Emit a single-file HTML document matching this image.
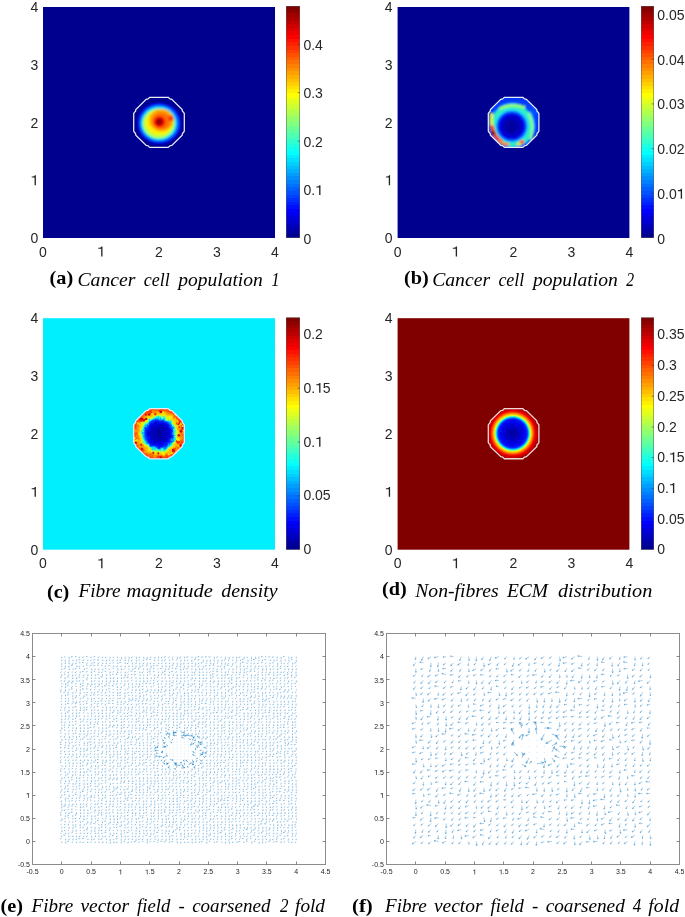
<!DOCTYPE html><html><head><meta charset="utf-8"><style>html,body{margin:0;padding:0;background:#fff;width:685px;height:917px;overflow:hidden}svg{display:block;will-change:transform}</style></head><body>
<svg width="685" height="917" viewBox="0 0 685 917">
<defs><filter id="bl12" x="-50%" y="-50%" width="200%" height="200%"><feGaussianBlur stdDeviation="1.2"/></filter><filter id="bl05" x="-50%" y="-50%" width="200%" height="200%"><feGaussianBlur stdDeviation="0.5"/></filter><filter id="bl08" x="-50%" y="-50%" width="200%" height="200%"><feGaussianBlur stdDeviation="0.8"/></filter><clipPath id="cpb"><polygon points="522.80,97.30 524.60,98.95 526.40,99.30 536.80,109.45 537.00,111.15 538.20,112.45 538.90,113.55 538.90,131.15 538.20,132.25 537.00,133.55 536.80,135.25 526.40,145.40 524.60,145.75 522.80,147.40 504.40,147.40 502.60,145.75 500.80,145.40 490.40,135.25 490.20,133.55 489.00,132.25 488.30,131.15 488.30,113.55 489.00,112.45 490.20,111.15 490.40,109.45 500.80,99.30 502.60,98.95 504.40,97.30"/></clipPath><radialGradient id="gc" gradientUnits="userSpaceOnUse" cx="159.0" cy="433.7" r="26">
<stop offset="0" stop-color="#00009a"/><stop offset="0.3" stop-color="#0000c0"/><stop offset="0.45" stop-color="#0008f0"/><stop offset="0.52" stop-color="#0030ff"/><stop offset="0.575" stop-color="#0090ff"/><stop offset="0.625" stop-color="#10f0f0"/><stop offset="0.67" stop-color="#a0ff60"/><stop offset="0.715" stop-color="#f0f000"/><stop offset="0.78" stop-color="#ffc000"/><stop offset="0.86" stop-color="#ff8800"/><stop offset="0.93" stop-color="#ff5000"/><stop offset="1" stop-color="#ff4000"/></radialGradient>
<filter id="nz" x="-20%" y="-20%" width="140%" height="140%"><feTurbulence type="fractalNoise" baseFrequency="0.22" numOctaves="2" seed="7" result="t"/><feDisplacementMap in="SourceGraphic" in2="t" scale="5" xChannelSelector="R" yChannelSelector="G"/></filter>
<clipPath id="cpc"><polygon points="168.20,408.65 170.00,410.30 171.80,410.65 182.20,420.80 182.40,422.50 183.60,423.80 184.30,424.90 184.30,442.50 183.60,443.60 182.40,444.90 182.20,446.60 171.80,456.75 170.00,457.10 168.20,458.75 149.80,458.75 148.00,457.10 146.20,456.75 135.80,446.60 135.60,444.90 134.40,443.60 133.70,442.50 133.70,424.90 134.40,423.80 135.60,422.50 135.80,420.80 146.20,410.65 148.00,410.30 149.80,408.65"/></clipPath><radialGradient id="gd" gradientUnits="userSpaceOnUse" cx="512.7" cy="433.3" r="26">
<stop offset="0" stop-color="#00009a"/><stop offset="0.15" stop-color="#0000b0"/><stop offset="0.35" stop-color="#0000d8"/><stop offset="0.5" stop-color="#0008f8"/><stop offset="0.565" stop-color="#0030ff"/><stop offset="0.595" stop-color="#0080ff"/><stop offset="0.625" stop-color="#00e0ff"/><stop offset="0.655" stop-color="#60ffa0"/><stop offset="0.685" stop-color="#d0ff30"/><stop offset="0.72" stop-color="#ffd000"/><stop offset="0.76" stop-color="#ff9000"/><stop offset="0.81" stop-color="#ff4000"/><stop offset="0.86" stop-color="#f00000"/><stop offset="0.92" stop-color="#c80000"/><stop offset="1" stop-color="#a00000"/></radialGradient>
<clipPath id="cpd"><polygon points="522.80,408.65 524.60,410.30 526.40,410.65 536.80,420.80 537.00,422.50 538.20,423.80 538.90,424.90 538.90,442.50 538.20,443.60 537.00,444.90 536.80,446.60 526.40,456.75 524.60,457.10 522.80,458.75 504.40,458.75 502.60,457.10 500.80,456.75 490.40,446.60 490.20,444.90 489.00,443.60 488.30,442.50 488.30,424.90 489.00,423.80 490.20,422.50 490.40,420.80 500.80,410.65 502.60,410.30 504.40,408.65"/></clipPath><linearGradient id="cb1" x1="0" y1="1" x2="0" y2="0"><stop offset="0.000%" stop-color="#00008f"/><stop offset="1.562%" stop-color="#00008f"/><stop offset="1.562%" stop-color="#00009f"/><stop offset="3.125%" stop-color="#00009f"/><stop offset="3.125%" stop-color="#0000af"/><stop offset="4.688%" stop-color="#0000af"/><stop offset="4.688%" stop-color="#0000bf"/><stop offset="6.250%" stop-color="#0000bf"/><stop offset="6.250%" stop-color="#0000cf"/><stop offset="7.812%" stop-color="#0000cf"/><stop offset="7.812%" stop-color="#0000df"/><stop offset="9.375%" stop-color="#0000df"/><stop offset="9.375%" stop-color="#0000ef"/><stop offset="10.938%" stop-color="#0000ef"/><stop offset="10.938%" stop-color="#0000ff"/><stop offset="12.500%" stop-color="#0000ff"/><stop offset="12.500%" stop-color="#0010ff"/><stop offset="14.062%" stop-color="#0010ff"/><stop offset="14.062%" stop-color="#0020ff"/><stop offset="15.625%" stop-color="#0020ff"/><stop offset="15.625%" stop-color="#0030ff"/><stop offset="17.188%" stop-color="#0030ff"/><stop offset="17.188%" stop-color="#0040ff"/><stop offset="18.750%" stop-color="#0040ff"/><stop offset="18.750%" stop-color="#0050ff"/><stop offset="20.312%" stop-color="#0050ff"/><stop offset="20.312%" stop-color="#0060ff"/><stop offset="21.875%" stop-color="#0060ff"/><stop offset="21.875%" stop-color="#0070ff"/><stop offset="23.438%" stop-color="#0070ff"/><stop offset="23.438%" stop-color="#0080ff"/><stop offset="25.000%" stop-color="#0080ff"/><stop offset="25.000%" stop-color="#008fff"/><stop offset="26.562%" stop-color="#008fff"/><stop offset="26.562%" stop-color="#009fff"/><stop offset="28.125%" stop-color="#009fff"/><stop offset="28.125%" stop-color="#00afff"/><stop offset="29.688%" stop-color="#00afff"/><stop offset="29.688%" stop-color="#00bfff"/><stop offset="31.250%" stop-color="#00bfff"/><stop offset="31.250%" stop-color="#00cfff"/><stop offset="32.812%" stop-color="#00cfff"/><stop offset="32.812%" stop-color="#00dfff"/><stop offset="34.375%" stop-color="#00dfff"/><stop offset="34.375%" stop-color="#00efff"/><stop offset="35.938%" stop-color="#00efff"/><stop offset="35.938%" stop-color="#00ffff"/><stop offset="37.500%" stop-color="#00ffff"/><stop offset="37.500%" stop-color="#10ffef"/><stop offset="39.062%" stop-color="#10ffef"/><stop offset="39.062%" stop-color="#20ffdf"/><stop offset="40.625%" stop-color="#20ffdf"/><stop offset="40.625%" stop-color="#30ffcf"/><stop offset="42.188%" stop-color="#30ffcf"/><stop offset="42.188%" stop-color="#40ffbf"/><stop offset="43.750%" stop-color="#40ffbf"/><stop offset="43.750%" stop-color="#50ffaf"/><stop offset="45.312%" stop-color="#50ffaf"/><stop offset="45.312%" stop-color="#60ff9f"/><stop offset="46.875%" stop-color="#60ff9f"/><stop offset="46.875%" stop-color="#70ff8f"/><stop offset="48.438%" stop-color="#70ff8f"/><stop offset="48.438%" stop-color="#80ff80"/><stop offset="50.000%" stop-color="#80ff80"/><stop offset="50.000%" stop-color="#8fff70"/><stop offset="51.562%" stop-color="#8fff70"/><stop offset="51.562%" stop-color="#9fff60"/><stop offset="53.125%" stop-color="#9fff60"/><stop offset="53.125%" stop-color="#afff50"/><stop offset="54.688%" stop-color="#afff50"/><stop offset="54.688%" stop-color="#bfff40"/><stop offset="56.250%" stop-color="#bfff40"/><stop offset="56.250%" stop-color="#cfff30"/><stop offset="57.812%" stop-color="#cfff30"/><stop offset="57.812%" stop-color="#dfff20"/><stop offset="59.375%" stop-color="#dfff20"/><stop offset="59.375%" stop-color="#efff10"/><stop offset="60.938%" stop-color="#efff10"/><stop offset="60.938%" stop-color="#ffff00"/><stop offset="62.500%" stop-color="#ffff00"/><stop offset="62.500%" stop-color="#ffef00"/><stop offset="64.062%" stop-color="#ffef00"/><stop offset="64.062%" stop-color="#ffdf00"/><stop offset="65.625%" stop-color="#ffdf00"/><stop offset="65.625%" stop-color="#ffcf00"/><stop offset="67.188%" stop-color="#ffcf00"/><stop offset="67.188%" stop-color="#ffbf00"/><stop offset="68.750%" stop-color="#ffbf00"/><stop offset="68.750%" stop-color="#ffaf00"/><stop offset="70.312%" stop-color="#ffaf00"/><stop offset="70.312%" stop-color="#ff9f00"/><stop offset="71.875%" stop-color="#ff9f00"/><stop offset="71.875%" stop-color="#ff8f00"/><stop offset="73.438%" stop-color="#ff8f00"/><stop offset="73.438%" stop-color="#ff8000"/><stop offset="75.000%" stop-color="#ff8000"/><stop offset="75.000%" stop-color="#ff7000"/><stop offset="76.562%" stop-color="#ff7000"/><stop offset="76.562%" stop-color="#ff6000"/><stop offset="78.125%" stop-color="#ff6000"/><stop offset="78.125%" stop-color="#ff5000"/><stop offset="79.688%" stop-color="#ff5000"/><stop offset="79.688%" stop-color="#ff4000"/><stop offset="81.250%" stop-color="#ff4000"/><stop offset="81.250%" stop-color="#ff3000"/><stop offset="82.812%" stop-color="#ff3000"/><stop offset="82.812%" stop-color="#ff2000"/><stop offset="84.375%" stop-color="#ff2000"/><stop offset="84.375%" stop-color="#ff1000"/><stop offset="85.938%" stop-color="#ff1000"/><stop offset="85.938%" stop-color="#ff0000"/><stop offset="87.500%" stop-color="#ff0000"/><stop offset="87.500%" stop-color="#ef0000"/><stop offset="89.062%" stop-color="#ef0000"/><stop offset="89.062%" stop-color="#df0000"/><stop offset="90.625%" stop-color="#df0000"/><stop offset="90.625%" stop-color="#cf0000"/><stop offset="92.188%" stop-color="#cf0000"/><stop offset="92.188%" stop-color="#bf0000"/><stop offset="93.750%" stop-color="#bf0000"/><stop offset="93.750%" stop-color="#af0000"/><stop offset="95.312%" stop-color="#af0000"/><stop offset="95.312%" stop-color="#9f0000"/><stop offset="96.875%" stop-color="#9f0000"/><stop offset="96.875%" stop-color="#8f0000"/><stop offset="98.438%" stop-color="#8f0000"/><stop offset="98.438%" stop-color="#800000"/><stop offset="100.000%" stop-color="#800000"/></linearGradient><linearGradient id="cb2" x1="0" y1="1" x2="0" y2="0"><stop offset="0.000%" stop-color="#00008f"/><stop offset="1.562%" stop-color="#00008f"/><stop offset="1.562%" stop-color="#00009f"/><stop offset="3.125%" stop-color="#00009f"/><stop offset="3.125%" stop-color="#0000af"/><stop offset="4.688%" stop-color="#0000af"/><stop offset="4.688%" stop-color="#0000bf"/><stop offset="6.250%" stop-color="#0000bf"/><stop offset="6.250%" stop-color="#0000cf"/><stop offset="7.812%" stop-color="#0000cf"/><stop offset="7.812%" stop-color="#0000df"/><stop offset="9.375%" stop-color="#0000df"/><stop offset="9.375%" stop-color="#0000ef"/><stop offset="10.938%" stop-color="#0000ef"/><stop offset="10.938%" stop-color="#0000ff"/><stop offset="12.500%" stop-color="#0000ff"/><stop offset="12.500%" stop-color="#0010ff"/><stop offset="14.062%" stop-color="#0010ff"/><stop offset="14.062%" stop-color="#0020ff"/><stop offset="15.625%" stop-color="#0020ff"/><stop offset="15.625%" stop-color="#0030ff"/><stop offset="17.188%" stop-color="#0030ff"/><stop offset="17.188%" stop-color="#0040ff"/><stop offset="18.750%" stop-color="#0040ff"/><stop offset="18.750%" stop-color="#0050ff"/><stop offset="20.312%" stop-color="#0050ff"/><stop offset="20.312%" stop-color="#0060ff"/><stop offset="21.875%" stop-color="#0060ff"/><stop offset="21.875%" stop-color="#0070ff"/><stop offset="23.438%" stop-color="#0070ff"/><stop offset="23.438%" stop-color="#0080ff"/><stop offset="25.000%" stop-color="#0080ff"/><stop offset="25.000%" stop-color="#008fff"/><stop offset="26.562%" stop-color="#008fff"/><stop offset="26.562%" stop-color="#009fff"/><stop offset="28.125%" stop-color="#009fff"/><stop offset="28.125%" stop-color="#00afff"/><stop offset="29.688%" stop-color="#00afff"/><stop offset="29.688%" stop-color="#00bfff"/><stop offset="31.250%" stop-color="#00bfff"/><stop offset="31.250%" stop-color="#00cfff"/><stop offset="32.812%" stop-color="#00cfff"/><stop offset="32.812%" stop-color="#00dfff"/><stop offset="34.375%" stop-color="#00dfff"/><stop offset="34.375%" stop-color="#00efff"/><stop offset="35.938%" stop-color="#00efff"/><stop offset="35.938%" stop-color="#00ffff"/><stop offset="37.500%" stop-color="#00ffff"/><stop offset="37.500%" stop-color="#10ffef"/><stop offset="39.062%" stop-color="#10ffef"/><stop offset="39.062%" stop-color="#20ffdf"/><stop offset="40.625%" stop-color="#20ffdf"/><stop offset="40.625%" stop-color="#30ffcf"/><stop offset="42.188%" stop-color="#30ffcf"/><stop offset="42.188%" stop-color="#40ffbf"/><stop offset="43.750%" stop-color="#40ffbf"/><stop offset="43.750%" stop-color="#50ffaf"/><stop offset="45.312%" stop-color="#50ffaf"/><stop offset="45.312%" stop-color="#60ff9f"/><stop offset="46.875%" stop-color="#60ff9f"/><stop offset="46.875%" stop-color="#70ff8f"/><stop offset="48.438%" stop-color="#70ff8f"/><stop offset="48.438%" stop-color="#80ff80"/><stop offset="50.000%" stop-color="#80ff80"/><stop offset="50.000%" stop-color="#8fff70"/><stop offset="51.562%" stop-color="#8fff70"/><stop offset="51.562%" stop-color="#9fff60"/><stop offset="53.125%" stop-color="#9fff60"/><stop offset="53.125%" stop-color="#afff50"/><stop offset="54.688%" stop-color="#afff50"/><stop offset="54.688%" stop-color="#bfff40"/><stop offset="56.250%" stop-color="#bfff40"/><stop offset="56.250%" stop-color="#cfff30"/><stop offset="57.812%" stop-color="#cfff30"/><stop offset="57.812%" stop-color="#dfff20"/><stop offset="59.375%" stop-color="#dfff20"/><stop offset="59.375%" stop-color="#efff10"/><stop offset="60.938%" stop-color="#efff10"/><stop offset="60.938%" stop-color="#ffff00"/><stop offset="62.500%" stop-color="#ffff00"/><stop offset="62.500%" stop-color="#ffef00"/><stop offset="64.062%" stop-color="#ffef00"/><stop offset="64.062%" stop-color="#ffdf00"/><stop offset="65.625%" stop-color="#ffdf00"/><stop offset="65.625%" stop-color="#ffcf00"/><stop offset="67.188%" stop-color="#ffcf00"/><stop offset="67.188%" stop-color="#ffbf00"/><stop offset="68.750%" stop-color="#ffbf00"/><stop offset="68.750%" stop-color="#ffaf00"/><stop offset="70.312%" stop-color="#ffaf00"/><stop offset="70.312%" stop-color="#ff9f00"/><stop offset="71.875%" stop-color="#ff9f00"/><stop offset="71.875%" stop-color="#ff8f00"/><stop offset="73.438%" stop-color="#ff8f00"/><stop offset="73.438%" stop-color="#ff8000"/><stop offset="75.000%" stop-color="#ff8000"/><stop offset="75.000%" stop-color="#ff7000"/><stop offset="76.562%" stop-color="#ff7000"/><stop offset="76.562%" stop-color="#ff6000"/><stop offset="78.125%" stop-color="#ff6000"/><stop offset="78.125%" stop-color="#ff5000"/><stop offset="79.688%" stop-color="#ff5000"/><stop offset="79.688%" stop-color="#ff4000"/><stop offset="81.250%" stop-color="#ff4000"/><stop offset="81.250%" stop-color="#ff3000"/><stop offset="82.812%" stop-color="#ff3000"/><stop offset="82.812%" stop-color="#ff2000"/><stop offset="84.375%" stop-color="#ff2000"/><stop offset="84.375%" stop-color="#ff1000"/><stop offset="85.938%" stop-color="#ff1000"/><stop offset="85.938%" stop-color="#ff0000"/><stop offset="87.500%" stop-color="#ff0000"/><stop offset="87.500%" stop-color="#ef0000"/><stop offset="89.062%" stop-color="#ef0000"/><stop offset="89.062%" stop-color="#df0000"/><stop offset="90.625%" stop-color="#df0000"/><stop offset="90.625%" stop-color="#cf0000"/><stop offset="92.188%" stop-color="#cf0000"/><stop offset="92.188%" stop-color="#bf0000"/><stop offset="93.750%" stop-color="#bf0000"/><stop offset="93.750%" stop-color="#af0000"/><stop offset="95.312%" stop-color="#af0000"/><stop offset="95.312%" stop-color="#9f0000"/><stop offset="96.875%" stop-color="#9f0000"/><stop offset="96.875%" stop-color="#8f0000"/><stop offset="98.438%" stop-color="#8f0000"/><stop offset="98.438%" stop-color="#800000"/><stop offset="100.000%" stop-color="#800000"/></linearGradient><linearGradient id="cb3" x1="0" y1="1" x2="0" y2="0"><stop offset="0.000%" stop-color="#00008f"/><stop offset="1.562%" stop-color="#00008f"/><stop offset="1.562%" stop-color="#00009f"/><stop offset="3.125%" stop-color="#00009f"/><stop offset="3.125%" stop-color="#0000af"/><stop offset="4.688%" stop-color="#0000af"/><stop offset="4.688%" stop-color="#0000bf"/><stop offset="6.250%" stop-color="#0000bf"/><stop offset="6.250%" stop-color="#0000cf"/><stop offset="7.812%" stop-color="#0000cf"/><stop offset="7.812%" stop-color="#0000df"/><stop offset="9.375%" stop-color="#0000df"/><stop offset="9.375%" stop-color="#0000ef"/><stop offset="10.938%" stop-color="#0000ef"/><stop offset="10.938%" stop-color="#0000ff"/><stop offset="12.500%" stop-color="#0000ff"/><stop offset="12.500%" stop-color="#0010ff"/><stop offset="14.062%" stop-color="#0010ff"/><stop offset="14.062%" stop-color="#0020ff"/><stop offset="15.625%" stop-color="#0020ff"/><stop offset="15.625%" stop-color="#0030ff"/><stop offset="17.188%" stop-color="#0030ff"/><stop offset="17.188%" stop-color="#0040ff"/><stop offset="18.750%" stop-color="#0040ff"/><stop offset="18.750%" stop-color="#0050ff"/><stop offset="20.312%" stop-color="#0050ff"/><stop offset="20.312%" stop-color="#0060ff"/><stop offset="21.875%" stop-color="#0060ff"/><stop offset="21.875%" stop-color="#0070ff"/><stop offset="23.438%" stop-color="#0070ff"/><stop offset="23.438%" stop-color="#0080ff"/><stop offset="25.000%" stop-color="#0080ff"/><stop offset="25.000%" stop-color="#008fff"/><stop offset="26.562%" stop-color="#008fff"/><stop offset="26.562%" stop-color="#009fff"/><stop offset="28.125%" stop-color="#009fff"/><stop offset="28.125%" stop-color="#00afff"/><stop offset="29.688%" stop-color="#00afff"/><stop offset="29.688%" stop-color="#00bfff"/><stop offset="31.250%" stop-color="#00bfff"/><stop offset="31.250%" stop-color="#00cfff"/><stop offset="32.812%" stop-color="#00cfff"/><stop offset="32.812%" stop-color="#00dfff"/><stop offset="34.375%" stop-color="#00dfff"/><stop offset="34.375%" stop-color="#00efff"/><stop offset="35.938%" stop-color="#00efff"/><stop offset="35.938%" stop-color="#00ffff"/><stop offset="37.500%" stop-color="#00ffff"/><stop offset="37.500%" stop-color="#10ffef"/><stop offset="39.062%" stop-color="#10ffef"/><stop offset="39.062%" stop-color="#20ffdf"/><stop offset="40.625%" stop-color="#20ffdf"/><stop offset="40.625%" stop-color="#30ffcf"/><stop offset="42.188%" stop-color="#30ffcf"/><stop offset="42.188%" stop-color="#40ffbf"/><stop offset="43.750%" stop-color="#40ffbf"/><stop offset="43.750%" stop-color="#50ffaf"/><stop offset="45.312%" stop-color="#50ffaf"/><stop offset="45.312%" stop-color="#60ff9f"/><stop offset="46.875%" stop-color="#60ff9f"/><stop offset="46.875%" stop-color="#70ff8f"/><stop offset="48.438%" stop-color="#70ff8f"/><stop offset="48.438%" stop-color="#80ff80"/><stop offset="50.000%" stop-color="#80ff80"/><stop offset="50.000%" stop-color="#8fff70"/><stop offset="51.562%" stop-color="#8fff70"/><stop offset="51.562%" stop-color="#9fff60"/><stop offset="53.125%" stop-color="#9fff60"/><stop offset="53.125%" stop-color="#afff50"/><stop offset="54.688%" stop-color="#afff50"/><stop offset="54.688%" stop-color="#bfff40"/><stop offset="56.250%" stop-color="#bfff40"/><stop offset="56.250%" stop-color="#cfff30"/><stop offset="57.812%" stop-color="#cfff30"/><stop offset="57.812%" stop-color="#dfff20"/><stop offset="59.375%" stop-color="#dfff20"/><stop offset="59.375%" stop-color="#efff10"/><stop offset="60.938%" stop-color="#efff10"/><stop offset="60.938%" stop-color="#ffff00"/><stop offset="62.500%" stop-color="#ffff00"/><stop offset="62.500%" stop-color="#ffef00"/><stop offset="64.062%" stop-color="#ffef00"/><stop offset="64.062%" stop-color="#ffdf00"/><stop offset="65.625%" stop-color="#ffdf00"/><stop offset="65.625%" stop-color="#ffcf00"/><stop offset="67.188%" stop-color="#ffcf00"/><stop offset="67.188%" stop-color="#ffbf00"/><stop offset="68.750%" stop-color="#ffbf00"/><stop offset="68.750%" stop-color="#ffaf00"/><stop offset="70.312%" stop-color="#ffaf00"/><stop offset="70.312%" stop-color="#ff9f00"/><stop offset="71.875%" stop-color="#ff9f00"/><stop offset="71.875%" stop-color="#ff8f00"/><stop offset="73.438%" stop-color="#ff8f00"/><stop offset="73.438%" stop-color="#ff8000"/><stop offset="75.000%" stop-color="#ff8000"/><stop offset="75.000%" stop-color="#ff7000"/><stop offset="76.562%" stop-color="#ff7000"/><stop offset="76.562%" stop-color="#ff6000"/><stop offset="78.125%" stop-color="#ff6000"/><stop offset="78.125%" stop-color="#ff5000"/><stop offset="79.688%" stop-color="#ff5000"/><stop offset="79.688%" stop-color="#ff4000"/><stop offset="81.250%" stop-color="#ff4000"/><stop offset="81.250%" stop-color="#ff3000"/><stop offset="82.812%" stop-color="#ff3000"/><stop offset="82.812%" stop-color="#ff2000"/><stop offset="84.375%" stop-color="#ff2000"/><stop offset="84.375%" stop-color="#ff1000"/><stop offset="85.938%" stop-color="#ff1000"/><stop offset="85.938%" stop-color="#ff0000"/><stop offset="87.500%" stop-color="#ff0000"/><stop offset="87.500%" stop-color="#ef0000"/><stop offset="89.062%" stop-color="#ef0000"/><stop offset="89.062%" stop-color="#df0000"/><stop offset="90.625%" stop-color="#df0000"/><stop offset="90.625%" stop-color="#cf0000"/><stop offset="92.188%" stop-color="#cf0000"/><stop offset="92.188%" stop-color="#bf0000"/><stop offset="93.750%" stop-color="#bf0000"/><stop offset="93.750%" stop-color="#af0000"/><stop offset="95.312%" stop-color="#af0000"/><stop offset="95.312%" stop-color="#9f0000"/><stop offset="96.875%" stop-color="#9f0000"/><stop offset="96.875%" stop-color="#8f0000"/><stop offset="98.438%" stop-color="#8f0000"/><stop offset="98.438%" stop-color="#800000"/><stop offset="100.000%" stop-color="#800000"/></linearGradient><linearGradient id="cb4" x1="0" y1="1" x2="0" y2="0"><stop offset="0.000%" stop-color="#00008f"/><stop offset="1.562%" stop-color="#00008f"/><stop offset="1.562%" stop-color="#00009f"/><stop offset="3.125%" stop-color="#00009f"/><stop offset="3.125%" stop-color="#0000af"/><stop offset="4.688%" stop-color="#0000af"/><stop offset="4.688%" stop-color="#0000bf"/><stop offset="6.250%" stop-color="#0000bf"/><stop offset="6.250%" stop-color="#0000cf"/><stop offset="7.812%" stop-color="#0000cf"/><stop offset="7.812%" stop-color="#0000df"/><stop offset="9.375%" stop-color="#0000df"/><stop offset="9.375%" stop-color="#0000ef"/><stop offset="10.938%" stop-color="#0000ef"/><stop offset="10.938%" stop-color="#0000ff"/><stop offset="12.500%" stop-color="#0000ff"/><stop offset="12.500%" stop-color="#0010ff"/><stop offset="14.062%" stop-color="#0010ff"/><stop offset="14.062%" stop-color="#0020ff"/><stop offset="15.625%" stop-color="#0020ff"/><stop offset="15.625%" stop-color="#0030ff"/><stop offset="17.188%" stop-color="#0030ff"/><stop offset="17.188%" stop-color="#0040ff"/><stop offset="18.750%" stop-color="#0040ff"/><stop offset="18.750%" stop-color="#0050ff"/><stop offset="20.312%" stop-color="#0050ff"/><stop offset="20.312%" stop-color="#0060ff"/><stop offset="21.875%" stop-color="#0060ff"/><stop offset="21.875%" stop-color="#0070ff"/><stop offset="23.438%" stop-color="#0070ff"/><stop offset="23.438%" stop-color="#0080ff"/><stop offset="25.000%" stop-color="#0080ff"/><stop offset="25.000%" stop-color="#008fff"/><stop offset="26.562%" stop-color="#008fff"/><stop offset="26.562%" stop-color="#009fff"/><stop offset="28.125%" stop-color="#009fff"/><stop offset="28.125%" stop-color="#00afff"/><stop offset="29.688%" stop-color="#00afff"/><stop offset="29.688%" stop-color="#00bfff"/><stop offset="31.250%" stop-color="#00bfff"/><stop offset="31.250%" stop-color="#00cfff"/><stop offset="32.812%" stop-color="#00cfff"/><stop offset="32.812%" stop-color="#00dfff"/><stop offset="34.375%" stop-color="#00dfff"/><stop offset="34.375%" stop-color="#00efff"/><stop offset="35.938%" stop-color="#00efff"/><stop offset="35.938%" stop-color="#00ffff"/><stop offset="37.500%" stop-color="#00ffff"/><stop offset="37.500%" stop-color="#10ffef"/><stop offset="39.062%" stop-color="#10ffef"/><stop offset="39.062%" stop-color="#20ffdf"/><stop offset="40.625%" stop-color="#20ffdf"/><stop offset="40.625%" stop-color="#30ffcf"/><stop offset="42.188%" stop-color="#30ffcf"/><stop offset="42.188%" stop-color="#40ffbf"/><stop offset="43.750%" stop-color="#40ffbf"/><stop offset="43.750%" stop-color="#50ffaf"/><stop offset="45.312%" stop-color="#50ffaf"/><stop offset="45.312%" stop-color="#60ff9f"/><stop offset="46.875%" stop-color="#60ff9f"/><stop offset="46.875%" stop-color="#70ff8f"/><stop offset="48.438%" stop-color="#70ff8f"/><stop offset="48.438%" stop-color="#80ff80"/><stop offset="50.000%" stop-color="#80ff80"/><stop offset="50.000%" stop-color="#8fff70"/><stop offset="51.562%" stop-color="#8fff70"/><stop offset="51.562%" stop-color="#9fff60"/><stop offset="53.125%" stop-color="#9fff60"/><stop offset="53.125%" stop-color="#afff50"/><stop offset="54.688%" stop-color="#afff50"/><stop offset="54.688%" stop-color="#bfff40"/><stop offset="56.250%" stop-color="#bfff40"/><stop offset="56.250%" stop-color="#cfff30"/><stop offset="57.812%" stop-color="#cfff30"/><stop offset="57.812%" stop-color="#dfff20"/><stop offset="59.375%" stop-color="#dfff20"/><stop offset="59.375%" stop-color="#efff10"/><stop offset="60.938%" stop-color="#efff10"/><stop offset="60.938%" stop-color="#ffff00"/><stop offset="62.500%" stop-color="#ffff00"/><stop offset="62.500%" stop-color="#ffef00"/><stop offset="64.062%" stop-color="#ffef00"/><stop offset="64.062%" stop-color="#ffdf00"/><stop offset="65.625%" stop-color="#ffdf00"/><stop offset="65.625%" stop-color="#ffcf00"/><stop offset="67.188%" stop-color="#ffcf00"/><stop offset="67.188%" stop-color="#ffbf00"/><stop offset="68.750%" stop-color="#ffbf00"/><stop offset="68.750%" stop-color="#ffaf00"/><stop offset="70.312%" stop-color="#ffaf00"/><stop offset="70.312%" stop-color="#ff9f00"/><stop offset="71.875%" stop-color="#ff9f00"/><stop offset="71.875%" stop-color="#ff8f00"/><stop offset="73.438%" stop-color="#ff8f00"/><stop offset="73.438%" stop-color="#ff8000"/><stop offset="75.000%" stop-color="#ff8000"/><stop offset="75.000%" stop-color="#ff7000"/><stop offset="76.562%" stop-color="#ff7000"/><stop offset="76.562%" stop-color="#ff6000"/><stop offset="78.125%" stop-color="#ff6000"/><stop offset="78.125%" stop-color="#ff5000"/><stop offset="79.688%" stop-color="#ff5000"/><stop offset="79.688%" stop-color="#ff4000"/><stop offset="81.250%" stop-color="#ff4000"/><stop offset="81.250%" stop-color="#ff3000"/><stop offset="82.812%" stop-color="#ff3000"/><stop offset="82.812%" stop-color="#ff2000"/><stop offset="84.375%" stop-color="#ff2000"/><stop offset="84.375%" stop-color="#ff1000"/><stop offset="85.938%" stop-color="#ff1000"/><stop offset="85.938%" stop-color="#ff0000"/><stop offset="87.500%" stop-color="#ff0000"/><stop offset="87.500%" stop-color="#ef0000"/><stop offset="89.062%" stop-color="#ef0000"/><stop offset="89.062%" stop-color="#df0000"/><stop offset="90.625%" stop-color="#df0000"/><stop offset="90.625%" stop-color="#cf0000"/><stop offset="92.188%" stop-color="#cf0000"/><stop offset="92.188%" stop-color="#bf0000"/><stop offset="93.750%" stop-color="#bf0000"/><stop offset="93.750%" stop-color="#af0000"/><stop offset="95.312%" stop-color="#af0000"/><stop offset="95.312%" stop-color="#9f0000"/><stop offset="96.875%" stop-color="#9f0000"/><stop offset="96.875%" stop-color="#8f0000"/><stop offset="98.438%" stop-color="#8f0000"/><stop offset="98.438%" stop-color="#800000"/><stop offset="100.000%" stop-color="#800000"/></linearGradient></defs>
<style>.lb{font-family:"Liberation Sans",sans-serif;font-size:14px;fill:#262626}.sm{font-family:"Liberation Sans",sans-serif;font-size:7px;fill:#262626}.cl{font-family:"Liberation Serif",serif;font-weight:bold;font-size:19.5px;fill:#000}.ct{font-family:"Liberation Serif",serif;font-style:italic;font-size:18px;fill:#000}</style>
<rect x="43.0" y="7" width="232.0" height="231.0" fill="#00008f"/>
<rect x="397.6" y="7" width="231.79999999999995" height="231.0" fill="#00008f"/>
<rect x="43.0" y="318.2" width="232.0" height="231.50000000000006" fill="#00efff"/>
<rect x="397.6" y="318.2" width="231.79999999999995" height="231.50000000000006" fill="#800000"/>
<g filter="url(#bl12)"><ellipse cx="159.20" cy="123.40" rx="22.0" ry="20.7" fill="#0000e8"/><ellipse cx="159.20" cy="123.40" rx="20.6" ry="19.3" fill="#0030ff"/><ellipse cx="159.10" cy="123.40" rx="19.1" ry="17.9" fill="#0080ff"/><ellipse cx="159.00" cy="123.30" rx="17.7" ry="16.6" fill="#00e0ff"/><ellipse cx="158.80" cy="123.50" rx="16.3" ry="15.3" fill="#80ff80"/><ellipse cx="158.60" cy="123.60" rx="15.0" ry="14.0" fill="#c8ff38"/><ellipse cx="159.60" cy="122.40" rx="13.4" ry="12.2" fill="#fff000"/><ellipse cx="161.40" cy="120.20" rx="12.2" ry="11.2" fill="#ffa800"/><ellipse cx="161.20" cy="120.80" rx="9.4" ry="8.6" fill="#ff7000"/><ellipse cx="159.60" cy="121.80" rx="6.0" ry="5.8" fill="#ff2000"/><ellipse cx="171.00" cy="118.20" rx="2.6" ry="2.8" fill="#ff3000"/><ellipse cx="159.30" cy="121.80" rx="4.3" ry="4.3" fill="#c40000"/><ellipse cx="159.30" cy="121.80" rx="2.0" ry="2.0" fill="#7a0000"/></g>
<polygon points="168.20,97.30 170.00,98.95 171.80,99.30 182.20,109.45 182.40,111.15 183.60,112.45 184.30,113.55 184.30,131.15 183.60,132.25 182.40,133.55 182.20,135.25 171.80,145.40 170.00,145.75 168.20,147.40 149.80,147.40 148.00,145.75 146.20,145.40 135.80,135.25 135.60,133.55 134.40,132.25 133.70,131.15 133.70,113.55 134.40,112.45 135.60,111.15 135.80,109.45 146.20,99.30 148.00,98.95 149.80,97.30" fill="none" stroke="#ececf8" stroke-width="1.25"/>
<g clip-path="url(#cpb)"><rect x="486.6" y="95.35" width="54" height="54" fill="#0038ff"/><g filter="url(#bl12)"><circle cx="512.50" cy="125.30" r="22.8"  fill="#10b0ff"/><circle cx="512.30" cy="125.50" r="21.2"  fill="#30f0c0"/><circle cx="512.00" cy="126.00" r="16.8"  fill="#20d8ff"/><circle cx="511.80" cy="126.20" r="15.3"  fill="#0060ff"/><circle cx="511.70" cy="126.30" r="13.8"  fill="#0010f0"/><circle cx="511.70" cy="126.40" r="11.2"  fill="#0000c8"/><circle cx="511.70" cy="126.60" r="7"  fill="#0000a0"/><circle cx="531.00" cy="105.50" r="6.5"  fill="#0040ff"/><circle cx="535.00" cy="111.00" r="4"  fill="#0050ff"/><path d="M500 108 Q512 103 524 107" transform="translate(0.00 0.00)" fill="none" stroke="#a0ff60" stroke-width="2.6" stroke-linecap="round" /><path d="M529 114 Q535 125 531 139" transform="translate(0.00 0.00)" fill="none" stroke="#90ff90" stroke-width="2.6" stroke-linecap="round" /><path d="M491.5 114 Q490.5 122 492 128" transform="translate(0.00 0.00)" fill="none" stroke="#e8f020" stroke-width="3.2" stroke-linecap="round" /><path d="M492 127 Q494 137 501 141.5" transform="translate(0.00 0.00)" fill="none" stroke="#ff2000" stroke-width="3.8" stroke-linecap="round" /><circle cx="493.20" cy="133.00" r="2.3"  fill="#900000"/><path d="M499 141 Q504 144.5 508 144.5" transform="translate(0.00 0.00)" fill="none" stroke="#ff8000" stroke-width="2.8" stroke-linecap="round" /><circle cx="522.00" cy="142.00" r="2.3"  fill="#ff5000"/><circle cx="519.00" cy="144.20" r="2.0"  fill="#f0e020"/></g></g>
<polygon points="522.80,97.30 524.60,98.95 526.40,99.30 536.80,109.45 537.00,111.15 538.20,112.45 538.90,113.55 538.90,131.15 538.20,132.25 537.00,133.55 536.80,135.25 526.40,145.40 524.60,145.75 522.80,147.40 504.40,147.40 502.60,145.75 500.80,145.40 490.40,135.25 490.20,133.55 489.00,132.25 488.30,131.15 488.30,113.55 489.00,112.45 490.20,111.15 490.40,109.45 500.80,99.30 502.60,98.95 504.40,97.30" fill="none" stroke="#ececf8" stroke-width="1.25"/>
<g clip-path="url(#cpc)"><rect x="129.0" y="403.7" width="60" height="60" fill="url(#gc)" filter="url(#nz)"/><g filter="url(#bl05)"><circle cx="137.2" cy="440.4" r="1.3" fill="#ffd000"/><circle cx="171.7" cy="417.4" r="1.3" fill="#ffe800"/><circle cx="143.4" cy="420.2" r="1.1" fill="#ffd000"/><circle cx="179.5" cy="446.8" r="1.4" fill="#ff9000"/><circle cx="140.9" cy="421.4" r="1.4" fill="#ffd000"/><circle cx="143.7" cy="420.1" r="1.6" fill="#e01000"/><circle cx="177.2" cy="441.3" r="1.4" fill="#ff3000"/><circle cx="162.8" cy="412.6" r="1.6" fill="#ffe800"/><circle cx="135.8" cy="430.9" r="0.9" fill="#ffd000"/><circle cx="179.2" cy="445.6" r="1.7" fill="#ffd000"/><circle cx="183.5" cy="433.0" r="1.1" fill="#ff9000"/><circle cx="160.1" cy="411.2" r="1.0" fill="#e01000"/><circle cx="161.2" cy="411.9" r="1.2" fill="#c80000"/><circle cx="182.7" cy="427.3" r="1.1" fill="#e01000"/><circle cx="176.8" cy="424.9" r="1.7" fill="#ffd000"/><circle cx="143.1" cy="445.7" r="1.1" fill="#ff9000"/><circle cx="149.2" cy="414.5" r="1.2" fill="#c80000"/><circle cx="182.4" cy="428.3" r="1.0" fill="#e01000"/><circle cx="153.8" cy="414.8" r="1.5" fill="#ffd000"/><circle cx="169.0" cy="454.2" r="1.3" fill="#ffd000"/><circle cx="183.0" cy="431.5" r="1.4" fill="#ffd000"/><circle cx="175.4" cy="448.4" r="0.9" fill="#ff3000"/><circle cx="175.7" cy="414.6" r="1.1" fill="#ffe800"/><circle cx="174.6" cy="420.0" r="1.7" fill="#ffd000"/><circle cx="140.6" cy="420.0" r="1.7" fill="#e01000"/><circle cx="163.8" cy="454.2" r="1.2" fill="#ffe800"/><circle cx="153.3" cy="452.8" r="1.1" fill="#e01000"/><circle cx="146.2" cy="418.9" r="1.2" fill="#c80000"/><circle cx="134.8" cy="441.0" r="1.6" fill="#ffd000"/><circle cx="173.4" cy="450.1" r="1.0" fill="#ff9000"/><circle cx="179.5" cy="420.4" r="1.5" fill="#ff3000"/><circle cx="171.7" cy="453.2" r="1.1" fill="#ffe800"/><circle cx="182.6" cy="426.1" r="1.0" fill="#ffe800"/><circle cx="178.3" cy="439.6" r="1.7" fill="#ffe800"/><circle cx="160.7" cy="457.4" r="1.2" fill="#c80000"/><circle cx="177.6" cy="421.1" r="1.0" fill="#ffe800"/><circle cx="155.3" cy="414.1" r="1.3" fill="#ff3000"/><circle cx="145.8" cy="414.6" r="1.1" fill="#e01000"/><circle cx="177.0" cy="423.4" r="1.0" fill="#e01000"/><circle cx="141.2" cy="444.8" r="1.0" fill="#e01000"/><circle cx="143.4" cy="450.5" r="1.0" fill="#ff3000"/><circle cx="173.3" cy="450.7" r="1.4" fill="#c80000"/><circle cx="150.7" cy="412.2" r="1.4" fill="#ff3000"/><circle cx="178.8" cy="423.4" r="1.5" fill="#c80000"/><circle cx="178.1" cy="429.2" r="1.0" fill="#ff9000"/><circle cx="178.5" cy="442.5" r="1.7" fill="#ff3000"/><circle cx="179.3" cy="444.1" r="0.9" fill="#ff9000"/><circle cx="181.0" cy="424.4" r="1.5" fill="#ff3000"/><circle cx="177.6" cy="422.7" r="1.3" fill="#ff9000"/><circle cx="180.8" cy="445.3" r="1.6" fill="#e01000"/><circle cx="138.1" cy="423.4" r="1.2" fill="#ffd000"/><circle cx="178.9" cy="435.3" r="1.4" fill="#e01000"/><circle cx="183.8" cy="432.7" r="1.2" fill="#ff9000"/><circle cx="180.7" cy="424.2" r="1.3" fill="#ffd000"/><circle cx="169.5" cy="416.7" r="0.9" fill="#ffe800"/><circle cx="141.0" cy="420.4" r="1.7" fill="#ff3000"/><circle cx="177.3" cy="449.4" r="1.6" fill="#ff9000"/><circle cx="158.3" cy="453.3" r="1.0" fill="#c80000"/><circle cx="141.7" cy="419.1" r="1.4" fill="#c80000"/><circle cx="135.8" cy="442.6" r="1.2" fill="#c80000"/><circle cx="158.9" cy="457.0" r="1.6" fill="#ff3000"/><circle cx="141.8" cy="449.0" r="1.1" fill="#c80000"/><circle cx="173.3" cy="449.9" r="1.5" fill="#e01000"/><circle cx="179.1" cy="427.2" r="1.0" fill="#ff3000"/><circle cx="134.4" cy="438.2" r="1.2" fill="#ffd000"/><circle cx="135.7" cy="430.8" r="1.6" fill="#ff9000"/><circle cx="181.1" cy="431.2" r="1.6" fill="#e01000"/><circle cx="154.9" cy="456.5" r="1.5" fill="#ff9000"/><circle cx="139.7" cy="424.5" r="0.9" fill="#ffe800"/><circle cx="173.6" cy="450.5" r="1.5" fill="#e01000"/></g></g>
<polygon points="168.20,408.65 170.00,410.30 171.80,410.65 182.20,420.80 182.40,422.50 183.60,423.80 184.30,424.90 184.30,442.50 183.60,443.60 182.40,444.90 182.20,446.60 171.80,456.75 170.00,457.10 168.20,458.75 149.80,458.75 148.00,457.10 146.20,456.75 135.80,446.60 135.60,444.90 134.40,443.60 133.70,442.50 133.70,424.90 134.40,423.80 135.60,422.50 135.80,420.80 146.20,410.65 148.00,410.30 149.80,408.65" fill="none" stroke="#ececf8" stroke-width="1.25"/>
<g clip-path="url(#cpd)"><rect x="486.6" y="406.7" width="54" height="54" fill="url(#gd)"/></g>
<polygon points="522.80,408.65 524.60,410.30 526.40,410.65 536.80,420.80 537.00,422.50 538.20,423.80 538.90,424.90 538.90,442.50 538.20,443.60 537.00,444.90 536.80,446.60 526.40,456.75 524.60,457.10 522.80,458.75 504.40,458.75 502.60,457.10 500.80,456.75 490.40,446.60 490.20,444.90 489.00,443.60 488.30,442.50 488.30,424.90 489.00,423.80 490.20,422.50 490.40,420.80 500.80,410.65 502.60,410.30 504.40,408.65" fill="none" stroke="#fff" stroke-width="1.3" stroke-opacity="0.85"/>
<text x="30.51" y="243.00" class="lb">0</text>
<text x="39.11" y="256.50" class="lb">0</text>
<path d="M.29 0H.385V.709H.31C.295 .645 .225 .622 .085 .618V.548H.29Z" transform="translate(30.51 185.25) scale(14 -14)" fill="#262626"/>
<path d="M.29 0H.385V.709H.31C.295 .645 .225 .622 .085 .618V.548H.29Z" transform="translate(97.11 256.50) scale(14 -14)" fill="#262626"/>
<text x="30.51" y="127.50" class="lb">2</text>
<text x="155.11" y="256.50" class="lb">2</text>
<text x="30.51" y="69.75" class="lb">3</text>
<text x="213.11" y="256.50" class="lb">3</text>
<text x="30.51" y="12.00" class="lb">4</text>
<text x="271.11" y="256.50" class="lb">4</text>
<text x="384.71" y="243.00" class="lb">0</text>
<text x="393.71" y="256.50" class="lb">0</text>
<path d="M.29 0H.385V.709H.31C.295 .645 .225 .622 .085 .618V.548H.29Z" transform="translate(384.71 185.25) scale(14 -14)" fill="#262626"/>
<path d="M.29 0H.385V.709H.31C.295 .645 .225 .622 .085 .618V.548H.29Z" transform="translate(451.66 256.50) scale(14 -14)" fill="#262626"/>
<text x="384.71" y="127.50" class="lb">2</text>
<text x="509.61" y="256.50" class="lb">2</text>
<text x="384.71" y="69.75" class="lb">3</text>
<text x="567.56" y="256.50" class="lb">3</text>
<text x="384.71" y="12.00" class="lb">4</text>
<text x="625.51" y="256.50" class="lb">4</text>
<text x="30.51" y="554.70" class="lb">0</text>
<text x="39.11" y="568.20" class="lb">0</text>
<path d="M.29 0H.385V.709H.31C.295 .645 .225 .622 .085 .618V.548H.29Z" transform="translate(30.51 496.83) scale(14 -14)" fill="#262626"/>
<path d="M.29 0H.385V.709H.31C.295 .645 .225 .622 .085 .618V.548H.29Z" transform="translate(97.11 568.20) scale(14 -14)" fill="#262626"/>
<text x="30.51" y="438.95" class="lb">2</text>
<text x="155.11" y="568.20" class="lb">2</text>
<text x="30.51" y="381.07" class="lb">3</text>
<text x="213.11" y="568.20" class="lb">3</text>
<text x="30.51" y="323.20" class="lb">4</text>
<text x="271.11" y="568.20" class="lb">4</text>
<text x="384.71" y="554.70" class="lb">0</text>
<text x="393.71" y="568.20" class="lb">0</text>
<path d="M.29 0H.385V.709H.31C.295 .645 .225 .622 .085 .618V.548H.29Z" transform="translate(384.71 496.83) scale(14 -14)" fill="#262626"/>
<path d="M.29 0H.385V.709H.31C.295 .645 .225 .622 .085 .618V.548H.29Z" transform="translate(451.66 568.20) scale(14 -14)" fill="#262626"/>
<text x="384.71" y="438.95" class="lb">2</text>
<text x="509.61" y="568.20" class="lb">2</text>
<text x="384.71" y="381.07" class="lb">3</text>
<text x="567.56" y="568.20" class="lb">3</text>
<text x="384.71" y="323.20" class="lb">4</text>
<text x="625.51" y="568.20" class="lb">4</text>
<rect x="286" y="6" width="14" height="232.0" fill="url(#cb1)"/>
<rect x="286.25" y="6.25" width="13.5" height="231.5" fill="none" stroke="#5a5a5a" stroke-width="0.5"/>
<text x="303.40" y="243.50" class="lb">0</text>
<line x1="297.8" y1="189.57" x2="299.7" y2="189.57" stroke="#333" stroke-width="0.6"/>
<text x="303.40 311.19" y="195.07" class="lb">0.</text><path d="M.29 0H.385V.709H.31C.295 .645 .225 .622 .085 .618V.548H.29Z" transform="translate(315.08 195.07) scale(14 -14)" fill="#262626"/>
<line x1="297.8" y1="141.13" x2="299.7" y2="141.13" stroke="#333" stroke-width="0.6"/>
<text x="303.40 311.19 315.08" y="146.63" class="lb">0.2</text>
<line x1="297.8" y1="92.70" x2="299.7" y2="92.70" stroke="#333" stroke-width="0.6"/>
<text x="303.40 311.19 315.08" y="98.20" class="lb">0.3</text>
<line x1="297.8" y1="44.26" x2="299.7" y2="44.26" stroke="#333" stroke-width="0.6"/>
<text x="303.40 311.19 315.08" y="49.76" class="lb">0.4</text>
<rect x="641" y="6" width="13" height="232.0" fill="url(#cb2)"/>
<rect x="641.25" y="6.25" width="12.5" height="231.5" fill="none" stroke="#5a5a5a" stroke-width="0.5"/>
<text x="657.20" y="243.50" class="lb">0</text>
<line x1="651.8" y1="193.30" x2="653.7" y2="193.30" stroke="#333" stroke-width="0.6"/>
<text x="657.20 664.99 668.88" y="198.80" class="lb">0.0</text><path d="M.29 0H.385V.709H.31C.295 .645 .225 .622 .085 .618V.548H.29Z" transform="translate(676.66 198.80) scale(14 -14)" fill="#262626"/>
<line x1="651.8" y1="148.60" x2="653.7" y2="148.60" stroke="#333" stroke-width="0.6"/>
<text x="657.20 664.99 668.88 676.66" y="154.10" class="lb">0.02</text>
<line x1="651.8" y1="103.90" x2="653.7" y2="103.90" stroke="#333" stroke-width="0.6"/>
<text x="657.20 664.99 668.88 676.66" y="109.40" class="lb">0.03</text>
<line x1="651.8" y1="59.19" x2="653.7" y2="59.19" stroke="#333" stroke-width="0.6"/>
<text x="657.20 664.99 668.88 676.66" y="64.69" class="lb">0.04</text>
<line x1="651.8" y1="14.49" x2="653.7" y2="14.49" stroke="#333" stroke-width="0.6"/>
<text x="657.20 664.99 668.88 676.66" y="19.99" class="lb">0.05</text>
<rect x="286" y="317.6" width="14" height="232.10000000000002" fill="url(#cb3)"/>
<rect x="286.25" y="317.85" width="13.5" height="231.60000000000002" fill="none" stroke="#5a5a5a" stroke-width="0.5"/>
<text x="303.40" y="554.30" class="lb">0</text>
<line x1="297.8" y1="495.87" x2="299.7" y2="495.87" stroke="#333" stroke-width="0.6"/>
<text x="303.40 311.19 315.08 322.86" y="500.47" class="lb">0.05</text>
<line x1="297.8" y1="442.05" x2="299.7" y2="442.05" stroke="#333" stroke-width="0.6"/>
<text x="303.40 311.19" y="446.65" class="lb">0.</text><path d="M.29 0H.385V.709H.31C.295 .645 .225 .622 .085 .618V.548H.29Z" transform="translate(315.08 446.65) scale(14 -14)" fill="#262626"/>
<line x1="297.8" y1="388.22" x2="299.7" y2="388.22" stroke="#333" stroke-width="0.6"/>
<text x="303.40 311.19 322.86" y="392.82" class="lb">0.5</text><path d="M.29 0H.385V.709H.31C.295 .645 .225 .622 .085 .618V.548H.29Z" transform="translate(315.08 392.82) scale(14 -14)" fill="#262626"/>
<line x1="297.8" y1="334.39" x2="299.7" y2="334.39" stroke="#333" stroke-width="0.6"/>
<text x="303.40 311.19 315.08" y="338.99" class="lb">0.2</text>
<rect x="641" y="317.6" width="13" height="232.10000000000002" fill="url(#cb4)"/>
<rect x="641.25" y="317.85" width="12.5" height="231.60000000000002" fill="none" stroke="#5a5a5a" stroke-width="0.5"/>
<text x="657.20" y="554.30" class="lb">0</text>
<line x1="651.8" y1="519.00" x2="653.7" y2="519.00" stroke="#333" stroke-width="0.6"/>
<text x="657.20 664.99 668.88 676.66" y="523.60" class="lb">0.05</text>
<line x1="651.8" y1="488.30" x2="653.7" y2="488.30" stroke="#333" stroke-width="0.6"/>
<text x="657.20 664.99" y="492.90" class="lb">0.</text><path d="M.29 0H.385V.709H.31C.295 .645 .225 .622 .085 .618V.548H.29Z" transform="translate(668.88 492.90) scale(14 -14)" fill="#262626"/>
<line x1="651.8" y1="457.60" x2="653.7" y2="457.60" stroke="#333" stroke-width="0.6"/>
<text x="657.20 664.99 676.66" y="462.20" class="lb">0.5</text><path d="M.29 0H.385V.709H.31C.295 .645 .225 .622 .085 .618V.548H.29Z" transform="translate(668.88 462.20) scale(14 -14)" fill="#262626"/>
<line x1="651.8" y1="426.90" x2="653.7" y2="426.90" stroke="#333" stroke-width="0.6"/>
<text x="657.20 664.99 668.88" y="431.50" class="lb">0.2</text>
<line x1="651.8" y1="396.19" x2="653.7" y2="396.19" stroke="#333" stroke-width="0.6"/>
<text x="657.20 664.99 668.88 676.66" y="400.79" class="lb">0.25</text>
<line x1="651.8" y1="365.49" x2="653.7" y2="365.49" stroke="#333" stroke-width="0.6"/>
<text x="657.20 664.99 668.88" y="370.09" class="lb">0.3</text>
<line x1="651.8" y1="334.79" x2="653.7" y2="334.79" stroke="#333" stroke-width="0.6"/>
<text x="657.20 664.99 668.88 676.66" y="339.39" class="lb">0.35</text>
<rect x="32.5" y="633.5" width="293.0" height="231.0" fill="none" stroke="#8c8c8c" stroke-width="1"/>
<text x="26.47 28.80 32.69 34.64" y="874.40" class="sm">-0.5</text>
<text x="17.84 20.17 24.06 26.01" y="867.30" class="sm">-0.5</text>
<text x="59.85" y="874.40" class="sm">0</text>
<text x="26.01" y="844.20" class="sm">0</text>
<text x="86.23 90.13 92.07" y="874.40" class="sm">0.5</text>
<text x="20.17 24.06 26.01" y="821.10" class="sm">0.5</text>
<path d="M.29 0H.385V.709H.31C.295 .645 .225 .622 .085 .618V.548H.29Z" transform="translate(118.45 874.40) scale(7 -7)" fill="#262626"/>
<path d="M.29 0H.385V.709H.31C.295 .645 .225 .622 .085 .618V.548H.29Z" transform="translate(26.01 798.00) scale(7 -7)" fill="#262626"/>
<text x="148.73 150.67" y="874.40" class="sm">.5</text><path d="M.29 0H.385V.709H.31C.295 .645 .225 .622 .085 .618V.548H.29Z" transform="translate(144.83 874.40) scale(7 -7)" fill="#262626"/>
<text x="24.06 26.01" y="774.90" class="sm">.5</text><path d="M.29 0H.385V.709H.31C.295 .645 .225 .622 .085 .618V.548H.29Z" transform="translate(20.17 774.90) scale(7 -7)" fill="#262626"/>
<text x="177.05" y="874.40" class="sm">2</text>
<text x="26.01" y="751.80" class="sm">2</text>
<text x="203.43 207.33 209.27" y="874.40" class="sm">2.5</text>
<text x="20.17 24.06 26.01" y="728.70" class="sm">2.5</text>
<text x="235.65" y="874.40" class="sm">3</text>
<text x="26.01" y="705.60" class="sm">3</text>
<text x="262.03 265.93 267.87" y="874.40" class="sm">3.5</text>
<text x="20.17 24.06 26.01" y="682.50" class="sm">3.5</text>
<text x="294.25" y="874.40" class="sm">4</text>
<text x="26.01" y="659.40" class="sm">4</text>
<text x="320.63 324.53 326.47" y="874.40" class="sm">4.5</text>
<text x="20.17 24.06 26.01" y="636.30" class="sm">4.5</text>
<path d="M61.5 864.5v-3M61.5 633.5v3M32.5 841.5h3M325.5 841.5h-3M91.5 864.5v-3M91.5 633.5v3M32.5 818.5h3M325.5 818.5h-3M120.5 864.5v-3M120.5 633.5v3M32.5 795.5h3M325.5 795.5h-3M149.5 864.5v-3M149.5 633.5v3M32.5 772.5h3M325.5 772.5h-3M179.5 864.5v-3M179.5 633.5v3M32.5 749.5h3M325.5 749.5h-3M208.5 864.5v-3M208.5 633.5v3M32.5 725.5h3M325.5 725.5h-3M237.5 864.5v-3M237.5 633.5v3M32.5 702.5h3M325.5 702.5h-3M266.5 864.5v-3M266.5 633.5v3M32.5 679.5h3M325.5 679.5h-3M296.5 864.5v-3M296.5 633.5v3M32.5 656.5h3M325.5 656.5h-3" stroke="#6a6a6a" stroke-width="0.8" fill="none"/>
<path d="M166.0 750.5l0 0.8M166.0 747.5l0 0.8M169.7 756.3l0 0.8M169.7 753.4l0 0.8M169.7 750.5l0 0.8M169.7 747.5l0 0.8M169.7 744.6l0 0.8M173.4 759.3l0 0.8M173.4 756.3l0 0.8M173.4 753.4l0 0.8M173.4 750.5l0 0.8M173.4 747.5l0 0.8M173.4 744.6l0 0.8M173.4 741.7l0 0.8M177.1 759.3l0 0.8M177.1 756.3l0 0.8M177.1 753.4l0 0.8M177.1 750.5l0 0.8M177.1 747.5l0 0.8M177.1 744.6l0 0.8M177.1 741.7l0 0.8M177.1 738.7l0 0.8M180.9 762.2l0 0.8M180.9 759.3l0 0.8M180.9 756.3l0 0.8M180.9 753.4l0 0.8M180.9 750.5l0 0.8M180.9 747.5l0 0.8M180.9 744.6l0 0.8M180.9 741.7l0 0.8M180.9 738.7l0 0.8M184.6 759.3l0 0.8M184.6 756.3l0 0.8M184.6 753.4l0 0.8M184.6 750.5l0 0.8M184.6 747.5l0 0.8M184.6 744.6l0 0.8M184.6 741.7l0 0.8M188.3 759.3l0 0.8M188.3 756.3l0 0.8M188.3 753.4l0 0.8M188.3 750.5l0 0.8M188.3 747.5l0 0.8M188.3 744.6l0 0.8M188.3 741.7l0 0.8M192.0 756.3l0 0.8M192.0 753.4l0 0.8M192.0 750.5l0 0.8M192.0 747.5l0 0.8M192.0 744.6l0 0.8M195.7 750.5l0 0.8" stroke="#0072bd" stroke-width="0.5" fill="none" stroke-opacity="0.4"/>
<path d="M61.8 841.4l-.1 1.4m-.2 -.5l.2 .5 .3 -.4M61.8 838.5l-1.6 .5m.4 -.4l-.4 .4 .6 .1M61.8 835.5l-.3 1.5m-.2 -.6l.2 .6 .3 -.5M61.8 832.6l-.9 .9m.2 -.5l-.2 .5 .5 -.1M61.8 829.7l.1 1.9m-.4 -.6l.4 .6 .3 -.7M61.8 826.7l.1 1.5m-.3 -.5l.3 .5 .2 -.5M61.8 823.8l-1.1 .8m.3 -.4l-.3 .4 .5 -.1M61.8 820.9l-1.3 -.3m.5 -.1l-.5 .1 .4 .3M61.8 817.9l.4 1.9m-.4 -.6l.4 .6 .2 -.7M61.8 815l-1.8 -.2m.7 -.2l-.7 .2 .6 .4M61.8 812.1l-1.5 .6m.4 -.4l-.4 .4 .6 0M61.8 809.1l.2 1.5m-.3 -.5l.3 .5 .2 -.6M61.8 806.2l-.1 2m-.3 -.7l.3 .7 .4 -.7M61.8 803.3l-.2 2m-.2 -.7l.2 .7 .4 -.6M61.8 800.3l-.8 1.9m0 -.8l0 .8 .6 -.5M61.8 797.4l-1.5 .3m.5 -.3l-.5 .3 .6 .2M61.8 794.5l-.1 1.6m-.2 -.6l.2 .6 .3 -.5M61.8 791.5l-1.5 .8m.4 -.5l-.4 .5 .7 0M61.8 788.6l0 1.7m-.3 -.6l.3 .6 .3 -.6M61.8 785.7l-1.3 1.3m.3 -.7l-.3 .7 .7 -.2M61.8 782.7l-1.4 .2m.4 -.3l-.4 .3 .5 .2M61.8 779.8l-1.5 1.1m.3 -.6l-.3 .6 .7 -.1M61.8 776.9l.2 1.8m-.4 -.6l.4 .6 .2 -.6M61.8 773.9l-1.2 1.1m.2 -.6l-.2 .6 .6 -.2M61.8 771l-1.8 .3m.6 -.4l-.6 .4 .7 .2M61.8 768.1l-1.2 1.4m.2 -.7l-.2 .7 .6 -.3M61.8 765.1l.3 1.4m-.3 -.4l.3 .4 .1 -.5M61.8 762.2l-1.8 .3m.6 -.4l-.6 .4 .7 .2M61.8 759.3l-1.2 1.2m.2 -.6l-.2 .6 .6 -.2M61.8 756.3l-1.4 1.4m.3 -.7l-.3 .7 .7 -.2M61.8 753.4l-1.5 .1m.5 -.3l-.5 .3 .5 .2M61.8 750.5l-1.1 1.4m.2 -.7l-.2 .7 .6 -.3M61.8 747.5l-1.9 .2m.6 -.4l-.6 .4 .7 .2M61.8 744.6l-1.7 -.2m.6 -.2l-.6 .2 .5 .3M61.8 741.7l-1.8 1m.4 -.6l-.4 .6 .8 0M61.8 738.7l.3 1.7m-.4 -.5l.4 .5 .2 -.6M61.8 735.8l-1.2 1.1m.2 -.6l-.2 .6 .6 -.2M61.8 732.9l-1.3 .1m.4 -.2l-.4 .2 .4 .2M61.8 729.9l-1.6 .7m.4 -.5l-.4 .5 .7 0M61.8 727l0 1.9m-.3 -.6l.3 .6 .3 -.7M61.8 724.1l.2 1.4m-.3 -.5l.3 .5 .2 -.5M61.8 721.1l-.8 1.7m0 -.7l0 .7 .6 -.4M61.8 718.2l-.3 2m-.2 -.7l.2 .7 .4 -.6M61.8 715.3l.1 1.3m-.3 -.4l.3 .4 .2 -.5M61.8 712.3l-.6 1.4m0 -.6l0 .6 .4 -.4M61.8 709.4l-1.3 1.1m.3 -.6l-.3 .6 .6 -.2M61.8 706.5l-.3 1.4m-.1 -.5l.1 .5 .3 -.4M61.8 703.5l-.3 1.4m-.1 -.5l.1 .5 .3 -.4M61.8 700.6l-1.1 1.1m.2 -.5l-.2 .5 .5 -.2M61.8 697.7l-.4 1.3m-.1 -.5l.1 .5 .4 -.4M61.8 694.7l-.2 1.6m-.2 -.6l.2 .6 .3 -.5M61.8 691.8l-1.4 .3m.4 -.3l-.4 .3 .5 .1M61.8 688.9l-1.2 1.6m.2 -.7l-.2 .7 .7 -.3M61.8 685.9l-.1 1.3m-.2 -.5l.2 .5 .2 -.4M61.8 683l0 1.3m-.2 -.5l.2 .5 .2 -.4M61.8 680.1l-1.2 1.2m.2 -.6l-.2 .6 .6 -.2M61.8 677.1l-1.4 0m.5 -.2l-.5 .2 .5 .2M61.8 674.2l-.1 1.7m-.3 -.6l.3 .6 .3 -.6M61.8 671.3l-1.1 1.3m.2 -.6l-.2 .6 .6 -.3M61.8 668.3l-.6 1.5m0 -.6l0 .6 .5 -.4M61.8 665.4l-.1 1.4m-.2 -.5l.2 .5 .3 -.5M61.8 662.5l-.2 1.9m-.3 -.7l.3 .7 .4 -.6M61.8 659.5l-.1 1.5m-.2 -.5l.2 .5 .3 -.5M61.8 656.6l0 1.5m-.3 -.5l.3 .5 .2 -.5M65.5 841.4l.4 1.9m-.4 -.6l.4 .6 .2 -.7M65.5 838.5l.2 1.7m-.4 -.5l.4 .5 .2 -.6M65.5 835.5l-1.9 -.4m.7 -.2l-.7 .2 .6 .4M65.5 832.6l-.2 1.4m-.2 -.5l.2 .5 .3 -.5M65.5 829.7l-1.2 1.3m.2 -.7l-.2 .7 .6 -.2M65.5 826.7l-1.3 1.1m.3 -.6l-.3 .6 .6 -.2M65.5 823.8l-1.1 1.2m.2 -.6l-.2 .6 .6 -.2M65.5 820.9l-.7 1.4m0 -.6l0 .6 .5 -.4M65.5 817.9l-.9 1.1m.1 -.5l-.1 .5 .5 -.2M65.5 815l-.1 1.7m-.2 -.6l.2 .6 .3 -.6M65.5 812.1l.2 1.4m-.3 -.5l.3 .5 .2 -.5M65.5 809.1l-1.2 1.6m.1 -.7l-.1 .7 .7 -.4M65.5 806.2l-1.9 0m.7 -.3l-.7 .3 .7 .3M65.5 803.3l-.4 2m-.2 -.7l.2 .7 .5 -.6M65.5 800.3l-.2 1.3m-.2 -.5l.2 .5 .3 -.4M65.5 797.4l-.2 2m-.3 -.7l.3 .7 .4 -.6M65.5 794.5l-1.5 .2m.5 -.3l-.5 .3 .6 .2M65.5 791.5l-1.3 .9m.3 -.5l-.3 .5 .6 -.1M65.5 788.6l-1.4 .3m.4 -.3l-.4 .3 .5 .1M65.5 785.7l-.1 1.7m-.2 -.6l.2 .6 .3 -.6M65.5 782.7l-.9 1.3m.1 -.6l-.1 .6 .5 -.3M65.5 779.8l-.1 1.9m-.3 -.7l.3 .7 .4 -.6M65.5 776.9l-1.4 1m.3 -.6l-.3 .6 .7 -.1M65.5 773.9l.3 1.7m-.4 -.5l.4 .5 .2 -.6M65.5 771l-.4 1.5m-.1 -.6l.1 .6 .4 -.5M65.5 768.1l-1.7 1m.4 -.6l-.4 .6 .8 0M65.5 765.1l.2 1.3m-.3 -.4l.3 .4 .2 -.5M65.5 762.2l-.2 1.3m-.1 -.5l.1 .5 .3 -.4M65.5 759.3l-.2 1.4m-.2 -.5l.2 .5 .3 -.4M65.5 756.3l-1.5 1.1m.3 -.6l-.3 .6 .7 -.1M65.5 753.4l-.2 1.6m-.2 -.6l.2 .6 .3 -.5M65.5 750.5l-1.1 1.6m.1 -.7l-.1 .7 .6 -.3M65.5 747.5l-1.5 .3m.5 -.3l-.5 .3 .6 .2M65.5 744.6l-.3 1.5m-.2 -.5l.2 .5 .3 -.5M65.5 741.7l.1 1.5m-.3 -.5l.3 .5 .2 -.5M65.5 738.7l.1 1.3m-.3 -.4l.3 .4 .2 -.5M65.5 735.8l-1.4 1.4m.3 -.7l-.3 .7 .7 -.2M65.5 732.9l-.3 1.5m-.2 -.6l.2 .6 .3 -.5M65.5 729.9l-1.5 .3m.5 -.3l-.5 .3 .6 .1M65.5 727l-1.4 .2m.5 -.3l-.5 .3 .5 .2M65.5 724.1l-1.3 1m.3 -.6l-.3 .6 .6 -.1M65.5 721.1l-.6 1.6m0 -.6l0 .6 .5 -.4M65.5 718.2l-.6 1.4m0 -.6l0 .6 .5 -.4M65.5 715.3l.1 1.8m-.3 -.6l.3 .6 .3 -.7M65.5 712.3l-.1 1.8m-.3 -.6l.3 .6 .3 -.6M65.5 709.4l-1.2 .9m.3 -.5l-.3 .5 .6 -.1M65.5 706.5l-.7 1.8m-.1 -.7l.1 .7 .5 -.5M65.5 703.5l-.1 1.3m-.2 -.5l.2 .5 .3 -.4M65.5 700.6l-.1 1.3m-.2 -.4l.2 .4 .2 -.4M65.5 697.7l.1 1.5m-.3 -.5l.3 .5 .2 -.5M65.5 694.7l-.1 1.3m-.2 -.5l.2 .5 .2 -.4M65.5 691.8l-1.8 .6m.5 -.5l-.5 .5 .7 .1M65.5 688.9l0 1.9m-.3 -.7l.3 .7 .3 -.7M65.5 685.9l0 1.9m-.3 -.6l.3 .6 .3 -.6M65.5 683l.2 1.8m-.4 -.6l.4 .6 .2 -.6M65.5 680.1l-1.5 1.3m.3 -.7l-.3 .7 .7 -.2M65.5 677.1l-.7 1.7m0 -.7l0 .7 .5 -.4M65.5 674.2l-1.4 .2m.4 -.3l-.4 .3 .5 .2M65.5 671.3l-.8 1m.1 -.5l-.1 .5 .4 -.2M65.5 668.3l-1.7 .2m.6 -.4l-.6 .4 .6 .2M65.5 665.4l-.2 1.8m-.2 -.7l.2 .7 .4 -.6M65.5 662.5l-.3 1.6m-.2 -.6l.2 .6 .4 -.5M65.5 659.5l-.2 1.9m-.3 -.7l.3 .7 .4 -.6M65.5 656.6l-1.2 .6m.3 -.4l-.3 .4 .5 0M69.2 841.4l-1.7 0m.6 -.3l-.6 .3 .6 .3M69.2 838.5l-.1 1.7m-.3 -.6l.3 .6 .3 -.6M69.2 835.5l-.4 1.5m-.1 -.6l.1 .6 .4 -.4M69.2 832.6l-1.1 1.6m.1 -.7l-.1 .7 .6 -.4M69.2 829.7l-.9 .9m.1 -.5l-.1 .5 .5 -.2M69.2 826.7l-.2 1.7m-.2 -.6l.2 .6 .3 -.6M69.2 823.8l-1.3 1.4m.2 -.7l-.2 .7 .7 -.3M69.2 820.9l-.1 1.4m-.2 -.5l.2 .5 .3 -.5M69.2 817.9l-1.3 -.1m.5 -.2l-.5 .2 .4 .2M69.2 815l-1.7 1m.4 -.6l-.4 .6 .7 -.1M69.2 812.1l-.2 1.8m-.2 -.6l.2 .6 .4 -.6M69.2 809.1l-1.4 .8m.3 -.5l-.3 .5 .6 -.1M69.2 806.2l-1.3 1.3m.2 -.7l-.2 .7 .6 -.2M69.2 803.3l-.1 2m-.3 -.7l.3 .7 .4 -.6M69.2 800.3l.2 1.4m-.3 -.5l.3 .5 .2 -.5M69.2 797.4l-1.4 1.1m.3 -.6l-.3 .6 .7 -.1M69.2 794.5l-.1 1.9m-.3 -.7l.3 .7 .4 -.6M69.2 791.5l-1.8 -.1m.6 -.3l-.6 .3 .6 .3M69.2 788.6l-1.7 .7m.5 -.5l-.5 .5 .7 0M69.2 785.7l-1.9 .1m.7 -.3l-.7 .3 .7 .3M69.2 782.7l-.4 1.4m-.1 -.5l.1 .5 .4 -.4M69.2 779.8l0 2m-.3 -.7l.3 .7 .3 -.7M69.2 776.9l-1.2 1.1m.2 -.6l-.2 .6 .6 -.2M69.2 773.9l-1.9 .2m.6 -.4l-.6 .4 .7 .3M69.2 771l.2 1.3m-.3 -.4l.3 .4 .2 -.5M69.2 768.1l-.3 1.7m-.2 -.6l.2 .6 .4 -.5M69.2 765.1l.2 1.3m-.3 -.4l.3 .4 .1 -.5M69.2 762.2l0 1.7m-.3 -.6l.3 .6 .3 -.6M69.2 759.3l-1.1 1.6m.1 -.7l-.1 .7 .7 -.4M69.2 756.3l-1.6 1.2m.3 -.7l-.3 .7 .7 -.1M69.2 753.4l.1 1.5m-.3 -.5l.3 .5 .2 -.5M69.2 750.5l-.3 1.6m-.2 -.6l.2 .6 .4 -.5M69.2 747.5l-1 1.4m.1 -.6l-.1 .6 .6 -.3M69.2 744.6l-.6 1.7m-.1 -.7l.1 .7 .5 -.5M69.2 741.7l.3 1.8m-.4 -.6l.4 .6 .2 -.7M69.2 738.7l-.3 1.6m-.2 -.6l.2 .6 .4 -.5M69.2 735.8l.3 2m-.4 -.6l.4 .6 .2 -.7M69.2 732.9l-.6 1.3m0 -.5l0 .5 .4 -.4M69.2 729.9l-.3 1.4m-.1 -.5l.1 .5 .3 -.4M69.2 727l-1.3 .7m.3 -.4l-.3 .4 .6 0M69.2 724.1l0 1.9m-.3 -.6l.3 .6 .3 -.7M69.2 721.1l.2 1.6m-.3 -.5l.3 .5 .2 -.6M69.2 718.2l-1.3 1.1m.3 -.6l-.3 .6 .6 -.1M69.2 715.3l-.3 1.9m-.2 -.7l.2 .7 .4 -.6M69.2 712.3l-1.8 -.2m.7 -.3l-.7 .3 .6 .4M69.2 709.4l-.3 1.8m-.2 -.7l.2 .7 .4 -.6M69.2 706.5l-.4 1.5m-.1 -.6l.1 .6 .4 -.4M69.2 703.5l-1.8 -.1m.6 -.3l-.6 .3 .6 .3M69.2 700.6l-1.3 .4m.4 -.4l-.4 .4 .5 .1M69.2 697.7l-1.1 1.3m.1 -.6l-.1 .6 .6 -.3M69.2 694.7l-1.8 .3m.5 -.4l-.5 .4 .7 .2M69.2 691.8l-1.6 1.2m.3 -.7l-.3 .7 .7 -.2M69.2 688.9l-.3 1.3m-.1 -.5l.1 .5 .3 -.4M69.2 685.9l-1.8 -.2m.7 -.2l-.7 .2 .6 .4M69.2 683l-2 -.1m.7 -.3l-.7 .3 .7 .4M69.2 680.1l-.3 1.8m-.2 -.7l.2 .7 .4 -.6M69.2 677.1l-1.6 -.2m.6 -.2l-.6 .2 .5 .3M69.2 674.2l-1.1 1.2m.2 -.6l-.2 .6 .6 -.2M69.2 671.3l-1.2 1.6m.1 -.8l-.1 .8 .7 -.4M69.2 668.3l0 1.7m-.3 -.6l.3 .6 .3 -.6M69.2 665.4l-.4 1.8m-.2 -.7l.2 .7 .4 -.6M69.2 662.5l.1 1.6m-.3 -.5l.3 .5 .2 -.6M69.2 659.5l-.2 2m-.2 -.7l.2 .7 .4 -.6M69.2 656.6l-.1 1.9m-.3 -.7l.3 .7 .3 -.6M73 841.4l-.9 1.2m.1 -.6l-.1 .6 .5 -.3M73 838.5l0 1.7m-.3 -.6l.3 .6 .3 -.6M73 835.5l0 1.5m-.2 -.5l.2 .5 .3 -.5M73 832.6l-1.3 -.2m.5 -.1l-.5 .1 .4 .3M73 829.7l-.1 1.7m-.3 -.6l.3 .6 .3 -.6M73 826.7l-.2 1.8m-.2 -.6l.2 .6 .4 -.6M73 823.8l.1 1.8m-.3 -.6l.3 .6 .3 -.6M73 820.9l-.3 1.5m-.1 -.6l.1 .6 .4 -.5M73 817.9l-.2 1.4m-.2 -.5l.2 .5 .3 -.5M73 815l-.3 1.5m-.2 -.6l.2 .6 .3 -.5M73 812.1l-1.9 .1m.6 -.4l-.6 .4 .7 .3M73 809.1l-1.6 .2m.5 -.3l-.5 .3 .6 .2M73 806.2l-1.4 -.1m.5 -.2l-.5 .2 .5 .3M73 803.3l-.1 1.7m-.3 -.6l.3 .6 .3 -.6M73 800.3l-1.4 .7m.4 -.5l-.4 .5 .6 0M73 797.4l-1.2 1.5m.2 -.7l-.2 .7 .7 -.3M73 794.5l.2 1.5m-.3 -.5l.3 .5 .2 -.5M73 791.5l-1 .8m.2 -.5l-.2 .5 .5 -.1M73 788.6l.2 1.6m-.3 -.5l.3 .5 .2 -.6M73 785.7l.2 1.4m-.3 -.4l.3 .4 .2 -.5M73 782.7l.1 1.7m-.3 -.6l.3 .6 .3 -.6M73 779.8l-1.5 -.2m.5 -.2l-.5 .2 .5 .3M73 776.9l-1.8 .5m.5 -.5l-.5 .5 .7 .1M73 773.9l-.3 1.8m-.2 -.7l.2 .7 .4 -.6M73 771l-.6 1.3m0 -.5l0 .5 .4 -.3M73 768.1l-1 1m.2 -.5l-.2 .5 .5 -.2M73 765.1l-.2 1.3m-.1 -.5l.1 .5 .3 -.4M73 762.2l.3 1.9m-.4 -.6l.4 .6 .2 -.7M73 759.3l0 1.4m-.2 -.5l.2 .5 .2 -.5M73 756.3l-1.6 .5m.5 -.4l-.5 .4 .6 .1M73 753.4l.1 1.9m-.3 -.6l.3 .6 .3 -.7M73 750.5l-.1 1.4m-.2 -.5l.2 .5 .3 -.5M73 747.5l-1 1.3m.1 -.6l-.1 .6 .6 -.3M73 744.6l.3 2m-.4 -.6l.4 .6 .2 -.7M73 741.7l-1.3 1m.3 -.6l-.3 .6 .6 -.1M73 738.7l-1.3 1.3m.2 -.7l-.2 .7 .7 -.2M73 735.8l.3 1.3m-.3 -.4l.3 .4 .1 -.5M73 732.9l.2 1.3m-.3 -.4l.3 .4 .2 -.5M73 729.9l-.9 1.2m.1 -.6l-.1 .6 .5 -.3M73 727l-.1 1.5m-.2 -.5l.2 .5 .3 -.5M73 724.1l.2 1.9m-.4 -.6l.4 .6 .2 -.7M73 721.1l-1 .8m.2 -.4l-.2 .4 .5 -.1M73 718.2l0 1.8m-.3 -.6l.3 .6 .3 -.6M73 715.3l0 1.5m-.2 -.5l.2 .5 .3 -.5M73 712.3l-.4 1.9m-.2 -.7l.2 .7 .4 -.6M73 709.4l-.2 1.3m-.1 -.5l.1 .5 .3 -.4M73 706.5l0 1.5m-.2 -.5l.2 .5 .3 -.5M73 703.5l-1.3 .6m.4 -.4l-.4 .4 .5 0M73 700.6l.1 1.8m-.3 -.6l.3 .6 .3 -.6M73 697.7l-.1 1.6m-.2 -.6l.2 .6 .3 -.5M73 694.7l-.2 1.8m-.2 -.6l.2 .6 .4 -.6M73 691.8l-.1 1.7m-.2 -.6l.2 .6 .3 -.6M73 688.9l-1.7 .1m.6 -.3l-.6 .3 .6 .3M73 685.9l-1.4 1.5m.2 -.7l-.2 .7 .7 -.3M73 683l-1.7 -.1m.6 -.3l-.6 .3 .6 .3M73 680.1l-.3 1.8m-.2 -.6l.2 .6 .4 -.6M73 677.1l-.2 1.8m-.2 -.7l.2 .7 .4 -.6M73 674.2l-.4 2m-.2 -.7l.2 .7 .5 -.6M73 671.3l-.9 1.1m.1 -.5l-.1 .5 .5 -.2M73 668.3l.2 1.3m-.3 -.4l.3 .4 .1 -.5M73 665.4l-1.7 -.1m.6 -.2l-.6 .2 .6 .3M73 662.5l-.3 2m-.2 -.7l.2 .7 .4 -.6M73 659.5l.2 1.3m-.3 -.4l.3 .4 .1 -.5M73 656.6l-1.8 .3m.6 -.4l-.6 .4 .7 .2M76.7 841.4l-.2 1.7m-.2 -.6l.2 .6 .3 -.5M76.7 838.5l-.7 1.4m0 -.6l0 .6 .5 -.4M76.7 835.5l-.5 1.5m-.1 -.6l.1 .6 .4 -.4M76.7 832.6l-.8 1.1m.1 -.5l-.1 .5 .5 -.2M76.7 829.7l-.8 1.8m0 -.7l0 .7 .6 -.5M76.7 826.7l-1.9 0m.6 -.3l-.6 .3 .7 .3M76.7 823.8l-1.1 1.1m.2 -.5l-.2 .5 .5 -.2M76.7 820.9l-1.5 .3m.5 -.4l-.5 .4 .6 .2M76.7 817.9l-1.7 .6m.5 -.5l-.5 .5 .7 .1M76.7 815l-1.7 0m.6 -.3l-.6 .3 .6 .3M76.7 812.1l-.3 1.9m-.2 -.7l.2 .7 .4 -.6M76.7 809.1l-1 1m.2 -.5l-.2 .5 .5 -.2M76.7 806.2l-1.1 .8m.2 -.5l-.2 .5 .5 -.1M76.7 803.3l-.2 1.3m-.2 -.5l.2 .5 .3 -.4M76.7 800.3l-1.3 1.2m.2 -.6l-.2 .6 .6 -.2M76.7 797.4l-.5 1.4m-.1 -.6l.1 .6 .4 -.4M76.7 794.5l-1.8 -.4m.7 -.2l-.7 .2 .6 .4M76.7 791.5l-.8 1.1m.1 -.5l-.1 .5 .5 -.2M76.7 788.6l-1 1.1m.2 -.6l-.2 .6 .5 -.2M76.7 785.7l-.4 1.6m-.1 -.6l.1 .6 .4 -.5M76.7 782.7l-1.2 1.6m.2 -.7l-.2 .7 .7 -.3M76.7 779.8l-.3 2m-.2 -.7l.2 .7 .4 -.6M76.7 776.9l-.2 1.7m-.2 -.6l.2 .6 .4 -.5M76.7 773.9l-1.4 1.2m.3 -.6l-.3 .6 .7 -.2M76.7 771l-1.5 1.4m.3 -.7l-.3 .7 .7 -.2M76.7 768.1l-1.1 1.2m.2 -.6l-.2 .6 .6 -.2M76.7 765.1l-.1 1.4m-.2 -.5l.2 .5 .3 -.5M76.7 762.2l.2 1.4m-.3 -.4l.3 .4 .2 -.5M76.7 759.3l-.8 1.2m.1 -.5l-.1 .5 .5 -.3M76.7 756.3l.3 1.7m-.4 -.5l.4 .5 .2 -.6M76.7 753.4l-.2 1.8m-.2 -.6l.2 .6 .4 -.6M76.7 750.5l-1.3 .1m.4 -.2l-.4 .2 .5 .2M76.7 747.5l.1 1.9m-.4 -.6l.4 .6 .3 -.7M76.7 744.6l-1.2 .8m.3 -.5l-.3 .5 .5 -.1M76.7 741.7l-1.4 .7m.4 -.5l-.4 .5 .6 0M76.7 738.7l.1 1.5m-.3 -.5l.3 .5 .2 -.5M76.7 735.8l-.1 1.9m-.3 -.7l.3 .7 .3 -.7M76.7 732.9l-1.8 .3m.6 -.4l-.6 .4 .7 .2M76.7 729.9l-1.3 .6m.3 -.4l-.3 .4 .5 0M76.7 727l-.6 1.8m-.1 -.7l.1 .7 .5 -.5M76.7 724.1l-1.3 .1m.4 -.3l-.4 .3 .5 .2M76.7 721.1l-1.6 .3m.5 -.4l-.5 .4 .6 .2M76.7 718.2l-1.7 .2m.6 -.4l-.6 .4 .6 .2M76.7 715.3l-.1 1.7m-.2 -.6l.2 .6 .3 -.6M76.7 712.3l-.3 2m-.2 -.7l.2 .7 .4 -.6M76.7 709.4l0 1.5m-.3 -.5l.3 .5 .2 -.5M76.7 706.5l-1.9 .3m.6 -.4l-.6 .4 .7 .2M76.7 703.5l-1.8 .1m.6 -.3l-.6 .3 .6 .3M76.7 700.6l-.5 2m-.2 -.8l.2 .8 .5 -.6M76.7 697.7l-1.7 -.1m.6 -.3l-.6 .3 .6 .3M76.7 694.7l-.5 1.7m-.1 -.7l.1 .7 .4 -.5M76.7 691.8l-1.3 .5m.4 -.4l-.4 .4 .5 0M76.7 688.9l-.2 1.7m-.2 -.6l.2 .6 .3 -.5M76.7 685.9l-.8 1m.1 -.5l-.1 .5 .4 -.2M76.7 683l-1.2 1.2m.2 -.6l-.2 .6 .6 -.2M76.7 680.1l.2 1.5m-.3 -.5l.3 .5 .2 -.5M76.7 677.1l-.1 2m-.3 -.7l.3 .7 .4 -.7M76.7 674.2l-1.1 1.2m.2 -.6l-.2 .6 .6 -.2M76.7 671.3l-1.4 1.3m.3 -.7l-.3 .7 .7 -.2M76.7 668.3l-1.8 .5m.5 -.5l-.5 .5 .7 .1M76.7 665.4l.3 1.6m-.4 -.5l.4 .5 .2 -.6M76.7 662.5l-1.1 1.5m.1 -.7l-.1 .7 .6 -.3M76.7 659.5l-.1 1.7m-.2 -.6l.2 .6 .3 -.6M76.7 656.6l-1.6 -.1m.6 -.2l-.6 .2 .5 .3M80.4 841.4l-.5 1.5m-.1 -.6l.1 .6 .4 -.4M80.4 838.5l-1.8 .4m.6 -.4l-.6 .4 .7 .2M80.4 835.5l-1.2 1.5m.2 -.7l-.2 .7 .7 -.3M80.4 832.6l-.2 1.3m-.2 -.5l.2 .5 .3 -.4M80.4 829.7l-.2 1.4m-.2 -.5l.2 .5 .3 -.4M80.4 826.7l-.1 1.4m-.2 -.5l.2 .5 .2 -.5M80.4 823.8l-.3 1.8m-.2 -.7l.2 .7 .4 -.6M80.4 820.9l0 1.7m-.3 -.6l.3 .6 .3 -.6M80.4 817.9l-1.4 1m.3 -.6l-.3 .6 .6 -.1M80.4 815l.2 1.8m-.3 -.6l.3 .6 .2 -.6M80.4 812.1l.4 1.8m-.4 -.5l.4 .5 .2 -.7M80.4 809.1l0 1.8m-.3 -.6l.3 .6 .3 -.6M80.4 806.2l.2 1.9m-.4 -.6l.4 .6 .2 -.7M80.4 803.3l.3 1.8m-.4 -.6l.4 .6 .2 -.7M80.4 800.3l-1.3 .4m.4 -.3l-.4 .3 .5 .1M80.4 797.4l-1.3 1m.3 -.6l-.3 .6 .6 -.1M80.4 794.5l-.3 1.9m-.2 -.7l.2 .7 .4 -.6M80.4 791.5l-.2 1.7m-.2 -.6l.2 .6 .4 -.6M80.4 788.6l-1.5 -.1m.5 -.2l-.5 .2 .5 .3M80.4 785.7l-1.6 .3m.5 -.4l-.5 .4 .6 .2M80.4 782.7l-1.1 1.5m.1 -.7l-.1 .7 .6 -.3M80.4 779.8l-.8 1.1m.1 -.5l-.1 .5 .5 -.2M80.4 776.9l-.9 1.8m0 -.8l0 .8 .6 -.5M80.4 773.9l-.3 1.7m-.2 -.6l.2 .6 .4 -.5M80.4 771l0 1.9m-.3 -.7l.3 .7 .3 -.7M80.4 768.1l-.1 1.5m-.2 -.5l.2 .5 .3 -.5M80.4 765.1l-.1 1.4m-.2 -.5l.2 .5 .2 -.5M80.4 762.2l0 1.8m-.3 -.6l.3 .6 .3 -.6M80.4 759.3l.3 1.7m-.4 -.5l.4 .5 .2 -.6M80.4 756.3l-1.3 .6m.4 -.4l-.4 .4 .6 0M80.4 753.4l0 1.5m-.2 -.5l.2 .5 .2 -.5M80.4 750.5l-.1 1.7m-.2 -.6l.2 .6 .3 -.6M80.4 747.5l.2 1.7m-.3 -.6l.3 .6 .2 -.6M80.4 744.6l-1.6 .6m.4 -.5l-.4 .5 .7 .1M80.4 741.7l-.9 .9m.2 -.5l-.2 .5 .5 -.2M80.4 738.7l-.1 1.4m-.2 -.5l.2 .5 .3 -.5M80.4 735.8l-1.3 1m.3 -.6l-.3 .6 .6 -.1M80.4 732.9l-.7 1.8m-.1 -.7l.1 .7 .5 -.5M80.4 729.9l0 1.8m-.3 -.6l.3 .6 .3 -.6M80.4 727l0 1.8m-.3 -.6l.3 .6 .3 -.6M80.4 724.1l-.5 1.6m-.1 -.6l.1 .6 .4 -.5M80.4 721.1l.2 1.3m-.3 -.4l.3 .4 .2 -.5M80.4 718.2l-.3 1.9m-.2 -.7l.2 .7 .4 -.6M80.4 715.3l-1.1 .9m.2 -.5l-.2 .5 .5 -.1M80.4 712.3l-1.5 1m.3 -.6l-.3 .6 .7 -.1M80.4 709.4l-.2 1.5m-.2 -.6l.2 .6 .3 -.5M80.4 706.5l.1 2m-.4 -.6l.4 .6 .3 -.7M80.4 703.5l-.2 1.3m-.1 -.5l.1 .5 .3 -.4M80.4 700.6l-.7 1.9m-.1 -.8l.1 .8 .5 -.5M80.4 697.7l-.1 1.5m-.2 -.5l.2 .5 .3 -.5M80.4 694.7l-1 .9m.2 -.5l-.2 .5 .5 -.1M80.4 691.8l-.3 1.8m-.2 -.7l.2 .7 .4 -.6M80.4 688.9l0 1.5m-.3 -.5l.3 .5 .2 -.5M80.4 685.9l-.1 1.5m-.2 -.5l.2 .5 .3 -.5M80.4 683l.1 1.9m-.3 -.6l.3 .6 .3 -.7M80.4 680.1l-1.6 1.1m.4 -.6l-.4 .6 .7 -.1M80.4 677.1l-1.7 0m.6 -.3l-.6 .3 .6 .3M80.4 674.2l-1.2 1m.2 -.6l-.2 .6 .6 -.2M80.4 671.3l-.3 1.4m-.1 -.5l.1 .5 .3 -.4M80.4 668.3l-1.3 -.2m.5 -.1l-.5 .1 .4 .3M80.4 665.4l-1.1 .9m.2 -.5l-.2 .5 .5 -.1M80.4 662.5l-1.3 -.1m.5 -.2l-.5 .2 .4 .3M80.4 659.5l-1.6 .3m.5 -.4l-.5 .4 .6 .2M80.4 656.6l-1.5 1m.3 -.6l-.3 .6 .7 -.1M84.1 841.4l-1.4 1.5m.2 -.7l-.2 .7 .7 -.3M84.1 838.5l-1.9 .1m.6 -.4l-.6 .4 .7 .3M84.1 835.5l-.4 1.2m-.1 -.5l.1 .5 .3 -.4M84.1 832.6l.2 1.4m-.3 -.4l.3 .4 .1 -.5M84.1 829.7l0 1.4m-.2 -.5l.2 .5 .2 -.5M84.1 826.7l-1.4 1.3m.3 -.7l-.3 .7 .7 -.2M84.1 823.8l.2 1.5m-.3 -.5l.3 .5 .2 -.5M84.1 820.9l-1.5 .5m.4 -.4l-.4 .4 .6 .1M84.1 817.9l-.2 2m-.3 -.7l.3 .7 .4 -.7M84.1 815l0 1.8m-.3 -.6l.3 .6 .3 -.6M84.1 812.1l-.1 1.3m-.2 -.4l.2 .4 .2 -.4M84.1 809.1l0 1.7m-.3 -.6l.3 .6 .3 -.6M84.1 806.2l-1.4 1.2m.3 -.6l-.3 .6 .7 -.2M84.1 803.3l-1.1 1.1m.2 -.6l-.2 .6 .6 -.2M84.1 800.3l-1.2 .6m.3 -.4l-.3 .4 .5 0M84.1 797.4l.2 1.8m-.4 -.6l.4 .6 .2 -.6M84.1 794.5l0 1.9m-.3 -.7l.3 .7 .3 -.7M84.1 791.5l-1.9 -.2m.7 -.2l-.7 .2 .6 .4M84.1 788.6l-1.3 1.6m.2 -.8l-.2 .8 .7 -.3M84.1 785.7l.3 1.9m-.4 -.6l.4 .6 .2 -.7M84.1 782.7l0 1.8m-.3 -.6l.3 .6 .3 -.6M84.1 779.8l-.2 1.5m-.2 -.6l.2 .6 .3 -.5M84.1 776.9l-1 .9m.2 -.5l-.2 .5 .5 -.1M84.1 773.9l-.4 1.8m-.2 -.7l.2 .7 .4 -.6M84.1 771l.1 2m-.4 -.7l.4 .7 .3 -.7M84.1 768.1l-1.2 1m.2 -.6l-.2 .6 .6 -.2M84.1 765.1l-1.7 .9m.4 -.6l-.4 .6 .7 0M84.1 762.2l-1.4 -.2m.5 -.2l-.5 .2 .5 .3M84.1 759.3l.2 1.5m-.3 -.5l.3 .5 .2 -.6M84.1 756.3l-1.2 .7m.3 -.4l-.3 .4 .5 0M84.1 753.4l.4 1.8m-.4 -.6l.4 .6 .2 -.7M84.1 750.5l-.1 1.3m-.2 -.5l.2 .5 .2 -.4M84.1 747.5l-.1 1.9m-.3 -.7l.3 .7 .3 -.6M84.1 744.6l-.1 1.4m-.2 -.5l.2 .5 .3 -.5M84.1 741.7l.2 2m-.4 -.6l.4 .6 .3 -.7M84.1 738.7l-1.6 .5m.5 -.4l-.5 .4 .6 .1M84.1 735.8l0 1.8m-.3 -.6l.3 .6 .3 -.6M84.1 732.9l0 1.6m-.3 -.5l.3 .5 .2 -.5M84.1 729.9l-.3 2m-.2 -.7l.2 .7 .4 -.6M84.1 727l.2 1.6m-.3 -.5l.3 .5 .2 -.6M84.1 724.1l0 1.8m-.3 -.6l.3 .6 .3 -.6M84.1 721.1l-1.6 .2m.5 -.3l-.5 .3 .6 .2M84.1 718.2l-.2 1.5m-.2 -.5l.2 .5 .3 -.5M84.1 715.3l.3 1.6m-.4 -.5l.4 .5 .2 -.6M84.1 712.3l-.8 1m.1 -.5l-.1 .5 .4 -.2M84.1 709.4l0 1.8m-.3 -.6l.3 .6 .3 -.6M84.1 706.5l0 1.6m-.3 -.5l.3 .5 .3 -.5M84.1 703.5l-.9 1.2m.1 -.5l-.1 .5 .5 -.3M84.1 700.6l-1.2 1.3m.2 -.7l-.2 .7 .6 -.3M84.1 697.7l-1.3 .2m.4 -.3l-.4 .3 .5 .1M84.1 694.7l-.1 2m-.3 -.7l.3 .7 .4 -.7M84.1 691.8l0 1.3m-.2 -.4l.2 .4 .2 -.4M84.1 688.9l-1.9 .2m.6 -.4l-.6 .4 .7 .3M84.1 685.9l-1.8 -.3m.7 -.2l-.7 .2 .6 .4M84.1 683l-1.5 .3m.5 -.4l-.5 .4 .6 .2M84.1 680.1l-1.4 1m.3 -.6l-.3 .6 .7 -.1M84.1 677.1l-1.3 .2m.4 -.3l-.4 .3 .5 .1M84.1 674.2l-.3 1.6m-.2 -.6l.2 .6 .4 -.5M84.1 671.3l-1.9 .5m.6 -.5l-.6 .5 .7 .1M84.1 668.3l.3 1.6m-.4 -.5l.4 .5 .2 -.6M84.1 665.4l-1.1 1.4m.2 -.7l-.2 .7 .6 -.3M84.1 662.5l-1.7 .2m.6 -.4l-.6 .4 .6 .2M84.1 659.5l-1.1 1.3m.2 -.6l-.2 .6 .6 -.3M84.1 656.6l-1.7 .9m.4 -.6l-.4 .6 .7 0M87.8 841.4l-.1 1.5m-.2 -.6l.2 .6 .3 -.5M87.8 838.5l.2 1.5m-.3 -.5l.3 .5 .2 -.5M87.8 835.5l-1.3 1.2m.3 -.6l-.3 .6 .6 -.2M87.8 832.6l-.5 1.3m0 -.5l0 .5 .4 -.4M87.8 829.7l-1.6 .2m.5 -.3l-.5 .3 .6 .2M87.8 826.7l-.7 1.9m-.1 -.8l.1 .8 .6 -.5M87.8 823.8l-1.3 .1m.4 -.2l-.4 .2 .5 .2M87.8 820.9l.1 1.7m-.3 -.6l.3 .6 .3 -.6M87.8 817.9l-1.1 1.3m.2 -.6l-.2 .6 .6 -.3M87.8 815l-.2 1.3m-.2 -.5l.2 .5 .3 -.4M87.8 812.1l.2 1.8m-.4 -.6l.4 .6 .2 -.6M87.8 809.1l.1 1.6m-.3 -.5l.3 .5 .2 -.5M87.8 806.2l-1.4 0m.5 -.2l-.5 .2 .5 .2M87.8 803.3l-1.6 1.2m.3 -.7l-.3 .7 .7 -.1M87.8 800.3l-1.1 1m.2 -.5l-.2 .5 .5 -.1M87.8 797.4l-.2 1.9m-.3 -.7l.3 .7 .4 -.6M87.8 794.5l-1.3 .5m.4 -.4l-.4 .4 .5 0M87.8 791.5l-.5 1.2m0 -.5l0 .5 .4 -.3M87.8 788.6l-.2 1.6m-.2 -.6l.2 .6 .3 -.5M87.8 785.7l.1 1.7m-.3 -.6l.3 .6 .3 -.6M87.8 782.7l-.4 1.8m-.2 -.7l.2 .7 .4 -.6M87.8 779.8l-1 .8m.2 -.4l-.2 .4 .5 -.1M87.8 776.9l-.2 1.4m-.2 -.5l.2 .5 .3 -.4M87.8 773.9l.2 1.6m-.3 -.5l.3 .5 .2 -.6M87.8 771l-1.3 1m.3 -.6l-.3 .6 .6 -.1M87.8 768.1l.3 2m-.4 -.6l.4 .6 .2 -.7M87.8 765.1l-1.6 -.2m.6 -.2l-.6 .2 .5 .3M87.8 762.2l-.3 1.8m-.2 -.7l.2 .7 .4 -.6M87.8 759.3l.4 1.8m-.4 -.6l.4 .6 .2 -.7M87.8 756.3l-1.6 .6m.4 -.5l-.4 .5 .6 .1M87.8 753.4l.1 1.4m-.3 -.5l.3 .5 .2 -.5M87.8 750.5l-1.8 0m.6 -.3l-.6 .3 .6 .3M87.8 747.5l-.3 1.9m-.2 -.7l.2 .7 .4 -.6M87.8 744.6l-.4 1.5m-.1 -.6l.1 .6 .4 -.5M87.8 741.7l-.2 1.8m-.2 -.6l.2 .6 .4 -.6M87.8 738.7l0 1.3m-.2 -.4l.2 .4 .2 -.4M87.8 735.8l-1.6 .2m.5 -.3l-.5 .3 .6 .2M87.8 732.9l-.2 1.5m-.2 -.6l.2 .6 .3 -.5M87.8 729.9l.2 1.8m-.4 -.6l.4 .6 .2 -.6M87.8 727l.3 1.9m-.4 -.6l.4 .6 .2 -.7M87.8 724.1l.2 1.7m-.4 -.5l.4 .5 .2 -.6M87.8 721.1l-1.2 1m.3 -.5l-.3 .5 .6 -.1M87.8 718.2l-.1 1.5m-.2 -.5l.2 .5 .3 -.5M87.8 715.3l.2 1.3m-.3 -.4l.3 .4 .2 -.5M87.8 712.3l.2 1.4m-.3 -.4l.3 .4 .2 -.5M87.8 709.4l-2 .3m.6 -.4l-.6 .4 .7 .2M87.8 706.5l-1.3 1m.3 -.6l-.3 .6 .6 -.1M87.8 703.5l-1.6 .2m.5 -.3l-.5 .3 .6 .2M87.8 700.6l-1.4 1.1m.3 -.6l-.3 .6 .7 -.2M87.8 697.7l0 1.5m-.3 -.5l.3 .5 .2 -.5M87.8 694.7l-1.9 .3m.6 -.4l-.6 .4 .7 .2M87.8 691.8l-.9 1.2m.1 -.6l-.1 .6 .5 -.3M87.8 688.9l-1.7 .2m.5 -.4l-.5 .4 .6 .2M87.8 685.9l-1.1 1m.2 -.5l-.2 .5 .5 -.2M87.8 683l.1 2m-.4 -.7l.4 .7 .3 -.7M87.8 680.1l-1.3 -.3m.5 -.1l-.5 .1 .4 .3M87.8 677.1l-1.1 1.6m.1 -.7l-.1 .7 .7 -.4M87.8 674.2l.1 1.8m-.3 -.6l.3 .6 .3 -.6M87.8 671.3l-1.5 .8m.4 -.5l-.4 .5 .7 0M87.8 668.3l-1.3 0m.5 -.2l-.5 .2 .5 .2M87.8 665.4l-1.6 -.3m.6 -.2l-.6 .2 .5 .4M87.8 662.5l-1 .9m.2 -.5l-.2 .5 .5 -.1M87.8 659.5l0 1.4m-.2 -.5l.2 .5 .2 -.5M87.8 656.6l-1.6 -.1m.6 -.2l-.6 .2 .5 .3M91.6 841.4l-.9 1.2m.1 -.6l-.1 .6 .5 -.3M91.6 838.5l.1 1.7m-.3 -.6l.3 .6 .2 -.6M91.6 835.5l.2 1.8m-.4 -.6l.4 .6 .2 -.7M91.6 832.6l-1 1.1m.2 -.5l-.2 .5 .5 -.2M91.6 829.7l-.3 1.7m-.2 -.6l.2 .6 .4 -.5M91.6 826.7l-.4 1.3m-.1 -.5l.1 .5 .4 -.4M91.6 823.8l-1.4 .1m.4 -.3l-.4 .3 .5 .2M91.6 820.9l-.2 1.5m-.2 -.5l.2 .5 .3 -.5M91.6 817.9l.2 1.8m-.4 -.6l.4 .6 .2 -.7M91.6 815l.2 1.5m-.3 -.5l.3 .5 .2 -.5M91.6 812.1l-1 .9m.2 -.5l-.2 .5 .5 -.1M91.6 809.1l-1.5 -.2m.5 -.2l-.5 .2 .5 .3M91.6 806.2l-1 1.3m.1 -.6l-.1 .6 .6 -.3M91.6 803.3l-1 .9m.2 -.5l-.2 .5 .5 -.1M91.6 800.3l-1.4 -.3m.5 -.1l-.5 .1 .4 .3M91.6 797.4l-1.7 -.1m.6 -.3l-.6 .3 .6 .3M91.6 794.5l-.2 2m-.3 -.7l.3 .7 .4 -.7M91.6 791.5l-1.7 -.3m.6 -.2l-.6 .2 .5 .4M91.6 788.6l.2 1.5m-.3 -.5l.3 .5 .2 -.5M91.6 785.7l-1.5 .4m.4 -.4l-.4 .4 .6 .1M91.6 782.7l-1.6 1.3m.3 -.7l-.3 .7 .7 -.2M91.6 779.8l-.4 2m-.2 -.7l.2 .7 .5 -.6M91.6 776.9l-.2 1.6m-.2 -.6l.2 .6 .3 -.5M91.6 773.9l-.2 1.7m-.2 -.6l.2 .6 .3 -.5M91.6 771l-1.9 .2m.6 -.4l-.6 .4 .7 .2M91.6 768.1l-1.3 -.2m.5 -.2l-.5 .2 .4 .3M91.6 765.1l0 1.6m-.3 -.6l.3 .6 .3 -.6M91.6 762.2l-.9 1.3m.1 -.6l-.1 .6 .5 -.3M91.6 759.3l-.2 1.3m-.2 -.5l.2 .5 .3 -.4M91.6 756.3l-1.2 1.3m.2 -.6l-.2 .6 .6 -.2M91.6 753.4l-1.5 .2m.5 -.3l-.5 .3 .6 .2M91.6 750.5l-.8 1.1m.1 -.5l-.1 .5 .5 -.2M91.6 747.5l-1.4 1m.3 -.6l-.3 .6 .6 -.1M91.6 744.6l-1.6 .2m.5 -.3l-.5 .3 .6 .2M91.6 741.7l-2 .4m.6 -.4l-.6 .4 .7 .2M91.6 738.7l-1.8 .7m.5 -.5l-.5 .5 .7 0M91.6 735.8l-.3 1.4m-.1 -.5l.1 .5 .3 -.4M91.6 732.9l-1.1 1.2m.2 -.6l-.2 .6 .6 -.2M91.6 729.9l-.6 1.3m0 -.6l0 .6 .4 -.3M91.6 727l-1.8 .6m.5 -.5l-.5 .5 .7 .1M91.6 724.1l-1.5 0m.5 -.2l-.5 .2 .5 .3M91.6 721.1l-1.2 1.4m.2 -.7l-.2 .7 .6 -.3M91.6 718.2l-1 1.4m.1 -.7l-.1 .7 .6 -.3M91.6 715.3l-.1 1.3m-.2 -.5l.2 .5 .2 -.4M91.6 712.3l-.2 1.9m-.2 -.7l.2 .7 .4 -.6M91.6 709.4l-.1 1.7m-.2 -.6l.2 .6 .3 -.6M91.6 706.5l-1 .8m.2 -.4l-.2 .4 .5 -.1M91.6 703.5l-.2 1.9m-.2 -.7l.2 .7 .4 -.6M91.6 700.6l.1 1.3m-.3 -.4l.3 .4 .2 -.5M91.6 697.7l-.3 1.9m-.2 -.7l.2 .7 .4 -.6M91.6 694.7l-1.2 1.3m.2 -.7l-.2 .7 .6 -.3M91.6 691.8l.1 1.4m-.3 -.5l.3 .5 .2 -.5M91.6 688.9l-1.4 1.2m.3 -.6l-.3 .6 .7 -.2M91.6 685.9l-1.5 .3m.5 -.4l-.5 .4 .6 .2M91.6 683l.3 1.9m-.4 -.6l.4 .6 .2 -.7M91.6 680.1l.1 1.6m-.3 -.5l.3 .5 .2 -.6M91.6 677.1l-.2 1.7m-.2 -.6l.2 .6 .3 -.6M91.6 674.2l.1 1.6m-.3 -.5l.3 .5 .2 -.6M91.6 671.3l-.3 1.8m-.2 -.7l.2 .7 .4 -.6M91.6 668.3l.2 1.9m-.4 -.6l.4 .6 .3 -.7M91.6 665.4l-1.7 .6m.5 -.5l-.5 .5 .7 .1M91.6 662.5l.4 1.8m-.4 -.5l.4 .5 .2 -.7M91.6 659.5l-1 1.3m.1 -.6l-.1 .6 .5 -.3M91.6 656.6l-1 1.4m.1 -.6l-.1 .6 .6 -.3M95.3 841.4l-.2 1.3m-.2 -.5l.2 .5 .3 -.4M95.3 838.5l-1.5 1m.3 -.6l-.3 .6 .7 -.1M95.3 835.5l.1 1.5m-.3 -.5l.3 .5 .2 -.5M95.3 832.6l.2 1.3m-.3 -.4l.3 .4 .2 -.5M95.3 829.7l-.5 1.8m-.1 -.7l.1 .7 .5 -.5M95.3 826.7l-.3 1.9m-.2 -.7l.2 .7 .4 -.6M95.3 823.8l-1.7 -.2m.6 -.2l-.6 .2 .5 .4M95.3 820.9l.3 1.5m-.3 -.5l.3 .5 .1 -.6M95.3 817.9l.1 1.3m-.3 -.4l.3 .4 .2 -.5M95.3 815l-.3 1.6m-.2 -.6l.2 .6 .4 -.5M95.3 812.1l-1.3 -.1m.5 -.2l-.5 .2 .4 .2M95.3 809.1l0 1.9m-.3 -.6l.3 .6 .3 -.6M95.3 806.2l-.6 1.5m-.1 -.6l.1 .6 .4 -.4M95.3 803.3l-.2 1.7m-.2 -.6l.2 .6 .3 -.5M95.3 800.3l-.8 1.1m.1 -.5l-.1 .5 .5 -.3M95.3 797.4l-1.5 .1m.5 -.3l-.5 .3 .5 .2M95.3 794.5l-1 .9m.2 -.5l-.2 .5 .5 -.1M95.3 791.5l0 1.3m-.2 -.4l.2 .4 .2 -.4M95.3 788.6l-.2 1.3m-.2 -.5l.2 .5 .3 -.4M95.3 785.7l-.2 1.4m-.1 -.5l.1 .5 .3 -.4M95.3 782.7l-.3 1.5m-.2 -.6l.2 .6 .3 -.5M95.3 779.8l-.3 1.6m-.2 -.6l.2 .6 .4 -.5M95.3 776.9l-1.2 .9m.3 -.5l-.3 .5 .6 -.1M95.3 773.9l.2 1.3m-.3 -.4l.3 .4 .2 -.5M95.3 771l-.3 1.8m-.2 -.7l.2 .7 .4 -.5M95.3 768.1l-.2 1.3m-.1 -.5l.1 .5 .3 -.4M95.3 765.1l.3 1.8m-.4 -.6l.4 .6 .2 -.7M95.3 762.2l-1.8 -.1m.6 -.3l-.6 .3 .6 .3M95.3 759.3l.1 1.5m-.3 -.5l.3 .5 .2 -.5M95.3 756.3l-1.4 1.2m.3 -.7l-.3 .7 .7 -.2M95.3 753.4l-1 1.3m.1 -.6l-.1 .6 .5 -.3M95.3 750.5l-.9 1.3m.1 -.6l-.1 .6 .5 -.3M95.3 747.5l-1.7 .9m.4 -.6l-.4 .6 .7 0M95.3 744.6l-.2 2m-.3 -.7l.3 .7 .4 -.6M95.3 741.7l-1.1 1.5m.1 -.7l-.1 .7 .6 -.3M95.3 738.7l-1.1 1.3m.1 -.6l-.1 .6 .6 -.3M95.3 735.8l-1.5 .5m.4 -.4l-.4 .4 .6 .1M95.3 732.9l-1.4 .5m.4 -.4l-.4 .4 .6 .1M95.3 729.9l-.6 1.4m0 -.6l0 .6 .4 -.4M95.3 727l-1.7 .1m.6 -.3l-.6 .3 .6 .2M95.3 724.1l-1.3 .6m.3 -.4l-.3 .4 .5 0M95.3 721.1l-.2 1.4m-.1 -.5l.1 .5 .3 -.4M95.3 718.2l-.1 1.7m-.3 -.6l.3 .6 .3 -.6M95.3 715.3l-.2 1.5m-.2 -.5l.2 .5 .3 -.5M95.3 712.3l-1.2 .9m.3 -.5l-.3 .5 .6 -.1M95.3 709.4l-1.3 .8m.3 -.5l-.3 .5 .6 0M95.3 706.5l-1.6 1.1m.4 -.6l-.4 .6 .7 -.1M95.3 703.5l-1.4 -.3m.5 -.1l-.5 .1 .4 .3M95.3 700.6l.1 1.3m-.2 -.4l.2 .4 .2 -.5M95.3 697.7l-1.3 1.3m.2 -.7l-.2 .7 .7 -.2M95.3 694.7l-1.9 .1m.6 -.4l-.6 .4 .7 .3M95.3 691.8l-1.2 1.3m.2 -.7l-.2 .7 .6 -.3M95.3 688.9l-1.2 .8m.3 -.5l-.3 .5 .5 -.1M95.3 685.9l-.3 1.5m-.2 -.5l.2 .5 .3 -.5M95.3 683l-.6 1.8m-.1 -.7l.1 .7 .5 -.5M95.3 680.1l-1 1.2m.1 -.6l-.1 .6 .5 -.3M95.3 677.1l-.3 1.4m-.1 -.5l.1 .5 .3 -.4M95.3 674.2l.2 1.3m-.3 -.4l.3 .4 .1 -.5M95.3 671.3l-1.4 .2m.5 -.3l-.5 .3 .5 .2M95.3 668.3l-.2 1.4m-.1 -.5l.1 .5 .3 -.4M95.3 665.4l-1.7 .3m.5 -.4l-.5 .4 .6 .2M95.3 662.5l-1.7 .2m.5 -.3l-.5 .3 .6 .2M95.3 659.5l-1.8 .7m.5 -.5l-.5 .5 .7 .1M95.3 656.6l-1.6 .2m.5 -.3l-.5 .3 .6 .2M99 841.4l-.1 1.4m-.2 -.5l.2 .5 .3 -.5M99 838.5l-.2 1.4m-.2 -.5l.2 .5 .3 -.5M99 835.5l0 1.4m-.2 -.5l.2 .5 .2 -.5M99 832.6l-1.2 .8m.3 -.5l-.3 .5 .5 -.1M99 829.7l-.2 1.4m-.2 -.5l.2 .5 .3 -.5M99 826.7l.1 1.8m-.3 -.6l.3 .6 .3 -.6M99 823.8l-.2 1.4m-.2 -.5l.2 .5 .3 -.5M99 820.9l-1.9 -.4m.7 -.2l-.7 .2 .6 .4M99 817.9l-.9 .9m.2 -.5l-.2 .5 .5 -.2M99 815l-1.5 .3m.5 -.3l-.5 .3 .6 .2M99 812.1l-.3 1.5m-.1 -.6l.1 .6 .4 -.5M99 809.1l0 2m-.3 -.7l.3 .7 .3 -.7M99 806.2l-.2 1.6m-.2 -.6l.2 .6 .3 -.5M99 803.3l-1.7 1.1m.4 -.7l-.4 .7 .8 -.1M99 800.3l-1.1 .9m.2 -.5l-.2 .5 .5 -.1M99 797.4l-.2 1.5m-.2 -.5l.2 .5 .3 -.5M99 794.5l-1.1 1.6m.1 -.8l-.1 .8 .7 -.4M99 791.5l-.6 1.4m0 -.6l0 .6 .4 -.4M99 788.6l-.1 1.6m-.2 -.6l.2 .6 .3 -.5M99 785.7l-1.7 .7m.5 -.5l-.5 .5 .7 0M99 782.7l-.1 1.7m-.2 -.6l.2 .6 .3 -.6M99 779.8l-1.2 1m.2 -.5l-.2 .5 .6 -.2M99 776.9l-.1 1.8m-.3 -.6l.3 .6 .3 -.6M99 773.9l-1.4 .8m.3 -.5l-.3 .5 .6 -.1M99 771l-.2 1.4m-.2 -.5l.2 .5 .3 -.5M99 768.1l-1.3 0m.5 -.2l-.5 .2 .5 .2M99 765.1l-1 1.4m.1 -.6l-.1 .6 .6 -.3M99 762.2l-1.8 .6m.5 -.5l-.5 .5 .7 .1M99 759.3l-1.6 .2m.5 -.3l-.5 .3 .6 .2M99 756.3l-1.3 .9m.3 -.5l-.3 .5 .6 -.1M99 753.4l-1.3 1.3m.2 -.7l-.2 .7 .7 -.2M99 750.5l-1.8 -.1m.6 -.2l-.6 .2 .6 .3M99 747.5l-1.1 .8m.2 -.5l-.2 .5 .5 -.1M99 744.6l.2 1.4m-.3 -.4l.3 .4 .1 -.5M99 741.7l0 1.7m-.3 -.6l.3 .6 .3 -.6M99 738.7l.3 1.6m-.4 -.5l.4 .5 .2 -.6M99 735.8l-1.6 .7m.4 -.5l-.4 .5 .7 0M99 732.9l-.9 1.4m.1 -.6l-.1 .6 .5 -.3M99 729.9l-.5 1.3m0 -.5l0 .5 .4 -.3M99 727l-.2 1.4m-.2 -.5l.2 .5 .3 -.4M99 724.1l-2 -.2m.7 -.3l-.7 .3 .6 .4M99 721.1l-1.2 1.2m.2 -.6l-.2 .6 .6 -.2M99 718.2l-.6 1.5m0 -.6l0 .6 .5 -.4M99 715.3l-.4 1.7m-.1 -.6l.1 .6 .4 -.5M99 712.3l-.4 1.8m-.2 -.7l.2 .7 .4 -.6M99 709.4l-1.4 1.1m.3 -.6l-.3 .6 .7 -.1M99 706.5l-1.6 .1m.5 -.3l-.5 .3 .6 .2M99 703.5l-1.7 .6m.5 -.5l-.5 .5 .7 .1M99 700.6l-1 1.3m.1 -.6l-.1 .6 .6 -.3M99 697.7l-.2 1.3m-.1 -.5l.1 .5 .3 -.4M99 694.7l-1.5 .5m.4 -.4l-.4 .4 .6 .1M99 691.8l-1.6 .2m.5 -.3l-.5 .3 .6 .2M99 688.9l.2 1.3m-.3 -.4l.3 .4 .1 -.5M99 685.9l-1.6 .5m.5 -.4l-.5 .4 .6 .1M99 683l.3 2m-.4 -.6l.4 .6 .2 -.7M99 680.1l0 1.5m-.3 -.5l.3 .5 .2 -.5M99 677.1l.4 1.9m-.4 -.6l.4 .6 .2 -.7M99 674.2l-1.5 .8m.4 -.5l-.4 .5 .6 0M99 671.3l-.1 1.6m-.2 -.6l.2 .6 .3 -.5M99 668.3l-.2 1.8m-.2 -.7l.2 .7 .4 -.6M99 665.4l-1.6 -.3m.6 -.2l-.6 .2 .5 .4M99 662.5l-.9 1.3m.1 -.6l-.1 .6 .5 -.3M99 659.5l-1.6 .6m.5 -.5l-.5 .5 .7 .1M99 656.6l-.9 1.3m.1 -.6l-.1 .6 .5 -.3M102.7 841.4l.2 1.7m-.4 -.6l.4 .6 .2 -.6M102.7 838.5l-1.9 .8m.5 -.6l-.5 .6 .8 0M102.7 835.5l0 1.4m-.2 -.5l.2 .5 .2 -.5M102.7 832.6l-1.1 1.2m.2 -.6l-.2 .6 .6 -.2M102.7 829.7l-1.7 1.1m.4 -.7l-.4 .7 .7 -.1M102.7 826.7l-1.6 .4m.5 -.4l-.5 .4 .6 .1M102.7 823.8l-1.4 1.2m.3 -.6l-.3 .6 .7 -.2M102.7 820.9l-.3 1.8m-.2 -.7l.2 .7 .4 -.6M102.7 817.9l0 1.4m-.2 -.5l.2 .5 .2 -.5M102.7 815l-1.7 -.1m.6 -.2l-.6 .2 .6 .3M102.7 812.1l-1.8 1m.4 -.6l-.4 .6 .8 -.1M102.7 809.1l-1.1 1.3m.2 -.6l-.2 .6 .6 -.3M102.7 806.2l-1.5 .4m.4 -.4l-.4 .4 .6 .1M102.7 803.3l-1.8 .3m.6 -.4l-.6 .4 .7 .2M102.7 800.3l-1.4 -.2m.5 -.2l-.5 .2 .4 .3M102.7 797.4l-.3 1.7m-.2 -.6l.2 .6 .4 -.5M102.7 794.5l-.1 1.5m-.2 -.5l.2 .5 .3 -.5M102.7 791.5l-1.5 1.3m.3 -.7l-.3 .7 .7 -.2M102.7 788.6l-1.4 1.1m.3 -.6l-.3 .6 .6 -.1M102.7 785.7l-.2 2m-.3 -.7l.3 .7 .4 -.6M102.7 782.7l-1 1.1m.2 -.6l-.2 .6 .5 -.2M102.7 779.8l-.9 1.1m.1 -.5l-.1 .5 .5 -.2M102.7 776.9l-1.4 1.5m.2 -.7l-.2 .7 .7 -.3M102.7 773.9l-.2 1.9m-.2 -.7l.2 .7 .4 -.6M102.7 771l-1.4 1.3m.3 -.7l-.3 .7 .7 -.2M102.7 768.1l-.7 1.7m0 -.7l0 .7 .5 -.4M102.7 765.1l-1 .7m.2 -.4l-.2 .4 .5 -.1M102.7 762.2l-.2 1.6m-.2 -.6l.2 .6 .3 -.5M102.7 759.3l.2 1.9m-.4 -.6l.4 .6 .2 -.7M102.7 756.3l-1 .9m.2 -.5l-.2 .5 .5 -.1M102.7 753.4l-1.9 .4m.6 -.4l-.6 .4 .7 .2M102.7 750.5l-.2 2m-.2 -.7l.2 .7 .4 -.6M102.7 747.5l-1.4 -.2m.5 -.2l-.5 .2 .4 .3M102.7 744.6l0 2m-.3 -.7l.3 .7 .3 -.7M102.7 741.7l-1.3 1m.3 -.6l-.3 .6 .6 -.1M102.7 738.7l-1 1.1m.2 -.6l-.2 .6 .5 -.2M102.7 735.8l-.1 1.3m-.2 -.5l.2 .5 .3 -.4M102.7 732.9l-1.8 .3m.6 -.4l-.6 .4 .7 .2M102.7 729.9l0 1.8m-.3 -.6l.3 .6 .3 -.6M102.7 727l-.2 1.7m-.2 -.6l.2 .6 .3 -.5M102.7 724.1l-.2 1.8m-.2 -.6l.2 .6 .4 -.6M102.7 721.1l-.1 1.5m-.2 -.5l.2 .5 .3 -.5M102.7 718.2l-1.1 .6m.3 -.4l-.3 .4 .5 0M102.7 715.3l.1 1.8m-.3 -.6l.3 .6 .3 -.6M102.7 712.3l-.8 1.7m0 -.7l0 .7 .6 -.4M102.7 709.4l-.3 1.9m-.2 -.7l.2 .7 .4 -.6M102.7 706.5l.2 1.3m-.3 -.4l.3 .4 .2 -.5M102.7 703.5l-1.4 .6m.4 -.5l-.4 .5 .6 0M102.7 700.6l-2 .2m.7 -.4l-.7 .4 .7 .3M102.7 697.7l-.6 1.5m0 -.6l0 .6 .5 -.4M102.7 694.7l-.9 1.3m.1 -.6l-.1 .6 .5 -.3M102.7 691.8l-1.2 1m.2 -.6l-.2 .6 .6 -.2M102.7 688.9l-.2 1.7m-.2 -.6l.2 .6 .3 -.5M102.7 685.9l-.3 1.4m-.1 -.5l.1 .5 .3 -.4M102.7 683l-1.6 .8m.4 -.5l-.4 .5 .7 0M102.7 680.1l-.3 1.6m-.2 -.6l.2 .6 .4 -.5M102.7 677.1l-1.9 -.4m.7 -.2l-.7 .2 .6 .4M102.7 674.2l-.5 1.5m-.1 -.6l.1 .6 .4 -.4M102.7 671.3l-1.1 1.6m.1 -.7l-.1 .7 .6 -.4M102.7 668.3l0 1.9m-.3 -.6l.3 .6 .3 -.6M102.7 665.4l-1.4 -.1m.5 -.2l-.5 .2 .5 .3M102.7 662.5l.2 1.3m-.3 -.4l.3 .4 .2 -.5M102.7 659.5l0 1.5m-.2 -.5l.2 .5 .3 -.5M102.7 656.6l-.1 1.4m-.2 -.5l.2 .5 .3 -.5M106.4 841.4l0 1.4m-.2 -.5l.2 .5 .2 -.5M106.4 838.5l.1 1.3m-.3 -.4l.3 .4 .2 -.5M106.4 835.5l-1.6 1.2m.4 -.7l-.4 .7 .8 -.1M106.4 832.6l-1.7 -.3m.6 -.2l-.6 .2 .5 .4M106.4 829.7l-1.1 1.3m.2 -.6l-.2 .6 .6 -.2M106.4 826.7l-1.3 1.1m.3 -.6l-.3 .6 .6 -.1M106.4 823.8l-1.5 1.4m.3 -.7l-.3 .7 .7 -.2M106.4 820.9l-1.8 .4m.6 -.4l-.6 .4 .7 .2M106.4 817.9l-1.2 .8m.3 -.5l-.3 .5 .5 -.1M106.4 815l-.2 1.5m-.2 -.6l.2 .6 .3 -.5M106.4 812.1l-.4 1.7m-.2 -.7l.2 .7 .4 -.5M106.4 809.1l-.3 1.6m-.2 -.6l.2 .6 .4 -.5M106.4 806.2l0 1.6m-.3 -.6l.3 .6 .3 -.6M106.4 803.3l-1.1 1.3m.2 -.6l-.2 .6 .6 -.2M106.4 800.3l-.2 1.8m-.2 -.6l.2 .6 .3 -.6M106.4 797.4l-1.7 .4m.5 -.4l-.5 .4 .6 .1M106.4 794.5l-1.2 1.5m.2 -.7l-.2 .7 .7 -.3M106.4 791.5l-1.9 .7m.5 -.6l-.5 .6 .8 .1M106.4 788.6l.1 1.5m-.3 -.5l.3 .5 .2 -.5M106.4 785.7l-.4 1.6m-.1 -.6l.1 .6 .4 -.5M106.4 782.7l-1.4 .3m.4 -.3l-.4 .3 .5 .1M106.4 779.8l-.9 1.3m.1 -.6l-.1 .6 .5 -.3M106.4 776.9l-1.2 1.2m.2 -.6l-.2 .6 .6 -.2M106.4 773.9l-.8 1.6m0 -.7l0 .7 .5 -.4M106.4 771l-1.7 1m.4 -.6l-.4 .6 .8 -.1M106.4 768.1l-1.5 1.2m.3 -.7l-.3 .7 .7 -.2M106.4 765.1l-1.9 .3m.6 -.4l-.6 .4 .7 .2M106.4 762.2l-1.4 .3m.4 -.3l-.4 .3 .5 .1M106.4 759.3l0 2m-.3 -.7l.3 .7 .4 -.7M106.4 756.3l-1.3 1.3m.2 -.7l-.2 .7 .7 -.2M106.4 753.4l0 1.4m-.2 -.5l.2 .5 .2 -.5M106.4 750.5l.2 1.9m-.4 -.6l.4 .6 .2 -.7M106.4 747.5l-.3 1.5m-.2 -.5l.2 .5 .3 -.5M106.4 744.6l0 1.7m-.3 -.6l.3 .6 .3 -.6M106.4 741.7l-.9 1m.1 -.5l-.1 .5 .5 -.2M106.4 738.7l-1.7 .3m.5 -.4l-.5 .4 .6 .2M106.4 735.8l-1.1 1.2m.2 -.6l-.2 .6 .6 -.2M106.4 732.9l-.2 1.8m-.2 -.6l.2 .6 .4 -.6M106.4 729.9l-.3 1.7m-.2 -.6l.2 .6 .4 -.5M106.4 727l-.2 1.7m-.2 -.6l.2 .6 .4 -.5M106.4 724.1l-.2 1.4m-.1 -.5l.1 .5 .3 -.4M106.4 721.1l-1.2 1m.2 -.5l-.2 .5 .6 -.1M106.4 718.2l-.2 1.4m-.1 -.5l.1 .5 .3 -.4M106.4 715.3l.3 1.7m-.4 -.5l.4 .5 .2 -.6M106.4 712.3l-.2 1.3m-.2 -.5l.2 .5 .3 -.4M106.4 709.4l-.2 1.6m-.2 -.6l.2 .6 .3 -.5M106.4 706.5l.3 1.8m-.4 -.6l.4 .6 .2 -.7M106.4 703.5l-1.2 1.7m.1 -.8l-.1 .8 .7 -.4M106.4 700.6l-1.1 1.1m.2 -.6l-.2 .6 .6 -.2M106.4 697.7l.2 1.4m-.3 -.4l.3 .4 .2 -.5M106.4 694.7l-.1 1.4m-.2 -.5l.2 .5 .3 -.5M106.4 691.8l-1.2 1.5m.2 -.7l-.2 .7 .7 -.3M106.4 688.9l.1 1.4m-.3 -.5l.3 .5 .2 -.5M106.4 685.9l-2 -.1m.7 -.3l-.7 .3 .7 .4M106.4 683l0 1.6m-.3 -.6l.3 .6 .3 -.6M106.4 680.1l-.1 1.5m-.2 -.5l.2 .5 .3 -.5M106.4 677.1l.1 2m-.4 -.6l.4 .6 .3 -.7M106.4 674.2l.2 1.6m-.3 -.5l.3 .5 .2 -.6M106.4 671.3l-1.6 .2m.5 -.3l-.5 .3 .6 .2M106.4 668.3l-1.3 .5m.3 -.4l-.3 .4 .5 0M106.4 665.4l-1.5 1.2m.3 -.7l-.3 .7 .7 -.2M106.4 662.5l-.2 1.5m-.2 -.5l.2 .5 .3 -.5M106.4 659.5l0 1.7m-.3 -.6l.3 .6 .3 -.6M106.4 656.6l-1.3 1.2m.3 -.6l-.3 .6 .7 -.2M110.2 841.4l.1 2m-.4 -.7l.4 .7 .3 -.7M110.2 838.5l-.1 2m-.3 -.7l.3 .7 .4 -.7M110.2 835.5l-.9 1m.1 -.5l-.1 .5 .5 -.2M110.2 832.6l.1 1.8m-.3 -.6l.3 .6 .3 -.6M110.2 829.7l-1.3 1m.3 -.6l-.3 .6 .6 -.1M110.2 826.7l-.1 1.9m-.3 -.7l.3 .7 .4 -.6M110.2 823.8l-2 .2m.7 -.4l-.7 .4 .7 .3M110.2 820.9l0 1.9m-.3 -.6l.3 .6 .3 -.6M110.2 817.9l.2 1.8m-.4 -.6l.4 .6 .2 -.7M110.2 815l-.1 1.6m-.2 -.6l.2 .6 .3 -.5M110.2 812.1l-1.2 1.4m.2 -.7l-.2 .7 .7 -.3M110.2 809.1l-1.5 .6m.4 -.4l-.4 .4 .6 0M110.2 806.2l-1.4 .3m.4 -.3l-.4 .3 .5 .1M110.2 803.3l0 1.7m-.3 -.6l.3 .6 .3 -.6M110.2 800.3l-.1 1.6m-.2 -.5l.2 .5 .3 -.5M110.2 797.4l.2 1.3m-.3 -.4l.3 .4 .1 -.5M110.2 794.5l-.1 1.3m-.2 -.5l.2 .5 .2 -.4M110.2 791.5l.2 1.3m-.3 -.4l.3 .4 .2 -.5M110.2 788.6l-1.3 1.1m.3 -.6l-.3 .6 .6 -.2M110.2 785.7l-1 1.3m.1 -.6l-.1 .6 .6 -.3M110.2 782.7l.3 1.9m-.4 -.6l.4 .6 .2 -.7M110.2 779.8l-1.5 -.2m.6 -.2l-.6 .2 .5 .3M110.2 776.9l.1 1.7m-.3 -.6l.3 .6 .3 -.6M110.2 773.9l-.1 1.8m-.2 -.6l.2 .6 .3 -.6M110.2 771l-1.5 -.1m.5 -.2l-.5 .2 .5 .3M110.2 768.1l.1 1.5m-.3 -.5l.3 .5 .2 -.5M110.2 765.1l-.2 1.5m-.2 -.5l.2 .5 .3 -.5M110.2 762.2l-.2 1.4m-.2 -.5l.2 .5 .3 -.5M110.2 759.3l-.2 1.6m-.2 -.6l.2 .6 .3 -.5M110.2 756.3l-.1 1.7m-.2 -.6l.2 .6 .3 -.6M110.2 753.4l-.3 2m-.2 -.7l.2 .7 .4 -.6M110.2 750.5l-1 1.3m.1 -.6l-.1 .6 .6 -.3M110.2 747.5l-.3 1.8m-.2 -.7l.2 .7 .4 -.6M110.2 744.6l-.5 1.8m-.1 -.7l.1 .7 .5 -.5M110.2 741.7l-1.8 .5m.5 -.5l-.5 .5 .7 .1M110.2 738.7l-.2 1.3m-.1 -.5l.1 .5 .3 -.4M110.2 735.8l-1.6 0m.6 -.3l-.6 .3 .6 .3M110.2 732.9l0 1.7m-.3 -.6l.3 .6 .3 -.6M110.2 729.9l-.3 1.7m-.2 -.6l.2 .6 .4 -.5M110.2 727l-1.5 .1m.5 -.3l-.5 .3 .5 .2M110.2 724.1l-.2 2m-.3 -.7l.3 .7 .4 -.6M110.2 721.1l-.3 1.5m-.1 -.5l.1 .5 .3 -.5M110.2 718.2l-1.3 .2m.4 -.3l-.4 .3 .5 .1M110.2 715.3l-1.2 .5m.3 -.4l-.3 .4 .5 0M110.2 712.3l-.2 1.4m-.2 -.5l.2 .5 .3 -.4M110.2 709.4l.1 1.4m-.3 -.5l.3 .5 .2 -.5M110.2 706.5l0 1.8m-.3 -.6l.3 .6 .3 -.6M110.2 703.5l-1.8 -.2m.7 -.2l-.7 .2 .6 .4M110.2 700.6l-1.6 .3m.5 -.4l-.5 .4 .6 .2M110.2 697.7l-.2 1.3m-.1 -.5l.1 .5 .3 -.4M110.2 694.7l-1.1 1.6m.1 -.7l-.1 .7 .6 -.4M110.2 691.8l-1.3 -.1m.5 -.2l-.5 .2 .4 .3M110.2 688.9l-1.6 -.1m.6 -.2l-.6 .2 .5 .3M110.2 685.9l-1.5 -.1m.5 -.2l-.5 .2 .5 .3M110.2 683l-1.6 0m.5 -.3l-.5 .3 .5 .3M110.2 680.1l.2 1.5m-.3 -.5l.3 .5 .2 -.5M110.2 677.1l.3 1.7m-.4 -.5l.4 .5 .2 -.6M110.2 674.2l0 1.4m-.2 -.5l.2 .5 .2 -.5M110.2 671.3l-.2 1.9m-.2 -.7l.2 .7 .4 -.6M110.2 668.3l-1 1.2m.1 -.6l-.1 .6 .5 -.2M110.2 665.4l-1.7 .3m.5 -.4l-.5 .4 .6 .2M110.2 662.5l-.2 1.3m-.1 -.5l.1 .5 .3 -.4M110.2 659.5l-1.1 1.1m.2 -.6l-.2 .6 .6 -.2M110.2 656.6l-.2 1.7m-.2 -.6l.2 .6 .4 -.6M113.9 841.4l-.2 1.8m-.2 -.6l.2 .6 .4 -.6M113.9 838.5l-.5 1.2m0 -.5l0 .5 .4 -.3M113.9 835.5l-1.7 .3m.5 -.4l-.5 .4 .6 .2M113.9 832.6l0 1.5m-.2 -.5l.2 .5 .2 -.5M113.9 829.7l-.8 1.1m.1 -.5l-.1 .5 .4 -.2M113.9 826.7l.2 1.3m-.3 -.4l.3 .4 .2 -.5M113.9 823.8l-.9 .9m.2 -.5l-.2 .5 .5 -.2M113.9 820.9l0 1.4m-.2 -.5l.2 .5 .2 -.5M113.9 817.9l.4 1.9m-.4 -.6l.4 .6 .2 -.7M113.9 815l-.3 1.8m-.2 -.7l.2 .7 .4 -.5M113.9 812.1l-1.4 .5m.4 -.4l-.4 .4 .6 .1M113.9 809.1l-1.1 1.4m.1 -.7l-.1 .7 .6 -.3M113.9 806.2l-1.7 .4m.5 -.4l-.5 .4 .6 .1M113.9 803.3l-.9 1.3m.1 -.6l-.1 .6 .5 -.3M113.9 800.3l-1 1.4m.1 -.6l-.1 .6 .6 -.3M113.9 797.4l.1 1.9m-.4 -.6l.4 .6 .3 -.7M113.9 794.5l-1.4 1m.3 -.6l-.3 .6 .6 -.1M113.9 791.5l-1.6 .3m.5 -.4l-.5 .4 .6 .2M113.9 788.6l.1 1.9m-.3 -.6l.3 .6 .3 -.7M113.9 785.7l0 1.9m-.3 -.6l.3 .6 .3 -.6M113.9 782.7l-1.1 1.3m.2 -.6l-.2 .6 .6 -.3M113.9 779.8l-1.5 .2m.5 -.3l-.5 .3 .5 .2M113.9 776.9l.1 1.9m-.3 -.6l.3 .6 .3 -.7M113.9 773.9l-.3 1.6m-.2 -.6l.2 .6 .4 -.5M113.9 771l-1.7 .8m.4 -.5l-.4 .5 .7 0M113.9 768.1l-1.3 -.1m.5 -.2l-.5 .2 .4 .3M113.9 765.1l0 1.5m-.3 -.5l.3 .5 .2 -.5M113.9 762.2l-1.5 .1m.5 -.3l-.5 .3 .5 .2M113.9 759.3l-.2 1.4m-.2 -.5l.2 .5 .3 -.5M113.9 756.3l-1.4 .7m.3 -.5l-.3 .5 .6 0M113.9 753.4l0 1.8m-.3 -.6l.3 .6 .3 -.6M113.9 750.5l-.3 1.7m-.2 -.6l.2 .6 .4 -.5M113.9 747.5l-.5 1.4m-.1 -.6l.1 .6 .4 -.4M113.9 744.6l-1.4 .9m.3 -.6l-.3 .6 .6 -.1M113.9 741.7l.3 1.9m-.4 -.6l.4 .6 .2 -.7M113.9 738.7l-.3 1.4m-.1 -.5l.1 .5 .3 -.4M113.9 735.8l-1.3 1m.3 -.6l-.3 .6 .6 -.1M113.9 732.9l-.1 1.4m-.2 -.5l.2 .5 .3 -.5M113.9 729.9l0 1.4m-.2 -.5l.2 .5 .2 -.5M113.9 727l-1.9 -.3m.7 -.2l-.7 .2 .6 .4M113.9 724.1l.2 1.9m-.4 -.6l.4 .6 .2 -.7M113.9 721.1l-1.4 .3m.4 -.3l-.4 .3 .5 .1M113.9 718.2l.1 1.6m-.3 -.5l.3 .5 .2 -.6M113.9 715.3l-1.3 1.2m.3 -.6l-.3 .6 .7 -.2M113.9 712.3l-1.5 .4m.5 -.4l-.5 .4 .6 .1M113.9 709.4l0 2m-.3 -.7l.3 .7 .3 -.7M113.9 706.5l-1.5 1.1m.3 -.6l-.3 .6 .7 -.1M113.9 703.5l-1.6 0m.5 -.3l-.5 .3 .5 .3M113.9 700.6l-1.7 .1m.6 -.3l-.6 .3 .6 .2M113.9 697.7l-.9 1.1m.1 -.5l-.1 .5 .5 -.2M113.9 694.7l-.9 1.2m.1 -.6l-.1 .6 .5 -.3M113.9 691.8l-1.1 1.2m.2 -.6l-.2 .6 .6 -.2M113.9 688.9l-1 1.1m.2 -.5l-.2 .5 .5 -.2M113.9 685.9l-1.9 -.2m.7 -.2l-.7 .2 .6 .4M113.9 683l-.1 1.3m-.2 -.5l.2 .5 .3 -.4M113.9 680.1l-.2 1.9m-.3 -.7l.3 .7 .4 -.6M113.9 677.1l-.5 1.8m-.1 -.7l.1 .7 .5 -.5M113.9 674.2l-1.4 .3m.4 -.3l-.4 .3 .5 .1M113.9 671.3l-1.1 .8m.3 -.5l-.3 .5 .5 -.1M113.9 668.3l-1.2 .5m.3 -.4l-.3 .4 .5 0M113.9 665.4l-.3 1.7m-.2 -.6l.2 .6 .4 -.5M113.9 662.5l-1.2 .6m.3 -.4l-.3 .4 .5 0M113.9 659.5l-1.2 1.3m.2 -.6l-.2 .6 .6 -.2M113.9 656.6l-.8 1.1m.1 -.5l-.1 .5 .5 -.2M117.6 841.4l-1.5 1.3m.3 -.7l-.3 .7 .7 -.2M117.6 838.5l-1.4 .5m.4 -.4l-.4 .4 .5 0M117.6 835.5l-1.3 1.6m.2 -.7l-.2 .7 .7 -.3M117.6 832.6l-1.2 1.3m.2 -.7l-.2 .7 .6 -.3M117.6 829.7l-.1 1.4m-.2 -.5l.2 .5 .3 -.5M117.6 826.7l-1.3 .9m.3 -.5l-.3 .5 .6 -.1M117.6 823.8l-1.2 1.3m.2 -.6l-.2 .6 .6 -.2M117.6 820.9l.2 2m-.4 -.7l.4 .7 .3 -.7M117.6 817.9l0 2m-.3 -.7l.3 .7 .3 -.7M117.6 815l-.1 1.6m-.2 -.6l.2 .6 .3 -.5M117.6 812.1l.2 1.7m-.3 -.5l.3 .5 .2 -.6M117.6 809.1l.1 1.5m-.3 -.5l.3 .5 .2 -.5M117.6 806.2l-1 1.2m.2 -.6l-.2 .6 .6 -.2M117.6 803.3l-.2 1.3m-.1 -.5l.1 .5 .3 -.4M117.6 800.3l.2 1.4m-.3 -.5l.3 .5 .2 -.5M117.6 797.4l-.5 1.5m-.1 -.6l.1 .6 .4 -.5M117.6 794.5l-1.7 .9m.4 -.6l-.4 .6 .7 0M117.6 791.5l.1 1.3m-.3 -.4l.3 .4 .2 -.5M117.6 788.6l-2 .2m.6 -.4l-.6 .4 .7 .3M117.6 785.7l-.4 2m-.2 -.7l.2 .7 .5 -.6M117.6 782.7l-.5 1.2m0 -.5l0 .5 .4 -.3M117.6 779.8l-1.6 0m.6 -.3l-.6 .3 .6 .3M117.6 776.9l-.4 1.8m-.1 -.7l.1 .7 .4 -.5M117.6 773.9l-1.4 1.4m.3 -.7l-.3 .7 .7 -.2M117.6 771l-1.1 .8m.2 -.4l-.2 .4 .5 -.1M117.6 768.1l-1.2 1.3m.2 -.6l-.2 .6 .6 -.3M117.6 765.1l.1 1.5m-.3 -.5l.3 .5 .2 -.5M117.6 762.2l.2 1.6m-.3 -.5l.3 .5 .2 -.6M117.6 759.3l-1 1.2m.1 -.6l-.1 .6 .5 -.2M117.6 756.3l.1 1.9m-.3 -.6l.3 .6 .3 -.6M117.6 753.4l-.1 1.8m-.3 -.6l.3 .6 .3 -.6M117.6 750.5l-.4 1.8m-.2 -.7l.2 .7 .4 -.6M117.6 747.5l-2 .1m.7 -.4l-.7 .4 .7 .3M117.6 744.6l-1.5 1.1m.3 -.6l-.3 .6 .7 -.1M117.6 741.7l.3 1.8m-.4 -.6l.4 .6 .2 -.7M117.6 738.7l-1.9 .2m.6 -.4l-.6 .4 .7 .3M117.6 735.8l.2 1.6m-.3 -.5l.3 .5 .2 -.6M117.6 732.9l-.4 1.6m-.1 -.6l.1 .6 .4 -.5M117.6 729.9l-.3 2m-.2 -.7l.2 .7 .4 -.6M117.6 727l-.9 .9m.2 -.5l-.2 .5 .5 -.2M117.6 724.1l-.1 1.7m-.2 -.6l.2 .6 .3 -.6M117.6 721.1l-1.6 .3m.5 -.4l-.5 .4 .6 .2M117.6 718.2l-1.8 .3m.6 -.4l-.6 .4 .6 .2M117.6 715.3l-1 .8m.2 -.5l-.2 .5 .5 -.1M117.6 712.3l.2 1.6m-.3 -.5l.3 .5 .2 -.6M117.6 709.4l.3 1.8m-.4 -.6l.4 .6 .2 -.7M117.6 706.5l-1.5 1.3m.3 -.7l-.3 .7 .7 -.2M117.6 703.5l.3 1.4m-.3 -.4l.3 .4 .1 -.5M117.6 700.6l0 1.9m-.3 -.7l.3 .7 .3 -.7M117.6 697.7l.2 1.4m-.3 -.4l.3 .4 .2 -.5M117.6 694.7l-.2 1.3m-.1 -.5l.1 .5 .3 -.4M117.6 691.8l.1 2m-.3 -.7l.3 .7 .3 -.7M117.6 688.9l-.4 1.3m-.1 -.5l.1 .5 .4 -.4M117.6 685.9l-.3 1.9m-.2 -.7l.2 .7 .4 -.6M117.6 683l-1.1 1.6m.1 -.7l-.1 .7 .6 -.4M117.6 680.1l-.2 1.7m-.2 -.6l.2 .6 .4 -.6M117.6 677.1l-.1 1.7m-.2 -.6l.2 .6 .3 -.6M117.6 674.2l-1.7 .2m.6 -.4l-.6 .4 .6 .2M117.6 671.3l-.1 1.7m-.2 -.6l.2 .6 .3 -.6M117.6 668.3l.4 1.9m-.4 -.6l.4 .6 .2 -.7M117.6 665.4l-.8 1.7m0 -.7l0 .7 .6 -.5M117.6 662.5l.1 1.3m-.3 -.4l.3 .4 .2 -.5M117.6 659.5l-.5 1.6m-.1 -.6l.1 .6 .4 -.5M117.6 656.6l-.1 1.4m-.2 -.5l.2 .5 .3 -.4M121.3 841.4l0 1.8m-.3 -.6l.3 .6 .3 -.6M121.3 838.5l-.1 1.9m-.3 -.7l.3 .7 .4 -.6M121.3 835.5l.4 1.8m-.4 -.6l.4 .6 .2 -.7M121.3 832.6l-.2 1.9m-.3 -.7l.3 .7 .4 -.6M121.3 829.7l-.1 1.6m-.2 -.6l.2 .6 .3 -.5M121.3 826.7l-1.7 -.2m.6 -.2l-.6 .2 .6 .4M121.3 823.8l.1 1.7m-.3 -.6l.3 .6 .2 -.6M121.3 820.9l-.1 1.6m-.3 -.6l.3 .6 .3 -.6M121.3 817.9l-1.5 .3m.5 -.4l-.5 .4 .6 .1M121.3 815l-.2 1.3m-.1 -.5l.1 .5 .3 -.4M121.3 812.1l-.2 1.5m-.2 -.5l.2 .5 .3 -.5M121.3 809.1l-1.4 1.2m.3 -.6l-.3 .6 .7 -.2M121.3 806.2l-1.7 .9m.5 -.6l-.5 .6 .7 0M121.3 803.3l-1.4 .3m.4 -.3l-.4 .3 .5 .1M121.3 800.3l-.8 1.7m0 -.7l0 .7 .5 -.5M121.3 797.4l-1.1 .8m.2 -.5l-.2 .5 .5 -.1M121.3 794.5l-1.8 .1m.6 -.3l-.6 .3 .6 .3M121.3 791.5l-.2 1.9m-.2 -.7l.2 .7 .4 -.6M121.3 788.6l-1.2 1m.2 -.5l-.2 .5 .6 -.2M121.3 785.7l-.3 1.4m-.1 -.5l.1 .5 .3 -.4M121.3 782.7l-1.3 .7m.3 -.5l-.3 .5 .6 0M121.3 779.8l-.1 1.7m-.2 -.6l.2 .6 .3 -.6M121.3 776.9l.2 2m-.4 -.6l.4 .6 .3 -.7M121.3 773.9l-.3 1.5m-.2 -.5l.2 .5 .3 -.5M121.3 771l-1.1 1.4m.2 -.7l-.2 .7 .6 -.3M121.3 768.1l.3 1.8m-.4 -.6l.4 .6 .2 -.7M121.3 765.1l-1.4 1.4m.2 -.7l-.2 .7 .7 -.3M121.3 762.2l-1.3 1.2m.3 -.6l-.3 .6 .7 -.2M121.3 759.3l-.1 1.7m-.2 -.6l.2 .6 .3 -.6M121.3 756.3l-.3 1.8m-.2 -.7l.2 .7 .4 -.6M121.3 753.4l-1.4 1.1m.3 -.6l-.3 .6 .6 -.1M121.3 750.5l-1 1.3m.1 -.6l-.1 .6 .6 -.3M121.3 747.5l.1 1.8m-.3 -.6l.3 .6 .3 -.6M121.3 744.6l.1 2m-.4 -.7l.4 .7 .3 -.7M121.3 741.7l-1.4 0m.5 -.2l-.5 .2 .5 .3M121.3 738.7l-1 1.1m.2 -.5l-.2 .5 .5 -.2M121.3 735.8l.1 1.3m-.3 -.4l.3 .4 .2 -.5M121.3 732.9l-1.3 .6m.4 -.4l-.4 .4 .5 0M121.3 729.9l-.1 1.6m-.2 -.5l.2 .5 .3 -.5M121.3 727l.3 1.9m-.4 -.6l.4 .6 .2 -.7M121.3 724.1l.1 1.8m-.3 -.6l.3 .6 .3 -.6M121.3 721.1l.3 2m-.4 -.6l.4 .6 .2 -.7M121.3 718.2l-.1 1.5m-.2 -.5l.2 .5 .3 -.5M121.3 715.3l-.5 1.7m-.1 -.7l.1 .7 .4 -.5M121.3 712.3l-1.6 -.1m.6 -.2l-.6 .2 .5 .3M121.3 709.4l-.4 1.4m-.1 -.6l.1 .6 .4 -.4M121.3 706.5l-.5 1.9m-.1 -.7l.1 .7 .5 -.6M121.3 703.5l-.5 1.4m-.1 -.6l.1 .6 .4 -.4M121.3 700.6l-.2 2m-.3 -.7l.3 .7 .4 -.6M121.3 697.7l-1.7 1m.4 -.6l-.4 .6 .7 -.1M121.3 694.7l-1.7 .8m.5 -.6l-.5 .6 .7 0M121.3 691.8l-1.6 1.1m.4 -.6l-.4 .6 .7 -.1M121.3 688.9l-1.4 1m.3 -.6l-.3 .6 .6 -.1M121.3 685.9l-.1 1.8m-.3 -.6l.3 .6 .3 -.6M121.3 683l-1.1 .8m.2 -.5l-.2 .5 .5 -.1M121.3 680.1l.1 1.3m-.2 -.4l.2 .4 .2 -.4M121.3 677.1l0 1.7m-.3 -.6l.3 .6 .3 -.6M121.3 674.2l.1 1.3m-.2 -.4l.2 .4 .2 -.5M121.3 671.3l-.2 1.3m-.2 -.5l.2 .5 .3 -.4M121.3 668.3l.2 1.7m-.4 -.6l.4 .6 .2 -.6M121.3 665.4l-.3 1.6m-.2 -.6l.2 .6 .4 -.5M121.3 662.5l-1.7 .1m.5 -.3l-.5 .3 .6 .2M121.3 659.5l-1.4 1.1m.3 -.6l-.3 .6 .7 -.2M121.3 656.6l.4 2m-.5 -.6l.5 .6 .2 -.7M125.1 841.4l-1.4 .6m.4 -.4l-.4 .4 .6 0M125.1 838.5l-.1 1.7m-.2 -.6l.2 .6 .3 -.6M125.1 835.5l.2 1.7m-.4 -.6l.4 .6 .2 -.6M125.1 832.6l-1.3 .7m.3 -.4l-.3 .4 .6 0M125.1 829.7l-1.2 1.4m.2 -.7l-.2 .7 .7 -.3M125.1 826.7l-.1 1.4m-.2 -.5l.2 .5 .3 -.5M125.1 823.8l-.2 1.5m-.2 -.5l.2 .5 .3 -.5M125.1 820.9l-1.3 .6m.4 -.4l-.4 .4 .6 0M125.1 817.9l-.2 1.5m-.2 -.5l.2 .5 .3 -.5M125.1 815l-.4 1.6m-.1 -.6l.1 .6 .4 -.5M125.1 812.1l-.9 1m.2 -.5l-.2 .5 .5 -.2M125.1 809.1l-.8 1.5m0 -.6l0 .6 .5 -.4M125.1 806.2l-.2 1.6m-.2 -.6l.2 .6 .3 -.5M125.1 803.3l-.3 1.7m-.2 -.6l.2 .6 .4 -.5M125.1 800.3l-1.3 1.3m.2 -.7l-.2 .7 .7 -.2M125.1 797.4l.3 1.8m-.4 -.6l.4 .6 .2 -.7M125.1 794.5l0 1.8m-.3 -.6l.3 .6 .3 -.6M125.1 791.5l-.3 1.8m-.2 -.7l.2 .7 .4 -.6M125.1 788.6l-1.3 1.5m.2 -.7l-.2 .7 .7 -.3M125.1 785.7l-.2 1.4m-.2 -.5l.2 .5 .3 -.4M125.1 782.7l-1.6 -.1m.6 -.2l-.6 .2 .5 .3M125.1 779.8l-.7 1.7m0 -.7l0 .7 .5 -.5M125.1 776.9l-1.3 1.1m.3 -.6l-.3 .6 .6 -.2M125.1 773.9l-.2 1.5m-.2 -.5l.2 .5 .3 -.5M125.1 771l-.6 1.7m-.1 -.7l.1 .7 .5 -.5M125.1 768.1l-1.8 .1m.6 -.3l-.6 .3 .6 .3M125.1 765.1l0 1.9m-.3 -.6l.3 .6 .3 -.6M125.1 762.2l-.1 1.3m-.2 -.5l.2 .5 .3 -.4M125.1 759.3l-.2 1.8m-.2 -.7l.2 .7 .4 -.6M125.1 756.3l-.1 1.8m-.3 -.6l.3 .6 .3 -.6M125.1 753.4l-.5 1.4m-.1 -.6l.1 .6 .4 -.4M125.1 750.5l.2 1.9m-.4 -.6l.4 .6 .3 -.7M125.1 747.5l-.2 2m-.3 -.7l.3 .7 .4 -.7M125.1 744.6l-1 1.2m.2 -.6l-.2 .6 .5 -.2M125.1 741.7l-.2 1.5m-.2 -.5l.2 .5 .3 -.5M125.1 738.7l.2 1.5m-.3 -.5l.3 .5 .2 -.5M125.1 735.8l-1.3 .9m.3 -.5l-.3 .5 .6 -.1M125.1 732.9l-1.4 .3m.4 -.4l-.4 .4 .5 .1M125.1 729.9l-.2 1.9m-.3 -.7l.3 .7 .4 -.6M125.1 727l-1.7 .9m.4 -.6l-.4 .6 .7 0M125.1 724.1l-1.4 1.3m.3 -.7l-.3 .7 .7 -.2M125.1 721.1l-1.4 .7m.4 -.5l-.4 .5 .6 0M125.1 718.2l-1.4 1.2m.3 -.6l-.3 .6 .7 -.2M125.1 715.3l.1 1.3m-.3 -.4l.3 .4 .2 -.5M125.1 712.3l-1.3 1.5m.2 -.7l-.2 .7 .7 -.3M125.1 709.4l-1.1 .8m.3 -.5l-.3 .5 .5 -.1M125.1 706.5l.3 1.7m-.4 -.5l.4 .5 .2 -.6M125.1 703.5l-1.8 .6m.5 -.5l-.5 .5 .7 .1M125.1 700.6l.1 1.8m-.3 -.6l.3 .6 .3 -.6M125.1 697.7l-1.3 1.3m.2 -.6l-.2 .6 .6 -.2M125.1 694.7l-.1 1.9m-.3 -.7l.3 .7 .3 -.6M125.1 691.8l-.4 2m-.2 -.7l.2 .7 .4 -.6M125.1 688.9l.1 1.4m-.3 -.5l.3 .5 .2 -.5M125.1 685.9l-1.3 -.3m.5 -.1l-.5 .1 .4 .3M125.1 683l-.3 1.5m-.2 -.6l.2 .6 .3 -.5M125.1 680.1l-.2 1.5m-.2 -.5l.2 .5 .3 -.5M125.1 677.1l-1.4 1.2m.3 -.6l-.3 .6 .7 -.2M125.1 674.2l.3 1.9m-.4 -.6l.4 .6 .2 -.7M125.1 671.3l.1 2m-.4 -.7l.4 .7 .3 -.7M125.1 668.3l-1 1m.2 -.5l-.2 .5 .5 -.2M125.1 665.4l.2 1.6m-.3 -.5l.3 .5 .2 -.6M125.1 662.5l.1 1.5m-.3 -.5l.3 .5 .2 -.5M125.1 659.5l.1 1.5m-.3 -.5l.3 .5 .2 -.5M125.1 656.6l0 1.8m-.3 -.6l.3 .6 .3 -.6M128.8 841.4l-1.1 1.7m.1 -.8l-.1 .8 .7 -.4M128.8 838.5l-.6 1.4m0 -.6l0 .6 .4 -.4M128.8 835.5l-1.1 1.3m.1 -.6l-.1 .6 .6 -.3M128.8 832.6l-2 -.2m.7 -.2l-.7 .2 .6 .4M128.8 829.7l.2 1.4m-.3 -.4l.3 .4 .2 -.5M128.8 826.7l-1.2 1.1m.2 -.6l-.2 .6 .6 -.2M128.8 823.8l-1.6 .3m.5 -.4l-.5 .4 .6 .2M128.8 820.9l-.3 1.5m-.2 -.6l.2 .6 .3 -.5M128.8 817.9l-1.2 1.6m.1 -.7l-.1 .7 .7 -.3M128.8 815l-1.5 .6m.4 -.5l-.4 .5 .6 0M128.8 812.1l-1.5 .4m.5 -.4l-.5 .4 .6 .1M128.8 809.1l-.4 1.6m-.1 -.6l.1 .6 .4 -.5M128.8 806.2l-.1 1.4m-.2 -.5l.2 .5 .3 -.4M128.8 803.3l.1 1.9m-.4 -.6l.4 .6 .3 -.7M128.8 800.3l-1.9 -.2m.7 -.2l-.7 .2 .6 .4M128.8 797.4l-1.7 .8m.5 -.6l-.5 .6 .7 0M128.8 794.5l-.1 1.6m-.2 -.6l.2 .6 .3 -.5M128.8 791.5l0 1.5m-.2 -.5l.2 .5 .3 -.5M128.8 788.6l-2 .6m.6 -.5l-.6 .5 .8 .1M128.8 785.7l-.2 1.4m-.2 -.5l.2 .5 .3 -.5M128.8 782.7l-.7 1.1m.1 -.5l-.1 .5 .4 -.2M128.8 779.8l0 2m-.3 -.7l.3 .7 .3 -.7M128.8 776.9l-1.4 1.4m.2 -.7l-.2 .7 .7 -.3M128.8 773.9l-1.2 1.1m.2 -.6l-.2 .6 .6 -.2M128.8 771l0 1.5m-.3 -.5l.3 .5 .2 -.5M128.8 768.1l.1 1.3m-.2 -.4l.2 .4 .2 -.5M128.8 765.1l0 1.5m-.2 -.5l.2 .5 .3 -.5M128.8 762.2l-1.8 .4m.5 -.4l-.5 .4 .7 .2M128.8 759.3l-1.5 -.1m.5 -.2l-.5 .2 .5 .3M128.8 756.3l-.2 1.3m-.1 -.5l.1 .5 .3 -.4M128.8 753.4l-1.9 .6m.6 -.5l-.6 .5 .8 .1M128.8 750.5l-1 .8m.2 -.4l-.2 .4 .5 -.1M128.8 747.5l-.2 1.6m-.2 -.6l.2 .6 .3 -.5M128.8 744.6l-.9 1.1m.1 -.5l-.1 .5 .5 -.2M128.8 741.7l-1.3 .7m.3 -.5l-.3 .5 .6 0M128.8 738.7l-1.9 -.2m.7 -.2l-.7 .2 .6 .4M128.8 735.8l-.2 2m-.3 -.7l.3 .7 .4 -.6M128.8 732.9l.2 2m-.4 -.7l.4 .7 .3 -.7M128.8 729.9l.2 1.7m-.4 -.6l.4 .6 .2 -.6M128.8 727l-1.7 .6m.5 -.5l-.5 .5 .7 .1M128.8 724.1l.2 1.6m-.3 -.5l.3 .5 .2 -.6M128.8 721.1l-.1 1.3m-.2 -.5l.2 .5 .2 -.4M128.8 718.2l-1.3 1.2m.2 -.6l-.2 .6 .6 -.2M128.8 715.3l-1.3 1.3m.2 -.7l-.2 .7 .7 -.2M128.8 712.3l-1.4 1.3m.3 -.7l-.3 .7 .7 -.2M128.8 709.4l-1.1 1m.2 -.5l-.2 .5 .5 -.2M128.8 706.5l-.3 2m-.2 -.7l.2 .7 .4 -.6M128.8 703.5l-1.4 1.2m.3 -.7l-.3 .7 .7 -.2M128.8 700.6l.1 1.4m-.3 -.5l.3 .5 .2 -.5M128.8 697.7l.4 1.9m-.4 -.6l.4 .6 .2 -.7M128.8 694.7l.1 1.3m-.3 -.4l.3 .4 .2 -.5M128.8 691.8l-1 1.4m.1 -.7l-.1 .7 .6 -.3M128.8 688.9l-1.3 .2m.4 -.3l-.4 .3 .5 .1M128.8 685.9l.1 1.5m-.3 -.5l.3 .5 .2 -.5M128.8 683l-.2 1.5m-.2 -.5l.2 .5 .3 -.5M128.8 680.1l-1.4 1.2m.3 -.6l-.3 .6 .7 -.2M128.8 677.1l-1.9 .3m.6 -.4l-.6 .4 .7 .2M128.8 674.2l-.9 1.1m.1 -.5l-.1 .5 .5 -.2M128.8 671.3l-1 1.1m.2 -.5l-.2 .5 .5 -.2M128.8 668.3l.2 1.3m-.3 -.4l.3 .4 .1 -.5M128.8 665.4l.3 1.6m-.4 -.5l.4 .5 .2 -.6M128.8 662.5l-1.7 1.2m.4 -.7l-.4 .7 .8 -.1M128.8 659.5l0 1.7m-.3 -.6l.3 .6 .3 -.6M128.8 656.6l.4 1.9m-.4 -.6l.4 .6 .2 -.7M132.5 841.4l-1.2 1m.3 -.5l-.3 .5 .6 -.1M132.5 838.5l-.2 1.4m-.2 -.5l.2 .5 .3 -.4M132.5 835.5l-.1 1.3m-.2 -.5l.2 .5 .2 -.4M132.5 832.6l.1 1.5m-.3 -.5l.3 .5 .2 -.5M132.5 829.7l-1.1 .6m.3 -.4l-.3 .4 .5 0M132.5 826.7l-1.2 1m.2 -.6l-.2 .6 .6 -.2M132.5 823.8l-.9 1.1m.1 -.5l-.1 .5 .5 -.2M132.5 820.9l-1.4 1.2m.3 -.7l-.3 .7 .7 -.2M132.5 817.9l-.7 1.5m0 -.6l0 .6 .5 -.4M132.5 815l0 1.5m-.2 -.5l.2 .5 .2 -.5M132.5 812.1l.1 1.9m-.3 -.6l.3 .6 .3 -.7M132.5 809.1l-.2 1.6m-.2 -.6l.2 .6 .3 -.5M132.5 806.2l-1.2 1m.3 -.5l-.3 .5 .6 -.1M132.5 803.3l-.7 1.8m0 -.7l0 .7 .5 -.5M132.5 800.3l.2 1.4m-.3 -.5l.3 .5 .2 -.5M132.5 797.4l-1.6 1.1m.4 -.7l-.4 .7 .7 -.1M132.5 794.5l-2 -.2m.7 -.3l-.7 .3 .6 .4M132.5 791.5l-1.5 0m.5 -.3l-.5 .3 .5 .2M132.5 788.6l-.1 1.9m-.3 -.7l.3 .7 .3 -.6M132.5 785.7l-.2 1.5m-.2 -.6l.2 .6 .3 -.5M132.5 782.7l.1 1.3m-.3 -.4l.3 .4 .2 -.5M132.5 779.8l.4 1.9m-.5 -.6l.5 .6 .2 -.7M132.5 776.9l-.3 1.6m-.2 -.6l.2 .6 .4 -.5M132.5 773.9l-1.3 1.2m.2 -.6l-.2 .6 .6 -.2M132.5 771l-1.1 1.1m.2 -.6l-.2 .6 .6 -.2M132.5 768.1l-.2 1.7m-.2 -.6l.2 .6 .4 -.6M132.5 765.1l-1.6 .2m.5 -.3l-.5 .3 .6 .2M132.5 762.2l0 1.5m-.2 -.5l.2 .5 .3 -.5M132.5 759.3l-.4 1.2m-.1 -.5l.1 .5 .3 -.4M132.5 756.3l-.2 2m-.2 -.7l.2 .7 .4 -.6M132.5 753.4l-.2 1.8m-.2 -.7l.2 .7 .4 -.6M132.5 750.5l.3 1.7m-.4 -.5l.4 .5 .2 -.6M132.5 747.5l.2 1.3m-.3 -.4l.3 .4 .1 -.5M132.5 744.6l-1.8 0m.6 -.3l-.6 .3 .6 .3M132.5 741.7l-1.9 .6m.5 -.5l-.5 .5 .7 .1M132.5 738.7l-1 1m.2 -.5l-.2 .5 .5 -.2M132.5 735.8l0 1.8m-.3 -.6l.3 .6 .3 -.6M132.5 732.9l-1.4 -.1m.5 -.2l-.5 .2 .4 .3M132.5 729.9l-1.1 1.2m.2 -.6l-.2 .6 .6 -.2M132.5 727l-.2 1.4m-.2 -.5l.2 .5 .3 -.5M132.5 724.1l.1 1.5m-.3 -.5l.3 .5 .2 -.5M132.5 721.1l-1.2 1.2m.2 -.6l-.2 .6 .6 -.2M132.5 718.2l-.3 1.4m-.1 -.5l.1 .5 .3 -.4M132.5 715.3l-2 .4m.6 -.5l-.6 .5 .7 .2M132.5 712.3l-1.8 -.3m.6 -.2l-.6 .2 .6 .4M132.5 709.4l-1.3 -.1m.5 -.2l-.5 .2 .4 .3M132.5 706.5l-.3 1.5m-.2 -.6l.2 .6 .3 -.5M132.5 703.5l-1.5 1.3m.3 -.7l-.3 .7 .7 -.2M132.5 700.6l-1.9 -.3m.7 -.2l-.7 .2 .6 .4M132.5 697.7l.2 1.8m-.4 -.6l.4 .6 .2 -.6M132.5 694.7l-.3 1.5m-.1 -.6l.1 .6 .3 -.5M132.5 691.8l-1.4 1.2m.3 -.6l-.3 .6 .7 -.2M132.5 688.9l-.3 1.5m-.2 -.6l.2 .6 .4 -.5M132.5 685.9l.1 1.7m-.3 -.6l.3 .6 .2 -.6M132.5 683l-.2 1.6m-.2 -.6l.2 .6 .3 -.5M132.5 680.1l-1.1 .6m.3 -.4l-.3 .4 .5 0M132.5 677.1l-1.6 1.2m.3 -.7l-.3 .7 .7 -.2M132.5 674.2l-1.4 .5m.4 -.4l-.4 .4 .6 .1M132.5 671.3l-1.7 -.2m.6 -.2l-.6 .2 .5 .3M132.5 668.3l.2 1.6m-.3 -.5l.3 .5 .2 -.6M132.5 665.4l-.2 1.3m-.1 -.5l.1 .5 .3 -.4M132.5 662.5l.2 1.7m-.3 -.6l.3 .6 .2 -.6M132.5 659.5l-1.1 1.6m.1 -.7l-.1 .7 .6 -.4M132.5 656.6l-1.3 1.2m.3 -.6l-.3 .6 .6 -.2M136.2 841.4l-1.9 .5m.6 -.5l-.6 .5 .7 .2M136.2 838.5l-.2 2m-.3 -.7l.3 .7 .4 -.6M136.2 835.5l-1 1.3m.1 -.6l-.1 .6 .6 -.3M136.2 832.6l-.2 1.7m-.2 -.6l.2 .6 .4 -.6M136.2 829.7l-.1 1.6m-.2 -.6l.2 .6 .3 -.5M136.2 826.7l.4 2m-.5 -.6l.5 .6 .2 -.7M136.2 823.8l-1.3 1.2m.2 -.6l-.2 .6 .7 -.2M136.2 820.9l.3 1.7m-.4 -.5l.4 .5 .2 -.6M136.2 817.9l.1 1.8m-.3 -.6l.3 .6 .3 -.6M136.2 815l-1.4 0m.5 -.2l-.5 .2 .5 .2M136.2 812.1l-.6 1.7m-.1 -.7l.1 .7 .5 -.5M136.2 809.1l-1.3 .4m.4 -.4l-.4 .4 .5 .1M136.2 806.2l-1.3 1.2m.2 -.6l-.2 .6 .6 -.2M136.2 803.3l.2 1.5m-.3 -.5l.3 .5 .2 -.6M136.2 800.3l-1.4 .5m.4 -.4l-.4 .4 .6 0M136.2 797.4l-.1 1.6m-.2 -.6l.2 .6 .3 -.5M136.2 794.5l-.6 1.6m-.1 -.7l.1 .7 .5 -.5M136.2 791.5l.3 1.6m-.4 -.5l.4 .5 .2 -.6M136.2 788.6l-.4 1.6m-.1 -.6l.1 .6 .4 -.5M136.2 785.7l0 1.9m-.3 -.6l.3 .6 .3 -.7M136.2 782.7l-.3 2m-.2 -.7l.2 .7 .4 -.6M136.2 779.8l-.1 1.5m-.2 -.5l.2 .5 .3 -.5M136.2 776.9l-1 .9m.2 -.5l-.2 .5 .5 -.1M136.2 773.9l-.2 1.4m-.2 -.5l.2 .5 .3 -.4M136.2 771l-1.1 1.4m.1 -.6l-.1 .6 .6 -.3M136.2 768.1l-.4 1.9m-.2 -.7l.2 .7 .5 -.6M136.2 765.1l-.1 1.5m-.2 -.5l.2 .5 .3 -.5M136.2 762.2l-1 .9m.2 -.5l-.2 .5 .5 -.1M136.2 759.3l-1.2 1.3m.2 -.6l-.2 .6 .6 -.2M136.2 756.3l-.3 1.8m-.2 -.6l.2 .6 .4 -.6M136.2 753.4l-1.9 0m.6 -.3l-.6 .3 .6 .3M136.2 750.5l-.1 1.6m-.2 -.6l.2 .6 .3 -.5M136.2 747.5l.3 1.5m-.3 -.5l.3 .5 .1 -.6M136.2 744.6l-1.5 .2m.5 -.3l-.5 .3 .5 .2M136.2 741.7l-.1 1.5m-.2 -.5l.2 .5 .3 -.5M136.2 738.7l.3 1.8m-.4 -.6l.4 .6 .2 -.7M136.2 735.8l-1.4 1.5m.2 -.7l-.2 .7 .7 -.3M136.2 732.9l-.2 1.3m-.2 -.5l.2 .5 .3 -.4M136.2 729.9l-1 .9m.2 -.5l-.2 .5 .5 -.1M136.2 727l-.2 1.9m-.3 -.7l.3 .7 .4 -.6M136.2 724.1l-.8 1.7m0 -.7l0 .7 .6 -.4M136.2 721.1l-.1 1.8m-.3 -.6l.3 .6 .3 -.6M136.2 718.2l.2 1.9m-.4 -.6l.4 .6 .2 -.7M136.2 715.3l-1.3 1m.3 -.6l-.3 .6 .6 -.1M136.2 712.3l.2 1.9m-.4 -.6l.4 .6 .2 -.7M136.2 709.4l-.1 1.3m-.2 -.5l.2 .5 .2 -.4M136.2 706.5l-.9 .9m.2 -.5l-.2 .5 .5 -.2M136.2 703.5l.3 1.7m-.4 -.5l.4 .5 .2 -.6M136.2 700.6l-1.3 .3m.4 -.3l-.4 .3 .5 .1M136.2 697.7l-.1 1.8m-.3 -.6l.3 .6 .3 -.6M136.2 694.7l-.3 1.7m-.2 -.6l.2 .6 .4 -.5M136.2 691.8l-1 .8m.2 -.4l-.2 .4 .5 -.1M136.2 688.9l-.3 1.9m-.2 -.7l.2 .7 .4 -.6M136.2 685.9l-1 1.2m.1 -.6l-.1 .6 .5 -.3M136.2 683l.1 1.4m-.2 -.5l.2 .5 .2 -.5M136.2 680.1l-.1 1.4m-.2 -.5l.2 .5 .3 -.5M136.2 677.1l-.3 1.3m-.1 -.5l.1 .5 .3 -.4M136.2 674.2l-1.9 .7m.5 -.6l-.5 .6 .8 .1M136.2 671.3l-1.8 .6m.5 -.5l-.5 .5 .7 .1M136.2 668.3l-1.6 .3m.5 -.4l-.5 .4 .6 .2M136.2 665.4l-.4 1.9m-.2 -.7l.2 .7 .4 -.6M136.2 662.5l-.2 1.5m-.2 -.5l.2 .5 .3 -.5M136.2 659.5l.3 1.8m-.4 -.6l.4 .6 .2 -.7M136.2 656.6l.3 1.9m-.4 -.6l.4 .6 .2 -.7M139.9 841.4l-1.2 1.1m.2 -.6l-.2 .6 .6 -.2M139.9 838.5l-1.2 1.3m.2 -.6l-.2 .6 .6 -.2M139.9 835.5l-1.3 1.2m.2 -.6l-.2 .6 .6 -.2M139.9 832.6l-.1 1.6m-.2 -.6l.2 .6 .3 -.5M139.9 829.7l-.4 2m-.2 -.7l.2 .7 .5 -.6M139.9 826.7l-.2 1.4m-.2 -.5l.2 .5 .3 -.4M139.9 823.8l-.1 1.6m-.2 -.6l.2 .6 .3 -.5M139.9 820.9l-.1 1.4m-.2 -.5l.2 .5 .3 -.5M139.9 817.9l-1.6 .9m.4 -.6l-.4 .6 .7 -.1M139.9 815l.1 1.4m-.3 -.5l.3 .5 .2 -.5M139.9 812.1l-.3 1.7m-.2 -.6l.2 .6 .4 -.5M139.9 809.1l.2 1.9m-.4 -.6l.4 .6 .2 -.7M139.9 806.2l0 1.9m-.3 -.7l.3 .7 .3 -.7M139.9 803.3l-1 .9m.2 -.5l-.2 .5 .5 -.1M139.9 800.3l-1.2 .9m.2 -.5l-.2 .5 .6 -.1M139.9 797.4l-.1 1.8m-.3 -.6l.3 .6 .3 -.6M139.9 794.5l-1.1 1.1m.2 -.6l-.2 .6 .6 -.2M139.9 791.5l.3 1.5m-.4 -.5l.4 .5 .1 -.6M139.9 788.6l-.3 1.9m-.2 -.7l.2 .7 .4 -.6M139.9 785.7l-.2 1.8m-.2 -.7l.2 .7 .4 -.6M139.9 782.7l0 1.9m-.3 -.7l.3 .7 .3 -.7M139.9 779.8l-.1 1.9m-.3 -.7l.3 .7 .4 -.6M139.9 776.9l-.4 1.9m-.2 -.7l.2 .7 .4 -.6M139.9 773.9l-1.9 .3m.6 -.4l-.6 .4 .7 .2M139.9 771l.1 1.5m-.3 -.5l.3 .5 .2 -.5M139.9 768.1l-.1 1.3m-.2 -.5l.2 .5 .3 -.4M139.9 765.1l-1.4 .5m.4 -.4l-.4 .4 .5 .1M139.9 762.2l-.2 2m-.3 -.7l.3 .7 .4 -.6M139.9 759.3l-.2 1.3m-.2 -.5l.2 .5 .3 -.4M139.9 756.3l.1 1.8m-.3 -.6l.3 .6 .3 -.6M139.9 753.4l-.3 1.6m-.2 -.6l.2 .6 .4 -.5M139.9 750.5l-1.3 1.4m.2 -.7l-.2 .7 .7 -.3M139.9 747.5l-.2 1.4m-.1 -.5l.1 .5 .3 -.4M139.9 744.6l-.4 1.4m-.1 -.5l.1 .5 .4 -.4M139.9 741.7l-.2 2m-.3 -.7l.3 .7 .4 -.6M139.9 738.7l-2 .4m.6 -.5l-.6 .5 .7 .2M139.9 735.8l.2 1.5m-.3 -.5l.3 .5 .2 -.5M139.9 732.9l-1 1.1m.2 -.5l-.2 .5 .5 -.2M139.9 729.9l-1 .9m.2 -.5l-.2 .5 .5 -.2M139.9 727l-.3 1.7m-.2 -.6l.2 .6 .4 -.5M139.9 724.1l-.2 1.6m-.2 -.6l.2 .6 .3 -.5M139.9 721.1l-2 .3m.6 -.4l-.6 .4 .7 .2M139.9 718.2l-1.4 .1m.5 -.3l-.5 .3 .5 .2M139.9 715.3l.1 1.4m-.3 -.5l.3 .5 .2 -.5M139.9 712.3l-.2 1.6m-.2 -.6l.2 .6 .3 -.5M139.9 709.4l-1.1 .8m.3 -.5l-.3 .5 .5 -.1M139.9 706.5l-1 .9m.2 -.5l-.2 .5 .5 -.1M139.9 703.5l-1.4 .7m.4 -.5l-.4 .5 .6 0M139.9 700.6l-1.9 .6m.5 -.5l-.5 .5 .7 .1M139.9 697.7l-.6 1.3m0 -.5l0 .5 .4 -.4M139.9 694.7l.2 2m-.4 -.6l.4 .6 .2 -.7M139.9 691.8l-.1 1.9m-.3 -.7l.3 .7 .4 -.6M139.9 688.9l-.2 1.9m-.2 -.7l.2 .7 .4 -.6M139.9 685.9l-1.6 1.2m.3 -.7l-.3 .7 .8 -.2M139.9 683l-.4 2m-.2 -.7l.2 .7 .5 -.6M139.9 680.1l.3 1.5m-.4 -.5l.4 .5 .1 -.6M139.9 677.1l.1 1.8m-.3 -.6l.3 .6 .3 -.6M139.9 674.2l.2 1.5m-.3 -.5l.3 .5 .2 -.5M139.9 671.3l.1 1.5m-.3 -.5l.3 .5 .2 -.5M139.9 668.3l-1.7 .6m.5 -.5l-.5 .5 .7 .1M139.9 665.4l.4 1.9m-.4 -.6l.4 .6 .2 -.7M139.9 662.5l-.3 1.7m-.2 -.6l.2 .6 .4 -.5M139.9 659.5l-1.1 .8m.2 -.5l-.2 .5 .5 -.1M139.9 656.6l-.9 1.3m.1 -.6l-.1 .6 .5 -.3M143.7 841.4l-1.3 0m.5 -.2l-.5 .2 .5 .2M143.7 838.5l-1.5 1.2m.3 -.7l-.3 .7 .7 -.2M143.7 835.5l-.9 1.3m.1 -.6l-.1 .6 .5 -.3M143.7 832.6l.3 1.5m-.3 -.5l.3 .5 .2 -.6M143.7 829.7l-.1 1.4m-.2 -.5l.2 .5 .3 -.4M143.7 826.7l-1.3 0m.5 -.2l-.5 .2 .4 .2M143.7 823.8l-.8 1m.1 -.5l-.1 .5 .4 -.2M143.7 820.9l-1.5 .6m.4 -.5l-.4 .5 .6 0M143.7 817.9l-1.7 -.2m.6 -.2l-.6 .2 .5 .3M143.7 815l-1.3 1.1m.3 -.6l-.3 .6 .6 -.1M143.7 812.1l.1 1.5m-.3 -.5l.3 .5 .2 -.5M143.7 809.1l-.3 1.6m-.1 -.6l.1 .6 .4 -.5M143.7 806.2l-.5 1.3m0 -.5l0 .5 .4 -.4M143.7 803.3l0 2m-.3 -.7l.3 .7 .3 -.7M143.7 800.3l-.1 1.6m-.2 -.6l.2 .6 .3 -.5M143.7 797.4l-1.1 .8m.3 -.5l-.3 .5 .5 -.1M143.7 794.5l-1.5 .8m.4 -.5l-.4 .5 .6 0M143.7 791.5l-.1 1.7m-.3 -.6l.3 .6 .3 -.6M143.7 788.6l-.5 1.7m-.1 -.7l.1 .7 .5 -.5M143.7 785.7l-1.4 0m.5 -.2l-.5 .2 .5 .2M143.7 782.7l.3 1.9m-.4 -.6l.4 .6 .2 -.7M143.7 779.8l-.6 1.6m-.1 -.7l.1 .7 .5 -.5M143.7 776.9l-.3 2m-.2 -.7l.2 .7 .4 -.6M143.7 773.9l-.8 1m.1 -.5l-.1 .5 .5 -.2M143.7 771l-1 1m.2 -.5l-.2 .5 .5 -.2M143.7 768.1l.4 2m-.5 -.6l.5 .6 .2 -.7M143.7 765.1l-1.6 -.3m.6 -.2l-.6 .2 .5 .4M143.7 762.2l.2 1.5m-.3 -.5l.3 .5 .2 -.6M143.7 759.3l-1 1.2m.2 -.6l-.2 .6 .6 -.2M143.7 756.3l-1.6 -.3m.6 -.2l-.6 .2 .5 .4M143.7 753.4l.2 1.4m-.3 -.4l.3 .4 .2 -.5M143.7 750.5l-1.4 1.4m.3 -.7l-.3 .7 .7 -.2M143.7 747.5l.2 1.4m-.3 -.4l.3 .4 .1 -.5M143.7 744.6l-.2 1.4m-.1 -.5l.1 .5 .3 -.4M143.7 741.7l-.3 1.7m-.2 -.6l.2 .6 .4 -.5M143.7 738.7l-1.1 1.5m.1 -.7l-.1 .7 .6 -.3M143.7 735.8l-1.5 .5m.4 -.4l-.4 .4 .6 .1M143.7 732.9l-1.2 .9m.3 -.5l-.3 .5 .6 -.1M143.7 729.9l-1.3 .3m.4 -.3l-.4 .3 .5 .1M143.7 727l-.6 1.9m-.1 -.7l.1 .7 .5 -.6M143.7 724.1l-.1 1.7m-.2 -.6l.2 .6 .3 -.6M143.7 721.1l-1.3 1.3m.2 -.7l-.2 .7 .7 -.2M143.7 718.2l-1.4 .8m.3 -.5l-.3 .5 .6 0M143.7 715.3l-.1 1.4m-.2 -.5l.2 .5 .3 -.5M143.7 712.3l-1.3 0m.4 -.2l-.4 .2 .5 .2M143.7 709.4l.2 2m-.4 -.7l.4 .7 .3 -.7M143.7 706.5l-.6 1.6m-.1 -.7l.1 .7 .5 -.5M143.7 703.5l-1.7 .5m.5 -.4l-.5 .4 .7 .1M143.7 700.6l-1.7 .8m.5 -.6l-.5 .6 .7 0M143.7 697.7l0 1.6m-.3 -.6l.3 .6 .3 -.5M143.7 694.7l-.1 1.6m-.2 -.6l.2 .6 .3 -.5M143.7 691.8l-1.2 .8m.3 -.5l-.3 .5 .5 -.1M143.7 688.9l-1.5 1.1m.3 -.6l-.3 .6 .7 -.1M143.7 685.9l-1.5 .8m.4 -.5l-.4 .5 .7 0M143.7 683l-1.5 .8m.4 -.5l-.4 .5 .6 0M143.7 680.1l.2 1.9m-.4 -.6l.4 .6 .3 -.7M143.7 677.1l-.4 1.5m-.1 -.6l.1 .6 .4 -.4M143.7 674.2l-.1 1.3m-.2 -.5l.2 .5 .3 -.4M143.7 671.3l-1.5 1.4m.3 -.7l-.3 .7 .7 -.2M143.7 668.3l-.2 1.5m-.2 -.5l.2 .5 .3 -.5M143.7 665.4l-1.3 .7m.3 -.5l-.3 .5 .6 0M143.7 662.5l-.8 1.7m0 -.7l0 .7 .6 -.5M143.7 659.5l-.6 1.4m0 -.6l0 .6 .4 -.4M143.7 656.6l.1 1.8m-.3 -.6l.3 .6 .3 -.6M147.4 841.4l-.2 1.8m-.2 -.7l.2 .7 .4 -.6M147.4 838.5l-.1 2m-.3 -.7l.3 .7 .4 -.7M147.4 835.5l-1.6 -.1m.6 -.2l-.6 .2 .5 .3M147.4 832.6l-.2 1.4m-.2 -.5l.2 .5 .3 -.4M147.4 829.7l-1.2 1.6m.1 -.7l-.1 .7 .7 -.4M147.4 826.7l-1.9 .8m.5 -.6l-.5 .6 .8 0M147.4 823.8l-.2 1.4m-.2 -.5l.2 .5 .3 -.4M147.4 820.9l-.6 1.8m-.1 -.7l.1 .7 .5 -.5M147.4 817.9l.1 1.8m-.3 -.6l.3 .6 .3 -.6M147.4 815l-1.2 .6m.3 -.4l-.3 .4 .5 0M147.4 812.1l-1.7 .6m.5 -.5l-.5 .5 .7 .1M147.4 809.1l-1.3 .9m.3 -.5l-.3 .5 .6 -.1M147.4 806.2l-1.1 1.6m.1 -.7l-.1 .7 .7 -.4M147.4 803.3l-1.1 1.1m.2 -.6l-.2 .6 .5 -.2M147.4 800.3l-1.4 1.1m.3 -.6l-.3 .6 .7 -.1M147.4 797.4l-.4 1.4m-.1 -.5l.1 .5 .4 -.4M147.4 794.5l-1.2 1.1m.2 -.6l-.2 .6 .6 -.2M147.4 791.5l-.2 1.3m-.1 -.5l.1 .5 .3 -.4M147.4 788.6l.2 1.9m-.4 -.6l.4 .6 .3 -.7M147.4 785.7l.3 1.9m-.4 -.6l.4 .6 .2 -.7M147.4 782.7l.2 1.3m-.3 -.4l.3 .4 .1 -.5M147.4 779.8l-.1 1.9m-.3 -.7l.3 .7 .3 -.6M147.4 776.9l.3 1.8m-.4 -.6l.4 .6 .2 -.7M147.4 773.9l.2 1.3m-.3 -.4l.3 .4 .1 -.5M147.4 771l-1.1 .8m.2 -.5l-.2 .5 .5 -.1M147.4 768.1l-1.3 1.2m.2 -.6l-.2 .6 .6 -.2M147.4 765.1l-.9 1.3m.1 -.6l-.1 .6 .5 -.3M147.4 762.2l-1.9 .5m.5 -.5l-.5 .5 .7 .1M147.4 759.3l-1.8 .6m.5 -.5l-.5 .5 .7 .1M147.4 756.3l0 1.7m-.3 -.6l.3 .6 .3 -.6M147.4 753.4l-.1 1.6m-.2 -.6l.2 .6 .3 -.5M147.4 750.5l-.2 1.7m-.2 -.6l.2 .6 .3 -.6M147.4 747.5l.2 1.8m-.4 -.6l.4 .6 .2 -.6M147.4 744.6l-.3 1.4m-.1 -.5l.1 .5 .3 -.4M147.4 741.7l-.2 1.5m-.2 -.6l.2 .6 .3 -.5M147.4 738.7l0 1.6m-.3 -.6l.3 .6 .3 -.5M147.4 735.8l.3 1.7m-.4 -.5l.4 .5 .2 -.6M147.4 732.9l-.2 1.6m-.2 -.6l.2 .6 .3 -.5M147.4 729.9l-2 0m.7 -.3l-.7 .3 .7 .3M147.4 727l-1.3 .9m.3 -.5l-.3 .5 .6 -.1M147.4 724.1l0 1.7m-.3 -.6l.3 .6 .3 -.6M147.4 721.1l.2 1.8m-.4 -.6l.4 .6 .2 -.7M147.4 718.2l.3 1.9m-.4 -.6l.4 .6 .2 -.7M147.4 715.3l-1.4 .3m.4 -.3l-.4 .3 .5 .1M147.4 712.3l-1.7 .7m.5 -.5l-.5 .5 .7 0M147.4 709.4l-1 1.4m.1 -.6l-.1 .6 .6 -.3M147.4 706.5l-.4 1.8m-.2 -.7l.2 .7 .4 -.5M147.4 703.5l-2 .3m.6 -.4l-.6 .4 .7 .2M147.4 700.6l-1.3 .2m.4 -.3l-.4 .3 .5 .2M147.4 697.7l-.1 1.9m-.3 -.7l.3 .7 .3 -.6M147.4 694.7l-1.4 0m.5 -.2l-.5 .2 .5 .2M147.4 691.8l-1.9 -.1m.7 -.3l-.7 .3 .6 .4M147.4 688.9l.2 2m-.4 -.6l.4 .6 .3 -.7M147.4 685.9l-1.2 1.1m.2 -.6l-.2 .6 .6 -.2M147.4 683l-1.7 .6m.5 -.5l-.5 .5 .7 .1M147.4 680.1l.2 1.7m-.4 -.5l.4 .5 .2 -.6M147.4 677.1l-.3 1.9m-.2 -.7l.2 .7 .4 -.6M147.4 674.2l.1 1.5m-.3 -.5l.3 .5 .2 -.5M147.4 671.3l0 1.4m-.2 -.5l.2 .5 .2 -.5M147.4 668.3l-.2 1.8m-.2 -.7l.2 .7 .4 -.6M147.4 665.4l-1.3 .7m.3 -.5l-.3 .5 .6 0M147.4 662.5l-.2 2m-.3 -.7l.3 .7 .4 -.7M147.4 659.5l-1.4 .5m.4 -.4l-.4 .4 .6 0M147.4 656.6l-.3 2m-.2 -.7l.2 .7 .4 -.6M151.1 841.4l-1.3 .3m.4 -.3l-.4 .3 .5 .1M151.1 838.5l-.6 1.3m0 -.5l0 .5 .4 -.3M151.1 835.5l-1.3 1.5m.2 -.7l-.2 .7 .7 -.3M151.1 832.6l-.3 1.9m-.2 -.7l.2 .7 .4 -.6M151.1 829.7l-.9 1.1m.1 -.5l-.1 .5 .5 -.2M151.1 826.7l-1.3 1.4m.2 -.7l-.2 .7 .7 -.3M151.1 823.8l-1.4 .1m.5 -.3l-.5 .3 .5 .2M151.1 820.9l.2 1.4m-.3 -.4l.3 .4 .1 -.5M151.1 817.9l-.1 2m-.3 -.7l.3 .7 .4 -.7M151.1 815l.2 1.5m-.3 -.5l.3 .5 .2 -.5M151.1 812.1l.1 1.4m-.3 -.5l.3 .5 .2 -.5M151.1 809.1l.2 1.3m-.3 -.4l.3 .4 .1 -.5M151.1 806.2l-1.5 .2m.5 -.3l-.5 .3 .5 .2M151.1 803.3l.1 1.8m-.3 -.6l.3 .6 .3 -.6M151.1 800.3l.3 1.9m-.4 -.6l.4 .6 .2 -.7M151.1 797.4l0 1.6m-.3 -.6l.3 .6 .3 -.5M151.1 794.5l-1.4 .6m.4 -.4l-.4 .4 .6 0M151.1 791.5l-.4 1.5m-.1 -.6l.1 .6 .4 -.5M151.1 788.6l-2 -.4m.7 -.2l-.7 .2 .6 .5M151.1 785.7l-1.3 .3m.4 -.3l-.4 .3 .5 .1M151.1 782.7l.1 1.5m-.3 -.5l.3 .5 .2 -.5M151.1 779.8l-.2 2m-.3 -.7l.3 .7 .4 -.6M151.1 776.9l-.3 1.6m-.2 -.6l.2 .6 .4 -.5M151.1 773.9l-.9 .9m.2 -.5l-.2 .5 .5 -.2M151.1 771l-.2 1.3m-.1 -.5l.1 .5 .3 -.4M151.1 768.1l-.2 1.3m-.1 -.5l.1 .5 .3 -.4M151.1 765.1l-1.4 .4m.4 -.4l-.4 .4 .6 .1M151.1 762.2l-.1 1.3m-.2 -.5l.2 .5 .2 -.4M151.1 759.3l-1.5 1.1m.3 -.6l-.3 .6 .7 -.1M151.1 756.3l-1.4 .4m.4 -.4l-.4 .4 .5 .1M151.1 753.4l-.2 1.5m-.2 -.6l.2 .6 .3 -.5M151.1 750.5l.1 1.3m-.3 -.4l.3 .4 .2 -.5M151.1 747.5l-.3 1.7m-.2 -.6l.2 .6 .4 -.5M151.1 744.6l-1.1 1.6m.1 -.7l-.1 .7 .6 -.4M151.1 741.7l-.2 1.7m-.2 -.6l.2 .6 .4 -.5M151.1 738.7l.1 1.4m-.3 -.4l.3 .4 .2 -.5M151.1 735.8l.2 1.4m-.3 -.5l.3 .5 .2 -.5M151.1 732.9l-1.6 1.1m.4 -.6l-.4 .6 .7 -.1M151.1 729.9l.2 1.4m-.3 -.4l.3 .4 .1 -.5M151.1 727l-1.4 .3m.4 -.3l-.4 .3 .5 .1M151.1 724.1l-1.5 .8m.4 -.5l-.4 .5 .7 0M151.1 721.1l-1 .9m.2 -.5l-.2 .5 .5 -.2M151.1 718.2l-1 1.4m.1 -.7l-.1 .7 .6 -.3M151.1 715.3l.1 1.7m-.3 -.6l.3 .6 .3 -.6M151.1 712.3l.2 1.5m-.3 -.5l.3 .5 .2 -.6M151.1 709.4l-1 .8m.2 -.5l-.2 .5 .5 -.1M151.1 706.5l-.2 1.9m-.2 -.7l.2 .7 .4 -.6M151.1 703.5l-1.1 1.1m.2 -.6l-.2 .6 .6 -.2M151.1 700.6l-1.3 .3m.4 -.3l-.4 .3 .5 .1M151.1 697.7l.2 1.6m-.3 -.5l.3 .5 .2 -.6M151.1 694.7l-.4 1.9m-.2 -.7l.2 .7 .5 -.6M151.1 691.8l-1.2 .9m.2 -.5l-.2 .5 .6 -.1M151.1 688.9l.2 1.5m-.3 -.5l.3 .5 .2 -.5M151.1 685.9l0 1.4m-.2 -.5l.2 .5 .2 -.5M151.1 683l-1.4 .9m.3 -.6l-.3 .6 .6 -.1M151.1 680.1l-.9 1m.1 -.5l-.1 .5 .5 -.2M151.1 677.1l.2 1.7m-.3 -.5l.3 .5 .2 -.6M151.1 674.2l-1.3 -.1m.5 -.2l-.5 .2 .4 .3M151.1 671.3l-1.9 .7m.5 -.5l-.5 .5 .8 .1M151.1 668.3l-1.4 1.2m.3 -.6l-.3 .6 .7 -.2M151.1 665.4l0 2m-.3 -.7l.3 .7 .3 -.7M151.1 662.5l-.7 1.5m0 -.6l0 .6 .5 -.4M151.1 659.5l-1.6 -.1m.5 -.2l-.5 .2 .5 .3M151.1 656.6l-.6 1.3m0 -.5l0 .5 .4 -.3M154.8 841.4l-1.3 .4m.4 -.4l-.4 .4 .5 .1M154.8 838.5l.3 1.3m-.3 -.4l.3 .4 .1 -.5M154.8 835.5l.3 1.7m-.4 -.5l.4 .5 .2 -.6M154.8 832.6l-1.2 1.6m.1 -.7l-.1 .7 .7 -.3M154.8 829.7l-.7 1.7m-.1 -.7l.1 .7 .5 -.5M154.8 826.7l.1 1.6m-.3 -.5l.3 .5 .2 -.6M154.8 823.8l-.2 1.6m-.2 -.6l.2 .6 .3 -.5M154.8 820.9l-1.4 1m.3 -.6l-.3 .6 .6 -.1M154.8 817.9l0 1.4m-.2 -.5l.2 .5 .2 -.5M154.8 815l-1.2 1.6m.1 -.7l-.1 .7 .7 -.3M154.8 812.1l-1.4 1.2m.3 -.6l-.3 .6 .7 -.2M154.8 809.1l-.1 1.8m-.3 -.6l.3 .6 .3 -.6M154.8 806.2l-.2 1.9m-.2 -.7l.2 .7 .4 -.6M154.8 803.3l-.1 1.9m-.3 -.7l.3 .7 .4 -.6M154.8 800.3l0 2m-.3 -.7l.3 .7 .3 -.7M154.8 797.4l-1.4 1.3m.3 -.7l-.3 .7 .7 -.2M154.8 794.5l-1.4 .5m.4 -.4l-.4 .4 .6 .1M154.8 791.5l.2 1.4m-.3 -.4l.3 .4 .2 -.5M154.8 788.6l-1 1.4m.1 -.6l-.1 .6 .6 -.3M154.8 785.7l-1.7 .9m.4 -.6l-.4 .6 .7 0M154.8 782.7l-.2 1.6m-.2 -.6l.2 .6 .3 -.5M154.8 779.8l.2 1.8m-.4 -.6l.4 .6 .2 -.7M154.8 776.9l-.4 1.3m-.1 -.5l.1 .5 .4 -.4M154.8 773.9l.4 1.9m-.4 -.6l.4 .6 .2 -.7M154.8 771l.1 1.5m-.3 -.5l.3 .5 .2 -.5M154.8 768.1l-1.4 -.1m.5 -.2l-.5 .2 .5 .3M154.8 765.1l-1.8 .3m.5 -.4l-.5 .4 .7 .2M154.8 762.2l-1.6 -.2m.6 -.2l-.6 .2 .5 .3M154.8 759.3l0 1.3m-.2 -.5l.2 .5 .2 -.5M154.8 756.3l-.1 1.8m-.3 -.6l.3 .6 .3 -.6M154.8 753.4l-.2 1.7m-.2 -.6l.2 .6 .3 -.6M154.8 750.5l-.9 1m.1 -.5l-.1 .5 .5 -.2M154.8 747.5l-.1 1.9m-.3 -.7l.3 .7 .4 -.6M154.8 744.6l-.1 1.6m-.3 -.6l.3 .6 .3 -.6M154.8 741.7l-1.8 .4m.5 -.4l-.5 .4 .7 .2M154.8 738.7l-2 -.3m.7 -.2l-.7 .2 .6 .4M154.8 735.8l.2 1.3m-.3 -.4l.3 .4 .2 -.5M154.8 732.9l0 1.3m-.2 -.5l.2 .5 .2 -.5M154.8 729.9l-1.3 .2m.4 -.3l-.4 .3 .5 .1M154.8 727l0 2m-.3 -.7l.3 .7 .3 -.7M154.8 724.1l-1.3 1.3m.2 -.6l-.2 .6 .6 -.2M154.8 721.1l-.3 1.2m-.1 -.5l.1 .5 .3 -.4M154.8 718.2l.2 1.4m-.3 -.4l.3 .4 .2 -.5M154.8 715.3l-1.4 .9m.3 -.6l-.3 .6 .6 -.1M154.8 712.3l-2 -.3m.7 -.2l-.7 .2 .6 .4M154.8 709.4l-1.1 .7m.2 -.4l-.2 .4 .5 -.1M154.8 706.5l-1.1 1.1m.2 -.6l-.2 .6 .5 -.2M154.8 703.5l-1.8 .5m.5 -.5l-.5 .5 .7 .1M154.8 700.6l-.8 1.2m.1 -.5l-.1 .5 .5 -.3M154.8 697.7l-.2 1.3m-.2 -.5l.2 .5 .3 -.4M154.8 694.7l-.1 1.3m-.2 -.5l.2 .5 .2 -.4M154.8 691.8l-1.6 1.1m.4 -.6l-.4 .6 .7 -.1M154.8 688.9l.2 1.6m-.3 -.5l.3 .5 .2 -.6M154.8 685.9l-1.3 0m.5 -.2l-.5 .2 .4 .2M154.8 683l-1.9 .2m.6 -.4l-.6 .4 .7 .2M154.8 680.1l-1.3 .5m.3 -.4l-.3 .4 .5 0M154.8 677.1l-.2 1.4m-.2 -.5l.2 .5 .3 -.4M154.8 674.2l0 1.7m-.3 -.6l.3 .6 .3 -.6M154.8 671.3l-1.7 .4m.5 -.4l-.5 .4 .7 .2M154.8 668.3l-1.5 .4m.4 -.4l-.4 .4 .6 .1M154.8 665.4l-1.6 .7m.4 -.5l-.4 .5 .7 0M154.8 662.5l-1.2 1.4m.2 -.7l-.2 .7 .7 -.3M154.8 659.5l-.3 1.5m-.2 -.6l.2 .6 .4 -.5M154.8 656.6l.1 1.7m-.3 -.6l.3 .6 .3 -.6M158.5 841.4l-1.1 1.1m.2 -.6l-.2 .6 .5 -.2M158.5 838.5l-.4 2m-.2 -.7l.2 .7 .5 -.6M158.5 835.5l-1.1 .9m.2 -.5l-.2 .5 .5 -.1M158.5 832.6l-2 -.3m.7 -.2l-.7 .2 .6 .4M158.5 829.7l-.2 1.3m-.1 -.5l.1 .5 .3 -.4M158.5 826.7l-1.1 1.4m.1 -.7l-.1 .7 .6 -.3M158.5 823.8l-1 1.2m.1 -.6l-.1 .6 .5 -.3M158.5 820.9l-1.1 .6m.3 -.4l-.3 .4 .5 0M158.5 817.9l-.2 1.4m-.2 -.5l.2 .5 .3 -.4M158.5 815l-.1 1.5m-.2 -.5l.2 .5 .3 -.5M158.5 812.1l0 1.4m-.2 -.5l.2 .5 .3 -.5M158.5 809.1l-.1 1.8m-.3 -.6l.3 .6 .3 -.6M158.5 806.2l.1 1.6m-.3 -.5l.3 .5 .2 -.5M158.5 803.3l-.2 1.3m-.1 -.5l.1 .5 .3 -.4M158.5 800.3l-1.5 -.1m.5 -.2l-.5 .2 .5 .3M158.5 797.4l-.2 1.5m-.2 -.6l.2 .6 .3 -.5M158.5 794.5l0 1.7m-.3 -.6l.3 .6 .3 -.6M158.5 791.5l-1.7 .4m.5 -.4l-.5 .4 .7 .2M158.5 788.6l-.7 1.9m-.1 -.8l.1 .8 .6 -.5M158.5 785.7l.1 1.6m-.3 -.5l.3 .5 .2 -.6M158.5 782.7l.2 1.4m-.3 -.5l.3 .5 .2 -.5M158.5 779.8l-.7 1.8m-.1 -.7l.1 .7 .5 -.5M158.5 776.9l-1.1 1.5m.1 -.7l-.1 .7 .6 -.3M158.5 773.9l-.3 1.9m-.2 -.7l.2 .7 .4 -.6M158.5 771l-1.3 .7m.3 -.4l-.3 .4 .6 0M158.5 768.1l-1.8 .7m.5 -.5l-.5 .5 .7 .1M158.5 765.1l-1.4 1m.3 -.6l-.3 .6 .6 -.1M158.5 762.2l0 1.4m-.2 -.5l.2 .5 .3 -.5M158.5 759.3l-1 1.4m.1 -.6l-.1 .6 .6 -.3M158.5 741.7l-.5 1.9m-.1 -.7l.1 .7 .5 -.6M158.5 738.7l-1.2 1.6m.1 -.7l-.1 .7 .7 -.3M158.5 735.8l-1.3 1.5m.2 -.7l-.2 .7 .7 -.3M158.5 732.9l-.3 1.7m-.2 -.6l.2 .6 .4 -.5M158.5 729.9l-.3 1.4m-.1 -.5l.1 .5 .3 -.4M158.5 727l-1.7 .7m.5 -.5l-.5 .5 .7 0M158.5 724.1l-1.4 1.3m.3 -.7l-.3 .7 .7 -.2M158.5 721.1l-1.6 1.2m.3 -.7l-.3 .7 .7 -.2M158.5 718.2l-.2 1.5m-.2 -.5l.2 .5 .3 -.5M158.5 715.3l-2 .3m.6 -.4l-.6 .4 .7 .2M158.5 712.3l-1.4 .5m.4 -.4l-.4 .4 .6 .1M158.5 709.4l-1.2 1m.2 -.5l-.2 .5 .6 -.1M158.5 706.5l-1.3 .9m.3 -.5l-.3 .5 .6 -.1M158.5 703.5l.1 1.9m-.3 -.6l.3 .6 .3 -.7M158.5 700.6l-.8 1.1m.1 -.5l-.1 .5 .5 -.2M158.5 697.7l-1.6 .8m.4 -.5l-.4 .5 .7 0M158.5 694.7l0 1.5m-.2 -.5l.2 .5 .3 -.5M158.5 691.8l-1.6 1.1m.4 -.6l-.4 .6 .7 -.1M158.5 688.9l-.1 2m-.3 -.7l.3 .7 .4 -.7M158.5 685.9l.1 1.7m-.3 -.5l.3 .5 .2 -.6M158.5 683l-.3 1.6m-.2 -.6l.2 .6 .4 -.5M158.5 680.1l-1.1 1.5m.1 -.7l-.1 .7 .6 -.3M158.5 677.1l-1.5 .3m.5 -.4l-.5 .4 .6 .2M158.5 674.2l0 1.8m-.3 -.6l.3 .6 .3 -.6M158.5 671.3l-.2 1.6m-.2 -.6l.2 .6 .3 -.5M158.5 668.3l-.7 1.1m.1 -.5l-.1 .5 .4 -.2M158.5 665.4l-2 .4m.6 -.5l-.6 .5 .7 .2M158.5 662.5l.2 1.6m-.4 -.5l.4 .5 .2 -.6M158.5 659.5l-.1 1.4m-.2 -.5l.2 .5 .3 -.5M158.5 656.6l0 1.6m-.3 -.6l.3 .6 .3 -.6M162.3 841.4l-1.7 -.1m.6 -.3l-.6 .3 .6 .3M162.3 838.5l-.3 1.3m-.1 -.5l.1 .5 .3 -.4M162.3 835.5l-.2 1.5m-.2 -.5l.2 .5 .3 -.5M162.3 832.6l-.3 1.3m-.1 -.5l.1 .5 .3 -.4M162.3 829.7l-.2 1.4m-.2 -.5l.2 .5 .3 -.4M162.3 826.7l-1.5 -.2m.5 -.2l-.5 .2 .5 .3M162.3 823.8l-.2 1.9m-.2 -.7l.2 .7 .4 -.6M162.3 820.9l0 1.6m-.3 -.6l.3 .6 .3 -.6M162.3 817.9l.1 1.8m-.3 -.6l.3 .6 .3 -.6M162.3 815l-1 1.1m.2 -.6l-.2 .6 .5 -.2M162.3 812.1l-1.5 1.1m.3 -.6l-.3 .6 .7 -.1M162.3 809.1l-1 1.3m.1 -.6l-.1 .6 .6 -.3M162.3 806.2l-1.3 .5m.4 -.4l-.4 .4 .5 .1M162.3 803.3l-1.5 .2m.5 -.3l-.5 .3 .5 .2M162.3 800.3l-1.7 -.2m.6 -.2l-.6 .2 .5 .4M162.3 797.4l.3 1.6m-.4 -.5l.4 .5 .2 -.6M162.3 794.5l-.4 1.4m-.1 -.5l.1 .5 .4 -.4M162.3 791.5l-1.1 1.2m.2 -.6l-.2 .6 .6 -.2M162.3 788.6l0 1.6m-.3 -.6l.3 .6 .3 -.6M162.3 785.7l-.3 1.6m-.2 -.6l.2 .6 .4 -.5M162.3 782.7l-.4 1.5m-.1 -.6l.1 .6 .4 -.5M162.3 779.8l-1 1.2m.1 -.6l-.1 .6 .5 -.3M162.3 776.9l.1 1.8m-.3 -.6l.3 .6 .3 -.6M162.3 773.9l-1.4 1.3m.3 -.7l-.3 .7 .7 -.2M162.3 771l.2 1.3m-.3 -.4l.3 .4 .1 -.5M162.3 768.1l-.3 2m-.2 -.7l.2 .7 .4 -.6M162.3 765.1l.2 1.5m-.3 -.5l.3 .5 .2 -.6M162.3 735.8l-1.3 .5m.4 -.4l-.4 .4 .5 .1M162.3 732.9l-2 -.2m.7 -.3l-.7 .3 .6 .4M162.3 729.9l-1.3 .2m.4 -.3l-.4 .3 .5 .1M162.3 727l-.7 1.4m0 -.6l0 .6 .5 -.4M162.3 724.1l-1.8 -.1m.6 -.2l-.6 .2 .6 .3M162.3 721.1l-1.1 1.5m.1 -.7l-.1 .7 .6 -.3M162.3 718.2l0 1.9m-.3 -.7l.3 .7 .3 -.7M162.3 715.3l.2 1.5m-.3 -.5l.3 .5 .2 -.5M162.3 712.3l-1 1m.2 -.5l-.2 .5 .5 -.2M162.3 709.4l.1 1.4m-.2 -.5l.2 .5 .2 -.5M162.3 706.5l.1 2m-.4 -.7l.4 .7 .3 -.7M162.3 703.5l.2 1.6m-.3 -.5l.3 .5 .2 -.6M162.3 700.6l-1.3 0m.4 -.2l-.4 .2 .4 .2M162.3 697.7l-.2 1.7m-.2 -.6l.2 .6 .3 -.6M162.3 694.7l-.6 1.9m-.1 -.7l.1 .7 .5 -.5M162.3 691.8l-1.7 .4m.5 -.4l-.5 .4 .7 .1M162.3 688.9l-1.1 1.1m.2 -.6l-.2 .6 .6 -.2M162.3 685.9l0 1.7m-.3 -.6l.3 .6 .3 -.6M162.3 683l-1.1 1.2m.2 -.6l-.2 .6 .6 -.2M162.3 680.1l-.3 1.8m-.2 -.7l.2 .7 .4 -.6M162.3 677.1l-.4 1.4m-.1 -.5l.1 .5 .4 -.4M162.3 674.2l-1.1 .6m.3 -.4l-.3 .4 .5 0M162.3 671.3l.3 1.8m-.4 -.6l.4 .6 .2 -.7M162.3 668.3l-1.8 .3m.5 -.4l-.5 .4 .7 .2M162.3 665.4l0 1.7m-.3 -.6l.3 .6 .3 -.6M162.3 662.5l-.7 1.5m0 -.6l0 .6 .5 -.4M162.3 659.5l-.2 1.7m-.2 -.6l.2 .6 .4 -.5M162.3 656.6l-1.2 1.4m.2 -.7l-.2 .7 .6 -.3M166 841.4l-1.7 .7m.4 -.5l-.4 .5 .7 0M166 838.5l.2 2m-.4 -.6l.4 .6 .3 -.7M166 835.5l-.1 1.3m-.2 -.5l.2 .5 .2 -.4M166 832.6l-1.2 1m.3 -.5l-.3 .5 .6 -.1M166 829.7l.2 1.9m-.4 -.6l.4 .6 .2 -.7M166 826.7l.2 1.3m-.3 -.4l.3 .4 .1 -.5M166 823.8l-.9 1m.2 -.5l-.2 .5 .5 -.2M166 820.9l.3 1.9m-.4 -.6l.4 .6 .2 -.7M166 817.9l.2 1.7m-.3 -.5l.3 .5 .2 -.6M166 815l0 1.6m-.3 -.6l.3 .6 .3 -.6M166 812.1l-2 -.3m.7 -.2l-.7 .2 .6 .4M166 809.1l-1.6 1.1m.4 -.6l-.4 .6 .7 -.1M166 806.2l-.1 1.7m-.3 -.6l.3 .6 .3 -.6M166 803.3l-1.7 1.1m.4 -.7l-.4 .7 .8 -.1M166 800.3l-.9 1m.1 -.5l-.1 .5 .5 -.2M166 797.4l-.1 1.4m-.2 -.5l.2 .5 .3 -.5M166 794.5l-1 .9m.2 -.5l-.2 .5 .5 -.1M166 791.5l-1.4 1.3m.3 -.7l-.3 .7 .7 -.2M166 788.6l.2 1.5m-.3 -.5l.3 .5 .2 -.6M166 785.7l.2 1.6m-.3 -.5l.3 .5 .2 -.6M166 782.7l-.5 1.2m0 -.5l0 .5 .4 -.3M166 779.8l-.2 1.3m-.1 -.5l.1 .5 .3 -.4M166 776.9l.2 1.5m-.3 -.5l.3 .5 .2 -.5M166 773.9l-1.2 1.1m.2 -.6l-.2 .6 .6 -.2M166 771l0 1.5m-.2 -.5l.2 .5 .3 -.5M166 768.1l-.3 1.7m-.2 -.6l.2 .6 .4 -.5M166 732.9l0 1.5m-.2 -.5l.2 .5 .2 -.5M166 729.9l.1 1.8m-.3 -.6l.3 .6 .3 -.6M166 727l-.1 1.8m-.3 -.6l.3 .6 .3 -.6M166 724.1l.3 1.5m-.3 -.5l.3 .5 .2 -.6M166 721.1l-1.7 .8m.4 -.6l-.4 .6 .7 0M166 718.2l-.6 1.4m0 -.6l0 .6 .4 -.4M166 715.3l.2 1.7m-.3 -.6l.3 .6 .2 -.6M166 712.3l-.3 1.5m-.2 -.6l.2 .6 .3 -.5M166 709.4l-.2 1.7m-.2 -.6l.2 .6 .3 -.5M166 706.5l-.1 1.4m-.2 -.5l.2 .5 .3 -.5M166 703.5l-1.4 .2m.4 -.3l-.4 .3 .5 .1M166 700.6l.1 1.4m-.2 -.5l.2 .5 .2 -.5M166 697.7l.1 1.3m-.3 -.4l.3 .4 .2 -.5M166 694.7l-1.5 .3m.5 -.3l-.5 .3 .6 .2M166 691.8l-1.9 -.3m.7 -.2l-.7 .2 .6 .4M166 688.9l-.1 1.6m-.2 -.6l.2 .6 .3 -.5M166 685.9l-1.3 .9m.3 -.5l-.3 .5 .6 -.1M166 683l0 1.4m-.2 -.5l.2 .5 .2 -.5M166 680.1l.3 1.4m-.3 -.4l.3 .4 .1 -.5M166 677.1l-1.2 1.2m.2 -.6l-.2 .6 .6 -.2M166 674.2l-1.7 .7m.5 -.5l-.5 .5 .7 0M166 671.3l-1.8 .1m.6 -.3l-.6 .3 .6 .3M166 668.3l-.7 1.5m0 -.6l0 .6 .5 -.4M166 665.4l0 1.5m-.3 -.5l.3 .5 .2 -.5M166 662.5l-.5 1.6m-.1 -.6l.1 .6 .4 -.5M166 659.5l-1.7 .8m.4 -.6l-.4 .6 .7 0M166 656.6l-1.8 .7m.5 -.6l-.5 .6 .7 0M169.7 841.4l-.1 1.5m-.2 -.5l.2 .5 .3 -.5M169.7 838.5l-.6 1.2m0 -.5l0 .5 .4 -.3M169.7 835.5l0 1.9m-.3 -.7l.3 .7 .3 -.7M169.7 832.6l-1.3 1.5m.2 -.7l-.2 .7 .7 -.3M169.7 829.7l-.6 1.9m-.1 -.8l.1 .8 .5 -.6M169.7 826.7l-1.5 0m.5 -.3l-.5 .3 .5 .2M169.7 823.8l-.2 1.6m-.2 -.6l.2 .6 .3 -.5M169.7 820.9l-.1 1.8m-.3 -.6l.3 .6 .3 -.6M169.7 817.9l-1.6 1.2m.4 -.7l-.4 .7 .7 -.1M169.7 815l-1.4 .4m.4 -.4l-.4 .4 .5 .1M169.7 812.1l0 1.6m-.3 -.5l.3 .5 .3 -.5M169.7 809.1l0 1.6m-.3 -.6l.3 .6 .3 -.6M169.7 806.2l-.3 1.5m-.1 -.6l.1 .6 .4 -.5M169.7 803.3l.3 1.8m-.4 -.6l.4 .6 .2 -.7M169.7 800.3l-.3 1.5m-.2 -.6l.2 .6 .4 -.5M169.7 797.4l.3 1.7m-.4 -.5l.4 .5 .2 -.6M169.7 794.5l-1.3 .2m.4 -.3l-.4 .3 .5 .2M169.7 791.5l.1 1.5m-.3 -.5l.3 .5 .2 -.5M169.7 788.6l-1.9 .8m.5 -.6l-.5 .6 .8 0M169.7 785.7l.2 1.4m-.3 -.4l.3 .4 .2 -.5M169.7 782.7l-1.5 .4m.4 -.4l-.4 .4 .6 .1M169.7 779.8l.1 1.4m-.3 -.5l.3 .5 .2 -.5M169.7 776.9l0 1.7m-.3 -.6l.3 .6 .3 -.6M169.7 773.9l-1.6 .3m.5 -.4l-.5 .4 .6 .2M169.7 771l0 1.3m-.2 -.5l.2 .5 .2 -.5M169.7 768.1l.1 1.7m-.3 -.6l.3 .6 .2 -.6M169.7 732.9l-1.2 1.5m.2 -.7l-.2 .7 .7 -.3M169.7 729.9l-1.8 -.3m.7 -.2l-.7 .2 .6 .4M169.7 727l-.8 1.1m.1 -.5l-.1 .5 .5 -.3M169.7 724.1l-1.2 1.5m.1 -.7l-.1 .7 .6 -.3M169.7 721.1l-1.1 .8m.2 -.4l-.2 .4 .5 -.1M169.7 718.2l-1.8 1m.4 -.6l-.4 .6 .8 -.1M169.7 715.3l-.1 1.8m-.3 -.6l.3 .6 .3 -.6M169.7 712.3l-1.1 1m.2 -.5l-.2 .5 .5 -.2M169.7 709.4l0 1.3m-.2 -.4l.2 .4 .2 -.4M169.7 706.5l-1 .8m.2 -.5l-.2 .5 .5 -.1M169.7 703.5l-1.9 .4m.6 -.5l-.6 .5 .7 .2M169.7 700.6l-1.5 1m.3 -.6l-.3 .6 .7 -.1M169.7 697.7l0 1.5m-.2 -.5l.2 .5 .2 -.5M169.7 694.7l.2 1.6m-.3 -.5l.3 .5 .2 -.6M169.7 691.8l-.2 1.7m-.2 -.6l.2 .6 .3 -.5M169.7 688.9l0 2m-.3 -.7l.3 .7 .3 -.7M169.7 685.9l0 1.6m-.3 -.5l.3 .5 .3 -.5M169.7 683l.1 1.4m-.3 -.5l.3 .5 .2 -.5M169.7 680.1l.1 1.7m-.3 -.6l.3 .6 .3 -.6M169.7 677.1l0 1.5m-.2 -.5l.2 .5 .3 -.5M169.7 674.2l-1.1 1.6m.1 -.7l-.1 .7 .7 -.4M169.7 671.3l-.2 1.7m-.2 -.6l.2 .6 .4 -.6M169.7 668.3l-1.5 1.1m.4 -.6l-.4 .6 .7 -.1M169.7 665.4l-.1 1.9m-.3 -.7l.3 .7 .3 -.6M169.7 662.5l-.2 1.5m-.2 -.6l.2 .6 .3 -.5M169.7 659.5l-.2 1.3m-.1 -.5l.1 .5 .3 -.4M169.7 656.6l-1 1m.2 -.5l-.2 .5 .5 -.2M173.4 841.4l-1.7 .3m.5 -.4l-.5 .4 .6 .2M173.4 838.5l-1.3 1.1m.3 -.6l-.3 .6 .6 -.1M173.4 835.5l-1.7 .2m.5 -.3l-.5 .3 .6 .2M173.4 832.6l-1.4 -.1m.5 -.2l-.5 .2 .5 .2M173.4 829.7l.1 2m-.4 -.7l.4 .7 .3 -.7M173.4 826.7l-1.9 .4m.6 -.4l-.6 .4 .7 .2M173.4 823.8l-.9 1.3m.1 -.6l-.1 .6 .5 -.3M173.4 820.9l-.3 1.9m-.2 -.7l.2 .7 .4 -.6M173.4 817.9l.1 1.9m-.3 -.6l.3 .6 .3 -.7M173.4 815l-.7 1.7m0 -.7l0 .7 .5 -.5M173.4 812.1l-1.4 .7m.4 -.5l-.4 .5 .6 0M173.4 809.1l-.3 1.6m-.2 -.6l.2 .6 .4 -.5M173.4 806.2l.1 1.5m-.3 -.5l.3 .5 .2 -.5M173.4 803.3l.1 1.7m-.3 -.6l.3 .6 .2 -.6M173.4 800.3l-.2 1.7m-.2 -.6l.2 .6 .3 -.6M173.4 797.4l-.3 1.9m-.2 -.7l.2 .7 .4 -.6M173.4 794.5l-.1 1.5m-.2 -.5l.2 .5 .3 -.5M173.4 791.5l-1.2 .4m.3 -.4l-.3 .4 .5 .1M173.4 788.6l-.3 1.9m-.2 -.7l.2 .7 .4 -.6M173.4 785.7l-1.6 .7m.4 -.5l-.4 .5 .6 0M173.4 782.7l-.6 1.4m0 -.6l0 .6 .4 -.4M173.4 779.8l-1.8 .2m.6 -.4l-.6 .4 .6 .2M173.4 776.9l.2 1.5m-.3 -.5l.3 .5 .2 -.6M173.4 773.9l.3 1.6m-.4 -.5l.4 .5 .2 -.6M173.4 771l.3 1.8m-.4 -.6l.4 .6 .2 -.7M173.4 729.9l0 1.6m-.3 -.5l.3 .5 .3 -.6M173.4 727l-1.3 .7m.3 -.4l-.3 .4 .6 0M173.4 724.1l.3 1.5m-.4 -.5l.4 .5 .1 -.6M173.4 721.1l.1 1.8m-.3 -.6l.3 .6 .3 -.6M173.4 718.2l-.2 1.6m-.2 -.6l.2 .6 .3 -.5M173.4 715.3l-.3 1.5m-.2 -.5l.2 .5 .3 -.5M173.4 712.3l.1 1.7m-.3 -.6l.3 .6 .3 -.6M173.4 709.4l-1.3 .6m.4 -.4l-.4 .4 .5 0M173.4 706.5l-.7 1.6m0 -.7l0 .7 .5 -.4M173.4 703.5l-1.2 .9m.3 -.5l-.3 .5 .6 -.1M173.4 700.6l-.1 1.9m-.3 -.7l.3 .7 .4 -.6M173.4 697.7l-.2 1.6m-.2 -.6l.2 .6 .3 -.5M173.4 694.7l-1.6 .4m.5 -.4l-.5 .4 .6 .1M173.4 691.8l-.2 1.9m-.2 -.7l.2 .7 .4 -.6M173.4 688.9l.3 1.7m-.4 -.5l.4 .5 .2 -.6M173.4 685.9l-1.9 -.1m.7 -.3l-.7 .3 .6 .3M173.4 683l-1.7 -.2m.6 -.2l-.6 .2 .5 .3M173.4 680.1l-.2 1.3m-.2 -.5l.2 .5 .3 -.4M173.4 677.1l-1.3 .5m.4 -.4l-.4 .4 .5 .1M173.4 674.2l-.1 1.4m-.2 -.5l.2 .5 .3 -.5M173.4 671.3l-1.9 .1m.6 -.4l-.6 .4 .7 .3M173.4 668.3l-1.6 -.2m.6 -.2l-.6 .2 .5 .3M173.4 665.4l-1.5 -.2m.6 -.2l-.6 .2 .5 .3M173.4 662.5l0 1.7m-.3 -.6l.3 .6 .3 -.6M173.4 659.5l-1.5 -.2m.6 -.2l-.6 .2 .5 .3M173.4 656.6l-1 1m.2 -.5l-.2 .5 .5 -.2M177.1 841.4l.2 1.7m-.4 -.6l.4 .6 .2 -.6M177.1 838.5l-.1 1.7m-.2 -.6l.2 .6 .3 -.6M177.1 835.5l-1.1 .8m.2 -.4l-.2 .4 .5 -.1M177.1 832.6l-1.1 1.1m.2 -.6l-.2 .6 .6 -.2M177.1 829.7l-1.7 .3m.5 -.4l-.5 .4 .6 .2M177.1 826.7l.1 1.8m-.3 -.6l.3 .6 .3 -.6M177.1 823.8l-.8 1.6m0 -.7l0 .7 .5 -.4M177.1 820.9l-1.6 1.1m.4 -.6l-.4 .6 .7 -.1M177.1 817.9l-1.1 .9m.2 -.5l-.2 .5 .5 -.1M177.1 815l-1.6 .6m.4 -.5l-.4 .5 .6 .1M177.1 812.1l-1.1 1.2m.2 -.6l-.2 .6 .6 -.2M177.1 809.1l-.1 1.6m-.2 -.6l.2 .6 .3 -.5M177.1 806.2l0 1.5m-.2 -.5l.2 .5 .2 -.5M177.1 803.3l.2 1.6m-.3 -.5l.3 .5 .2 -.6M177.1 800.3l-.1 1.7m-.2 -.6l.2 .6 .3 -.6M177.1 797.4l-.1 2m-.3 -.7l.3 .7 .4 -.7M177.1 794.5l.2 1.6m-.3 -.5l.3 .5 .2 -.6M177.1 791.5l-.4 1.8m-.2 -.7l.2 .7 .4 -.5M177.1 788.6l-1 1.5m.1 -.7l-.1 .7 .6 -.3M177.1 785.7l-1.3 1.2m.2 -.6l-.2 .6 .6 -.2M177.1 782.7l-1.6 .4m.5 -.4l-.5 .4 .6 .1M177.1 779.8l-1.3 .5m.4 -.4l-.4 .4 .5 0M177.1 776.9l-.3 1.6m-.2 -.6l.2 .6 .4 -.5M177.1 773.9l-1.3 1.6m.2 -.8l-.2 .8 .7 -.3M177.1 771l-1.3 .5m.4 -.4l-.4 .4 .5 0M177.1 729.9l-.2 1.5m-.2 -.6l.2 .6 .3 -.5M177.1 727l-.2 1.9m-.2 -.7l.2 .7 .4 -.6M177.1 724.1l-.1 1.9m-.3 -.7l.3 .7 .3 -.7M177.1 721.1l.1 1.4m-.3 -.5l.3 .5 .2 -.5M177.1 718.2l-.1 1.7m-.2 -.6l.2 .6 .3 -.6M177.1 715.3l-.3 1.6m-.1 -.6l.1 .6 .4 -.5M177.1 712.3l-.2 1.9m-.2 -.7l.2 .7 .4 -.6M177.1 709.4l-.2 1.8m-.2 -.6l.2 .6 .4 -.6M177.1 706.5l-1.4 1m.3 -.6l-.3 .6 .7 -.1M177.1 703.5l-.7 1.6m0 -.7l0 .7 .5 -.4M177.1 700.6l-1.8 -.1m.7 -.3l-.7 .3 .6 .4M177.1 697.7l-1.4 1m.3 -.6l-.3 .6 .6 -.1M177.1 694.7l-.2 1.5m-.2 -.5l.2 .5 .3 -.5M177.1 691.8l.3 1.7m-.4 -.5l.4 .5 .2 -.6M177.1 688.9l-1.4 .3m.4 -.3l-.4 .3 .5 .1M177.1 685.9l0 1.6m-.3 -.5l.3 .5 .3 -.6M177.1 683l-.2 1.5m-.2 -.5l.2 .5 .3 -.5M177.1 680.1l-.7 1.8m0 -.7l0 .7 .5 -.5M177.1 677.1l.1 1.8m-.3 -.6l.3 .6 .3 -.6M177.1 674.2l0 1.9m-.3 -.7l.3 .7 .3 -.7M177.1 671.3l-1.4 1.1m.3 -.6l-.3 .6 .7 -.1M177.1 668.3l-1.8 .3m.6 -.4l-.6 .4 .7 .2M177.1 665.4l-.3 1.7m-.2 -.6l.2 .6 .4 -.6M177.1 662.5l.2 1.9m-.4 -.6l.4 .6 .2 -.7M177.1 659.5l-1.1 .7m.3 -.4l-.3 .4 .5 0M177.1 656.6l.4 1.9m-.4 -.6l.4 .6 .2 -.7M180.9 841.4l-.4 1.9m-.2 -.7l.2 .7 .4 -.6M180.9 838.5l-.2 1.5m-.2 -.6l.2 .6 .3 -.5M180.9 835.5l.2 1.4m-.3 -.4l.3 .4 .2 -.5M180.9 832.6l0 1.9m-.3 -.7l.3 .7 .3 -.7M180.9 829.7l-1.9 .3m.6 -.4l-.6 .4 .7 .2M180.9 826.7l-1.6 .8m.4 -.5l-.4 .5 .7 0M180.9 823.8l0 1.3m-.2 -.5l.2 .5 .2 -.5M180.9 820.9l.3 2m-.4 -.6l.4 .6 .2 -.7M180.9 817.9l.3 1.6m-.3 -.5l.3 .5 .2 -.6M180.9 815l-1.3 1.1m.3 -.6l-.3 .6 .6 -.2M180.9 812.1l-1.2 .4m.4 -.3l-.4 .3 .5 .1M180.9 809.1l-1.5 .5m.5 -.4l-.5 .4 .6 .1M180.9 806.2l-1.5 1m.3 -.6l-.3 .6 .7 -.1M180.9 803.3l-1.4 1.2m.3 -.6l-.3 .6 .7 -.2M180.9 800.3l-1 .8m.2 -.4l-.2 .4 .5 -.1M180.9 797.4l-1.4 .1m.5 -.3l-.5 .3 .5 .2M180.9 794.5l0 1.6m-.3 -.6l.3 .6 .3 -.6M180.9 791.5l-.1 1.9m-.3 -.7l.3 .7 .3 -.6M180.9 788.6l-.2 1.8m-.2 -.7l.2 .7 .4 -.6M180.9 785.7l-1.4 1m.3 -.6l-.3 .6 .6 -.1M180.9 782.7l-1.5 1m.4 -.6l-.4 .6 .7 -.1M180.9 779.8l.1 1.4m-.3 -.5l.3 .5 .2 -.5M180.9 776.9l-1.5 1.2m.3 -.7l-.3 .7 .7 -.2M180.9 773.9l-1.5 1m.3 -.6l-.3 .6 .7 -.1M180.9 771l-.7 1.1m.1 -.5l-.1 .5 .4 -.3M180.9 729.9l0 1.8m-.3 -.6l.3 .6 .3 -.6M180.9 727l-1.8 .4m.6 -.4l-.6 .4 .7 .2M180.9 724.1l-1.6 -.1m.6 -.2l-.6 .2 .5 .3M180.9 721.1l.2 1.8m-.4 -.6l.4 .6 .2 -.7M180.9 718.2l.2 1.7m-.4 -.5l.4 .5 .2 -.6M180.9 715.3l-.6 1.8m-.1 -.7l.1 .7 .5 -.5M180.9 712.3l0 2m-.3 -.7l.3 .7 .3 -.7M180.9 709.4l-1.6 -.1m.6 -.2l-.6 .2 .5 .3M180.9 706.5l-.3 1.7m-.2 -.6l.2 .6 .4 -.5M180.9 703.5l.1 2m-.3 -.7l.3 .7 .3 -.7M180.9 700.6l.2 1.8m-.4 -.6l.4 .6 .2 -.7M180.9 697.7l-.1 1.6m-.2 -.6l.2 .6 .3 -.5M180.9 694.7l.3 1.9m-.4 -.6l.4 .6 .2 -.7M180.9 691.8l-1 .9m.2 -.5l-.2 .5 .5 -.2M180.9 688.9l-1.5 1.3m.3 -.7l-.3 .7 .7 -.2M180.9 685.9l.2 2m-.4 -.7l.4 .7 .3 -.7M180.9 683l-1.6 .3m.5 -.4l-.5 .4 .6 .2M180.9 680.1l-.3 1.6m-.2 -.6l.2 .6 .3 -.5M180.9 677.1l.1 1.6m-.3 -.5l.3 .5 .2 -.6M180.9 674.2l-.3 1.7m-.2 -.6l.2 .6 .4 -.5M180.9 671.3l.2 1.5m-.3 -.5l.3 .5 .2 -.5M180.9 668.3l-.2 2m-.3 -.7l.3 .7 .4 -.7M180.9 665.4l-.8 1.8m0 -.7l0 .7 .6 -.5M180.9 662.5l0 2m-.3 -.7l.3 .7 .3 -.7M180.9 659.5l-.1 1.8m-.3 -.6l.3 .6 .3 -.6M180.9 656.6l-1.2 1.5m.2 -.7l-.2 .7 .7 -.3M184.6 841.4l.2 1.5m-.3 -.5l.3 .5 .2 -.6M184.6 838.5l-1.1 1m.2 -.5l-.2 .5 .5 -.1M184.6 835.5l.2 1.8m-.4 -.6l.4 .6 .2 -.7M184.6 832.6l-.2 1.8m-.2 -.7l.2 .7 .4 -.6M184.6 829.7l-.2 1.5m-.2 -.5l.2 .5 .3 -.5M184.6 826.7l-1.2 1.3m.2 -.7l-.2 .7 .6 -.2M184.6 823.8l.1 1.7m-.3 -.5l.3 .5 .2 -.6M184.6 820.9l-1.7 0m.6 -.3l-.6 .3 .6 .3M184.6 817.9l.3 1.8m-.4 -.6l.4 .6 .2 -.7M184.6 815l.2 1.6m-.3 -.5l.3 .5 .2 -.6M184.6 812.1l-1.7 .1m.6 -.3l-.6 .3 .6 .3M184.6 809.1l-.6 1.2m0 -.5l0 .5 .4 -.3M184.6 806.2l-.2 1.8m-.2 -.6l.2 .6 .3 -.6M184.6 803.3l-1.1 .8m.2 -.5l-.2 .5 .5 -.1M184.6 800.3l-.1 1.7m-.2 -.6l.2 .6 .3 -.5M184.6 797.4l-1.3 .2m.4 -.3l-.4 .3 .5 .1M184.6 794.5l-1.2 1m.2 -.5l-.2 .5 .6 -.1M184.6 791.5l-1.4 .4m.4 -.4l-.4 .4 .6 .1M184.6 788.6l-.1 1.9m-.3 -.6l.3 .6 .3 -.6M184.6 785.7l-1.2 1.1m.2 -.6l-.2 .6 .6 -.2M184.6 782.7l-1.4 .1m.5 -.3l-.5 .3 .5 .2M184.6 779.8l-1.4 1.2m.3 -.6l-.3 .6 .7 -.2M184.6 776.9l-.3 1.4m-.1 -.5l.1 .5 .3 -.4M184.6 773.9l-1 .9m.2 -.5l-.2 .5 .5 -.1M184.6 771l-.2 1.9m-.2 -.7l.2 .7 .4 -.6M184.6 729.9l-.2 1.6m-.2 -.6l.2 .6 .3 -.5M184.6 727l-.2 1.8m-.2 -.7l.2 .7 .4 -.6M184.6 724.1l.2 1.4m-.3 -.4l.3 .4 .2 -.5M184.6 721.1l-.3 1.4m-.1 -.5l.1 .5 .3 -.4M184.6 718.2l-1.6 1.2m.3 -.7l-.3 .7 .7 -.1M184.6 715.3l-1.6 .7m.4 -.5l-.4 .5 .7 0M184.6 712.3l.3 2m-.4 -.6l.4 .6 .2 -.7M184.6 709.4l.2 2m-.4 -.7l.4 .7 .3 -.7M184.6 706.5l-.1 1.3m-.2 -.5l.2 .5 .3 -.4M184.6 703.5l.1 1.6m-.3 -.5l.3 .5 .2 -.6M184.6 700.6l-.8 1.9m0 -.8l0 .8 .6 -.5M184.6 697.7l-.3 1.5m-.1 -.6l.1 .6 .4 -.4M184.6 694.7l-.2 1.5m-.2 -.6l.2 .6 .3 -.5M184.6 691.8l-.1 2m-.3 -.7l.3 .7 .4 -.7M184.6 688.9l-1.5 .1m.5 -.3l-.5 .3 .5 .2M184.6 685.9l-1.9 -.3m.7 -.2l-.7 .2 .6 .4M184.6 683l-1.2 1.5m.1 -.7l-.1 .7 .7 -.3M184.6 680.1l.3 1.5m-.4 -.5l.4 .5 .2 -.6M184.6 677.1l-.5 1.6m-.1 -.6l.1 .6 .4 -.5M184.6 674.2l-.2 1.7m-.2 -.6l.2 .6 .4 -.5M184.6 671.3l.1 1.3m-.3 -.4l.3 .4 .2 -.5M184.6 668.3l-1.3 1.2m.2 -.6l-.2 .6 .7 -.2M184.6 665.4l-.5 1.9m-.1 -.7l.1 .7 .5 -.6M184.6 662.5l-1.1 1.6m.1 -.7l-.1 .7 .6 -.4M184.6 659.5l0 1.6m-.3 -.6l.3 .6 .3 -.5M184.6 656.6l-.1 1.6m-.2 -.6l.2 .6 .3 -.5M188.3 841.4l-.3 1.6m-.2 -.6l.2 .6 .4 -.5M188.3 838.5l-1 1.2m.2 -.6l-.2 .6 .5 -.2M188.3 835.5l-.2 1.5m-.2 -.5l.2 .5 .3 -.5M188.3 832.6l.2 1.8m-.4 -.6l.4 .6 .2 -.6M188.3 829.7l-1.1 1.2m.2 -.6l-.2 .6 .6 -.2M188.3 826.7l.3 1.5m-.4 -.5l.4 .5 .1 -.6M188.3 823.8l-1.3 .6m.3 -.4l-.3 .4 .5 0M188.3 820.9l0 1.3m-.2 -.5l.2 .5 .2 -.5M188.3 817.9l-.6 1.2m0 -.5l0 .5 .4 -.3M188.3 815l.1 1.7m-.3 -.6l.3 .6 .3 -.6M188.3 812.1l-.2 2m-.3 -.7l.3 .7 .4 -.6M188.3 809.1l-1.1 .8m.2 -.5l-.2 .5 .5 -.1M188.3 806.2l-.3 1.9m-.2 -.7l.2 .7 .4 -.6M188.3 803.3l-.1 1.8m-.3 -.6l.3 .6 .3 -.6M188.3 800.3l-1.7 .6m.5 -.5l-.5 .5 .7 .1M188.3 797.4l-1.2 .6m.3 -.4l-.3 .4 .5 0M188.3 794.5l-.2 1.5m-.2 -.6l.2 .6 .3 -.5M188.3 791.5l-1.3 -.2m.5 -.1l-.5 .1 .4 .3M188.3 788.6l-.4 1.4m-.1 -.5l.1 .5 .4 -.4M188.3 785.7l-.7 1.7m0 -.7l0 .7 .5 -.5M188.3 782.7l-1.7 .4m.5 -.4l-.5 .4 .6 .2M188.3 779.8l0 2m-.3 -.7l.3 .7 .3 -.7M188.3 776.9l-1.5 1.1m.3 -.6l-.3 .6 .7 -.1M188.3 773.9l-1 1.1m.2 -.5l-.2 .5 .5 -.2M188.3 771l.1 1.9m-.3 -.6l.3 .6 .3 -.7M188.3 729.9l-1.5 .8m.4 -.5l-.4 .5 .6 0M188.3 727l-1.6 1.2m.4 -.7l-.4 .7 .7 -.1M188.3 724.1l.2 1.3m-.3 -.4l.3 .4 .2 -.5M188.3 721.1l.1 1.4m-.3 -.5l.3 .5 .2 -.5M188.3 718.2l-1.1 1m.2 -.5l-.2 .5 .6 -.2M188.3 715.3l0 1.3m-.2 -.5l.2 .5 .2 -.4M188.3 712.3l-.4 1.9m-.2 -.7l.2 .7 .4 -.6M188.3 709.4l-1.3 1.5m.2 -.7l-.2 .7 .7 -.3M188.3 706.5l-.1 1.4m-.2 -.5l.2 .5 .3 -.4M188.3 703.5l-.1 1.6m-.3 -.6l.3 .6 .3 -.5M188.3 700.6l-.3 1.8m-.2 -.7l.2 .7 .4 -.6M188.3 697.7l.3 1.8m-.4 -.6l.4 .6 .2 -.7M188.3 694.7l.1 1.8m-.3 -.6l.3 .6 .3 -.6M188.3 691.8l-.3 2m-.2 -.7l.2 .7 .4 -.6M188.3 688.9l-.7 1.5m0 -.6l0 .6 .5 -.4M188.3 685.9l-.2 1.6m-.2 -.6l.2 .6 .3 -.5M188.3 683l0 2m-.3 -.7l.3 .7 .4 -.7M188.3 680.1l-.1 1.3m-.2 -.5l.2 .5 .3 -.4M188.3 677.1l-1.3 .4m.4 -.4l-.4 .4 .5 .1M188.3 674.2l0 1.4m-.2 -.5l.2 .5 .2 -.5M188.3 671.3l-1.2 1m.2 -.6l-.2 .6 .6 -.2M188.3 668.3l-1.9 .7m.5 -.5l-.5 .5 .7 .1M188.3 665.4l-.2 1.7m-.2 -.6l.2 .6 .3 -.5M188.3 662.5l-.2 1.5m-.2 -.6l.2 .6 .3 -.5M188.3 659.5l-1.1 1m.2 -.5l-.2 .5 .5 -.2M188.3 656.6l-1.7 .6m.5 -.5l-.5 .5 .7 .1M192 841.4l.3 1.8m-.4 -.6l.4 .6 .2 -.7M192 838.5l.3 1.7m-.4 -.5l.4 .5 .2 -.6M192 835.5l-1.2 .8m.3 -.5l-.3 .5 .5 -.1M192 832.6l-.3 1.4m-.2 -.5l.2 .5 .3 -.5M192 829.7l-.3 1.3m-.1 -.5l.1 .5 .3 -.4M192 826.7l-1 .9m.2 -.5l-.2 .5 .5 -.1M192 823.8l-.6 1.2m0 -.5l0 .5 .4 -.3M192 820.9l0 1.6m-.3 -.6l.3 .6 .3 -.6M192 817.9l.2 1.7m-.3 -.5l.3 .5 .2 -.6M192 815l0 1.4m-.3 -.5l.3 .5 .2 -.5M192 812.1l-1 1.2m.2 -.6l-.2 .6 .6 -.2M192 809.1l-1.5 .4m.4 -.4l-.4 .4 .6 .1M192 806.2l-.2 1.5m-.2 -.6l.2 .6 .3 -.5M192 803.3l-.4 1.6m-.1 -.6l.1 .6 .4 -.5M192 800.3l-1.6 1m.4 -.6l-.4 .6 .7 -.1M192 797.4l.1 2m-.4 -.7l.4 .7 .3 -.7M192 794.5l-.1 1.3m-.2 -.5l.2 .5 .2 -.4M192 791.5l-.3 2m-.2 -.7l.2 .7 .4 -.6M192 788.6l-.9 1m.2 -.5l-.2 .5 .5 -.2M192 785.7l-1.1 1.3m.2 -.6l-.2 .6 .6 -.3M192 782.7l-1.1 1.2m.2 -.6l-.2 .6 .6 -.2M192 779.8l-.9 1.2m.1 -.6l-.1 .6 .5 -.3M192 776.9l-.6 1.6m-.1 -.6l.1 .6 .5 -.4M192 773.9l-.2 1.8m-.2 -.7l.2 .7 .4 -.6M192 771l-1.4 .2m.4 -.3l-.4 .3 .5 .1M192 768.1l.2 1.9m-.4 -.6l.4 .6 .3 -.7M192 732.9l.3 1.5m-.4 -.5l.4 .5 .2 -.6M192 729.9l-1.2 1.1m.2 -.6l-.2 .6 .6 -.2M192 727l-1.5 1.3m.3 -.7l-.3 .7 .7 -.2M192 724.1l-.1 1.8m-.3 -.6l.3 .6 .3 -.6M192 721.1l-.3 1.6m-.2 -.6l.2 .6 .4 -.5M192 718.2l0 1.3m-.2 -.4l.2 .4 .2 -.4M192 715.3l-.2 2m-.2 -.7l.2 .7 .4 -.6M192 712.3l-1.1 1.4m.1 -.7l-.1 .7 .6 -.3M192 709.4l-.4 1.7m-.1 -.6l.1 .6 .4 -.5M192 706.5l-1.3 .3m.4 -.3l-.4 .3 .5 .1M192 703.5l-.5 1.6m-.1 -.6l.1 .6 .4 -.5M192 700.6l-1.3 .9m.3 -.5l-.3 .5 .6 -.1M192 697.7l-.7 1.6m0 -.7l0 .7 .5 -.4M192 694.7l0 1.4m-.2 -.5l.2 .5 .2 -.5M192 691.8l-.9 1m.1 -.5l-.1 .5 .5 -.2M192 688.9l0 1.7m-.3 -.6l.3 .6 .3 -.6M192 685.9l-1.8 .3m.6 -.4l-.6 .4 .7 .2M192 683l.3 1.9m-.4 -.6l.4 .6 .2 -.7M192 680.1l-1.4 -.3m.5 -.1l-.5 .1 .4 .3M192 677.1l.4 2m-.5 -.6l.5 .6 .2 -.7M192 674.2l0 1.8m-.3 -.6l.3 .6 .3 -.6M192 671.3l.2 1.5m-.3 -.5l.3 .5 .2 -.6M192 668.3l-.2 1.3m-.2 -.5l.2 .5 .3 -.4M192 665.4l.1 1.5m-.3 -.5l.3 .5 .2 -.5M192 662.5l0 1.4m-.2 -.5l.2 .5 .2 -.5M192 659.5l-.2 2m-.3 -.7l.3 .7 .4 -.7M192 656.6l0 1.5m-.3 -.5l.3 .5 .2 -.5M195.7 841.4l-.1 1.5m-.2 -.5l.2 .5 .3 -.5M195.7 838.5l.2 1.7m-.3 -.5l.3 .5 .2 -.6M195.7 835.5l-.1 1.8m-.3 -.6l.3 .6 .3 -.6M195.7 832.6l-1.5 .8m.4 -.5l-.4 .5 .6 0M195.7 829.7l-.1 1.4m-.2 -.5l.2 .5 .3 -.5M195.7 826.7l-1.5 0m.5 -.3l-.5 .3 .5 .3M195.7 823.8l-.7 1.7m0 -.7l0 .7 .5 -.5M195.7 820.9l-.5 1.7m-.1 -.6l.1 .6 .4 -.5M195.7 817.9l-1.2 .9m.3 -.5l-.3 .5 .6 -.1M195.7 815l-.1 1.3m-.2 -.5l.2 .5 .3 -.4M195.7 812.1l-1.5 1.4m.3 -.7l-.3 .7 .7 -.2M195.7 809.1l.3 1.7m-.4 -.5l.4 .5 .2 -.6M195.7 806.2l-1.9 .4m.6 -.4l-.6 .4 .7 .2M195.7 803.3l-1.8 -.1m.6 -.3l-.6 .3 .6 .3M195.7 800.3l-.3 1.7m-.2 -.6l.2 .6 .4 -.5M195.7 797.4l-.6 1.4m0 -.6l0 .6 .4 -.4M195.7 794.5l0 1.4m-.2 -.5l.2 .5 .2 -.5M195.7 791.5l-1.4 1.2m.3 -.6l-.3 .6 .7 -.2M195.7 788.6l-1.1 1.7m.1 -.8l-.1 .8 .7 -.4M195.7 785.7l-1.4 0m.5 -.2l-.5 .2 .5 .2M195.7 782.7l0 1.9m-.3 -.6l.3 .6 .3 -.6M195.7 779.8l-1 1.4m.1 -.6l-.1 .6 .6 -.3M195.7 776.9l-1.9 -.2m.7 -.2l-.7 .2 .6 .4M195.7 773.9l-1.2 .8m.3 -.5l-.3 .5 .5 -.1M195.7 771l-.4 1.9m-.2 -.7l.2 .7 .4 -.6M195.7 768.1l-1.2 1m.2 -.6l-.2 .6 .6 -.2M195.7 732.9l.3 1.9m-.4 -.6l.4 .6 .2 -.7M195.7 729.9l-.2 1.5m-.2 -.5l.2 .5 .3 -.5M195.7 727l-.1 2m-.3 -.7l.3 .7 .4 -.7M195.7 724.1l-.1 1.8m-.3 -.6l.3 .6 .3 -.6M195.7 721.1l-2 -.1m.7 -.3l-.7 .3 .7 .4M195.7 718.2l.1 1.4m-.3 -.5l.3 .5 .2 -.5M195.7 715.3l.3 1.5m-.4 -.5l.4 .5 .1 -.6M195.7 712.3l.3 1.5m-.3 -.5l.3 .5 .2 -.6M195.7 709.4l-1.7 .7m.5 -.5l-.5 .5 .7 0M195.7 706.5l-1.7 .7m.5 -.5l-.5 .5 .7 0M195.7 703.5l-.3 1.6m-.2 -.6l.2 .6 .4 -.5M195.7 700.6l-.4 2m-.2 -.7l.2 .7 .5 -.6M195.7 697.7l-1.5 1.2m.3 -.6l-.3 .6 .7 -.2M195.7 694.7l-.2 1.6m-.2 -.6l.2 .6 .3 -.5M195.7 691.8l-1.5 .2m.5 -.3l-.5 .3 .5 .2M195.7 688.9l-.1 1.4m-.2 -.5l.2 .5 .3 -.5M195.7 685.9l0 1.4m-.3 -.5l.3 .5 .2 -.5M195.7 683l-1.5 1.2m.3 -.7l-.3 .7 .7 -.1M195.7 680.1l-1.6 .9m.4 -.6l-.4 .6 .7 0M195.7 677.1l0 1.8m-.3 -.6l.3 .6 .3 -.6M195.7 674.2l-1.3 .4m.4 -.3l-.4 .3 .5 .1M195.7 671.3l-1.5 1.3m.3 -.7l-.3 .7 .7 -.2M195.7 668.3l.2 2m-.4 -.7l.4 .7 .3 -.7M195.7 665.4l-.8 1.1m.1 -.5l-.1 .5 .5 -.2M195.7 662.5l.1 2m-.4 -.7l.4 .7 .3 -.7M195.7 659.5l-1.6 0m.5 -.2l-.5 .2 .5 .3M195.7 656.6l-.1 1.8m-.2 -.6l.2 .6 .3 -.6M199.5 841.4l0 1.5m-.2 -.5l.2 .5 .3 -.5M199.5 838.5l.2 1.3m-.3 -.4l.3 .4 .2 -.5M199.5 835.5l-1.4 .9m.3 -.5l-.3 .5 .6 -.1M199.5 832.6l-.9 1m.1 -.5l-.1 .5 .5 -.2M199.5 829.7l.1 1.7m-.3 -.6l.3 .6 .3 -.6M199.5 826.7l.2 1.5m-.3 -.5l.3 .5 .2 -.5M199.5 823.8l-1.1 .9m.2 -.5l-.2 .5 .5 -.1M199.5 820.9l-.2 1.5m-.2 -.6l.2 .6 .3 -.5M199.5 817.9l-1.5 1.2m.3 -.7l-.3 .7 .7 -.2M199.5 815l.2 1.6m-.3 -.5l.3 .5 .2 -.6M199.5 812.1l-1.9 .1m.6 -.4l-.6 .4 .7 .3M199.5 809.1l-.1 1.8m-.3 -.6l.3 .6 .3 -.6M199.5 806.2l-1.7 1m.4 -.6l-.4 .6 .8 -.1M199.5 803.3l.1 1.6m-.3 -.5l.3 .5 .2 -.6M199.5 800.3l-.2 1.4m-.2 -.5l.2 .5 .3 -.5M199.5 797.4l.3 1.6m-.4 -.5l.4 .5 .2 -.6M199.5 794.5l-2 -.3m.7 -.2l-.7 .2 .6 .4M199.5 791.5l-1.3 1m.3 -.6l-.3 .6 .6 -.1M199.5 788.6l-.2 1.8m-.2 -.6l.2 .6 .4 -.6M199.5 785.7l-.4 1.6m-.1 -.6l.1 .6 .4 -.5M199.5 782.7l.1 1.4m-.3 -.5l.3 .5 .2 -.5M199.5 779.8l-.2 1.3m-.2 -.5l.2 .5 .3 -.4M199.5 776.9l-.2 1.8m-.2 -.6l.2 .6 .4 -.6M199.5 773.9l-1.2 .8m.3 -.5l-.3 .5 .5 -.1M199.5 771l-1.4 0m.5 -.2l-.5 .2 .5 .2M199.5 768.1l-1.3 .9m.3 -.5l-.3 .5 .6 -.1M199.5 765.1l-1.6 .7m.4 -.5l-.4 .5 .7 0M199.5 735.8l-.1 1.7m-.3 -.6l.3 .6 .3 -.6M199.5 732.9l-1.1 1.2m.2 -.6l-.2 .6 .6 -.2M199.5 729.9l0 1.8m-.3 -.6l.3 .6 .3 -.6M199.5 727l-1.8 -.3m.7 -.2l-.7 .2 .6 .4M199.5 724.1l-1.8 .2m.6 -.4l-.6 .4 .7 .2M199.5 721.1l-.7 1.9m-.1 -.8l.1 .8 .6 -.5M199.5 718.2l-1.2 1.4m.2 -.7l-.2 .7 .6 -.3M199.5 715.3l-.2 1.7m-.2 -.6l.2 .6 .4 -.5M199.5 712.3l-1.8 .3m.6 -.4l-.6 .4 .7 .2M199.5 709.4l-1.5 -.2m.6 -.2l-.6 .2 .5 .3M199.5 706.5l-.1 1.7m-.3 -.6l.3 .6 .3 -.6M199.5 703.5l-.5 1.4m-.1 -.6l.1 .6 .4 -.4M199.5 700.6l.2 1.4m-.3 -.4l.3 .4 .2 -.5M199.5 697.7l.1 1.7m-.3 -.6l.3 .6 .3 -.6M199.5 694.7l-.3 1.4m-.1 -.5l.1 .5 .3 -.4M199.5 691.8l-1.8 .2m.6 -.4l-.6 .4 .6 .2M199.5 688.9l-1.8 .9m.5 -.6l-.5 .6 .8 0M199.5 685.9l0 1.7m-.3 -.6l.3 .6 .3 -.6M199.5 683l-.1 1.9m-.3 -.6l.3 .6 .3 -.6M199.5 680.1l-.3 1.7m-.2 -.6l.2 .6 .4 -.5M199.5 677.1l.3 1.8m-.4 -.6l.4 .6 .2 -.7M199.5 674.2l-.3 1.8m-.2 -.7l.2 .7 .4 -.6M199.5 671.3l.3 1.9m-.4 -.6l.4 .6 .2 -.7M199.5 668.3l.3 1.8m-.4 -.6l.4 .6 .2 -.6M199.5 665.4l-1.1 1.5m.1 -.7l-.1 .7 .6 -.3M199.5 662.5l-1.2 1.3m.2 -.6l-.2 .6 .6 -.2M199.5 659.5l-1.7 .5m.5 -.4l-.5 .4 .7 .1M199.5 656.6l-1.7 0m.6 -.3l-.6 .3 .6 .3M203.2 841.4l-1.7 .3m.5 -.4l-.5 .4 .6 .2M203.2 838.5l.1 1.4m-.3 -.5l.3 .5 .2 -.5M203.2 835.5l0 2m-.3 -.7l.3 .7 .3 -.7M203.2 832.6l.1 1.6m-.3 -.5l.3 .5 .2 -.6M203.2 829.7l-.2 1.3m-.1 -.5l.1 .5 .3 -.4M203.2 826.7l.1 1.9m-.3 -.6l.3 .6 .3 -.7M203.2 823.8l.4 1.8m-.4 -.6l.4 .6 .2 -.7M203.2 820.9l-.2 1.5m-.2 -.5l.2 .5 .3 -.5M203.2 817.9l-.1 1.6m-.2 -.6l.2 .6 .3 -.5M203.2 815l-1 1.4m.1 -.7l-.1 .7 .6 -.3M203.2 812.1l-.2 1.4m-.2 -.5l.2 .5 .3 -.4M203.2 809.1l-.7 1.9m-.1 -.8l.1 .8 .6 -.5M203.2 806.2l-1.2 1.5m.2 -.7l-.2 .7 .7 -.3M203.2 803.3l-1 .9m.2 -.5l-.2 .5 .5 -.1M203.2 800.3l-.3 2m-.2 -.7l.2 .7 .4 -.6M203.2 797.4l-.2 2m-.3 -.7l.3 .7 .4 -.7M203.2 794.5l-.3 1.9m-.2 -.7l.2 .7 .4 -.6M203.2 791.5l-1.2 1m.3 -.5l-.3 .5 .6 -.1M203.2 788.6l.2 1.9m-.4 -.6l.4 .6 .3 -.7M203.2 785.7l-.5 1.5m-.1 -.6l.1 .6 .4 -.4M203.2 782.7l.3 1.8m-.4 -.6l.4 .6 .2 -.7M203.2 779.8l-.3 1.3m-.1 -.5l.1 .5 .3 -.4M203.2 776.9l-.2 1.9m-.2 -.7l.2 .7 .4 -.6M203.2 773.9l-1.1 1.6m.1 -.7l-.1 .7 .6 -.4M203.2 771l-.1 1.8m-.3 -.6l.3 .6 .3 -.6M203.2 768.1l-1.9 -.4m.7 -.2l-.7 .2 .6 .4M203.2 765.1l-.2 1.7m-.2 -.6l.2 .6 .4 -.6M203.2 762.2l-.9 1.2m.1 -.6l-.1 .6 .5 -.3M203.2 759.3l-.9 1.1m.1 -.5l-.1 .5 .5 -.2M203.2 741.7l-1.5 .4m.4 -.4l-.4 .4 .6 .1M203.2 738.7l-1.5 .5m.4 -.4l-.4 .4 .6 .1M203.2 735.8l0 1.8m-.3 -.6l.3 .6 .3 -.6M203.2 732.9l-.1 1.4m-.2 -.5l.2 .5 .3 -.5M203.2 729.9l-.1 1.4m-.2 -.5l.2 .5 .3 -.5M203.2 727l-1 1.3m.1 -.6l-.1 .6 .6 -.3M203.2 724.1l-1.3 .2m.4 -.3l-.4 .3 .5 .1M203.2 721.1l-.3 1.7m-.2 -.6l.2 .6 .4 -.6M203.2 718.2l-1.2 .8m.3 -.5l-.3 .5 .6 -.1M203.2 715.3l.3 1.7m-.4 -.5l.4 .5 .2 -.6M203.2 712.3l-.1 1.8m-.3 -.6l.3 .6 .3 -.6M203.2 709.4l-1.5 -.1m.5 -.2l-.5 .2 .5 .3M203.2 706.5l-.1 1.9m-.3 -.7l.3 .7 .3 -.6M203.2 703.5l-1.6 -.2m.6 -.2l-.6 .2 .5 .3M203.2 700.6l-1.6 .3m.5 -.4l-.5 .4 .6 .2M203.2 697.7l-.4 1.8m-.2 -.7l.2 .7 .4 -.6M203.2 694.7l-1.1 .9m.2 -.5l-.2 .5 .5 -.1M203.2 691.8l-1.6 .8m.4 -.6l-.4 .6 .7 0M203.2 688.9l-.1 1.3m-.2 -.5l.2 .5 .3 -.4M203.2 685.9l-1.8 -.2m.6 -.2l-.6 .2 .6 .4M203.2 683l-.8 1.2m.1 -.5l-.1 .5 .5 -.3M203.2 680.1l-.2 1.7m-.2 -.6l.2 .6 .3 -.5M203.2 677.1l.3 2m-.4 -.6l.4 .6 .2 -.7M203.2 674.2l.1 1.8m-.3 -.6l.3 .6 .3 -.6M203.2 671.3l-.1 1.4m-.2 -.5l.2 .5 .3 -.5M203.2 668.3l-1.1 1.6m.1 -.7l-.1 .7 .6 -.4M203.2 665.4l.1 1.9m-.3 -.6l.3 .6 .3 -.6M203.2 662.5l-1.9 .3m.6 -.4l-.6 .4 .7 .2M203.2 659.5l.2 1.8m-.4 -.6l.4 .6 .2 -.7M203.2 656.6l-1.8 .6m.5 -.5l-.5 .5 .7 .1M206.9 841.4l-.2 2m-.3 -.7l.3 .7 .4 -.6M206.9 838.5l.2 1.7m-.3 -.5l.3 .5 .2 -.6M206.9 835.5l-.5 2m-.2 -.8l.2 .8 .5 -.6M206.9 832.6l-.1 1.7m-.2 -.6l.2 .6 .3 -.6M206.9 829.7l-.2 1.8m-.2 -.7l.2 .7 .4 -.6M206.9 826.7l0 1.8m-.3 -.6l.3 .6 .3 -.6M206.9 823.8l-.2 1.3m-.2 -.5l.2 .5 .3 -.4M206.9 820.9l0 2m-.3 -.7l.3 .7 .3 -.7M206.9 817.9l-1.4 .4m.4 -.4l-.4 .4 .5 .1M206.9 815l-1.7 .8m.4 -.6l-.4 .6 .7 0M206.9 812.1l-1.6 1.2m.4 -.7l-.4 .7 .8 -.1M206.9 809.1l-.3 1.4m-.1 -.5l.1 .5 .3 -.4M206.9 806.2l-.2 1.6m-.2 -.6l.2 .6 .3 -.5M206.9 803.3l-1.1 .8m.2 -.5l-.2 .5 .5 -.1M206.9 800.3l-1.1 .8m.2 -.4l-.2 .4 .5 -.1M206.9 797.4l-.2 1.3m-.1 -.5l.1 .5 .3 -.4M206.9 794.5l-1.4 .1m.5 -.3l-.5 .3 .5 .2M206.9 791.5l0 1.4m-.2 -.5l.2 .5 .2 -.5M206.9 788.6l-.1 1.8m-.3 -.6l.3 .6 .3 -.6M206.9 785.7l-1.6 .3m.5 -.4l-.5 .4 .6 .2M206.9 782.7l-1.1 1.2m.2 -.6l-.2 .6 .6 -.2M206.9 779.8l-1.1 .9m.2 -.5l-.2 .5 .5 -.1M206.9 776.9l-1 .9m.2 -.5l-.2 .5 .5 -.2M206.9 773.9l-.3 1.7m-.2 -.6l.2 .6 .4 -.5M206.9 771l-1.1 1.5m.2 -.7l-.2 .7 .6 -.3M206.9 768.1l0 1.4m-.2 -.5l.2 .5 .2 -.5M206.9 765.1l.2 1.3m-.3 -.4l.3 .4 .1 -.5M206.9 762.2l-.3 1.9m-.2 -.7l.2 .7 .4 -.6M206.9 759.3l-.2 1.7m-.2 -.6l.2 .6 .3 -.5M206.9 756.3l-1.7 .1m.6 -.3l-.6 .3 .6 .2M206.9 753.4l-1.1 .8m.3 -.5l-.3 .5 .5 -.1M206.9 750.5l0 1.4m-.2 -.5l.2 .5 .2 -.5M206.9 747.5l-1.1 1.4m.2 -.7l-.2 .7 .6 -.3M206.9 744.6l.1 1.7m-.3 -.6l.3 .6 .3 -.6M206.9 741.7l.3 1.5m-.4 -.5l.4 .5 .2 -.6M206.9 738.7l-2 .2m.6 -.4l-.6 .4 .7 .2M206.9 735.8l.4 2m-.4 -.6l.4 .6 .2 -.7M206.9 732.9l-1.6 .3m.5 -.4l-.5 .4 .6 .1M206.9 729.9l-.2 1.3m-.2 -.5l.2 .5 .3 -.4M206.9 727l-1.6 -.2m.6 -.2l-.6 .2 .5 .3M206.9 724.1l-1.1 1.1m.2 -.6l-.2 .6 .6 -.2M206.9 721.1l-1.5 1.2m.3 -.7l-.3 .7 .7 -.2M206.9 718.2l-.3 1.4m-.1 -.5l.1 .5 .3 -.4M206.9 715.3l-1.3 .5m.4 -.4l-.4 .4 .5 0M206.9 712.3l-.4 1.4m-.1 -.5l.1 .5 .4 -.4M206.9 709.4l-.1 1.7m-.2 -.6l.2 .6 .3 -.6M206.9 706.5l-1.1 .9m.2 -.5l-.2 .5 .5 -.1M206.9 703.5l-2 .1m.7 -.4l-.7 .4 .7 .3M206.9 700.6l-1.2 .8m.3 -.5l-.3 .5 .5 -.1M206.9 697.7l-.1 1.8m-.3 -.6l.3 .6 .3 -.6M206.9 694.7l-1.2 1m.2 -.5l-.2 .5 .6 -.1M206.9 691.8l-.3 1.8m-.2 -.7l.2 .7 .4 -.6M206.9 688.9l-.9 1.3m.1 -.6l-.1 .6 .5 -.3M206.9 685.9l-1.2 1.2m.2 -.6l-.2 .6 .6 -.2M206.9 683l-.1 1.3m-.2 -.5l.2 .5 .2 -.4M206.9 680.1l-1.6 1.2m.3 -.7l-.3 .7 .8 -.2M206.9 677.1l-.5 1.8m-.1 -.7l.1 .7 .5 -.5M206.9 674.2l-.8 1.1m.1 -.5l-.1 .5 .5 -.2M206.9 671.3l-.2 1.5m-.2 -.6l.2 .6 .3 -.5M206.9 668.3l-.9 1.1m.1 -.5l-.1 .5 .5 -.2M206.9 665.4l-1.7 .7m.4 -.5l-.4 .5 .7 0M206.9 662.5l-.9 1.1m.1 -.5l-.1 .5 .5 -.2M206.9 659.5l-.1 2m-.3 -.7l.3 .7 .3 -.7M206.9 656.6l-1.9 .5m.6 -.5l-.6 .5 .7 .1M210.6 841.4l-1.5 -.2m.5 -.2l-.5 .2 .5 .3M210.6 838.5l.2 1.4m-.3 -.4l.3 .4 .2 -.5M210.6 835.5l-1.8 .2m.6 -.4l-.6 .4 .6 .2M210.6 832.6l-.4 1.9m-.2 -.7l.2 .7 .4 -.6M210.6 829.7l-1.3 1m.3 -.6l-.3 .6 .6 -.1M210.6 826.7l.1 1.9m-.4 -.6l.4 .6 .3 -.7M210.6 823.8l-.3 1.5m-.2 -.6l.2 .6 .3 -.5M210.6 820.9l-1.3 .4m.4 -.4l-.4 .4 .5 .1M210.6 817.9l0 1.9m-.3 -.7l.3 .7 .3 -.7M210.6 815l-.2 1.3m-.2 -.5l.2 .5 .3 -.4M210.6 812.1l0 1.7m-.3 -.6l.3 .6 .3 -.6M210.6 809.1l-1.8 .5m.5 -.5l-.5 .5 .7 .1M210.6 806.2l-1.5 .1m.5 -.3l-.5 .3 .5 .2M210.6 803.3l-.2 1.5m-.2 -.5l.2 .5 .3 -.5M210.6 800.3l.3 1.8m-.4 -.6l.4 .6 .2 -.7M210.6 797.4l-.2 2m-.3 -.7l.3 .7 .4 -.7M210.6 794.5l-.1 1.6m-.2 -.5l.2 .5 .3 -.5M210.6 791.5l-1.7 -.1m.6 -.2l-.6 .2 .6 .3M210.6 788.6l-.2 2m-.3 -.7l.3 .7 .4 -.6M210.6 785.7l.1 1.8m-.3 -.6l.3 .6 .2 -.6M210.6 782.7l-.2 1.3m-.1 -.5l.1 .5 .3 -.4M210.6 779.8l-.8 1.1m.1 -.5l-.1 .5 .5 -.3M210.6 776.9l-.3 1.9m-.2 -.7l.2 .7 .4 -.6M210.6 773.9l-1.3 .4m.4 -.3l-.4 .3 .5 .1M210.6 771l-.3 1.9m-.2 -.7l.2 .7 .4 -.6M210.6 768.1l.1 1.5m-.3 -.5l.3 .5 .2 -.5M210.6 765.1l-.9 1.2m.1 -.5l-.1 .5 .5 -.2M210.6 762.2l-.7 1.6m0 -.7l0 .7 .5 -.4M210.6 759.3l.3 1.8m-.4 -.6l.4 .6 .2 -.6M210.6 756.3l-1.4 -.2m.5 -.2l-.5 .2 .4 .3M210.6 753.4l-.3 1.2m-.1 -.5l.1 .5 .3 -.4M210.6 750.5l-.1 1.4m-.2 -.5l.2 .5 .3 -.5M210.6 747.5l.3 1.6m-.4 -.5l.4 .5 .2 -.6M210.6 744.6l.1 1.5m-.3 -.5l.3 .5 .2 -.5M210.6 741.7l.3 2m-.4 -.6l.4 .6 .2 -.7M210.6 738.7l-.3 1.7m-.2 -.6l.2 .6 .4 -.5M210.6 735.8l-.8 1m.1 -.5l-.1 .5 .4 -.2M210.6 732.9l-.2 1.6m-.2 -.6l.2 .6 .3 -.5M210.6 729.9l-.2 1.4m-.2 -.5l.2 .5 .3 -.4M210.6 727l-.2 1.5m-.2 -.5l.2 .5 .3 -.5M210.6 724.1l-.9 1.2m.1 -.6l-.1 .6 .5 -.3M210.6 721.1l-.1 1.5m-.2 -.5l.2 .5 .3 -.5M210.6 718.2l-1.1 .9m.2 -.5l-.2 .5 .5 -.1M210.6 715.3l-1.4 1.3m.3 -.7l-.3 .7 .7 -.2M210.6 712.3l.2 1.3m-.3 -.4l.3 .4 .2 -.5M210.6 709.4l-1.5 .4m.5 -.4l-.5 .4 .6 .1M210.6 706.5l-1 .9m.2 -.5l-.2 .5 .5 -.1M210.6 703.5l-.9 1.2m.1 -.6l-.1 .6 .5 -.3M210.6 700.6l.1 1.9m-.4 -.6l.4 .6 .3 -.7M210.6 697.7l.3 1.8m-.4 -.6l.4 .6 .2 -.7M210.6 694.7l-1 1.2m.1 -.6l-.1 .6 .5 -.3M210.6 691.8l-.3 1.5m-.1 -.6l.1 .6 .4 -.5M210.6 688.9l.3 1.8m-.4 -.6l.4 .6 .2 -.7M210.6 685.9l.2 1.3m-.3 -.4l.3 .4 .2 -.5M210.6 683l0 1.3m-.2 -.4l.2 .4 .2 -.4M210.6 680.1l-.2 1.9m-.2 -.7l.2 .7 .4 -.6M210.6 677.1l.3 1.7m-.4 -.5l.4 .5 .2 -.6M210.6 674.2l.3 1.8m-.4 -.6l.4 .6 .2 -.7M210.6 671.3l-1.1 1.4m.1 -.6l-.1 .6 .6 -.3M210.6 668.3l-1.4 1m.3 -.6l-.3 .6 .7 -.1M210.6 665.4l-1.5 .2m.5 -.3l-.5 .3 .5 .2M210.6 662.5l.2 1.6m-.3 -.5l.3 .5 .2 -.6M210.6 659.5l-.4 2m-.2 -.7l.2 .7 .5 -.6M210.6 656.6l-1.9 .4m.6 -.5l-.6 .5 .7 .2M214.3 841.4l.1 1.3m-.3 -.4l.3 .4 .2 -.5M214.3 838.5l-1 1.3m.1 -.6l-.1 .6 .5 -.3M214.3 835.5l-.2 1.5m-.2 -.6l.2 .6 .3 -.5M214.3 832.6l-.1 1.4m-.2 -.5l.2 .5 .3 -.5M214.3 829.7l-1.1 1.1m.2 -.5l-.2 .5 .6 -.2M214.3 826.7l-.3 1.6m-.2 -.6l.2 .6 .4 -.5M214.3 823.8l-.4 1.9m-.2 -.7l.2 .7 .4 -.6M214.3 820.9l-1.1 1.6m.1 -.7l-.1 .7 .6 -.4M214.3 817.9l-1.4 1.5m.2 -.7l-.2 .7 .7 -.3M214.3 815l.1 1.5m-.3 -.5l.3 .5 .2 -.5M214.3 812.1l-1.5 0m.5 -.3l-.5 .3 .5 .2M214.3 809.1l-1.2 .9m.3 -.5l-.3 .5 .6 -.1M214.3 806.2l-1.3 .6m.3 -.4l-.3 .4 .5 0M214.3 803.3l-.1 1.9m-.3 -.7l.3 .7 .4 -.6M214.3 800.3l-.1 1.6m-.2 -.6l.2 .6 .3 -.5M214.3 797.4l-.1 1.7m-.2 -.6l.2 .6 .3 -.5M214.3 794.5l-1.3 1.1m.3 -.6l-.3 .6 .6 -.2M214.3 791.5l.2 1.6m-.3 -.5l.3 .5 .2 -.6M214.3 788.6l-.9 1.1m.1 -.5l-.1 .5 .5 -.2M214.3 785.7l-1.5 .2m.5 -.3l-.5 .3 .6 .2M214.3 782.7l-1.5 .3m.5 -.3l-.5 .3 .5 .2M214.3 779.8l-.3 1.8m-.2 -.7l.2 .7 .4 -.6M214.3 776.9l-.3 1.6m-.2 -.6l.2 .6 .4 -.5M214.3 773.9l-1 1.2m.1 -.6l-.1 .6 .5 -.2M214.3 771l.3 1.9m-.4 -.6l.4 .6 .2 -.7M214.3 768.1l-1.2 1.1m.2 -.6l-.2 .6 .6 -.2M214.3 765.1l0 1.6m-.3 -.5l.3 .5 .3 -.5M214.3 762.2l.3 1.6m-.4 -.5l.4 .5 .2 -.6M214.3 759.3l-.8 1.1m.1 -.5l-.1 .5 .5 -.2M214.3 756.3l-.8 1.2m.1 -.5l-.1 .5 .5 -.3M214.3 753.4l-1.4 1m.3 -.6l-.3 .6 .6 -.1M214.3 750.5l-.2 1.8m-.2 -.6l.2 .6 .4 -.6M214.3 747.5l.2 1.5m-.3 -.5l.3 .5 .2 -.5M214.3 744.6l-.9 .9m.2 -.5l-.2 .5 .5 -.2M214.3 741.7l-.1 2m-.3 -.7l.3 .7 .4 -.7M214.3 738.7l-1.1 1.7m.1 -.8l-.1 .8 .7 -.4M214.3 735.8l-1.5 .4m.4 -.4l-.4 .4 .6 .1M214.3 732.9l.2 1.5m-.3 -.5l.3 .5 .2 -.6M214.3 729.9l-1.2 .7m.3 -.4l-.3 .4 .5 0M214.3 727l.3 1.8m-.4 -.6l.4 .6 .2 -.7M214.3 724.1l-.3 1.3m-.1 -.5l.1 .5 .3 -.4M214.3 721.1l-.7 1.7m0 -.7l0 .7 .5 -.5M214.3 718.2l.2 1.6m-.3 -.5l.3 .5 .2 -.6M214.3 715.3l.2 1.6m-.3 -.5l.3 .5 .2 -.6M214.3 712.3l-1.5 .6m.4 -.5l-.4 .5 .6 0M214.3 709.4l-.4 1.4m-.1 -.5l.1 .5 .4 -.4M214.3 706.5l.1 2m-.4 -.7l.4 .7 .3 -.7M214.3 703.5l-1.3 .9m.3 -.5l-.3 .5 .6 -.1M214.3 700.6l-1.2 1m.2 -.5l-.2 .5 .6 -.2M214.3 697.7l.1 1.6m-.3 -.5l.3 .5 .2 -.6M214.3 694.7l.2 1.9m-.4 -.6l.4 .6 .2 -.7M214.3 691.8l0 1.4m-.2 -.5l.2 .5 .2 -.5M214.3 688.9l0 1.9m-.3 -.7l.3 .7 .3 -.7M214.3 685.9l-.6 1.4m0 -.6l0 .6 .4 -.4M214.3 683l-1.4 -.2m.5 -.2l-.5 .2 .5 .3M214.3 680.1l-.3 1.8m-.2 -.6l.2 .6 .4 -.6M214.3 677.1l-1.9 -.1m.7 -.3l-.7 .3 .6 .3M214.3 674.2l-1.9 -.1m.7 -.3l-.7 .3 .6 .4M214.3 671.3l-1.7 -.2m.6 -.2l-.6 .2 .5 .3M214.3 668.3l-1.5 .2m.5 -.3l-.5 .3 .5 .2M214.3 665.4l-1.5 -.2m.6 -.2l-.6 .2 .5 .3M214.3 662.5l-.9 1.8m0 -.8l0 .8 .6 -.5M214.3 659.5l-.1 1.8m-.3 -.6l.3 .6 .3 -.6M214.3 656.6l0 1.9m-.3 -.7l.3 .7 .3 -.7M218.1 841.4l-1.6 .7m.4 -.5l-.4 .5 .7 0M218.1 838.5l-1.1 1m.2 -.5l-.2 .5 .5 -.2M218.1 835.5l-.5 1.8m-.1 -.7l.1 .7 .5 -.5M218.1 832.6l-.1 1.3m-.2 -.5l.2 .5 .2 -.4M218.1 829.7l-.3 1.7m-.2 -.6l.2 .6 .4 -.5M218.1 826.7l-.2 1.6m-.2 -.6l.2 .6 .3 -.5M218.1 823.8l-.6 1.9m-.1 -.7l.1 .7 .5 -.5M218.1 820.9l-.4 1.4m-.1 -.5l.1 .5 .4 -.4M218.1 817.9l-.9 1.2m.1 -.6l-.1 .6 .5 -.3M218.1 815l-1.7 .8m.4 -.6l-.4 .6 .7 0M218.1 812.1l-1.2 .4m.3 -.3l-.3 .3 .5 .1M218.1 809.1l.1 1.7m-.3 -.6l.3 .6 .3 -.6M218.1 806.2l.3 1.7m-.4 -.5l.4 .5 .2 -.6M218.1 803.3l-1.7 .6m.5 -.5l-.5 .5 .7 .1M218.1 800.3l.3 1.7m-.4 -.5l.4 .5 .2 -.6M218.1 797.4l-.1 2m-.3 -.7l.3 .7 .4 -.7M218.1 794.5l-1.3 .2m.4 -.3l-.4 .3 .5 .1M218.1 791.5l0 1.8m-.3 -.6l.3 .6 .3 -.6M218.1 788.6l-.1 1.6m-.2 -.5l.2 .5 .3 -.5M218.1 785.7l-.1 1.5m-.2 -.5l.2 .5 .3 -.5M218.1 782.7l-.3 1.6m-.2 -.6l.2 .6 .4 -.5M218.1 779.8l-.5 1.8m-.1 -.7l.1 .7 .5 -.5M218.1 776.9l-1.3 1.1m.3 -.6l-.3 .6 .6 -.2M218.1 773.9l-1.4 1.3m.2 -.7l-.2 .7 .7 -.2M218.1 771l-.6 1.6m0 -.6l0 .6 .5 -.4M218.1 768.1l.3 1.8m-.4 -.6l.4 .6 .2 -.7M218.1 765.1l-1.5 1.1m.3 -.6l-.3 .6 .7 -.1M218.1 762.2l-.5 1.8m-.1 -.7l.1 .7 .5 -.5M218.1 759.3l-1.4 1.1m.3 -.6l-.3 .6 .7 -.2M218.1 756.3l-1.2 1m.3 -.5l-.3 .5 .6 -.1M218.1 753.4l-.4 1.6m-.1 -.6l.1 .6 .4 -.5M218.1 750.5l-.1 1.4m-.2 -.5l.2 .5 .3 -.5M218.1 747.5l-.3 1.8m-.2 -.7l.2 .7 .4 -.6M218.1 744.6l-1.4 0m.5 -.2l-.5 .2 .5 .2M218.1 741.7l-.2 1.5m-.2 -.6l.2 .6 .3 -.5M218.1 738.7l-.3 1.6m-.2 -.6l.2 .6 .4 -.5M218.1 735.8l.1 1.4m-.3 -.4l.3 .4 .2 -.5M218.1 732.9l-.3 1.7m-.2 -.6l.2 .6 .4 -.5M218.1 729.9l0 1.5m-.3 -.5l.3 .5 .2 -.5M218.1 727l-1 1.5m.1 -.7l-.1 .7 .6 -.3M218.1 724.1l.1 1.8m-.3 -.6l.3 .6 .3 -.6M218.1 721.1l.2 1.3m-.3 -.4l.3 .4 .1 -.5M218.1 718.2l-.8 1.2m.1 -.5l-.1 .5 .5 -.3M218.1 715.3l-.3 1.6m-.2 -.6l.2 .6 .4 -.5M218.1 712.3l-1.9 .3m.6 -.4l-.6 .4 .7 .2M218.1 709.4l0 1.4m-.2 -.5l.2 .5 .2 -.5M218.1 706.5l.2 1.8m-.4 -.6l.4 .6 .2 -.6M218.1 703.5l-.3 1.7m-.2 -.6l.2 .6 .4 -.5M218.1 700.6l-.3 1.4m-.1 -.5l.1 .5 .3 -.4M218.1 697.7l.1 1.4m-.3 -.5l.3 .5 .2 -.5M218.1 694.7l-1.5 1m.3 -.6l-.3 .6 .7 -.1M218.1 691.8l-.7 1.7m0 -.7l0 .7 .5 -.4M218.1 688.9l-.3 1.4m-.1 -.5l.1 .5 .3 -.4M218.1 685.9l-1 1.1m.2 -.5l-.2 .5 .5 -.2M218.1 683l0 2m-.3 -.7l.3 .7 .3 -.7M218.1 680.1l.4 2m-.5 -.6l.5 .6 .2 -.7M218.1 677.1l-.4 1.3m-.1 -.5l.1 .5 .4 -.4M218.1 674.2l-1.3 1.4m.2 -.7l-.2 .7 .7 -.3M218.1 671.3l-1.7 .5m.5 -.5l-.5 .5 .7 .1M218.1 668.3l-1.4 1.3m.2 -.7l-.2 .7 .7 -.2M218.1 665.4l-.1 1.6m-.2 -.6l.2 .6 .3 -.5M218.1 662.5l-1 .9m.2 -.5l-.2 .5 .5 -.2M218.1 659.5l-.2 1.9m-.2 -.7l.2 .7 .4 -.6M218.1 656.6l-1.5 .7m.4 -.5l-.4 .5 .6 0M221.8 841.4l.1 1.4m-.2 -.5l.2 .5 .2 -.5M221.8 838.5l-.8 1m.1 -.5l-.1 .5 .4 -.2M221.8 835.5l-.4 1.8m-.1 -.7l.1 .7 .4 -.5M221.8 832.6l-2 0m.7 -.3l-.7 .3 .7 .3M221.8 829.7l0 1.6m-.3 -.5l.3 .5 .3 -.5M221.8 826.7l-.5 1.4m-.1 -.5l.1 .5 .4 -.4M221.8 823.8l-1.2 1m.2 -.5l-.2 .5 .6 -.1M221.8 820.9l.1 1.7m-.3 -.6l.3 .6 .2 -.6M221.8 817.9l-.8 1.2m.1 -.5l-.1 .5 .5 -.3M221.8 815l0 1.8m-.3 -.6l.3 .6 .3 -.6M221.8 812.1l-1.6 .6m.5 -.5l-.5 .5 .7 .1M221.8 809.1l-1.6 1.1m.4 -.7l-.4 .7 .7 -.1M221.8 806.2l-.2 1.7m-.2 -.6l.2 .6 .3 -.5M221.8 803.3l-.1 2m-.3 -.7l.3 .7 .4 -.7M221.8 800.3l-1.7 0m.6 -.3l-.6 .3 .6 .3M221.8 797.4l.1 2m-.4 -.7l.4 .7 .3 -.7M221.8 794.5l-.2 1.8m-.2 -.7l.2 .7 .4 -.6M221.8 791.5l-1 .8m.2 -.4l-.2 .4 .5 -.1M221.8 788.6l-1.1 1.2m.2 -.6l-.2 .6 .6 -.2M221.8 785.7l-.2 1.3m-.1 -.5l.1 .5 .3 -.4M221.8 782.7l-2 0m.7 -.3l-.7 .3 .7 .3M221.8 779.8l.2 1.7m-.3 -.5l.3 .5 .2 -.6M221.8 776.9l-1.3 .3m.4 -.3l-.4 .3 .5 .1M221.8 773.9l-.2 1.3m-.2 -.5l.2 .5 .3 -.4M221.8 771l-.8 1m.1 -.5l-.1 .5 .4 -.2M221.8 768.1l-.1 1.9m-.3 -.7l.3 .7 .4 -.6M221.8 765.1l-1.7 1m.4 -.6l-.4 .6 .7 0M221.8 762.2l-1.7 .7m.5 -.5l-.5 .5 .7 0M221.8 759.3l-.7 1.5m0 -.6l0 .6 .5 -.4M221.8 756.3l-1.4 .6m.4 -.4l-.4 .4 .6 0M221.8 753.4l-.6 1.9m-.1 -.7l.1 .7 .5 -.5M221.8 750.5l-.1 1.3m-.2 -.5l.2 .5 .3 -.4M221.8 747.5l-.2 1.8m-.2 -.6l.2 .6 .4 -.6M221.8 744.6l.3 1.7m-.4 -.5l.4 .5 .2 -.6M221.8 741.7l-.5 1.5m-.1 -.6l.1 .6 .4 -.4M221.8 738.7l-1 1.4m.1 -.6l-.1 .6 .6 -.3M221.8 735.8l-1.5 1.3m.3 -.7l-.3 .7 .7 -.2M221.8 732.9l.1 1.3m-.2 -.4l.2 .4 .2 -.5M221.8 729.9l0 1.6m-.3 -.5l.3 .5 .2 -.5M221.8 727l-.2 1.5m-.2 -.6l.2 .6 .3 -.5M221.8 724.1l-.2 1.8m-.2 -.7l.2 .7 .4 -.6M221.8 721.1l-2 -.3m.7 -.2l-.7 .2 .6 .4M221.8 718.2l-.1 1.5m-.2 -.5l.2 .5 .3 -.5M221.8 715.3l.3 1.3m-.3 -.4l.3 .4 .1 -.5M221.8 712.3l-1 .9m.2 -.5l-.2 .5 .5 -.1M221.8 709.4l-.1 2m-.3 -.7l.3 .7 .3 -.7M221.8 706.5l-.1 1.4m-.2 -.5l.2 .5 .3 -.4M221.8 703.5l0 1.5m-.3 -.5l.3 .5 .2 -.5M221.8 700.6l-.1 1.6m-.2 -.6l.2 .6 .3 -.5M221.8 697.7l.3 1.5m-.3 -.5l.3 .5 .1 -.6M221.8 694.7l.2 1.9m-.4 -.6l.4 .6 .2 -.7M221.8 691.8l-.2 1.7m-.2 -.6l.2 .6 .3 -.6M221.8 688.9l-1.3 -.1m.5 -.2l-.5 .2 .4 .3M221.8 685.9l-.5 1.8m-.1 -.7l.1 .7 .5 -.6M221.8 683l.2 1.4m-.3 -.4l.3 .4 .2 -.5M221.8 680.1l0 1.3m-.2 -.4l.2 .4 .2 -.4M221.8 677.1l-.2 1.8m-.2 -.7l.2 .7 .4 -.6M221.8 674.2l.3 1.9m-.4 -.6l.4 .6 .2 -.7M221.8 671.3l-.1 1.4m-.2 -.5l.2 .5 .3 -.5M221.8 668.3l-.2 1.8m-.2 -.7l.2 .7 .4 -.6M221.8 665.4l-1.4 1.1m.3 -.6l-.3 .6 .6 -.2M221.8 662.5l-.1 1.8m-.3 -.6l.3 .6 .3 -.6M221.8 659.5l.3 1.8m-.4 -.6l.4 .6 .2 -.7M221.8 656.6l-1 1m.2 -.5l-.2 .5 .5 -.2M225.5 841.4l.1 2m-.4 -.7l.4 .7 .3 -.7M225.5 838.5l.1 1.4m-.3 -.5l.3 .5 .2 -.5M225.5 835.5l0 1.4m-.2 -.5l.2 .5 .2 -.5M225.5 832.6l0 2m-.3 -.7l.3 .7 .3 -.7M225.5 829.7l-1.6 .2m.5 -.3l-.5 .3 .6 .2M225.5 826.7l-1.1 1.5m.1 -.7l-.1 .7 .6 -.3M225.5 823.8l-.2 1.3m-.2 -.5l.2 .5 .3 -.4M225.5 820.9l-.1 1.4m-.2 -.5l.2 .5 .3 -.5M225.5 817.9l-.3 1.5m-.2 -.6l.2 .6 .4 -.5M225.5 815l.2 1.6m-.3 -.5l.3 .5 .2 -.6M225.5 812.1l.2 1.6m-.3 -.5l.3 .5 .2 -.6M225.5 809.1l-.3 1.4m-.1 -.5l.1 .5 .3 -.4M225.5 806.2l-.3 1.8m-.2 -.7l.2 .7 .4 -.6M225.5 803.3l-1.8 .7m.5 -.5l-.5 .5 .7 .1M225.5 800.3l-1.8 .2m.6 -.3l-.6 .3 .6 .2M225.5 797.4l-1 1.1m.2 -.5l-.2 .5 .5 -.2M225.5 794.5l-.8 1m.1 -.5l-.1 .5 .4 -.2M225.5 791.5l-1.5 1.3m.3 -.7l-.3 .7 .7 -.2M225.5 788.6l0 1.5m-.2 -.5l.2 .5 .3 -.5M225.5 785.7l.1 1.5m-.3 -.5l.3 .5 .2 -.5M225.5 782.7l.1 1.7m-.3 -.6l.3 .6 .3 -.6M225.5 779.8l-1.5 1.4m.3 -.7l-.3 .7 .7 -.2M225.5 776.9l-1.3 .2m.4 -.3l-.4 .3 .5 .1M225.5 773.9l-.5 2m-.1 -.8l.1 .8 .5 -.6M225.5 771l-1.6 1.2m.4 -.7l-.4 .7 .7 -.1M225.5 768.1l-1.4 .6m.4 -.4l-.4 .4 .6 0M225.5 765.1l-.2 1.5m-.2 -.5l.2 .5 .3 -.5M225.5 762.2l-1.9 .4m.6 -.5l-.6 .5 .7 .2M225.5 759.3l-.2 1.6m-.2 -.6l.2 .6 .3 -.5M225.5 756.3l-1.5 1.2m.3 -.7l-.3 .7 .7 -.2M225.5 753.4l.1 1.3m-.2 -.4l.2 .4 .2 -.5M225.5 750.5l0 1.4m-.2 -.5l.2 .5 .2 -.5M225.5 747.5l-1 1m.2 -.5l-.2 .5 .5 -.2M225.5 744.6l-1.2 1m.2 -.5l-.2 .5 .6 -.1M225.5 741.7l-.3 1.4m-.1 -.5l.1 .5 .3 -.4M225.5 738.7l-1.1 1.1m.2 -.5l-.2 .5 .5 -.2M225.5 735.8l-.2 1.3m-.1 -.5l.1 .5 .3 -.4M225.5 732.9l-1.3 .4m.4 -.3l-.4 .3 .5 .1M225.5 729.9l-1.6 .9m.4 -.6l-.4 .6 .7 0M225.5 727l-1.9 .5m.6 -.5l-.6 .5 .7 .1M225.5 724.1l-1.2 1m.3 -.5l-.3 .5 .6 -.1M225.5 721.1l-1.2 1.5m.2 -.7l-.2 .7 .7 -.3M225.5 718.2l-1.2 .5m.3 -.4l-.3 .4 .5 0M225.5 715.3l-.3 1.6m-.2 -.6l.2 .6 .4 -.5M225.5 712.3l0 1.5m-.3 -.5l.3 .5 .2 -.5M225.5 709.4l-1.6 .1m.5 -.3l-.5 .3 .6 .2M225.5 706.5l-.2 1.4m-.1 -.5l.1 .5 .3 -.4M225.5 703.5l.1 1.8m-.3 -.6l.3 .6 .3 -.6M225.5 700.6l.2 1.7m-.3 -.5l.3 .5 .2 -.6M225.5 697.7l-1.9 .4m.6 -.4l-.6 .4 .7 .2M225.5 694.7l.1 1.8m-.3 -.6l.3 .6 .3 -.6M225.5 691.8l-.2 1.8m-.2 -.7l.2 .7 .4 -.6M225.5 688.9l0 1.3m-.2 -.5l.2 .5 .2 -.4M225.5 685.9l-1.5 1m.3 -.6l-.3 .6 .7 -.1M225.5 683l-1 1.4m.1 -.6l-.1 .6 .6 -.3M225.5 680.1l-1.2 1.5m.2 -.7l-.2 .7 .7 -.3M225.5 677.1l-.8 1.2m.1 -.5l-.1 .5 .5 -.3M225.5 674.2l-.7 1.7m0 -.7l0 .7 .5 -.5M225.5 671.3l-.2 1.9m-.2 -.7l.2 .7 .4 -.6M225.5 668.3l-1.3 0m.4 -.2l-.4 .2 .4 .2M225.5 665.4l-1.4 1.5m.2 -.7l-.2 .7 .7 -.3M225.5 662.5l-.3 1.9m-.2 -.7l.2 .7 .4 -.6M225.5 659.5l-1.2 .8m.3 -.5l-.3 .5 .5 -.1M225.5 656.6l-.1 1.9m-.3 -.7l.3 .7 .3 -.6M229.2 841.4l.4 1.9m-.4 -.6l.4 .6 .2 -.7M229.2 838.5l-.3 1.9m-.2 -.7l.2 .7 .4 -.6M229.2 835.5l.2 1.3m-.3 -.4l.3 .4 .1 -.5M229.2 832.6l.3 1.6m-.4 -.5l.4 .5 .2 -.6M229.2 829.7l0 1.4m-.2 -.5l.2 .5 .2 -.5M229.2 826.7l.1 1.5m-.3 -.5l.3 .5 .2 -.5M229.2 823.8l.3 1.5m-.4 -.5l.4 .5 .1 -.6M229.2 820.9l.1 1.4m-.3 -.5l.3 .5 .2 -.5M229.2 817.9l-.3 1.8m-.2 -.7l.2 .7 .4 -.6M229.2 815l.1 1.4m-.3 -.5l.3 .5 .2 -.5M229.2 812.1l-1.4 .2m.4 -.3l-.4 .3 .5 .2M229.2 809.1l-.2 1.3m-.1 -.5l.1 .5 .3 -.4M229.2 806.2l-1.3 1.3m.2 -.7l-.2 .7 .7 -.2M229.2 803.3l-1.8 .9m.5 -.6l-.5 .6 .8 0M229.2 800.3l-1.8 .3m.6 -.4l-.6 .4 .7 .2M229.2 797.4l-2 .2m.6 -.4l-.6 .4 .7 .2M229.2 794.5l-.2 1.4m-.2 -.5l.2 .5 .3 -.5M229.2 791.5l-.1 1.6m-.2 -.6l.2 .6 .3 -.5M229.2 788.6l-1.6 .5m.5 -.5l-.5 .5 .6 .1M229.2 785.7l-1.1 1.4m.1 -.7l-.1 .7 .6 -.3M229.2 782.7l-.3 1.9m-.2 -.7l.2 .7 .4 -.6M229.2 779.8l-1.7 .8m.5 -.6l-.5 .6 .7 0M229.2 776.9l.2 1.3m-.3 -.4l.3 .4 .1 -.5M229.2 773.9l.2 1.7m-.3 -.5l.3 .5 .2 -.6M229.2 771l-1.4 -.1m.5 -.2l-.5 .2 .5 .3M229.2 768.1l-1.5 1.1m.3 -.6l-.3 .6 .7 -.1M229.2 765.1l-1.4 .7m.4 -.5l-.4 .5 .6 0M229.2 762.2l-1 1.2m.1 -.6l-.1 .6 .5 -.3M229.2 759.3l-1.2 .9m.3 -.5l-.3 .5 .6 -.1M229.2 756.3l.2 1.7m-.3 -.6l.3 .6 .2 -.6M229.2 753.4l.2 1.4m-.3 -.4l.3 .4 .1 -.5M229.2 750.5l-.2 1.7m-.2 -.6l.2 .6 .3 -.5M229.2 747.5l-.3 1.6m-.2 -.6l.2 .6 .4 -.5M229.2 744.6l-1.7 .5m.5 -.4l-.5 .4 .7 .1M229.2 741.7l-1.1 .9m.2 -.5l-.2 .5 .5 -.1M229.2 738.7l-1.8 .1m.6 -.3l-.6 .3 .6 .3M229.2 735.8l-.3 1.8m-.2 -.7l.2 .7 .4 -.6M229.2 732.9l.3 2m-.4 -.6l.4 .6 .2 -.7M229.2 729.9l-.3 1.8m-.2 -.7l.2 .7 .4 -.6M229.2 727l.2 1.7m-.3 -.6l.3 .6 .2 -.6M229.2 724.1l-.1 1.9m-.3 -.7l.3 .7 .3 -.6M229.2 721.1l.4 1.9m-.4 -.6l.4 .6 .2 -.7M229.2 718.2l-1.6 -.2m.6 -.2l-.6 .2 .5 .3M229.2 715.3l.3 1.6m-.3 -.5l.3 .5 .2 -.6M229.2 712.3l-1.1 1.3m.1 -.6l-.1 .6 .6 -.3M229.2 709.4l-1.3 .9m.3 -.5l-.3 .5 .6 -.1M229.2 706.5l-.1 1.7m-.2 -.6l.2 .6 .3 -.6M229.2 703.5l-.9 1.2m.1 -.6l-.1 .6 .5 -.2M229.2 700.6l-1.8 .6m.5 -.5l-.5 .5 .7 .1M229.2 697.7l-.9 1m.2 -.5l-.2 .5 .5 -.2M229.2 694.7l0 1.4m-.2 -.5l.2 .5 .2 -.5M229.2 691.8l-1.3 -.2m.5 -.1l-.5 .1 .4 .3M229.2 688.9l-.3 1.7m-.2 -.6l.2 .6 .4 -.5M229.2 685.9l-1.2 1.2m.2 -.6l-.2 .6 .6 -.2M229.2 683l-1.5 1.2m.3 -.7l-.3 .7 .7 -.1M229.2 680.1l.2 1.5m-.3 -.5l.3 .5 .2 -.6M229.2 677.1l-.4 1.8m-.2 -.7l.2 .7 .4 -.6M229.2 674.2l-2 .5m.6 -.5l-.6 .5 .8 .2M229.2 671.3l-1.2 .9m.3 -.5l-.3 .5 .6 -.1M229.2 668.3l-.1 1.5m-.2 -.5l.2 .5 .3 -.5M229.2 665.4l-1.8 -.3m.7 -.2l-.7 .2 .6 .4M229.2 662.5l-1.1 1.1m.2 -.6l-.2 .6 .6 -.2M229.2 659.5l-.7 1.4m0 -.6l0 .6 .5 -.4M229.2 656.6l0 1.9m-.3 -.6l.3 .6 .3 -.7M232.9 841.4l-.2 1.7m-.2 -.6l.2 .6 .4 -.5M232.9 838.5l-1.8 .1m.6 -.3l-.6 .3 .6 .3M232.9 835.5l-1.5 1.1m.3 -.6l-.3 .6 .7 -.1M232.9 832.6l-1.5 .5m.4 -.4l-.4 .4 .6 .1M232.9 829.7l-1.3 -.1m.5 -.2l-.5 .2 .4 .2M232.9 826.7l-.1 2m-.3 -.7l.3 .7 .4 -.7M232.9 823.8l-.5 2m-.1 -.8l.1 .8 .5 -.6M232.9 820.9l-1.3 1.2m.2 -.6l-.2 .6 .6 -.2M232.9 817.9l.2 1.6m-.3 -.5l.3 .5 .2 -.6M232.9 815l-1.9 .5m.6 -.5l-.6 .5 .7 .1M232.9 812.1l-.2 1.3m-.1 -.5l.1 .5 .3 -.4M232.9 809.1l-1.8 -.1m.6 -.3l-.6 .3 .6 .3M232.9 806.2l-.9 1.1m.1 -.5l-.1 .5 .5 -.2M232.9 803.3l-1 1m.2 -.5l-.2 .5 .5 -.2M232.9 800.3l-.9 .9m.1 -.5l-.1 .5 .5 -.2M232.9 797.4l.2 1.7m-.3 -.5l.3 .5 .2 -.6M232.9 794.5l-1 .9m.2 -.5l-.2 .5 .5 -.1M232.9 791.5l.3 1.4m-.3 -.4l.3 .4 .1 -.5M232.9 788.6l-.5 1.3m0 -.5l0 .5 .4 -.4M232.9 785.7l-.4 1.4m-.1 -.6l.1 .6 .4 -.4M232.9 782.7l0 1.5m-.2 -.5l.2 .5 .3 -.5M232.9 779.8l-.1 1.6m-.2 -.6l.2 .6 .3 -.5M232.9 776.9l-.1 1.6m-.2 -.6l.2 .6 .3 -.5M232.9 773.9l-.2 1.4m-.1 -.5l.1 .5 .3 -.4M232.9 771l-.2 1.3m-.2 -.5l.2 .5 .3 -.4M232.9 768.1l-.3 1.6m-.2 -.6l.2 .6 .4 -.5M232.9 765.1l-.7 1.5m0 -.6l0 .6 .5 -.4M232.9 762.2l0 1.4m-.2 -.5l.2 .5 .2 -.5M232.9 759.3l-1.4 .2m.4 -.3l-.4 .3 .5 .2M232.9 756.3l-.1 1.7m-.2 -.6l.2 .6 .3 -.6M232.9 753.4l0 1.9m-.3 -.6l.3 .6 .3 -.6M232.9 750.5l-1.8 .4m.5 -.4l-.5 .4 .7 .2M232.9 747.5l-.6 1.2m0 -.5l0 .5 .4 -.3M232.9 744.6l-.3 1.8m-.2 -.6l.2 .6 .4 -.6M232.9 741.7l-.7 1.8m-.1 -.8l.1 .8 .6 -.5M232.9 738.7l-1 1.5m.1 -.7l-.1 .7 .6 -.3M232.9 735.8l-.1 1.9m-.3 -.7l.3 .7 .4 -.6M232.9 732.9l-1.5 .9m.4 -.6l-.4 .6 .7 -.1M232.9 729.9l-.2 1.4m-.2 -.5l.2 .5 .3 -.5M232.9 727l0 1.6m-.3 -.5l.3 .5 .2 -.5M232.9 724.1l-1 .9m.2 -.5l-.2 .5 .5 -.1M232.9 721.1l.2 1.9m-.4 -.6l.4 .6 .3 -.7M232.9 718.2l-1.4 .1m.5 -.3l-.5 .3 .5 .2M232.9 715.3l-1.2 1.4m.2 -.7l-.2 .7 .6 -.3M232.9 712.3l-2 -.2m.7 -.3l-.7 .3 .7 .4M232.9 709.4l-.5 1.8m-.1 -.7l.1 .7 .5 -.5M232.9 706.5l-1 1.2m.1 -.6l-.1 .6 .5 -.3M232.9 703.5l-.2 1.7m-.2 -.6l.2 .6 .3 -.5M232.9 700.6l-.2 1.7m-.2 -.6l.2 .6 .3 -.5M232.9 697.7l-.9 1m.1 -.5l-.1 .5 .5 -.2M232.9 694.7l-1.5 .4m.4 -.4l-.4 .4 .6 .1M232.9 691.8l-1.5 1.3m.3 -.7l-.3 .7 .7 -.2M232.9 688.9l-2 .1m.7 -.4l-.7 .4 .7 .3M232.9 685.9l.3 1.8m-.4 -.6l.4 .6 .2 -.7M232.9 683l-1.9 .5m.6 -.5l-.6 .5 .7 .1M232.9 680.1l-1.8 -.3m.7 -.2l-.7 .2 .6 .4M232.9 677.1l-1.7 1.1m.4 -.7l-.4 .7 .8 -.1M232.9 674.2l-1.5 1.4m.3 -.7l-.3 .7 .7 -.2M232.9 671.3l.2 1.6m-.3 -.5l.3 .5 .2 -.6M232.9 668.3l.2 1.8m-.4 -.6l.4 .6 .2 -.6M232.9 665.4l-1.4 1m.3 -.6l-.3 .6 .6 -.1M232.9 662.5l-.2 2m-.3 -.7l.3 .7 .4 -.7M232.9 659.5l-.2 1.4m-.2 -.5l.2 .5 .3 -.4M232.9 656.6l0 1.5m-.2 -.5l.2 .5 .3 -.5M236.7 841.4l.2 1.5m-.3 -.5l.3 .5 .2 -.5M236.7 838.5l-1.2 1.1m.2 -.6l-.2 .6 .6 -.2M236.7 835.5l-1.5 .7m.4 -.5l-.4 .5 .6 0M236.7 832.6l-1.1 1.5m.1 -.7l-.1 .7 .6 -.3M236.7 829.7l0 1.8m-.3 -.6l.3 .6 .3 -.6M236.7 826.7l-.1 1.5m-.2 -.5l.2 .5 .3 -.5M236.7 823.8l-.1 1.9m-.3 -.7l.3 .7 .4 -.6M236.7 820.9l-1 .8m.2 -.5l-.2 .5 .5 -.1M236.7 817.9l-1.4 1.2m.3 -.6l-.3 .6 .7 -.2M236.7 815l-1.1 1.3m.2 -.6l-.2 .6 .6 -.2M236.7 812.1l-.3 1.8m-.2 -.7l.2 .7 .4 -.6M236.7 809.1l.3 1.9m-.4 -.6l.4 .6 .2 -.7M236.7 806.2l-1.2 1.4m.2 -.7l-.2 .7 .6 -.3M236.7 803.3l-1.4 .6m.4 -.4l-.4 .4 .6 0M236.7 800.3l-.2 1.3m-.1 -.5l.1 .5 .3 -.4M236.7 797.4l-.3 1.9m-.2 -.7l.2 .7 .4 -.6M236.7 794.5l-.4 2m-.2 -.7l.2 .7 .5 -.6M236.7 791.5l-1.3 1.4m.2 -.7l-.2 .7 .7 -.3M236.7 788.6l-1.4 .2m.5 -.3l-.5 .3 .5 .2M236.7 785.7l-1.3 .5m.4 -.4l-.4 .4 .5 .1M236.7 782.7l-.3 1.6m-.2 -.6l.2 .6 .4 -.5M236.7 779.8l-.7 1.8m-.1 -.7l.1 .7 .5 -.5M236.7 776.9l-.6 1.7m-.1 -.7l.1 .7 .5 -.5M236.7 773.9l-1.2 .8m.3 -.5l-.3 .5 .6 -.1M236.7 771l-1.3 1m.3 -.6l-.3 .6 .6 -.1M236.7 768.1l-.1 1.6m-.2 -.6l.2 .6 .3 -.5M236.7 765.1l.1 1.5m-.3 -.5l.3 .5 .2 -.5M236.7 762.2l0 2m-.3 -.7l.3 .7 .3 -.7M236.7 759.3l.2 1.4m-.3 -.5l.3 .5 .2 -.5M236.7 756.3l-.3 1.4m-.1 -.5l.1 .5 .3 -.4M236.7 753.4l0 1.5m-.3 -.5l.3 .5 .2 -.5M236.7 750.5l-1.1 1.5m.1 -.7l-.1 .7 .6 -.3M236.7 747.5l-.4 1.4m-.1 -.6l.1 .6 .4 -.4M236.7 744.6l-1.5 .8m.4 -.5l-.4 .5 .6 0M236.7 741.7l-.2 1.5m-.2 -.5l.2 .5 .3 -.5M236.7 738.7l.3 1.9m-.4 -.6l.4 .6 .2 -.7M236.7 735.8l-.3 1.4m-.1 -.5l.1 .5 .3 -.4M236.7 732.9l.2 2m-.4 -.6l.4 .6 .3 -.7M236.7 729.9l-1.1 .9m.2 -.5l-.2 .5 .5 -.1M236.7 727l.3 1.4m-.3 -.4l.3 .4 .1 -.5M236.7 724.1l0 1.6m-.3 -.6l.3 .6 .3 -.6M236.7 721.1l0 1.4m-.2 -.5l.2 .5 .2 -.5M236.7 718.2l-.3 1.4m-.1 -.5l.1 .5 .3 -.4M236.7 715.3l-1.8 .3m.6 -.4l-.6 .4 .6 .2M236.7 712.3l.2 1.9m-.4 -.6l.4 .6 .2 -.7M236.7 709.4l.1 1.7m-.3 -.6l.3 .6 .3 -.6M236.7 706.5l.1 1.9m-.3 -.6l.3 .6 .3 -.6M236.7 703.5l-.3 1.6m-.2 -.6l.2 .6 .4 -.5M236.7 700.6l-.1 1.5m-.2 -.5l.2 .5 .3 -.5M236.7 697.7l-1.4 1.2m.3 -.6l-.3 .6 .7 -.2M236.7 694.7l0 1.6m-.3 -.6l.3 .6 .3 -.6M236.7 691.8l-1.4 1.4m.2 -.7l-.2 .7 .7 -.3M236.7 688.9l-.2 1.6m-.2 -.6l.2 .6 .3 -.5M236.7 685.9l-1.2 1.4m.2 -.7l-.2 .7 .6 -.3M236.7 683l-.2 2m-.3 -.7l.3 .7 .4 -.6M236.7 680.1l-.5 1.6m-.1 -.6l.1 .6 .4 -.5M236.7 677.1l.1 2m-.4 -.7l.4 .7 .3 -.7M236.7 674.2l-1 1.2m.1 -.6l-.1 .6 .5 -.2M236.7 671.3l-.3 1.7m-.2 -.6l.2 .6 .4 -.5M236.7 668.3l-.6 1.2m0 -.5l0 .5 .4 -.3M236.7 665.4l-.1 1.9m-.3 -.7l.3 .7 .4 -.6M236.7 662.5l-1.4 .4m.4 -.4l-.4 .4 .5 .1M236.7 659.5l.1 1.8m-.3 -.6l.3 .6 .2 -.6M236.7 656.6l-.1 1.7m-.3 -.6l.3 .6 .3 -.6M240.4 841.4l-1.9 .2m.6 -.4l-.6 .4 .7 .2M240.4 838.5l-1 .9m.2 -.5l-.2 .5 .5 -.1M240.4 835.5l-.2 1.9m-.3 -.7l.3 .7 .4 -.6M240.4 832.6l-1 1m.2 -.5l-.2 .5 .5 -.2M240.4 829.7l-1.1 1.4m.2 -.7l-.2 .7 .6 -.3M240.4 826.7l-.2 1.6m-.2 -.6l.2 .6 .4 -.5M240.4 823.8l-.2 1.8m-.2 -.7l.2 .7 .4 -.6M240.4 820.9l-1.1 .8m.2 -.4l-.2 .4 .5 -.1M240.4 817.9l-1.2 .7m.3 -.5l-.3 .5 .5 0M240.4 815l.2 1.7m-.3 -.6l.3 .6 .2 -.6M240.4 812.1l-1.2 1.5m.2 -.7l-.2 .7 .6 -.3M240.4 809.1l-.3 1.8m-.2 -.7l.2 .7 .4 -.6M240.4 806.2l-1.3 .7m.3 -.4l-.3 .4 .5 0M240.4 803.3l-.2 1.6m-.2 -.6l.2 .6 .3 -.5M240.4 800.3l-.3 1.4m-.1 -.5l.1 .5 .3 -.4M240.4 797.4l.2 1.9m-.4 -.6l.4 .6 .3 -.7M240.4 794.5l.2 1.7m-.3 -.5l.3 .5 .2 -.6M240.4 791.5l-1.5 1.2m.3 -.6l-.3 .6 .7 -.2M240.4 788.6l-1.2 1.1m.2 -.6l-.2 .6 .6 -.2M240.4 785.7l-1.6 .3m.5 -.4l-.5 .4 .6 .2M240.4 782.7l-1.7 .3m.5 -.4l-.5 .4 .6 .2M240.4 779.8l-1.8 .1m.6 -.3l-.6 .3 .6 .3M240.4 776.9l-.1 1.3m-.2 -.5l.2 .5 .2 -.4M240.4 773.9l-1.3 .4m.4 -.3l-.4 .3 .5 .1M240.4 771l-1.2 .5m.3 -.4l-.3 .4 .5 .1M240.4 768.1l-1.3 1.5m.2 -.7l-.2 .7 .7 -.3M240.4 765.1l.3 1.6m-.4 -.5l.4 .5 .2 -.6M240.4 762.2l.3 1.7m-.4 -.5l.4 .5 .2 -.6M240.4 759.3l.3 2m-.4 -.6l.4 .6 .2 -.7M240.4 756.3l-.1 1.5m-.2 -.5l.2 .5 .3 -.5M240.4 753.4l.3 1.7m-.4 -.5l.4 .5 .2 -.6M240.4 750.5l0 1.6m-.3 -.6l.3 .6 .3 -.6M240.4 747.5l-.4 1.3m-.1 -.5l.1 .5 .4 -.4M240.4 744.6l-.2 1.9m-.3 -.7l.3 .7 .4 -.6M240.4 741.7l-.5 1.4m-.1 -.6l.1 .6 .4 -.4M240.4 738.7l-.2 1.4m-.2 -.5l.2 .5 .3 -.5M240.4 735.8l-1.3 1.3m.2 -.7l-.2 .7 .7 -.2M240.4 732.9l-1.2 .5m.3 -.4l-.3 .4 .5 0M240.4 729.9l.1 1.7m-.3 -.6l.3 .6 .3 -.6M240.4 727l-.3 1.4m-.1 -.5l.1 .5 .3 -.4M240.4 724.1l.3 1.9m-.4 -.6l.4 .6 .2 -.7M240.4 721.1l-.5 1.3m0 -.5l0 .5 .4 -.4M240.4 718.2l0 1.4m-.2 -.5l.2 .5 .2 -.5M240.4 715.3l-1.2 1.3m.2 -.7l-.2 .7 .6 -.3M240.4 712.3l-.9 .9m.2 -.5l-.2 .5 .5 -.1M240.4 709.4l-.1 1.6m-.2 -.6l.2 .6 .3 -.5M240.4 706.5l-1.6 .5m.5 -.4l-.5 .4 .6 .1M240.4 703.5l.2 1.3m-.3 -.4l.3 .4 .2 -.5M240.4 700.6l-.1 1.6m-.2 -.6l.2 .6 .3 -.5M240.4 697.7l-.3 1.9m-.2 -.7l.2 .7 .4 -.6M240.4 694.7l-1.2 1.1m.2 -.6l-.2 .6 .6 -.2M240.4 691.8l0 1.8m-.3 -.6l.3 .6 .3 -.6M240.4 688.9l-1.2 .9m.3 -.5l-.3 .5 .6 -.1M240.4 685.9l-1.6 .6m.4 -.5l-.4 .5 .7 .1M240.4 683l.2 1.3m-.3 -.4l.3 .4 .2 -.5M240.4 680.1l-.2 1.7m-.2 -.6l.2 .6 .4 -.6M240.4 677.1l-1.6 .5m.5 -.4l-.5 .4 .6 .1M240.4 674.2l-1.4 .4m.4 -.4l-.4 .4 .5 .1M240.4 671.3l-.4 1.8m-.2 -.7l.2 .7 .4 -.6M240.4 668.3l0 1.9m-.3 -.6l.3 .6 .3 -.6M240.4 665.4l-.3 1.7m-.2 -.6l.2 .6 .4 -.5M240.4 662.5l.1 1.8m-.3 -.6l.3 .6 .2 -.6M240.4 659.5l.2 1.5m-.3 -.5l.3 .5 .2 -.6M240.4 656.6l-1.5 1.1m.3 -.6l-.3 .6 .7 -.1M244.1 841.4l-.1 1.4m-.2 -.5l.2 .5 .3 -.4M244.1 838.5l-1.6 .1m.5 -.3l-.5 .3 .6 .2M244.1 835.5l.3 1.4m-.3 -.4l.3 .4 .1 -.5M244.1 832.6l-.5 1.8m-.1 -.7l.1 .7 .5 -.6M244.1 829.7l-.8 1.1m.1 -.5l-.1 .5 .5 -.3M244.1 826.7l.3 1.6m-.4 -.5l.4 .5 .2 -.6M244.1 823.8l-1.1 .9m.2 -.5l-.2 .5 .5 -.1M244.1 820.9l-1.5 1.1m.3 -.6l-.3 .6 .7 -.1M244.1 817.9l0 1.5m-.3 -.5l.3 .5 .2 -.5M244.1 815l-.9 1.1m.1 -.5l-.1 .5 .5 -.2M244.1 812.1l0 2m-.3 -.7l.3 .7 .3 -.7M244.1 809.1l-1.1 1.2m.2 -.6l-.2 .6 .6 -.2M244.1 806.2l-1 .8m.2 -.5l-.2 .5 .5 -.1M244.1 803.3l.4 1.8m-.4 -.6l.4 .6 .2 -.7M244.1 800.3l-1.8 .1m.6 -.3l-.6 .3 .6 .3M244.1 797.4l-.7 1.6m0 -.7l0 .7 .5 -.5M244.1 794.5l-1.3 .5m.3 -.4l-.3 .4 .5 0M244.1 791.5l-1.3 -.3m.5 -.1l-.5 .1 .4 .3M244.1 788.6l-1 1m.2 -.5l-.2 .5 .5 -.2M244.1 785.7l.2 1.4m-.3 -.5l.3 .5 .2 -.5M244.1 782.7l.2 1.6m-.3 -.5l.3 .5 .2 -.6M244.1 779.8l-1.6 1.1m.4 -.6l-.4 .6 .7 -.1M244.1 776.9l0 1.3m-.2 -.4l.2 .4 .2 -.4M244.1 773.9l-.6 1.3m0 -.5l0 .5 .4 -.3M244.1 771l.1 1.8m-.3 -.6l.3 .6 .3 -.6M244.1 768.1l.2 1.4m-.3 -.4l.3 .4 .2 -.5M244.1 765.1l-.9 1m.2 -.5l-.2 .5 .5 -.2M244.1 762.2l-1.8 .6m.5 -.5l-.5 .5 .7 .1M244.1 759.3l.1 1.7m-.3 -.6l.3 .6 .3 -.6M244.1 756.3l-1.4 1m.3 -.6l-.3 .6 .6 -.1M244.1 753.4l.3 1.3m-.3 -.4l.3 .4 .1 -.5M244.1 750.5l-1.4 1.3m.3 -.7l-.3 .7 .7 -.2M244.1 747.5l.2 1.4m-.3 -.4l.3 .4 .2 -.5M244.1 744.6l-.1 1.6m-.2 -.6l.2 .6 .3 -.5M244.1 741.7l-1.3 1.2m.3 -.6l-.3 .6 .7 -.2M244.1 738.7l-.7 1.9m-.1 -.8l.1 .8 .6 -.5M244.1 735.8l-1.3 .3m.4 -.3l-.4 .3 .5 .1M244.1 732.9l0 1.9m-.3 -.7l.3 .7 .3 -.7M244.1 729.9l-.1 1.3m-.2 -.5l.2 .5 .2 -.4M244.1 727l-.5 1.6m-.1 -.6l.1 .6 .4 -.5M244.1 724.1l-1.4 1.4m.2 -.7l-.2 .7 .7 -.3M244.1 721.1l-1 1.1m.2 -.5l-.2 .5 .5 -.2M244.1 718.2l.2 1.7m-.3 -.6l.3 .6 .2 -.6M244.1 715.3l.2 1.9m-.4 -.6l.4 .6 .3 -.7M244.1 712.3l-.1 1.9m-.3 -.7l.3 .7 .4 -.6M244.1 709.4l-1.6 .3m.5 -.4l-.5 .4 .6 .2M244.1 706.5l-1.2 1.3m.2 -.7l-.2 .7 .6 -.3M244.1 703.5l.2 1.3m-.3 -.4l.3 .4 .2 -.5M244.1 700.6l-1.3 1.4m.2 -.7l-.2 .7 .7 -.3M244.1 697.7l-.3 1.8m-.2 -.7l.2 .7 .4 -.6M244.1 694.7l-.1 1.4m-.2 -.5l.2 .5 .3 -.5M244.1 691.8l-1.6 1.2m.3 -.7l-.3 .7 .7 -.1M244.1 688.9l-1 1m.2 -.5l-.2 .5 .5 -.2M244.1 685.9l-1.3 1.3m.2 -.7l-.2 .7 .7 -.2M244.1 683l-.3 1.8m-.2 -.7l.2 .7 .4 -.6M244.1 680.1l-.2 1.3m-.1 -.5l.1 .5 .3 -.4M244.1 677.1l-1.3 .3m.4 -.3l-.4 .3 .5 .1M244.1 674.2l-.6 1.6m-.1 -.6l.1 .6 .5 -.5M244.1 671.3l0 1.8m-.3 -.6l.3 .6 .3 -.6M244.1 668.3l.2 2m-.4 -.6l.4 .6 .3 -.7M244.1 665.4l-.3 1.7m-.2 -.6l.2 .6 .4 -.5M244.1 662.5l-1.8 -.3m.7 -.2l-.7 .2 .6 .4M244.1 659.5l-1.9 -.3m.7 -.2l-.7 .2 .6 .4M244.1 656.6l.2 1.7m-.4 -.6l.4 .6 .2 -.6M247.8 841.4l-1.6 -.3m.6 -.2l-.6 .2 .5 .4M247.8 838.5l-1.4 1.3m.3 -.7l-.3 .7 .7 -.2M247.8 835.5l-1.2 1.2m.2 -.6l-.2 .6 .6 -.2M247.8 832.6l.2 1.3m-.3 -.4l.3 .4 .2 -.5M247.8 829.7l-1.9 -.1m.7 -.3l-.7 .3 .6 .3M247.8 826.7l-.4 1.9m-.2 -.7l.2 .7 .4 -.6M247.8 823.8l.1 1.3m-.3 -.4l.3 .4 .2 -.5M247.8 820.9l.1 1.7m-.3 -.6l.3 .6 .3 -.6M247.8 817.9l-.5 1.2m0 -.5l0 .5 .4 -.3M247.8 815l-1.1 1.1m.2 -.5l-.2 .5 .5 -.2M247.8 812.1l.1 1.3m-.2 -.4l.2 .4 .2 -.5M247.8 809.1l-.8 1m.1 -.5l-.1 .5 .4 -.2M247.8 806.2l0 1.4m-.2 -.5l.2 .5 .2 -.5M247.8 803.3l.3 1.9m-.4 -.6l.4 .6 .2 -.7M247.8 800.3l-.1 1.6m-.2 -.6l.2 .6 .3 -.5M247.8 797.4l-.1 1.6m-.2 -.6l.2 .6 .3 -.5M247.8 794.5l-1.1 1.3m.1 -.6l-.1 .6 .6 -.3M247.8 791.5l-.4 1.7m-.1 -.7l.1 .7 .4 -.5M247.8 788.6l-1.6 .8m.4 -.5l-.4 .5 .7 0M247.8 785.7l.2 1.5m-.3 -.5l.3 .5 .2 -.5M247.8 782.7l-.1 1.5m-.2 -.5l.2 .5 .3 -.5M247.8 779.8l-1.5 .6m.4 -.4l-.4 .4 .6 .1M247.8 776.9l.3 1.7m-.4 -.5l.4 .5 .2 -.6M247.8 773.9l.3 1.6m-.4 -.5l.4 .5 .2 -.6M247.8 771l-1.5 1.4m.3 -.7l-.3 .7 .7 -.2M247.8 768.1l-1.4 1.1m.3 -.6l-.3 .6 .7 -.2M247.8 765.1l-.9 .9m.2 -.5l-.2 .5 .5 -.2M247.8 762.2l-1.3 .9m.3 -.5l-.3 .5 .6 -.1M247.8 759.3l.1 1.7m-.3 -.5l.3 .5 .2 -.6M247.8 756.3l-.7 1.4m0 -.6l0 .6 .5 -.4M247.8 753.4l-.1 2m-.3 -.7l.3 .7 .4 -.7M247.8 750.5l-1.2 1.4m.2 -.7l-.2 .7 .7 -.3M247.8 747.5l.3 1.3m-.3 -.4l.3 .4 .1 -.5M247.8 744.6l0 1.3m-.2 -.5l.2 .5 .2 -.5M247.8 741.7l-.6 1.7m-.1 -.7l.1 .7 .5 -.5M247.8 738.7l-.3 1.8m-.2 -.7l.2 .7 .4 -.6M247.8 735.8l-.2 1.3m-.2 -.5l.2 .5 .3 -.4M247.8 732.9l.3 1.7m-.4 -.5l.4 .5 .2 -.6M247.8 729.9l-1.7 -.1m.6 -.2l-.6 .2 .6 .3M247.8 727l-.2 1.7m-.2 -.6l.2 .6 .3 -.6M247.8 724.1l-1 1.3m.1 -.6l-.1 .6 .5 -.3M247.8 721.1l.2 1.4m-.3 -.5l.3 .5 .2 -.5M247.8 718.2l.2 1.4m-.3 -.4l.3 .4 .2 -.5M247.8 715.3l.1 1.4m-.3 -.5l.3 .5 .2 -.5M247.8 712.3l.3 1.9m-.4 -.6l.4 .6 .2 -.7M247.8 709.4l-1.6 .2m.5 -.3l-.5 .3 .6 .2M247.8 706.5l0 2m-.3 -.7l.3 .7 .3 -.7M247.8 703.5l-.1 1.6m-.2 -.6l.2 .6 .3 -.5M247.8 700.6l-.3 1.5m-.2 -.6l.2 .6 .3 -.5M247.8 697.7l.1 1.6m-.3 -.5l.3 .5 .2 -.6M247.8 694.7l-1.4 1m.3 -.6l-.3 .6 .6 -.1M247.8 691.8l-1.1 .9m.2 -.5l-.2 .5 .5 -.1M247.8 688.9l-.1 1.9m-.3 -.7l.3 .7 .3 -.6M247.8 685.9l-.1 1.3m-.2 -.5l.2 .5 .2 -.4M247.8 683l.4 1.9m-.4 -.6l.4 .6 .2 -.7M247.8 680.1l-1.6 .8m.4 -.6l-.4 .6 .7 0M247.8 677.1l-.2 1.4m-.1 -.5l.1 .5 .3 -.4M247.8 674.2l-.9 1m.1 -.5l-.1 .5 .5 -.2M247.8 671.3l-1.3 .9m.3 -.5l-.3 .5 .6 -.1M247.8 668.3l-1.6 .3m.5 -.4l-.5 .4 .6 .2M247.8 665.4l-.2 1.4m-.2 -.5l.2 .5 .3 -.4M247.8 662.5l-.9 1.2m.1 -.6l-.1 .6 .5 -.3M247.8 659.5l.3 1.8m-.4 -.5l.4 .5 .2 -.7M247.8 656.6l-.9 1.3m.1 -.6l-.1 .6 .5 -.3M251.6 841.4l.2 1.9m-.4 -.6l.4 .6 .2 -.7M251.6 838.5l-1.3 -.1m.5 -.2l-.5 .2 .4 .2M251.6 835.5l-1 1.3m.1 -.6l-.1 .6 .6 -.3M251.6 832.6l-1.2 .5m.3 -.4l-.3 .4 .5 0M251.6 829.7l-.1 1.6m-.2 -.6l.2 .6 .3 -.5M251.6 826.7l-.8 1.7m0 -.7l0 .7 .5 -.4M251.6 823.8l-.9 1.1m.1 -.5l-.1 .5 .5 -.2M251.6 820.9l-.9 .9m.2 -.5l-.2 .5 .5 -.2M251.6 817.9l.2 1.5m-.3 -.5l.3 .5 .2 -.5M251.6 815l-.6 1.4m0 -.6l0 .6 .5 -.4M251.6 812.1l.3 1.9m-.4 -.6l.4 .6 .2 -.7M251.6 809.1l-1.3 1m.3 -.5l-.3 .5 .6 -.1M251.6 806.2l.4 2m-.5 -.6l.5 .6 .2 -.7M251.6 803.3l-1.4 -.2m.5 -.2l-.5 .2 .5 .3M251.6 800.3l-.2 1.8m-.2 -.7l.2 .7 .4 -.6M251.6 797.4l-.5 1.5m-.1 -.6l.1 .6 .4 -.4M251.6 794.5l.3 1.5m-.3 -.5l.3 .5 .2 -.5M251.6 791.5l.1 1.7m-.3 -.6l.3 .6 .3 -.6M251.6 788.6l-.4 1.3m-.1 -.5l.1 .5 .3 -.4M251.6 785.7l-.1 1.7m-.2 -.6l.2 .6 .3 -.6M251.6 782.7l-.1 2m-.3 -.7l.3 .7 .4 -.7M251.6 779.8l.1 1.9m-.4 -.6l.4 .6 .3 -.7M251.6 776.9l.2 1.9m-.4 -.6l.4 .6 .3 -.7M251.6 773.9l-.2 1.6m-.2 -.6l.2 .6 .3 -.5M251.6 771l-1.4 .3m.4 -.3l-.4 .3 .5 .1M251.6 768.1l0 1.6m-.3 -.6l.3 .6 .3 -.6M251.6 765.1l-.1 1.5m-.2 -.5l.2 .5 .3 -.5M251.6 762.2l0 1.5m-.3 -.5l.3 .5 .2 -.5M251.6 759.3l-.2 1.9m-.3 -.7l.3 .7 .4 -.6M251.6 756.3l-.1 1.8m-.3 -.6l.3 .6 .3 -.6M251.6 753.4l-.6 1.3m0 -.5l0 .5 .4 -.3M251.6 750.5l-.9 1.3m.1 -.6l-.1 .6 .5 -.3M251.6 747.5l-.3 1.7m-.2 -.6l.2 .6 .4 -.5M251.6 744.6l-1.8 .5m.5 -.5l-.5 .5 .7 .1M251.6 741.7l0 1.8m-.3 -.6l.3 .6 .3 -.6M251.6 738.7l-.2 1.4m-.2 -.5l.2 .5 .3 -.4M251.6 735.8l-1.6 .3m.5 -.4l-.5 .4 .6 .2M251.6 732.9l-1.5 .6m.4 -.5l-.4 .5 .6 0M251.6 729.9l-.1 1.5m-.2 -.5l.2 .5 .3 -.5M251.6 727l-1.3 1.1m.3 -.6l-.3 .6 .6 -.2M251.6 724.1l-.1 1.3m-.2 -.5l.2 .5 .3 -.4M251.6 721.1l-1.6 .7m.4 -.5l-.4 .5 .7 0M251.6 718.2l-1.6 -.2m.6 -.2l-.6 .2 .5 .3M251.6 715.3l-.1 1.6m-.2 -.6l.2 .6 .3 -.5M251.6 712.3l.3 1.7m-.4 -.5l.4 .5 .2 -.6M251.6 709.4l-1.3 1.5m.2 -.7l-.2 .7 .7 -.3M251.6 706.5l-.1 1.6m-.2 -.6l.2 .6 .3 -.5M251.6 703.5l-.1 1.7m-.2 -.6l.2 .6 .3 -.6M251.6 700.6l-1.8 -.1m.6 -.3l-.6 .3 .6 .3M251.6 697.7l-1.7 -.1m.6 -.3l-.6 .3 .6 .3M251.6 694.7l-.2 1.9m-.2 -.7l.2 .7 .4 -.6M251.6 691.8l-1.1 1.5m.1 -.7l-.1 .7 .6 -.3M251.6 688.9l.1 1.5m-.3 -.5l.3 .5 .2 -.5M251.6 685.9l-.3 1.3m-.1 -.5l.1 .5 .3 -.4M251.6 683l-.1 1.4m-.2 -.5l.2 .5 .3 -.5M251.6 680.1l-1.3 1m.3 -.6l-.3 .6 .6 -.1M251.6 677.1l-.2 1.3m-.2 -.5l.2 .5 .3 -.4M251.6 674.2l-.3 2m-.2 -.7l.2 .7 .4 -.6M251.6 671.3l-1.9 0m.6 -.3l-.6 .3 .6 .3M251.6 668.3l-.8 1.8m0 -.8l0 .8 .6 -.5M251.6 665.4l-1.1 1.4m.2 -.7l-.2 .7 .6 -.3M251.6 662.5l-.7 1.1m.1 -.5l-.1 .5 .4 -.2M251.6 659.5l-.3 1.4m-.1 -.5l.1 .5 .3 -.4M251.6 656.6l-.2 2m-.3 -.7l.3 .7 .4 -.7M255.3 841.4l-1.4 .2m.5 -.3l-.5 .3 .5 .2M255.3 838.5l.3 1.5m-.4 -.5l.4 .5 .1 -.6M255.3 835.5l-1.6 -.3m.6 -.2l-.6 .2 .5 .4M255.3 832.6l-1.3 .5m.3 -.4l-.3 .4 .5 0M255.3 829.7l-1.9 .2m.6 -.4l-.6 .4 .7 .3M255.3 826.7l-.2 1.8m-.2 -.7l.2 .7 .4 -.6M255.3 823.8l-1.3 1.6m.2 -.8l-.2 .8 .7 -.3M255.3 820.9l0 1.4m-.2 -.5l.2 .5 .2 -.5M255.3 817.9l-.3 1.5m-.1 -.6l.1 .6 .3 -.5M255.3 815l-.8 1.1m.1 -.5l-.1 .5 .5 -.3M255.3 812.1l-1.4 .3m.4 -.3l-.4 .3 .5 .1M255.3 809.1l-1.7 .7m.5 -.5l-.5 .5 .7 0M255.3 806.2l-2 -.1m.7 -.3l-.7 .3 .7 .4M255.3 803.3l-.2 2m-.3 -.7l.3 .7 .4 -.7M255.3 800.3l-.5 1.7m-.1 -.6l.1 .6 .4 -.5M255.3 797.4l-.2 1.4m-.2 -.5l.2 .5 .3 -.4M255.3 794.5l-1.3 1m.3 -.5l-.3 .5 .6 -.1M255.3 791.5l-.2 1.9m-.2 -.7l.2 .7 .4 -.6M255.3 788.6l-1.9 .1m.6 -.4l-.6 .4 .7 .3M255.3 785.7l.3 1.8m-.4 -.6l.4 .6 .2 -.6M255.3 782.7l-.4 1.8m-.2 -.7l.2 .7 .4 -.6M255.3 779.8l-.9 1.1m.1 -.5l-.1 .5 .5 -.2M255.3 776.9l-.6 1.2m0 -.5l0 .5 .4 -.3M255.3 773.9l-1.6 1.1m.4 -.6l-.4 .6 .7 -.1M255.3 771l0 1.3m-.2 -.4l.2 .4 .2 -.5M255.3 768.1l-1.3 .2m.4 -.3l-.4 .3 .5 .2M255.3 765.1l.2 1.5m-.3 -.5l.3 .5 .2 -.6M255.3 762.2l-.8 1m.1 -.5l-.1 .5 .5 -.2M255.3 759.3l.3 1.7m-.4 -.5l.4 .5 .2 -.6M255.3 756.3l.2 1.4m-.3 -.4l.3 .4 .2 -.5M255.3 753.4l-.7 1.9m-.1 -.8l.1 .8 .6 -.5M255.3 750.5l.1 1.8m-.3 -.6l.3 .6 .3 -.7M255.3 747.5l-1 .9m.2 -.5l-.2 .5 .5 -.1M255.3 744.6l-1.9 .6m.6 -.5l-.6 .5 .8 .1M255.3 741.7l-1.4 -.2m.5 -.2l-.5 .2 .5 .3M255.3 738.7l-.1 1.6m-.2 -.6l.2 .6 .3 -.5M255.3 735.8l-.1 1.4m-.2 -.5l.2 .5 .2 -.5M255.3 732.9l-1.4 .2m.5 -.3l-.5 .3 .5 .2M255.3 729.9l-.2 1.9m-.2 -.7l.2 .7 .4 -.6M255.3 727l-1.5 .3m.5 -.3l-.5 .3 .6 .1M255.3 724.1l-1.4 -.1m.5 -.2l-.5 .2 .5 .3M255.3 721.1l-.2 1.4m-.2 -.5l.2 .5 .3 -.4M255.3 718.2l-1.2 1m.2 -.5l-.2 .5 .6 -.2M255.3 715.3l-1.2 .5m.4 -.4l-.4 .4 .5 .1M255.3 712.3l.2 1.4m-.3 -.5l.3 .5 .2 -.5M255.3 709.4l.3 1.5m-.3 -.5l.3 .5 .2 -.6M255.3 706.5l-1.1 1.1m.2 -.5l-.2 .5 .6 -.2M255.3 703.5l-1.6 .3m.5 -.4l-.5 .4 .6 .2M255.3 700.6l-1.2 1.6m.1 -.7l-.1 .7 .7 -.4M255.3 697.7l-1.4 .1m.5 -.3l-.5 .3 .5 .2M255.3 694.7l.3 1.7m-.4 -.5l.4 .5 .2 -.6M255.3 691.8l-1.8 .4m.5 -.5l-.5 .5 .7 .1M255.3 688.9l-1.2 1m.2 -.5l-.2 .5 .6 -.2M255.3 685.9l-1.2 1.5m.2 -.7l-.2 .7 .7 -.3M255.3 683l-.5 1.3m-.1 -.5l.1 .5 .4 -.4M255.3 680.1l-1 1.1m.1 -.6l-.1 .6 .5 -.2M255.3 677.1l-1.2 1m.2 -.5l-.2 .5 .6 -.1M255.3 674.2l-.1 1.9m-.3 -.6l.3 .6 .3 -.6M255.3 671.3l-1.3 .2m.4 -.3l-.4 .3 .5 .1M255.3 668.3l-1.1 1m.2 -.5l-.2 .5 .6 -.2M255.3 665.4l-.2 2m-.3 -.7l.3 .7 .4 -.6M255.3 662.5l-1.5 1.2m.3 -.7l-.3 .7 .7 -.2M255.3 659.5l-2 .1m.7 -.3l-.7 .3 .7 .3M255.3 656.6l.4 1.9m-.4 -.6l.4 .6 .2 -.7M259 841.4l.4 2m-.5 -.6l.5 .6 .2 -.7M259 838.5l-.2 1.4m-.2 -.5l.2 .5 .3 -.4M259 835.5l-1.1 1.3m.2 -.6l-.2 .6 .6 -.3M259 832.6l-.1 1.3m-.2 -.5l.2 .5 .3 -.4M259 829.7l-1.1 1.1m.2 -.6l-.2 .6 .5 -.2M259 826.7l-.3 1.7m-.2 -.6l.2 .6 .4 -.5M259 823.8l-.2 1.6m-.2 -.6l.2 .6 .3 -.5M259 820.9l-.5 1.2m0 -.5l0 .5 .4 -.3M259 817.9l.2 1.3m-.3 -.4l.3 .4 .1 -.5M259 815l-1.8 .6m.5 -.5l-.5 .5 .7 .1M259 812.1l.2 2m-.4 -.6l.4 .6 .3 -.7M259 809.1l-1 .8m.2 -.5l-.2 .5 .5 -.1M259 806.2l-1.9 -.2m.7 -.2l-.7 .2 .6 .4M259 803.3l.1 1.5m-.3 -.5l.3 .5 .2 -.5M259 800.3l.1 1.9m-.3 -.6l.3 .6 .3 -.7M259 797.4l.3 1.8m-.4 -.5l.4 .5 .2 -.6M259 794.5l.1 1.3m-.3 -.4l.3 .4 .2 -.5M259 791.5l.3 1.6m-.4 -.5l.4 .5 .2 -.6M259 788.6l-.1 2m-.3 -.7l.3 .7 .4 -.7M259 785.7l0 1.5m-.2 -.5l.2 .5 .3 -.5M259 782.7l-1.9 .1m.6 -.4l-.6 .4 .7 .3M259 779.8l.2 1.4m-.3 -.4l.3 .4 .2 -.5M259 776.9l-.2 1.3m-.1 -.5l.1 .5 .3 -.4M259 773.9l-.2 1.9m-.2 -.7l.2 .7 .4 -.6M259 771l-1 1.5m.1 -.7l-.1 .7 .6 -.3M259 768.1l-1.3 1.2m.2 -.6l-.2 .6 .6 -.2M259 765.1l-.7 1.5m0 -.6l0 .6 .5 -.4M259 762.2l-.1 1.3m-.2 -.5l.2 .5 .2 -.4M259 759.3l-.1 1.4m-.2 -.5l.2 .5 .3 -.5M259 756.3l.1 1.9m-.3 -.7l.3 .7 .3 -.7M259 753.4l.1 1.4m-.3 -.5l.3 .5 .2 -.5M259 750.5l-1.4 1.3m.3 -.7l-.3 .7 .7 -.2M259 747.5l.3 1.7m-.4 -.5l.4 .5 .2 -.6M259 744.6l.2 1.7m-.3 -.6l.3 .6 .2 -.6M259 741.7l-1.6 .9m.4 -.6l-.4 .6 .7 -.1M259 738.7l-.1 1.5m-.2 -.5l.2 .5 .3 -.5M259 735.8l-1 .8m.2 -.4l-.2 .4 .5 -.1M259 732.9l-.6 1.8m-.1 -.7l.1 .7 .5 -.5M259 729.9l-.1 1.7m-.3 -.6l.3 .6 .3 -.6M259 727l-.3 1.9m-.2 -.7l.2 .7 .4 -.6M259 724.1l-1.1 1.2m.2 -.6l-.2 .6 .6 -.2M259 721.1l-.3 1.6m-.2 -.6l.2 .6 .4 -.5M259 718.2l.2 2m-.4 -.7l.4 .7 .3 -.7M259 715.3l-1.3 1m.3 -.6l-.3 .6 .6 -.1M259 712.3l-.2 1.6m-.2 -.6l.2 .6 .3 -.5M259 709.4l-.3 1.9m-.2 -.7l.2 .7 .4 -.6M259 706.5l-.3 1.6m-.2 -.6l.2 .6 .4 -.5M259 703.5l0 1.7m-.3 -.6l.3 .6 .3 -.6M259 700.6l0 1.6m-.3 -.5l.3 .5 .3 -.6M259 697.7l-1.1 1.6m.1 -.7l-.1 .7 .6 -.4M259 694.7l-.1 1.9m-.3 -.7l.3 .7 .3 -.6M259 691.8l-1.1 1.5m.1 -.7l-.1 .7 .6 -.3M259 688.9l-1.8 -.2m.6 -.2l-.6 .2 .6 .4M259 685.9l-1.4 1m.3 -.6l-.3 .6 .6 -.1M259 683l-1.3 1m.3 -.6l-.3 .6 .6 -.1M259 680.1l-1.6 -.3m.6 -.2l-.6 .2 .5 .3M259 677.1l-1.4 .6m.4 -.4l-.4 .4 .6 0M259 674.2l-1.4 1.2m.3 -.7l-.3 .7 .7 -.2M259 671.3l-.8 1.1m.1 -.5l-.1 .5 .5 -.2M259 668.3l-1.4 .8m.3 -.5l-.3 .5 .6 -.1M259 665.4l-.3 1.6m-.2 -.6l.2 .6 .4 -.5M259 662.5l-1.6 1.1m.4 -.6l-.4 .6 .7 -.1M259 659.5l-.1 1.3m-.2 -.5l.2 .5 .3 -.4M259 656.6l0 1.6m-.3 -.5l.3 .5 .3 -.5M262.7 841.4l-.3 1.8m-.2 -.7l.2 .7 .4 -.6M262.7 838.5l0 1.9m-.3 -.7l.3 .7 .3 -.7M262.7 835.5l-.2 1.7m-.2 -.6l.2 .6 .4 -.6M262.7 832.6l-1.5 .2m.5 -.3l-.5 .3 .6 .2M262.7 829.7l.2 1.9m-.4 -.6l.4 .6 .3 -.7M262.7 826.7l.1 1.8m-.3 -.6l.3 .6 .2 -.6M262.7 823.8l-2 .1m.7 -.4l-.7 .4 .7 .3M262.7 820.9l-1.8 .3m.6 -.4l-.6 .4 .7 .2M262.7 817.9l.3 1.8m-.4 -.6l.4 .6 .2 -.7M262.7 815l-.4 1.3m-.1 -.5l.1 .5 .4 -.4M262.7 812.1l-.3 1.9m-.2 -.7l.2 .7 .4 -.6M262.7 809.1l.4 1.9m-.4 -.6l.4 .6 .2 -.7M262.7 806.2l.2 1.3m-.3 -.4l.3 .4 .1 -.5M262.7 803.3l.2 1.4m-.3 -.4l.3 .4 .1 -.5M262.7 800.3l-1.3 .1m.4 -.3l-.4 .3 .5 .2M262.7 797.4l.2 1.3m-.3 -.4l.3 .4 .2 -.5M262.7 794.5l.2 1.7m-.4 -.6l.4 .6 .2 -.6M262.7 791.5l.2 1.9m-.4 -.6l.4 .6 .2 -.7M262.7 788.6l.1 1.6m-.3 -.5l.3 .5 .2 -.6M262.7 785.7l-1 .8m.2 -.5l-.2 .5 .5 -.1M262.7 782.7l-1.3 .2m.4 -.3l-.4 .3 .5 .1M262.7 779.8l0 1.7m-.3 -.6l.3 .6 .3 -.6M262.7 776.9l-.3 1.3m-.1 -.5l.1 .5 .3 -.4M262.7 773.9l-1.2 1.5m.2 -.7l-.2 .7 .7 -.3M262.7 771l-.3 1.8m-.2 -.7l.2 .7 .4 -.6M262.7 768.1l-.1 1.7m-.2 -.6l.2 .6 .3 -.6M262.7 765.1l-.7 1.7m0 -.7l0 .7 .5 -.5M262.7 762.2l0 1.6m-.3 -.5l.3 .5 .2 -.5M262.7 759.3l-1.5 0m.5 -.3l-.5 .3 .5 .2M262.7 756.3l-.3 1.3m-.1 -.5l.1 .5 .3 -.4M262.7 753.4l-1.3 .3m.4 -.3l-.4 .3 .5 .1M262.7 750.5l.2 1.3m-.3 -.4l.3 .4 .1 -.5M262.7 747.5l.2 1.8m-.4 -.6l.4 .6 .2 -.6M262.7 744.6l-.3 1.6m-.1 -.6l.1 .6 .4 -.5M262.7 741.7l-.1 1.7m-.2 -.6l.2 .6 .3 -.6M262.7 738.7l.1 1.3m-.2 -.4l.2 .4 .2 -.5M262.7 735.8l-1.5 .7m.4 -.5l-.4 .5 .6 0M262.7 732.9l-1 1.4m.1 -.7l-.1 .7 .6 -.3M262.7 729.9l-.1 1.5m-.2 -.5l.2 .5 .3 -.5M262.7 727l0 1.8m-.3 -.6l.3 .6 .3 -.6M262.7 724.1l.1 1.4m-.3 -.5l.3 .5 .2 -.5M262.7 721.1l-1.3 1.2m.2 -.6l-.2 .6 .6 -.2M262.7 718.2l-1.4 .8m.4 -.5l-.4 .5 .6 -.1M262.7 715.3l.2 1.7m-.3 -.6l.3 .6 .2 -.6M262.7 712.3l.2 1.3m-.3 -.4l.3 .4 .1 -.5M262.7 709.4l-1.3 .7m.3 -.5l-.3 .5 .6 0M262.7 706.5l-.6 1.2m0 -.5l0 .5 .4 -.3M262.7 703.5l.3 1.9m-.4 -.6l.4 .6 .2 -.7M262.7 700.6l0 1.4m-.2 -.5l.2 .5 .2 -.5M262.7 697.7l.1 2m-.3 -.7l.3 .7 .3 -.7M262.7 694.7l-.3 1.6m-.2 -.6l.2 .6 .4 -.5M262.7 691.8l0 2m-.3 -.7l.3 .7 .3 -.7M262.7 688.9l-1.9 0m.7 -.3l-.7 .3 .7 .3M262.7 685.9l-.6 1.6m0 -.7l0 .7 .5 -.4M262.7 683l-.3 1.5m-.2 -.6l.2 .6 .3 -.5M262.7 680.1l-1.5 .9m.4 -.6l-.4 .6 .7 -.1M262.7 677.1l.1 1.8m-.3 -.6l.3 .6 .3 -.6M262.7 674.2l-.3 1.5m-.2 -.6l.2 .6 .4 -.5M262.7 671.3l-.6 1.9m-.1 -.8l.1 .8 .5 -.6M262.7 668.3l0 2m-.3 -.7l.3 .7 .3 -.7M262.7 665.4l-1 1.2m.1 -.6l-.1 .6 .6 -.3M262.7 662.5l-1.6 .1m.5 -.3l-.5 .3 .5 .2M262.7 659.5l-.3 1.5m-.2 -.6l.2 .6 .3 -.5M262.7 656.6l-1.6 0m.6 -.3l-.6 .3 .6 .3M266.4 841.4l-.9 1.1m.1 -.5l-.1 .5 .5 -.2M266.4 838.5l-.1 1.5m-.2 -.5l.2 .5 .3 -.5M266.4 835.5l-1.4 1.4m.2 -.7l-.2 .7 .7 -.3M266.4 832.6l.3 1.6m-.3 -.5l.3 .5 .2 -.6M266.4 829.7l0 1.5m-.2 -.5l.2 .5 .2 -.5M266.4 826.7l-.2 1.6m-.2 -.6l.2 .6 .3 -.5M266.4 823.8l-1.9 0m.7 -.3l-.7 .3 .7 .3M266.4 820.9l-.1 1.5m-.2 -.5l.2 .5 .3 -.5M266.4 817.9l-.2 1.9m-.3 -.7l.3 .7 .4 -.6M266.4 815l.2 1.7m-.3 -.5l.3 .5 .2 -.6M266.4 812.1l-1.1 1.5m.1 -.7l-.1 .7 .6 -.3M266.4 809.1l-.3 1.3m-.1 -.5l.1 .5 .3 -.4M266.4 806.2l-.1 1.6m-.2 -.6l.2 .6 .3 -.5M266.4 803.3l-.9 1.2m.1 -.6l-.1 .6 .5 -.3M266.4 800.3l0 1.9m-.3 -.6l.3 .6 .3 -.6M266.4 797.4l-1.8 .8m.5 -.6l-.5 .6 .7 0M266.4 794.5l-.4 1.5m-.1 -.6l.1 .6 .4 -.4M266.4 791.5l-1 1.3m.1 -.6l-.1 .6 .6 -.3M266.4 788.6l-1.4 1.4m.2 -.7l-.2 .7 .7 -.3M266.4 785.7l-1.8 .3m.6 -.4l-.6 .4 .6 .2M266.4 782.7l-1.4 .5m.4 -.4l-.4 .4 .6 .1M266.4 779.8l-1.8 -.3m.7 -.2l-.7 .2 .6 .4M266.4 776.9l.1 1.4m-.3 -.5l.3 .5 .2 -.5M266.4 773.9l-1.7 .6m.5 -.5l-.5 .5 .7 .1M266.4 771l-.3 1.3m-.1 -.5l.1 .5 .3 -.4M266.4 768.1l-.3 1.7m-.2 -.6l.2 .6 .4 -.5M266.4 765.1l-1.2 .4m.4 -.4l-.4 .4 .5 .1M266.4 762.2l-1.3 1.3m.3 -.7l-.3 .7 .7 -.2M266.4 759.3l-.3 1.4m-.1 -.5l.1 .5 .3 -.4M266.4 756.3l-.2 1.8m-.2 -.7l.2 .7 .4 -.6M266.4 753.4l0 1.4m-.2 -.5l.2 .5 .2 -.5M266.4 750.5l-.1 1.5m-.2 -.5l.2 .5 .3 -.5M266.4 747.5l-1.4 .9m.3 -.5l-.3 .5 .6 -.1M266.4 744.6l-.3 2m-.2 -.7l.2 .7 .4 -.6M266.4 741.7l-.3 1.7m-.2 -.6l.2 .6 .4 -.5M266.4 738.7l-1.6 1.1m.4 -.7l-.4 .7 .7 -.1M266.4 735.8l-1.2 .9m.3 -.5l-.3 .5 .6 -.1M266.4 732.9l.2 1.5m-.3 -.5l.3 .5 .2 -.6M266.4 729.9l.2 1.6m-.3 -.5l.3 .5 .2 -.6M266.4 727l-.2 1.4m-.2 -.5l.2 .5 .3 -.5M266.4 724.1l.1 1.4m-.3 -.5l.3 .5 .2 -.5M266.4 721.1l.1 1.3m-.2 -.4l.2 .4 .2 -.5M266.4 718.2l0 1.4m-.2 -.5l.2 .5 .2 -.5M266.4 715.3l-.3 1.8m-.2 -.7l.2 .7 .4 -.6M266.4 712.3l-1.6 .3m.5 -.4l-.5 .4 .6 .2M266.4 709.4l-1.5 1.4m.3 -.7l-.3 .7 .7 -.2M266.4 706.5l-1.6 .5m.5 -.4l-.5 .4 .6 .1M266.4 703.5l-.4 1.5m-.1 -.6l.1 .6 .4 -.4M266.4 700.6l-1.9 .3m.6 -.4l-.6 .4 .7 .2M266.4 697.7l-.1 2m-.3 -.7l.3 .7 .4 -.7M266.4 694.7l-.2 1.8m-.2 -.7l.2 .7 .4 -.6M266.4 691.8l-1.3 1.5m.2 -.7l-.2 .7 .7 -.3M266.4 688.9l-1.5 .3m.5 -.3l-.5 .3 .5 .2M266.4 685.9l0 1.4m-.3 -.5l.3 .5 .2 -.5M266.4 683l-1.4 .8m.3 -.5l-.3 .5 .6 0M266.4 680.1l-1.9 -.1m.7 -.3l-.7 .3 .6 .3M266.4 677.1l-1 1m.2 -.5l-.2 .5 .5 -.2M266.4 674.2l-.9 1.1m.1 -.5l-.1 .5 .5 -.2M266.4 671.3l-.6 1.5m0 -.6l0 .6 .5 -.4M266.4 668.3l-.1 1.9m-.3 -.7l.3 .7 .3 -.6M266.4 665.4l-.4 2m-.2 -.7l.2 .7 .5 -.6M266.4 662.5l-.9 1m.2 -.5l-.2 .5 .5 -.2M266.4 659.5l-1.8 .1m.6 -.3l-.6 .3 .6 .3M266.4 656.6l-1.3 -.2m.5 -.2l-.5 .2 .4 .3M270.2 841.4l-1.5 -.1m.5 -.2l-.5 .2 .5 .3M270.2 838.5l.1 1.9m-.4 -.6l.4 .6 .3 -.7M270.2 835.5l-1.3 .1m.4 -.2l-.4 .2 .4 .2M270.2 832.6l-1.3 1m.3 -.5l-.3 .5 .6 -.1M270.2 829.7l-1.4 .2m.5 -.3l-.5 .3 .5 .2M270.2 826.7l-.5 1.9m-.2 -.7l.2 .7 .5 -.6M270.2 823.8l.2 1.3m-.3 -.4l.3 .4 .1 -.5M270.2 820.9l-1.1 .8m.3 -.5l-.3 .5 .5 -.1M270.2 817.9l-.2 1.6m-.2 -.6l.2 .6 .3 -.5M270.2 815l-1.3 .4m.4 -.4l-.4 .4 .5 .1M270.2 812.1l-1.4 1.2m.3 -.7l-.3 .7 .7 -.2M270.2 809.1l-.2 1.9m-.2 -.7l.2 .7 .4 -.6M270.2 806.2l.2 1.6m-.3 -.5l.3 .5 .2 -.6M270.2 803.3l-1 1.4m.1 -.6l-.1 .6 .6 -.3M270.2 800.3l-1 .9m.2 -.5l-.2 .5 .5 -.2M270.2 797.4l.1 1.6m-.3 -.5l.3 .5 .2 -.6M270.2 794.5l.2 1.6m-.3 -.5l.3 .5 .2 -.6M270.2 791.5l-.1 1.8m-.3 -.6l.3 .6 .3 -.6M270.2 788.6l-.9 1.2m.1 -.5l-.1 .5 .5 -.2M270.2 785.7l-1.4 1.1m.3 -.6l-.3 .6 .7 -.2M270.2 782.7l0 1.7m-.3 -.6l.3 .6 .3 -.6M270.2 779.8l0 1.4m-.2 -.5l.2 .5 .2 -.5M270.2 776.9l.2 1.9m-.4 -.6l.4 .6 .3 -.7M270.2 773.9l-1.4 1.4m.3 -.7l-.3 .7 .7 -.2M270.2 771l-1.1 1.3m.2 -.6l-.2 .6 .6 -.3M270.2 768.1l0 2m-.3 -.7l.3 .7 .3 -.7M270.2 765.1l0 1.9m-.3 -.7l.3 .7 .3 -.7M270.2 762.2l-.2 1.3m-.2 -.5l.2 .5 .3 -.4M270.2 759.3l-.3 1.7m-.2 -.6l.2 .6 .4 -.5M270.2 756.3l-1.5 .5m.4 -.4l-.4 .4 .6 .1M270.2 753.4l0 1.8m-.3 -.6l.3 .6 .3 -.6M270.2 750.5l0 1.6m-.3 -.5l.3 .5 .2 -.5M270.2 747.5l.1 1.9m-.3 -.6l.3 .6 .3 -.7M270.2 744.6l-.1 1.6m-.2 -.6l.2 .6 .3 -.5M270.2 741.7l-.2 1.7m-.2 -.6l.2 .6 .3 -.6M270.2 738.7l-1.2 .7m.3 -.4l-.3 .4 .5 0M270.2 735.8l0 1.8m-.3 -.6l.3 .6 .3 -.6M270.2 732.9l-1.5 0m.5 -.2l-.5 .2 .5 .3M270.2 729.9l-1.2 .6m.3 -.4l-.3 .4 .5 0M270.2 727l-1.1 .9m.2 -.5l-.2 .5 .5 -.1M270.2 724.1l-1.5 1.2m.3 -.7l-.3 .7 .7 -.2M270.2 721.1l-.5 1.7m-.1 -.7l.1 .7 .5 -.5M270.2 718.2l0 1.3m-.2 -.4l.2 .4 .2 -.4M270.2 715.3l-1.6 .9m.4 -.6l-.4 .6 .7 0M270.2 712.3l-1.8 .5m.5 -.5l-.5 .5 .7 .1M270.2 709.4l-.8 1.8m0 -.7l0 .7 .6 -.5M270.2 706.5l-.3 1.8m-.2 -.7l.2 .7 .4 -.6M270.2 703.5l-.2 1.3m-.1 -.5l.1 .5 .3 -.4M270.2 700.6l-1.3 1.4m.2 -.7l-.2 .7 .7 -.3M270.2 697.7l-1.4 1.4m.2 -.7l-.2 .7 .7 -.2M270.2 694.7l0 1.4m-.2 -.5l.2 .5 .3 -.5M270.2 691.8l-1 1.2m.2 -.6l-.2 .6 .5 -.2M270.2 688.9l.3 1.4m-.3 -.4l.3 .4 .1 -.5M270.2 685.9l-1.4 .9m.3 -.5l-.3 .5 .6 -.1M270.2 683l0 1.3m-.2 -.5l.2 .5 .2 -.5M270.2 680.1l-1.2 1.3m.2 -.7l-.2 .7 .6 -.3M270.2 677.1l0 1.4m-.2 -.5l.2 .5 .2 -.5M270.2 674.2l-1.8 .3m.6 -.4l-.6 .4 .7 .2M270.2 671.3l-.4 1.8m-.2 -.7l.2 .7 .4 -.6M270.2 668.3l.3 1.7m-.4 -.6l.4 .6 .2 -.6M270.2 665.4l-1.1 .7m.3 -.4l-.3 .4 .5 -.1M270.2 662.5l-.2 1.6m-.2 -.6l.2 .6 .3 -.5M270.2 659.5l.2 1.4m-.3 -.4l.3 .4 .2 -.5M270.2 656.6l-1.6 .5m.5 -.4l-.5 .4 .6 .1M273.9 841.4l-.3 1.3m-.1 -.5l.1 .5 .3 -.4M273.9 838.5l-1.5 1.4m.3 -.7l-.3 .7 .7 -.2M273.9 835.5l-.7 1m.1 -.5l-.1 .5 .4 -.2M273.9 832.6l-.5 1.5m-.1 -.6l.1 .6 .4 -.4M273.9 829.7l-1 1.2m.1 -.6l-.1 .6 .5 -.3M273.9 826.7l-.1 1.8m-.3 -.6l.3 .6 .3 -.6M273.9 823.8l-.3 1.8m-.2 -.7l.2 .7 .4 -.6M273.9 820.9l-1.9 0m.6 -.3l-.6 .3 .7 .3M273.9 817.9l-.3 1.8m-.2 -.7l.2 .7 .4 -.6M273.9 815l-1.8 .6m.5 -.5l-.5 .5 .7 .1M273.9 812.1l0 2m-.3 -.7l.3 .7 .3 -.7M273.9 809.1l-1.7 .9m.5 -.6l-.5 .6 .7 0M273.9 806.2l-1.3 1.1m.3 -.6l-.3 .6 .6 -.2M273.9 803.3l-1.6 .4m.5 -.4l-.5 .4 .6 .1M273.9 800.3l-.1 1.6m-.2 -.6l.2 .6 .3 -.5M273.9 797.4l-2 0m.7 -.3l-.7 .3 .7 .3M273.9 794.5l0 1.6m-.3 -.5l.3 .5 .3 -.6M273.9 791.5l-1.5 .3m.5 -.3l-.5 .3 .6 .1M273.9 788.6l-1.3 .4m.4 -.3l-.4 .3 .5 .1M273.9 785.7l-1.2 1m.3 -.5l-.3 .5 .6 -.1M273.9 782.7l0 2m-.3 -.7l.3 .7 .3 -.7M273.9 779.8l-1.3 1.5m.2 -.7l-.2 .7 .7 -.3M273.9 776.9l-1.2 1.5m.2 -.7l-.2 .7 .7 -.3M273.9 773.9l-1.7 .8m.5 -.6l-.5 .6 .7 0M273.9 771l-.1 1.6m-.2 -.6l.2 .6 .3 -.5M273.9 768.1l0 1.9m-.3 -.7l.3 .7 .3 -.7M273.9 765.1l-.3 1.6m-.2 -.6l.2 .6 .4 -.5M273.9 762.2l-.2 1.3m-.2 -.5l.2 .5 .3 -.4M273.9 759.3l-.3 1.3m-.1 -.5l.1 .5 .3 -.4M273.9 756.3l-2 .3m.6 -.4l-.6 .4 .7 .2M273.9 753.4l-.4 1.6m-.1 -.6l.1 .6 .4 -.5M273.9 750.5l-1.4 .3m.4 -.3l-.4 .3 .5 .1M273.9 747.5l-.2 1.8m-.2 -.7l.2 .7 .4 -.6M273.9 744.6l-1.7 .8m.5 -.5l-.5 .5 .7 0M273.9 741.7l-.3 1.7m-.2 -.6l.2 .6 .4 -.5M273.9 738.7l-.8 1.1m.1 -.5l-.1 .5 .5 -.3M273.9 735.8l.2 1.3m-.3 -.4l.3 .4 .1 -.5M273.9 732.9l-1.7 0m.6 -.3l-.6 .3 .6 .3M273.9 729.9l0 1.4m-.2 -.5l.2 .5 .2 -.5M273.9 727l-1.3 1m.3 -.5l-.3 .5 .6 -.1M273.9 724.1l-.4 1.9m-.2 -.7l.2 .7 .5 -.6M273.9 721.1l.1 1.7m-.3 -.6l.3 .6 .3 -.6M273.9 718.2l-1.4 .3m.4 -.3l-.4 .3 .5 .1M273.9 715.3l.2 2m-.4 -.6l.4 .6 .3 -.7M273.9 712.3l-.3 1.9m-.2 -.7l.2 .7 .4 -.6M273.9 709.4l.1 1.7m-.3 -.6l.3 .6 .2 -.6M273.9 706.5l.3 1.5m-.3 -.5l.3 .5 .2 -.5M273.9 703.5l-1.1 1.4m.1 -.7l-.1 .7 .6 -.3M273.9 700.6l-.2 1.8m-.2 -.6l.2 .6 .4 -.6M273.9 697.7l-1.9 -.4m.7 -.2l-.7 .2 .6 .4M273.9 694.7l-.1 1.5m-.2 -.5l.2 .5 .3 -.5M273.9 691.8l-1.1 .9m.2 -.5l-.2 .5 .5 -.1M273.9 688.9l.1 1.3m-.3 -.4l.3 .4 .2 -.5M273.9 685.9l-.1 1.4m-.2 -.5l.2 .5 .3 -.5M273.9 683l-1.4 .7m.4 -.5l-.4 .5 .6 0M273.9 680.1l-1.4 .1m.5 -.3l-.5 .3 .5 .2M273.9 677.1l0 1.9m-.3 -.7l.3 .7 .3 -.6M273.9 674.2l.1 1.8m-.3 -.6l.3 .6 .3 -.6M273.9 671.3l-.4 2m-.2 -.7l.2 .7 .5 -.6M273.9 668.3l-.8 1.2m.1 -.6l-.1 .6 .5 -.3M273.9 665.4l-1.4 1.4m.3 -.7l-.3 .7 .7 -.2M273.9 662.5l-1.5 .5m.4 -.4l-.4 .4 .6 .1M273.9 659.5l.2 1.7m-.4 -.6l.4 .6 .2 -.6M273.9 656.6l-1.6 .7m.4 -.5l-.4 .5 .7 0M277.6 841.4l-1.8 .3m.6 -.4l-.6 .4 .7 .2M277.6 838.5l-1.5 .9m.4 -.5l-.4 .5 .7 0M277.6 835.5l-.7 1.9m-.1 -.7l.1 .7 .5 -.5M277.6 832.6l-1 1.5m.1 -.7l-.1 .7 .6 -.3M277.6 829.7l0 1.3m-.2 -.5l.2 .5 .2 -.5M277.6 826.7l-.1 1.9m-.3 -.7l.3 .7 .3 -.6M277.6 823.8l.4 2m-.5 -.6l.5 .6 .2 -.7M277.6 820.9l-.2 1.8m-.2 -.7l.2 .7 .4 -.6M277.6 817.9l-1.1 1.1m.2 -.6l-.2 .6 .6 -.2M277.6 815l-1.2 1.4m.2 -.7l-.2 .7 .6 -.3M277.6 812.1l0 2m-.3 -.7l.3 .7 .3 -.7M277.6 809.1l-.9 1.2m.1 -.5l-.1 .5 .5 -.2M277.6 806.2l-1.1 .9m.2 -.5l-.2 .5 .5 -.1M277.6 803.3l-1.7 -.2m.6 -.2l-.6 .2 .5 .3M277.6 800.3l-1.7 .3m.5 -.4l-.5 .4 .6 .2M277.6 797.4l-1.2 1.2m.2 -.6l-.2 .6 .6 -.2M277.6 794.5l-1.3 .4m.4 -.4l-.4 .4 .5 .1M277.6 791.5l-1.3 .5m.4 -.4l-.4 .4 .5 0M277.6 788.6l-1.4 .4m.4 -.4l-.4 .4 .6 .1M277.6 785.7l-1 1.1m.1 -.5l-.1 .5 .5 -.2M277.6 782.7l-1.6 .2m.5 -.3l-.5 .3 .6 .2M277.6 779.8l-1.3 1.3m.2 -.7l-.2 .7 .6 -.2M277.6 776.9l-1.9 .2m.6 -.4l-.6 .4 .7 .2M277.6 773.9l-1.8 .7m.5 -.5l-.5 .5 .7 .1M277.6 771l.1 1.8m-.3 -.6l.3 .6 .3 -.6M277.6 768.1l.2 1.8m-.4 -.6l.4 .6 .2 -.7M277.6 765.1l.2 1.3m-.3 -.4l.3 .4 .1 -.5M277.6 762.2l-1.1 .9m.2 -.5l-.2 .5 .5 -.1M277.6 759.3l.2 1.7m-.4 -.6l.4 .6 .2 -.6M277.6 756.3l-.5 1.4m-.1 -.6l.1 .6 .4 -.4M277.6 753.4l-1.6 .1m.5 -.3l-.5 .3 .6 .2M277.6 750.5l.4 2m-.4 -.6l.4 .6 .2 -.7M277.6 747.5l-.1 1.3m-.2 -.5l.2 .5 .3 -.4M277.6 744.6l0 1.9m-.3 -.7l.3 .7 .3 -.7M277.6 741.7l-.3 1.3m-.1 -.5l.1 .5 .3 -.4M277.6 738.7l-2 .5m.6 -.5l-.6 .5 .7 .2M277.6 735.8l.2 1.7m-.3 -.6l.3 .6 .2 -.6M277.6 732.9l-1 1.4m.1 -.6l-.1 .6 .6 -.3M277.6 729.9l-.3 1.8m-.2 -.6l.2 .6 .4 -.6M277.6 727l.2 1.5m-.3 -.5l.3 .5 .2 -.5M277.6 724.1l0 1.8m-.3 -.6l.3 .6 .3 -.6M277.6 721.1l.2 1.4m-.3 -.4l.3 .4 .1 -.5M277.6 718.2l.2 1.4m-.3 -.4l.3 .4 .2 -.5M277.6 715.3l-.3 1.8m-.2 -.7l.2 .7 .4 -.6M277.6 712.3l.1 1.3m-.3 -.4l.3 .4 .2 -.5M277.6 709.4l-1.2 1.6m.2 -.7l-.2 .7 .7 -.3M277.6 706.5l-.4 1.4m-.1 -.6l.1 .6 .4 -.4M277.6 703.5l.1 1.8m-.3 -.6l.3 .6 .3 -.6M277.6 700.6l-.6 1.2m0 -.5l0 .5 .4 -.3M277.6 697.7l-1.1 1m.2 -.5l-.2 .5 .5 -.2M277.6 694.7l-.2 1.7m-.2 -.6l.2 .6 .3 -.5M277.6 691.8l.2 1.7m-.3 -.5l.3 .5 .2 -.6M277.6 688.9l-1.7 .1m.6 -.3l-.6 .3 .6 .3M277.6 685.9l-1 1.1m.2 -.5l-.2 .5 .5 -.2M277.6 683l-1.2 .8m.3 -.5l-.3 .5 .5 -.1M277.6 680.1l0 1.4m-.2 -.5l.2 .5 .2 -.5M277.6 677.1l-1.1 1.1m.2 -.6l-.2 .6 .6 -.2M277.6 674.2l-.5 1.6m-.1 -.6l.1 .6 .4 -.5M277.6 671.3l-.2 1.7m-.2 -.6l.2 .6 .4 -.5M277.6 668.3l-.1 1.8m-.3 -.6l.3 .6 .3 -.6M277.6 665.4l-.2 1.4m-.2 -.5l.2 .5 .3 -.4M277.6 662.5l0 2m-.3 -.7l.3 .7 .3 -.7M277.6 659.5l-.9 1.3m.1 -.6l-.1 .6 .5 -.3M277.6 656.6l-.5 1.6m-.1 -.6l.1 .6 .4 -.5M281.3 841.4l-.2 1.5m-.2 -.6l.2 .6 .3 -.5M281.3 838.5l0 1.4m-.2 -.5l.2 .5 .2 -.5M281.3 835.5l-1.6 -.1m.5 -.2l-.5 .2 .5 .3M281.3 832.6l-.2 1.4m-.1 -.5l.1 .5 .3 -.4M281.3 829.7l.2 1.8m-.4 -.6l.4 .6 .2 -.7M281.3 826.7l-1.1 .9m.2 -.5l-.2 .5 .5 -.1M281.3 823.8l.3 1.7m-.4 -.5l.4 .5 .2 -.6M281.3 820.9l-1.1 1.3m.1 -.6l-.1 .6 .6 -.3M281.3 817.9l.3 1.5m-.3 -.4l.3 .4 .1 -.5M281.3 815l-.2 1.4m-.2 -.5l.2 .5 .3 -.4M281.3 812.1l-.3 2m-.2 -.7l.2 .7 .4 -.6M281.3 809.1l0 1.4m-.2 -.5l.2 .5 .2 -.5M281.3 806.2l.2 2m-.4 -.7l.4 .7 .3 -.7M281.3 803.3l.1 1.5m-.3 -.5l.3 .5 .2 -.5M281.3 800.3l-2 -.1m.7 -.3l-.7 .3 .7 .4M281.3 797.4l-1 1.3m.1 -.6l-.1 .6 .6 -.3M281.3 794.5l0 1.9m-.3 -.7l.3 .7 .3 -.6M281.3 791.5l-2 .2m.7 -.4l-.7 .4 .7 .3M281.3 788.6l-1.5 -.1m.5 -.2l-.5 .2 .5 .3M281.3 785.7l.1 1.3m-.3 -.4l.3 .4 .2 -.5M281.3 782.7l-.4 1.6m-.1 -.6l.1 .6 .4 -.5M281.3 779.8l-1.3 .1m.4 -.2l-.4 .2 .5 .2M281.3 776.9l-1.8 .3m.6 -.4l-.6 .4 .7 .2M281.3 773.9l-1.4 1m.3 -.6l-.3 .6 .6 -.1M281.3 771l-1.5 .2m.5 -.3l-.5 .3 .5 .2M281.3 768.1l.2 1.4m-.3 -.5l.3 .5 .2 -.5M281.3 765.1l.2 1.7m-.4 -.5l.4 .5 .2 -.6M281.3 762.2l-.4 1.7m-.1 -.6l.1 .6 .4 -.5M281.3 759.3l-.3 1.8m-.2 -.7l.2 .7 .4 -.6M281.3 756.3l-1.7 .3m.5 -.4l-.5 .4 .6 .2M281.3 753.4l-1.5 0m.5 -.3l-.5 .3 .5 .2M281.3 750.5l-.9 1.1m.1 -.5l-.1 .5 .5 -.2M281.3 747.5l.2 1.8m-.4 -.6l.4 .6 .2 -.7M281.3 744.6l0 1.9m-.3 -.7l.3 .7 .3 -.7M281.3 741.7l-1.5 .1m.5 -.3l-.5 .3 .5 .2M281.3 738.7l-.2 1.4m-.2 -.5l.2 .5 .3 -.4M281.3 735.8l-1.9 .2m.6 -.4l-.6 .4 .7 .2M281.3 732.9l-.1 1.7m-.3 -.6l.3 .6 .3 -.6M281.3 729.9l.1 1.4m-.3 -.5l.3 .5 .2 -.5M281.3 727l-1.4 .7m.4 -.5l-.4 .5 .6 0M281.3 724.1l-.3 1.3m-.1 -.5l.1 .5 .3 -.4M281.3 721.1l-1.1 .9m.2 -.5l-.2 .5 .5 -.1M281.3 718.2l-1.1 1m.2 -.5l-.2 .5 .6 -.2M281.3 715.3l-1.4 -.1m.5 -.2l-.5 .2 .5 .3M281.3 712.3l-1.2 1.5m.2 -.7l-.2 .7 .6 -.3M281.3 709.4l-1.2 1.5m.2 -.7l-.2 .7 .7 -.3M281.3 706.5l-1.4 .9m.3 -.5l-.3 .5 .6 -.1M281.3 703.5l-.2 1.5m-.2 -.6l.2 .6 .3 -.5M281.3 700.6l-.5 1.7m-.1 -.7l.1 .7 .4 -.5M281.3 697.7l-1.2 .6m.3 -.4l-.3 .4 .5 0M281.3 694.7l-.1 2m-.3 -.7l.3 .7 .4 -.7M281.3 691.8l-1 1.3m.1 -.6l-.1 .6 .5 -.3M281.3 688.9l-1.9 .7m.5 -.6l-.5 .6 .8 .1M281.3 685.9l.1 1.7m-.3 -.6l.3 .6 .3 -.6M281.3 683l-1.5 1.1m.3 -.6l-.3 .6 .7 -.1M281.3 680.1l-1.2 .8m.3 -.5l-.3 .5 .5 -.1M281.3 677.1l-1.2 1.5m.2 -.7l-.2 .7 .7 -.3M281.3 674.2l-1.6 .3m.5 -.4l-.5 .4 .6 .2M281.3 671.3l-.3 1.6m-.2 -.6l.2 .6 .4 -.5M281.3 668.3l-1.5 .2m.5 -.3l-.5 .3 .5 .2M281.3 665.4l-1 1.5m.1 -.7l-.1 .7 .6 -.3M281.3 662.5l.1 1.3m-.3 -.4l.3 .4 .2 -.5M281.3 659.5l-.4 1.9m-.2 -.7l.2 .7 .4 -.6M281.3 656.6l-.2 1.8m-.2 -.7l.2 .7 .4 -.6M285 841.4l-1.1 .8m.2 -.5l-.2 .5 .5 -.1M285 838.5l-1.5 .2m.5 -.3l-.5 .3 .5 .2M285 835.5l-.5 1.2m0 -.5l0 .5 .4 -.3M285 832.6l-2 -.1m.7 -.3l-.7 .3 .7 .4M285 829.7l.1 1.8m-.3 -.6l.3 .6 .3 -.6M285 826.7l-1.5 1.3m.3 -.7l-.3 .7 .7 -.2M285 823.8l-.2 1.3m-.2 -.5l.2 .5 .3 -.4M285 820.9l-1.4 .9m.3 -.5l-.3 .5 .6 -.1M285 817.9l.1 1.6m-.3 -.5l.3 .5 .2 -.6M285 815l-1.2 .9m.3 -.5l-.3 .5 .5 -.1M285 812.1l0 1.9m-.3 -.6l.3 .6 .3 -.7M285 809.1l-1.5 1.2m.3 -.7l-.3 .7 .7 -.2M285 806.2l-.9 1m.1 -.5l-.1 .5 .5 -.2M285 803.3l-1.2 .7m.3 -.5l-.3 .5 .5 0M285 800.3l-1.7 .2m.5 -.4l-.5 .4 .6 .2M285 797.4l.2 1.3m-.3 -.4l.3 .4 .2 -.5M285 794.5l.1 1.7m-.3 -.5l.3 .5 .2 -.6M285 791.5l-1.2 1.3m.2 -.7l-.2 .7 .6 -.3M285 788.6l-.2 1.7m-.2 -.6l.2 .6 .3 -.5M285 785.7l-1.2 .9m.3 -.5l-.3 .5 .6 -.1M285 782.7l-.2 1.4m-.2 -.5l.2 .5 .3 -.4M285 779.8l-.1 1.9m-.3 -.7l.3 .7 .4 -.6M285 776.9l-.2 1.4m-.2 -.5l.2 .5 .3 -.4M285 773.9l-1.9 .4m.6 -.5l-.6 .5 .7 .2M285 771l-.9 1.7m0 -.7l0 .7 .6 -.5M285 768.1l-.8 1.1m.1 -.5l-.1 .5 .5 -.3M285 765.1l-1.1 1.2m.2 -.6l-.2 .6 .6 -.2M285 762.2l-1.4 -.1m.5 -.2l-.5 .2 .5 .3M285 759.3l0 2m-.3 -.7l.3 .7 .3 -.7M285 756.3l0 1.6m-.2 -.5l.2 .5 .3 -.5M285 753.4l-.4 2m-.2 -.8l.2 .8 .5 -.6M285 750.5l-.4 1.9m-.2 -.7l.2 .7 .4 -.6M285 747.5l-.1 1.6m-.2 -.5l.2 .5 .3 -.5M285 744.6l.1 1.3m-.2 -.4l.2 .4 .2 -.5M285 741.7l.3 1.8m-.4 -.6l.4 .6 .2 -.7M285 738.7l0 1.9m-.3 -.6l.3 .6 .3 -.6M285 735.8l-.5 1.7m-.1 -.7l.1 .7 .5 -.5M285 732.9l0 1.3m-.2 -.5l.2 .5 .2 -.5M285 729.9l0 1.7m-.3 -.6l.3 .6 .3 -.6M285 727l-1.9 .4m.6 -.5l-.6 .5 .7 .2M285 724.1l-1.6 1.1m.3 -.7l-.3 .7 .7 -.1M285 721.1l-.8 1.2m.1 -.5l-.1 .5 .5 -.3M285 718.2l-1.4 .2m.4 -.3l-.4 .3 .5 .1M285 715.3l-.3 2m-.2 -.7l.2 .7 .4 -.6M285 712.3l.1 1.4m-.3 -.5l.3 .5 .2 -.5M285 709.4l-.1 1.7m-.2 -.6l.2 .6 .3 -.6M285 706.5l-1.7 .2m.5 -.4l-.5 .4 .6 .2M285 703.5l-.3 1.6m-.2 -.6l.2 .6 .4 -.5M285 700.6l-.8 1.7m0 -.7l0 .7 .6 -.5M285 697.7l-1.8 .5m.5 -.5l-.5 .5 .7 .1M285 694.7l-.4 2m-.2 -.7l.2 .7 .4 -.6M285 691.8l-1.7 .1m.6 -.3l-.6 .3 .6 .3M285 688.9l.1 2m-.4 -.7l.4 .7 .3 -.7M285 685.9l-1.2 .9m.3 -.5l-.3 .5 .6 -.1M285 683l-.2 1.3m-.1 -.5l.1 .5 .3 -.4M285 680.1l-.9 1.3m.1 -.6l-.1 .6 .5 -.3M285 677.1l-.2 1.3m-.2 -.5l.2 .5 .3 -.4M285 674.2l-1 1.5m.1 -.7l-.1 .7 .6 -.3M285 671.3l-1.6 1.2m.4 -.7l-.4 .7 .7 -.1M285 668.3l-.1 1.5m-.2 -.5l.2 .5 .3 -.5M285 665.4l-.3 1.3m-.1 -.5l.1 .5 .3 -.4M285 662.5l-1.1 1.2m.2 -.6l-.2 .6 .6 -.2M285 659.5l.2 1.4m-.3 -.4l.3 .4 .2 -.5M285 656.6l-1.7 -.1m.6 -.2l-.6 .2 .6 .3M288.8 841.4l.1 1.3m-.2 -.4l.2 .4 .2 -.5M288.8 838.5l-.7 1.9m-.1 -.8l.1 .8 .6 -.5M288.8 835.5l-1.9 .4m.6 -.5l-.6 .5 .7 .2M288.8 832.6l-1.2 .6m.3 -.4l-.3 .4 .5 0M288.8 829.7l-.1 1.6m-.2 -.6l.2 .6 .3 -.5M288.8 826.7l-1 1.5m.1 -.7l-.1 .7 .6 -.3M288.8 823.8l.1 1.8m-.3 -.6l.3 .6 .3 -.6M288.8 820.9l-2 .1m.7 -.4l-.7 .4 .7 .3M288.8 817.9l.3 1.6m-.4 -.5l.4 .5 .2 -.6M288.8 815l-.1 1.5m-.2 -.5l.2 .5 .3 -.5M288.8 812.1l-.2 1.7m-.2 -.6l.2 .6 .3 -.5M288.8 809.1l-.2 1.6m-.2 -.6l.2 .6 .3 -.5M288.8 806.2l-1.1 1.3m.2 -.6l-.2 .6 .6 -.2M288.8 803.3l.3 1.3m-.3 -.4l.3 .4 .1 -.5M288.8 800.3l0 1.9m-.3 -.6l.3 .6 .3 -.6M288.8 797.4l-.2 1.6m-.2 -.6l.2 .6 .3 -.5M288.8 794.5l.2 1.8m-.4 -.6l.4 .6 .2 -.6M288.8 791.5l-1.4 .4m.4 -.4l-.4 .4 .5 .1M288.8 788.6l.1 2m-.3 -.7l.3 .7 .3 -.7M288.8 785.7l-.2 1.8m-.2 -.7l.2 .7 .4 -.6M288.8 782.7l-.2 1.3m-.1 -.5l.1 .5 .3 -.4M288.8 779.8l.3 1.9m-.4 -.6l.4 .6 .2 -.7M288.8 776.9l-1.3 .1m.4 -.2l-.4 .2 .5 .2M288.8 773.9l0 1.4m-.2 -.5l.2 .5 .2 -.5M288.8 771l-.5 1.9m-.2 -.7l.2 .7 .5 -.6M288.8 768.1l-.3 1.8m-.2 -.7l.2 .7 .4 -.6M288.8 765.1l-.9 1.2m.1 -.6l-.1 .6 .5 -.3M288.8 762.2l-.1 1.6m-.2 -.6l.2 .6 .3 -.5M288.8 759.3l-.1 1.3m-.2 -.5l.2 .5 .3 -.4M288.8 756.3l.3 1.4m-.3 -.4l.3 .4 .1 -.5M288.8 753.4l-1.5 0m.5 -.2l-.5 .2 .5 .3M288.8 750.5l-1.1 1.2m.2 -.6l-.2 .6 .6 -.2M288.8 747.5l.3 1.7m-.4 -.5l.4 .5 .2 -.6M288.8 744.6l-1.7 .6m.5 -.5l-.5 .5 .7 .1M288.8 741.7l-.4 2m-.2 -.7l.2 .7 .5 -.6M288.8 738.7l-1.3 1m.3 -.6l-.3 .6 .6 -.1M288.8 735.8l.2 1.7m-.3 -.5l.3 .5 .2 -.6M288.8 732.9l-1.8 -.1m.6 -.3l-.6 .3 .6 .3M288.8 729.9l.1 1.4m-.2 -.5l.2 .5 .2 -.5M288.8 727l-1.1 .9m.2 -.5l-.2 .5 .5 -.1M288.8 724.1l-1.6 -.1m.6 -.2l-.6 .2 .5 .3M288.8 721.1l-1.3 1.1m.3 -.6l-.3 .6 .6 -.2M288.8 718.2l-.5 1.9m-.1 -.7l.1 .7 .5 -.6M288.8 715.3l.3 1.8m-.4 -.6l.4 .6 .2 -.7M288.8 712.3l-1.5 1.3m.3 -.7l-.3 .7 .7 -.2M288.8 709.4l.3 1.7m-.4 -.5l.4 .5 .2 -.6M288.8 706.5l-.3 1.4m-.1 -.5l.1 .5 .3 -.4M288.8 703.5l-1 1.3m.1 -.6l-.1 .6 .5 -.3M288.8 700.6l-.5 1.9m-.1 -.7l.1 .7 .5 -.6M288.8 697.7l-1.8 .7m.5 -.5l-.5 .5 .7 .1M288.8 694.7l0 1.7m-.3 -.6l.3 .6 .3 -.6M288.8 691.8l-1.7 .3m.5 -.4l-.5 .4 .6 .2M288.8 688.9l-.1 1.6m-.2 -.5l.2 .5 .3 -.5M288.8 685.9l-.8 1m.1 -.5l-.1 .5 .5 -.2M288.8 683l-1.4 .4m.4 -.4l-.4 .4 .5 .1M288.8 680.1l-.1 1.7m-.3 -.6l.3 .6 .3 -.6M288.8 677.1l-1.7 1.2m.4 -.7l-.4 .7 .8 -.1M288.8 674.2l-1.9 .5m.6 -.5l-.6 .5 .8 .1M288.8 671.3l-1.4 1.2m.3 -.6l-.3 .6 .7 -.2M288.8 668.3l-.2 1.8m-.2 -.6l.2 .6 .4 -.6M288.8 665.4l-1.4 1.4m.3 -.7l-.3 .7 .7 -.2M288.8 662.5l-1.2 1.2m.2 -.6l-.2 .6 .6 -.2M288.8 659.5l.2 1.8m-.4 -.6l.4 .6 .2 -.7M288.8 656.6l.1 1.7m-.3 -.6l.3 .6 .2 -.6M292.5 841.4l-1 1.3m.1 -.6l-.1 .6 .6 -.3M292.5 838.5l.1 1.3m-.2 -.4l.2 .4 .2 -.5M292.5 835.5l-.6 1.3m0 -.5l0 .5 .4 -.3M292.5 832.6l.2 1.9m-.4 -.6l.4 .6 .2 -.7M292.5 829.7l-.1 1.5m-.2 -.5l.2 .5 .3 -.5M292.5 826.7l-.3 1.7m-.2 -.6l.2 .6 .4 -.5M292.5 823.8l-.4 1.9m-.2 -.7l.2 .7 .4 -.6M292.5 820.9l.3 1.4m-.3 -.4l.3 .4 .1 -.5M292.5 817.9l-1.3 .9m.3 -.5l-.3 .5 .6 -.1M292.5 815l.1 1.4m-.3 -.5l.3 .5 .2 -.5M292.5 812.1l-.5 1.2m0 -.5l0 .5 .4 -.3M292.5 809.1l-1.5 .9m.4 -.5l-.4 .5 .7 -.1M292.5 806.2l-.1 2m-.3 -.7l.3 .7 .4 -.7M292.5 803.3l-1.8 .7m.5 -.5l-.5 .5 .7 .1M292.5 800.3l-1.5 -.3m.6 -.2l-.6 .2 .5 .3M292.5 797.4l-1.4 .5m.4 -.4l-.4 .4 .5 .1M292.5 794.5l-1.4 .4m.4 -.4l-.4 .4 .5 .1M292.5 791.5l-1.5 1.2m.3 -.6l-.3 .6 .7 -.2M292.5 788.6l.2 1.8m-.4 -.6l.4 .6 .2 -.7M292.5 785.7l.1 1.7m-.3 -.6l.3 .6 .3 -.6M292.5 782.7l-.1 1.8m-.2 -.6l.2 .6 .4 -.6M292.5 779.8l-.5 1.2m0 -.5l0 .5 .4 -.3M292.5 776.9l-1.4 1.3m.3 -.7l-.3 .7 .7 -.2M292.5 773.9l0 1.5m-.2 -.5l.2 .5 .3 -.5M292.5 771l-1.7 .1m.6 -.3l-.6 .3 .6 .2M292.5 768.1l-1.9 .6m.5 -.5l-.5 .5 .7 .1M292.5 765.1l-.1 1.7m-.3 -.6l.3 .6 .3 -.6M292.5 762.2l-1.2 1.1m.2 -.6l-.2 .6 .6 -.2M292.5 759.3l-.1 1.9m-.3 -.7l.3 .7 .3 -.6M292.5 756.3l-1.7 -.3m.6 -.2l-.6 .2 .5 .4M292.5 753.4l.3 1.7m-.4 -.5l.4 .5 .2 -.6M292.5 750.5l.2 1.7m-.4 -.5l.4 .5 .2 -.6M292.5 747.5l-1.2 1.3m.2 -.6l-.2 .6 .6 -.2M292.5 744.6l-1.7 .2m.6 -.4l-.6 .4 .6 .2M292.5 741.7l-1.6 0m.5 -.3l-.5 .3 .5 .3M292.5 738.7l.2 1.8m-.4 -.6l.4 .6 .2 -.6M292.5 735.8l.1 2m-.4 -.7l.4 .7 .3 -.7M292.5 732.9l-.2 1.7m-.2 -.6l.2 .6 .4 -.5M292.5 729.9l.1 1.7m-.3 -.6l.3 .6 .2 -.6M292.5 727l.1 2m-.4 -.7l.4 .7 .3 -.7M292.5 724.1l.1 1.9m-.3 -.6l.3 .6 .3 -.7M292.5 721.1l.1 1.8m-.3 -.6l.3 .6 .3 -.6M292.5 718.2l-1.4 1.2m.3 -.6l-.3 .6 .7 -.2M292.5 715.3l-1.3 -.1m.4 -.2l-.4 .2 .4 .2M292.5 712.3l.3 1.5m-.3 -.5l.3 .5 .2 -.6M292.5 709.4l-1.4 .8m.4 -.5l-.4 .5 .6 0M292.5 706.5l-.5 1.5m-.1 -.6l.1 .6 .4 -.4M292.5 703.5l-.1 1.6m-.2 -.6l.2 .6 .3 -.5M292.5 700.6l.2 1.4m-.3 -.5l.3 .5 .2 -.5M292.5 697.7l-1.9 .5m.6 -.5l-.6 .5 .7 .1M292.5 694.7l-1 1.6m.1 -.7l-.1 .7 .6 -.4M292.5 691.8l-.2 1.4m-.2 -.5l.2 .5 .3 -.5M292.5 688.9l-1.4 0m.5 -.2l-.5 .2 .5 .2M292.5 685.9l-1.1 .9m.2 -.5l-.2 .5 .5 -.1M292.5 683l-1.1 1.3m.2 -.6l-.2 .6 .6 -.3M292.5 680.1l-1 .8m.2 -.4l-.2 .4 .5 -.1M292.5 677.1l-1.3 0m.4 -.2l-.4 .2 .4 .2M292.5 674.2l-1.2 1.5m.2 -.7l-.2 .7 .6 -.3M292.5 671.3l-1.5 1.3m.3 -.7l-.3 .7 .7 -.2M292.5 668.3l-.1 1.9m-.3 -.7l.3 .7 .3 -.6M292.5 665.4l-.2 1.3m-.2 -.5l.2 .5 .3 -.4M292.5 662.5l.2 1.8m-.3 -.6l.3 .6 .2 -.6M292.5 659.5l-1.4 .1m.5 -.3l-.5 .3 .5 .2M292.5 656.6l-1.3 1.5m.2 -.7l-.2 .7 .7 -.3M296.2 841.4l-.9 1.3m.1 -.6l-.1 .6 .5 -.3M296.2 838.5l-.1 1.4m-.2 -.5l.2 .5 .3 -.4M296.2 835.5l-1.3 .8m.3 -.5l-.3 .5 .6 0M296.2 832.6l0 1.6m-.3 -.5l.3 .5 .3 -.5M296.2 829.7l-.5 1.3m-.1 -.5l.1 .5 .4 -.4M296.2 826.7l-1.4 .3m.4 -.3l-.4 .3 .5 .1M296.2 823.8l-1.5 1.1m.3 -.6l-.3 .6 .7 -.1M296.2 820.9l-.4 1.7m-.1 -.6l.1 .6 .4 -.5M296.2 817.9l.3 1.5m-.3 -.5l.3 .5 .1 -.5M296.2 815l-.2 1.5m-.2 -.5l.2 .5 .3 -.5M296.2 812.1l-.3 1.7m-.2 -.6l.2 .6 .4 -.5M296.2 809.1l-.4 1.8m-.2 -.7l.2 .7 .4 -.6M296.2 806.2l-.3 2m-.2 -.7l.2 .7 .4 -.6M296.2 803.3l-1.2 1.1m.2 -.6l-.2 .6 .6 -.2M296.2 800.3l-.6 1.2m0 -.5l0 .5 .4 -.3M296.2 797.4l0 1.8m-.3 -.6l.3 .6 .3 -.6M296.2 794.5l-1.3 1.3m.2 -.7l-.2 .7 .7 -.2M296.2 791.5l0 1.6m-.3 -.5l.3 .5 .3 -.5M296.2 788.6l.1 1.8m-.3 -.6l.3 .6 .3 -.6M296.2 785.7l0 1.6m-.3 -.5l.3 .5 .3 -.6M296.2 782.7l-.3 2m-.2 -.7l.2 .7 .4 -.6M296.2 779.8l-.1 1.5m-.2 -.5l.2 .5 .3 -.5M296.2 776.9l-1.9 .4m.6 -.5l-.6 .5 .7 .2M296.2 773.9l-1.5 .3m.4 -.4l-.4 .4 .6 .1M296.2 771l-.6 1.4m0 -.6l0 .6 .4 -.4M296.2 768.1l-.2 1.4m-.2 -.5l.2 .5 .3 -.4M296.2 765.1l-1.9 .7m.5 -.6l-.5 .6 .8 .1M296.2 762.2l-.3 1.8m-.2 -.6l.2 .6 .4 -.6M296.2 759.3l0 1.6m-.3 -.5l.3 .5 .2 -.5M296.2 756.3l0 1.6m-.3 -.5l.3 .5 .3 -.6M296.2 753.4l-.6 1.9m-.1 -.8l.1 .8 .5 -.6M296.2 750.5l-1.6 1m.4 -.6l-.4 .6 .7 -.1M296.2 747.5l.1 2m-.4 -.7l.4 .7 .3 -.7M296.2 744.6l-1.9 .1m.6 -.3l-.6 .3 .7 .3M296.2 741.7l.2 1.3m-.3 -.4l.3 .4 .2 -.5M296.2 738.7l-.2 1.9m-.2 -.7l.2 .7 .4 -.6M296.2 735.8l-.1 1.9m-.3 -.7l.3 .7 .4 -.6M296.2 732.9l-1.5 .3m.5 -.4l-.5 .4 .6 .1M296.2 729.9l.3 1.8m-.4 -.6l.4 .6 .2 -.7M296.2 727l-1.7 .3m.5 -.4l-.5 .4 .7 .2M296.2 724.1l-.9 1m.1 -.5l-.1 .5 .5 -.2M296.2 721.1l-1.4 1.4m.2 -.7l-.2 .7 .7 -.3M296.2 718.2l-1.5 1.2m.3 -.7l-.3 .7 .7 -.2M296.2 715.3l.2 1.6m-.3 -.5l.3 .5 .2 -.6M296.2 712.3l-1.2 1.2m.2 -.6l-.2 .6 .6 -.2M296.2 709.4l-1.2 1.4m.2 -.7l-.2 .7 .6 -.3M296.2 706.5l-1.4 1.5m.2 -.7l-.2 .7 .7 -.3M296.2 703.5l-.2 1.8m-.2 -.6l.2 .6 .4 -.6M296.2 700.6l-1.5 1.1m.3 -.6l-.3 .6 .7 -.1M296.2 697.7l-1 1.5m.1 -.7l-.1 .7 .6 -.4M296.2 694.7l.1 1.7m-.3 -.6l.3 .6 .3 -.6M296.2 691.8l-1.3 .6m.3 -.4l-.3 .4 .5 0M296.2 688.9l.2 1.3m-.3 -.4l.3 .4 .1 -.5M296.2 685.9l-1 .8m.2 -.4l-.2 .4 .5 -.1M296.2 683l-1.6 .6m.4 -.5l-.4 .5 .6 .1M296.2 680.1l.3 1.8m-.4 -.6l.4 .6 .2 -.7M296.2 677.1l-1.8 .3m.5 -.4l-.5 .4 .6 .2M296.2 674.2l0 1.9m-.3 -.6l.3 .6 .3 -.6M296.2 671.3l-.3 2m-.2 -.7l.2 .7 .4 -.6M296.2 668.3l0 1.6m-.3 -.6l.3 .6 .3 -.6M296.2 665.4l-.5 1.3m0 -.5l0 .5 .4 -.4M296.2 662.5l-1.7 .6m.5 -.5l-.5 .5 .7 .1M296.2 659.5l.1 2m-.4 -.7l.4 .7 .3 -.7M296.2 656.6l.1 1.5m-.3 -.5l.3 .5 .2 -.5" stroke="#0072bd" stroke-width="0.5" fill="none" stroke-opacity="0.58"/>
<path d="M158.5 756.3l-3 -.2m1.1 -.4l-1.1 .4 1 .6M158.5 753.4l-2.3 -.3m.8 -.3l-.8 .3 .7 .5M158.5 750.5l-3.4 .1m1.1 -.6l-1.1 .6 1.2 .5M158.5 747.5l-3.5 .3m1.1 -.7l-1.1 .7 1.2 .5M158.5 744.6l-1.4 2.9m0 -1.2l0 1.2 1 -.8M162.3 762.2l2.7 1.7m-1.2 -.1l1.2 .1 -.6 -1M162.3 759.3l-1.1 1.5m.1 -.7l-.1 .7 .6 -.3M162.3 756.3l-3.6 .5m1.2 -.8l-1.2 .8 1.3 .4M162.3 753.4l0 -2.2m.4 .8l-.4 -.8 -.4 .8M162.3 750.5l-.7 2.3m-.1 -.9l.1 .9 .6 -.7M162.3 747.5l3.8 -.8m-1.2 .9l1.2 -.9 -1.4 -.3M162.3 744.6l2.5 2.4m-1.3 -.4l1.3 .4 -.5 -1.2M162.3 741.7l2.1 1.9m-1.1 -.3l1.1 .3 -.4 -1M162.3 738.7l1.1 2.3m-.7 -.6l.7 .6 0 -1M166 765.1l1.3 -1.7m-.2 .8l.2 -.8 -.7 .4M166 762.2l1.8 1.5m-.9 -.2l.9 .2 -.4 -.8M166 759.3l-1.9 2.3m.3 -1.1l-.3 1.1 1 -.5M166 756.3l-3 1.4m.8 -1l-.8 1 1.3 0M166 753.4l1 3m-.8 -.9l.8 .9 .2 -1.2M166 744.6l1.6 1.4m-.8 -.2l.8 .2 -.3 -.7M166 741.7l-1.6 1.2m.3 -.7l-.3 .7 .7 -.1M166 738.7l-1.9 -1.1m.9 .1l-.9 -.1 .5 .7M166 735.8l2 -3.2m-.2 1.4l.2 -1.4 -1.2 .8M169.7 765.1l-1.4 2.9m0 -1.2l0 1.2 1 -.8M169.7 762.2l-2.4 1.8m.5 -1l-.5 1 1.1 -.2M169.7 759.3l3.5 1m-1.4 .2l1.4 -.2 -1 -.9M169.7 741.7l2.2 1.1m-.9 0l.9 0 -.6 -.7M169.7 738.7l-1 -2.4m.7 .7l-.7 -.7 -.1 1M169.7 735.8l-.2 -2.2m.4 .7l-.4 -.7 -.3 .8M173.4 768.1l2.4 1.1m-1 0l1 0 -.6 -.8M173.4 765.1l2.5 -2.2m-.5 1.2l.5 -1.2 -1.2 .4M173.4 762.2l2.6 1.7m-1.2 -.1l1.2 .1 -.6 -1M173.4 738.7l-1.5 1.5m.3 -.7l-.3 .7 .7 -.3M173.4 735.8l0 -3.1m.5 1.1l-.5 -1.1 -.5 1.1M173.4 732.9l2.6 -.6m-.8 .6l.8 -.6 -1 -.2M177.1 768.1l-1.2 -3.7m1 1.1l-1 -1.1 -.2 1.5M177.1 765.1l2.7 .3m-1 .3l1 -.3 -.9 -.5M177.1 762.2l-1.1 2.1m0 -.9l0 .9 .7 -.5M177.1 735.8l-3.6 -.5m1.3 -.4l-1.3 .4 1.2 .8M177.1 732.9l-3.9 -.5m1.4 -.5l-1.4 .5 1.3 .8M180.9 768.1l4 -.6m-1.3 .9l1.3 -.9 -1.5 -.5M180.9 765.1l.2 -3.1m.5 1.1l-.5 -1.1 -.6 1M180.9 735.8l3.2 -.8m-1 .8l1 -.8 -1.2 -.3M180.9 732.9l3.5 -.5m-1.1 .8l1.1 -.8 -1.3 -.4M184.6 768.1l-2.4 -3.1m1.3 .7l-1.3 -.7 .3 1.5M184.6 765.1l-.3 -1.9m.4 .6l-.4 -.6 -.2 .7M184.6 762.2l-1.2 -2.1m.8 .5l-.8 -.5 .1 .9M184.6 738.7l-3 -1.6m1.3 0l-1.3 0 .8 1M184.6 735.8l2.7 -.8m-.8 .7l.8 -.7 -1 -.2M184.6 732.9l.5 3.6m-.8 -1.2l.8 1.2 .4 -1.3M188.3 768.1l-.8 -1.8m.6 .5l-.6 -.5 0 .8M188.3 765.1l3 -2.2m-.7 1.2l.7 -1.2 -1.4 .3M188.3 762.2l-2.5 -2.1m1.2 .3l-1.2 -.3 .5 1.1M188.3 738.7l2.3 .8m-.9 .1l.9 -.1 -.7 -.7M188.3 735.8l4 -.1m-1.4 .7l1.4 -.7 -1.4 -.6M188.3 732.9l-.4 3.1m-.4 -1.1l.4 1.1 .7 -1M192 765.1l1.8 -1.1m-.4 .7l.4 -.7 -.8 .1M192 762.2l1.1 2.7m-.8 -.8l.8 .8 .1 -1.1M192 759.3l1.5 3m-1 -.8l1 .8 0 -1.3M192 741.7l-1.3 3.6m-.1 -1.5l.1 1.5 1.1 -1M192 738.7l1.1 1.6m-.7 -.4l.7 .4 -.1 -.7M192 735.8l2 2.7m-1.1 -.6l1.1 .6 -.3 -1.3M195.7 765.1l-1.7 2.7m.1 -1.2l-.1 1.2 1 -.6M195.7 762.2l1.3 -1.7m-.2 .8l.2 -.8 -.7 .4M195.7 759.3l1.9 -1.3m-.4 .7l.4 -.7 -.9 .1M195.7 756.3l-3 -1.8m1.3 .1l-1.3 -.1 .7 1.1M195.7 753.4l-2.9 -1.7m1.3 .1l-1.3 -.1 .7 1.1M195.7 747.5l-.2 2.3m-.3 -.8l.3 .8 .5 -.8M195.7 744.6l2 3.1m-1.2 -.7l1.2 .7 -.2 -1.4M195.7 741.7l-3 2.5m.6 -1.3l-.6 1.3 1.4 -.4M195.7 738.7l-.8 2.1m-.1 -.8l.1 .8 .6 -.6M195.7 735.8l-2.5 1.8m.6 -1l-.6 1 1.2 -.2M199.5 762.2l1.8 1.6m-.9 -.2l.9 .2 -.4 -.8M199.5 759.3l2 1.8m-1 -.3l1 .3 -.4 -.9M199.5 756.3l2.3 -2.2m-.4 1.1l.4 -1.1 -1.2 .4M199.5 753.4l3.5 1m-1.4 .2l1.4 -.2 -1 -.9M199.5 750.5l1.9 -.3m-.6 .4l.6 -.4 -.7 -.2M199.5 747.5l-1.6 -2.7m1 .7l-1 -.7 .1 1.2M199.5 744.6l-1.1 -3.3m.9 1l-.9 -1 -.2 1.3M199.5 741.7l1.7 3.3m-1.1 -.8l1.1 .8 -.1 -1.4M199.5 738.7l-2.1 -2.7m1.2 .6l-1.2 -.6 .3 1.3M203.2 756.3l1.6 1.1m-.7 -.1l.7 .1 -.4 -.7M203.2 753.4l3.2 -.8m-1 .8l1 -.8 -1.2 -.3M203.2 750.5l-.5 2.7m-.3 -1l.3 1 .6 -.8M203.2 747.5l2.4 -.1m-.8 .4l.8 -.4 -.8 -.3M203.2 744.6l-2.8 -2.8m1.4 .5l-1.4 -.5 .5 1.4" stroke="#0072bd" stroke-width="0.5" fill="none" stroke-opacity="0.8"/>
<rect x="386.5" y="633.5" width="293.0" height="231.0" fill="none" stroke="#8c8c8c" stroke-width="1"/>
<text x="380.47 382.80 386.69 388.64" y="874.40" class="sm">-0.5</text>
<text x="371.84 374.17 378.06 380.01" y="867.30" class="sm">-0.5</text>
<text x="413.85" y="874.40" class="sm">0</text>
<text x="380.01" y="844.20" class="sm">0</text>
<text x="440.23 444.13 446.07" y="874.40" class="sm">0.5</text>
<text x="374.17 378.06 380.01" y="821.10" class="sm">0.5</text>
<path d="M.29 0H.385V.709H.31C.295 .645 .225 .622 .085 .618V.548H.29Z" transform="translate(472.45 874.40) scale(7 -7)" fill="#262626"/>
<path d="M.29 0H.385V.709H.31C.295 .645 .225 .622 .085 .618V.548H.29Z" transform="translate(380.01 798.00) scale(7 -7)" fill="#262626"/>
<text x="502.73 504.67" y="874.40" class="sm">.5</text><path d="M.29 0H.385V.709H.31C.295 .645 .225 .622 .085 .618V.548H.29Z" transform="translate(498.83 874.40) scale(7 -7)" fill="#262626"/>
<text x="378.06 380.01" y="774.90" class="sm">.5</text><path d="M.29 0H.385V.709H.31C.295 .645 .225 .622 .085 .618V.548H.29Z" transform="translate(374.17 774.90) scale(7 -7)" fill="#262626"/>
<text x="531.05" y="874.40" class="sm">2</text>
<text x="380.01" y="751.80" class="sm">2</text>
<text x="557.43 561.33 563.27" y="874.40" class="sm">2.5</text>
<text x="374.17 378.06 380.01" y="728.70" class="sm">2.5</text>
<text x="589.65" y="874.40" class="sm">3</text>
<text x="380.01" y="705.60" class="sm">3</text>
<text x="616.03 619.93 621.87" y="874.40" class="sm">3.5</text>
<text x="374.17 378.06 380.01" y="682.50" class="sm">3.5</text>
<text x="648.25" y="874.40" class="sm">4</text>
<text x="380.01" y="659.40" class="sm">4</text>
<text x="674.63 678.53 680.47" y="874.40" class="sm">4.5</text>
<text x="374.17 378.06 380.01" y="636.30" class="sm">4.5</text>
<path d="M415.5 864.5v-3M415.5 633.5v3M386.5 841.5h3M679.5 841.5h-3M445.5 864.5v-3M445.5 633.5v3M386.5 818.5h3M679.5 818.5h-3M474.5 864.5v-3M474.5 633.5v3M386.5 795.5h3M679.5 795.5h-3M503.5 864.5v-3M503.5 633.5v3M386.5 772.5h3M679.5 772.5h-3M533.5 864.5v-3M533.5 633.5v3M386.5 749.5h3M679.5 749.5h-3M562.5 864.5v-3M562.5 633.5v3M386.5 725.5h3M679.5 725.5h-3M591.5 864.5v-3M591.5 633.5v3M386.5 702.5h3M679.5 702.5h-3M620.5 864.5v-3M620.5 633.5v3M386.5 679.5h3M679.5 679.5h-3M650.5 864.5v-3M650.5 633.5v3M386.5 656.5h3M679.5 656.5h-3" stroke="#6a6a6a" stroke-width="0.8" fill="none"/>
<path d="M521.7 746.0l0 0.8M529.2 752.0l0 0.8M529.2 746.0l0 0.8M529.2 740.1l0 0.8M536.8 757.9l0 0.8M536.8 752.0l0 0.8M536.8 746.0l0 0.8M536.8 740.1l0 0.8M544.3 752.0l0 0.8M544.3 746.0l0 0.8M544.3 740.1l0 0.8" stroke="#0072bd" stroke-width="0.55" fill="none" stroke-opacity="0.4"/>
<path d="M415.8 841.4l-3.6 2.6m.8 -1.5l-.8 1.5 1.7 -.3M415.8 835.4l-2.2 2.7m.3 -1.3l-.3 1.3 1.2 -.5M415.8 829.5l-.4 4m-.5 -1.4l.5 1.4 .8 -1.3M415.8 823.5l-2.2 2.3m.4 -1.2l-.4 1.2 1.1 -.4M415.8 817.6l-3.1 .2m1 -.6l-1 .6 1.1 .5M415.8 811.6l.1 4.2m-.7 -1.4l.7 1.4 .7 -1.5M415.8 805.6l.6 3.6m-.8 -1.1l.8 1.1 .4 -1.3M415.8 799.7l-.1 4.3m-.7 -1.5l.7 1.5 .7 -1.5M415.8 793.7l-3.4 -.1m1.2 -.5l-1.2 .5 1.1 .6M415.8 787.7l-3 3.2m.5 -1.6l-.5 1.6 1.6 -.6M415.8 781.8l-2.6 2m.6 -1.1l-.6 1.1 1.2 -.3M415.8 775.8l.6 3.1m-.7 -1l.7 1 .3 -1.2M415.8 769.9l-2.2 3.3m.2 -1.5l-.2 1.5 1.3 -.8M415.8 763.9l-3.6 .3m1.2 -.7l-1.2 .7 1.3 .5M415.8 757.9l.5 4.4m-.9 -1.4l.9 1.4 .5 -1.6M415.8 752l-3.4 .7m1 -.8l-1 .8 1.3 .3M415.8 746l-3.8 1.7m1 -1.2l-1 1.2 1.6 .1M415.8 740.1l.6 3.2m-.7 -1l.7 1 .3 -1.2M415.8 734.1l.2 3.7m-.7 -1.2l.7 1.2 .5 -1.3M415.8 728.1l-3.5 1m1 -.9l-1 .9 1.4 .2M415.8 722.2l-3.9 1.4m1.1 -1.1l-1.1 1.1 1.5 .2M415.8 716.2l.4 3.2m-.7 -1l.7 1 .4 -1.2M415.8 710.3l.5 4.3m-.9 -1.4l.9 1.4 .5 -1.5M415.8 704.3l.7 3.6m-.8 -1.1l.8 1.1 .4 -1.3M415.8 698.3l-4 -.3m1.4 -.6l-1.4 .6 1.3 .8M415.8 692.4l.6 3.2m-.7 -1l.7 1 .3 -1.2M415.8 686.4l-2.4 3.1m.3 -1.5l-.3 1.5 1.3 -.6M415.8 680.4l-2 2.8m.2 -1.3l-.2 1.3 1.1 -.6M415.8 674.5l-2.6 1.8m.6 -1.1l-.6 1.1 1.2 -.2M415.8 668.5l.1 4m-.7 -1.3l.7 1.3 .6 -1.4M415.8 662.6l-2.5 3.1m.4 -1.5l-.4 1.5 1.4 -.6M415.8 656.6l-.3 3.1m-.4 -1.1l.4 1.1 .6 -1M423.4 841.4l-2.3 2.2m.4 -1.1l-.4 1.1 1.2 -.4M423.4 835.4l-3.3 2.3m.8 -1.3l-.8 1.3 1.5 -.2M423.4 829.5l-1.5 3.1m0 -1.3l0 1.3 1 -.8M423.4 823.5l-2.5 1.7m.6 -1l-.6 1 1.1 -.2M423.4 817.6l-3 2.7m.6 -1.4l-.6 1.4 1.5 -.4M423.4 811.6l-2 2.4m.3 -1.1l-.3 1.1 1.1 -.5M423.4 805.6l-2.8 2.5m.5 -1.3l-.5 1.3 1.4 -.4M423.4 799.7l-1.8 2.3m.2 -1.1l-.2 1.1 1 -.5M423.4 793.7l.5 2.9m-.6 -.9l.6 .9 .3 -1.1M423.4 787.7l-3 2.5m.6 -1.4l-.6 1.4 1.4 -.4M423.4 781.8l-.1 3.7m-.6 -1.3l.6 1.3 .6 -1.2M423.4 775.8l-2.4 3.4m.3 -1.6l-.3 1.6 1.4 -.8M423.4 769.9l-3 2.9m.5 -1.5l-.5 1.5 1.5 -.5M423.4 763.9l.4 3.2m-.7 -1l.7 1 .4 -1.2M423.4 757.9l-2 2.1m.4 -1l-.4 1 1 -.4M423.4 752l-3.9 1.5m1.1 -1.1l-1.1 1.1 1.6 .2M423.4 746l-.3 3.1m-.4 -1.1l.4 1.1 .6 -1M423.4 740.1l-3.9 .2m1.3 -.7l-1.3 .7 1.4 .6M423.4 734.1l-2.7 3m.4 -1.5l-.4 1.5 1.4 -.6M423.4 728.1l-2.6 2m.6 -1.1l-.6 1.1 1.2 -.2M423.4 722.2l-1.5 2.6m.1 -1.1l-.1 1.1 .9 -.6M423.4 716.2l-2.5 3.8m.2 -1.7l-.2 1.7 1.5 -.9M423.4 710.3l-3.2 .6m1 -.7l-1 .7 1.2 .3M423.4 704.3l-1.4 2.7m0 -1.1l0 1.1 .9 -.7M423.4 698.3l-.4 4.2m-.6 -1.5l.6 1.5 .8 -1.4M423.4 692.4l-2.9 2.2m.6 -1.2l-.6 1.2 1.3 -.3M423.4 686.4l-2.8 2.1m.6 -1.2l-.6 1.2 1.3 -.2M423.4 680.4l-2.6 3.2m.4 -1.5l-.4 1.5 1.4 -.7M423.4 674.5l-1.8 2.2m.3 -1.1l-.3 1.1 1 -.5M423.4 668.5l-2.7 .9m.8 -.8l-.8 .8 1.1 .1M423.4 662.6l-3.7 -.4m1.4 -.5l-1.4 .5 1.2 .8M423.4 656.6l-1.8 4m0 -1.7l0 1.7 1.3 -1.1M430.9 841.4l-2.5 2.6m.4 -1.3l-.4 1.3 1.3 -.5M430.9 835.4l-2.9 .5m.9 -.7l-.9 .7 1.1 .3M430.9 829.5l-2.5 2.9m.4 -1.4l-.4 1.4 1.3 -.6M430.9 823.5l-2.6 2.6m.4 -1.3l-.4 1.3 1.3 -.5M430.9 817.6l-.4 4.4m-.6 -1.6l.6 1.6 .9 -1.4M430.9 811.6l-.3 4.5m-.6 -1.6l.6 1.6 .9 -1.5M430.9 805.6l-4.3 -.7m1.6 -.5l-1.6 .5 1.4 .9M430.9 799.7l-2.1 2.7m.3 -1.3l-.3 1.3 1.1 -.6M430.9 793.7l-2.8 1m.8 -.8l-.8 .8 1.1 .1M430.9 787.7l-3.6 2.4m.8 -1.4l-.8 1.4 1.6 -.2M430.9 781.8l.5 2.8m-.6 -.9l.6 .9 .3 -1.1M430.9 775.8l-2.9 .7m.9 -.7l-.9 .7 1.1 .3M430.9 769.9l-3.8 .3m1.3 -.7l-1.3 .7 1.4 .5M430.9 763.9l-.1 3.1m-.5 -1.1l.5 1.1 .6 -1M430.9 757.9l-2.5 1.8m.5 -1l-.5 1 1.1 -.2M430.9 752l.2 3.9m-.7 -1.3l.7 1.3 .6 -1.4M430.9 746l-3.7 2.5m.9 -1.5l-.9 1.5 1.7 -.2M430.9 740.1l-2.5 3.1m.4 -1.5l-.4 1.5 1.4 -.6M430.9 734.1l.7 3.6m-.8 -1.1l.8 1.1 .4 -1.4M430.9 728.1l-.3 3.1m-.4 -1.1l.4 1.1 .6 -1M430.9 722.2l-3.4 1.6m.9 -1.1l-.9 1.1 1.4 0M430.9 716.2l-4 .7m1.3 -.9l-1.3 .9 1.5 .4M430.9 710.3l-.2 4.3m-.6 -1.5l.6 1.5 .8 -1.4M430.9 704.3l.1 3.1m-.5 -1.1l.5 1.1 .5 -1.1M430.9 698.3l-2.8 3m.5 -1.5l-.5 1.5 1.4 -.6M430.9 692.4l-3.5 2.4m.8 -1.4l-.8 1.4 1.6 -.3M430.9 686.4l-1.9 2.5m.3 -1.2l-.3 1.2 1.1 -.5M430.9 680.4l-2.6 3.6m.3 -1.6l-.3 1.6 1.5 -.8M430.9 674.5l-3.2 2.4m.7 -1.4l-.7 1.4 1.5 -.3M430.9 668.5l-1.4 3m0 -1.3l0 1.3 1 -.8M430.9 662.6l-.1 4.4m-.7 -1.5l.7 1.5 .8 -1.5M430.9 656.6l-3 2.3m.6 -1.3l-.6 1.3 1.4 -.3M438.5 841.4l-4.5 -.7m1.7 -.5l-1.7 .5 1.4 1M438.5 835.4l-.5 3.7m-.4 -1.3l.4 1.3 .8 -1.2M438.5 829.5l-1.7 2.6m.1 -1.2l-.1 1.2 1 -.6M438.5 823.5l-3.3 3.2m.6 -1.6l-.6 1.6 1.6 -.5M438.5 817.6l-4 .6m1.3 -.9l-1.3 .9 1.5 .5M438.5 811.6l-2.2 2.2m.4 -1.1l-.4 1.1 1.1 -.4M438.5 805.6l-3.5 .3m1.2 -.7l-1.2 .7 1.3 .5M438.5 799.7l.3 3.6m-.7 -1.2l.7 1.2 .5 -1.3M438.5 793.7l-2.8 3.4m.4 -1.6l-.4 1.6 1.5 -.7M438.5 787.7l-2.1 3.8m.1 -1.6l-.1 1.6 1.3 -.9M438.5 781.8l-3.1 .6m1 -.7l-1 .7 1.2 .3M438.5 775.8l-3 2.6m.6 -1.4l-.6 1.4 1.4 -.4M438.5 769.9l-3.4 1.5m.9 -1.1l-.9 1.1 1.4 .1M438.5 763.9l-3.1 2.9m.6 -1.5l-.6 1.5 1.5 -.5M438.5 757.9l-3.2 .5m1 -.7l-1 .7 1.2 .3M438.5 752l-3.2 2.9m.6 -1.5l-.6 1.5 1.6 -.5M438.5 746l-2.2 3.1m.2 -1.4l-.2 1.4 1.3 -.7M438.5 740.1l-2.2 3.8m.1 -1.7l-.1 1.7 1.4 -.9M438.5 734.1l-2.6 2.9m.4 -1.4l-.4 1.4 1.4 -.5M438.5 728.1l0 3.6m-.6 -1.2l.6 1.2 .6 -1.2M438.5 722.2l-1 3m-.1 -1.2l.1 1.2 .8 -.8M438.5 716.2l-.8 4.1m-.4 -1.5l.4 1.5 1 -1.3M438.5 710.3l-2.3 2.9m.3 -1.4l-.3 1.4 1.3 -.6M438.5 704.3l-.1 3.7m-.6 -1.3l.6 1.3 .6 -1.2M438.5 698.3l-4.3 .7m1.4 -.9l-1.4 .9 1.6 .5M438.5 692.4l-.4 3m-.4 -1.1l.4 1.1 .6 -.9M438.5 686.4l-4.1 -.4m1.5 -.5l-1.5 .5 1.3 .8M438.5 680.4l-3.2 2.2m.7 -1.3l-.7 1.3 1.5 -.2M438.5 674.5l-3.4 1.5m.9 -1.1l-.9 1.1 1.4 0M438.5 668.5l.1 3.1m-.5 -1.1l.5 1.1 .5 -1.1M438.5 662.6l-.8 4.4m-.4 -1.7l.4 1.7 1 -1.4M438.5 656.6l-4.2 1m1.3 -1l-1.3 1 1.6 .4M446 841.4l-3.7 1.6m1 -1.2l-1 1.2 1.5 .1M446 835.4l-.6 3.6m-.4 -1.3l.4 1.3 .8 -1.1M446 829.5l-.3 4.3m-.6 -1.5l.6 1.5 .8 -1.4M446 823.5l.3 4.5m-.8 -1.5l.8 1.5 .6 -1.6M446 817.6l-2.5 2.5m.4 -1.3l-.4 1.3 1.3 -.4M446 811.6l-2 2.5m.3 -1.2l-.3 1.2 1.1 -.5M446 805.6l-.7 3.9m-.4 -1.4l.4 1.4 .9 -1.2M446 799.7l-2.2 3.9m.1 -1.7l-.1 1.7 1.4 -1M446 793.7l-2.4 1.7m.5 -1l-.5 1 1.1 -.2M446 787.7l-4.2 .6m1.3 -.9l-1.3 .9 1.5 .5M446 781.8l-.5 3.2m-.3 -1.2l.3 1.2 .7 -1M446 775.8l-2.6 2.6m.5 -1.3l-.5 1.3 1.3 -.5M446 769.9l-3.8 2.1m.9 -1.3l-.9 1.3 1.6 -.1M446 763.9l-3.8 2.3m.9 -1.4l-.9 1.4 1.7 -.2M446 757.9l-.2 3.2m-.5 -1.1l.5 1.1 .6 -1.1M446 752l-1.5 2.6m.1 -1.1l-.1 1.1 1 -.6M446 746l-.5 4.1m-.5 -1.5l.5 1.5 .9 -1.3M446 740.1l-2.4 1.9m.5 -1.1l-.5 1.1 1.1 -.3M446 734.1l-4.2 -.2m1.5 -.6l-1.5 .6 1.4 .8M446 728.1l-.4 4.2m-.6 -1.5l.6 1.5 .8 -1.4M446 722.2l.4 4.1m-.8 -1.3l.8 1.3 .5 -1.5M446 716.2l.1 4.1m-.7 -1.4l.7 1.4 .7 -1.4M446 710.3l-2.9 2.6m.6 -1.4l-.6 1.4 1.4 -.4M446 704.3l-2.7 2.2m.6 -1.2l-.6 1.2 1.3 -.3M446 698.3l-4.1 1.5m1.2 -1.2l-1.2 1.2 1.7 .2M446 692.4l-3.3 2.9m.7 -1.5l-.7 1.5 1.6 -.4M446 686.4l-2.8 2.1m.6 -1.2l-.6 1.2 1.3 -.2M446 680.4l-1.8 2.6m.2 -1.2l-.2 1.2 1 -.6M446 674.5l-4.3 -.9m1.6 -.4l-1.6 .4 1.3 1M446 668.5l-3.4 .1m1.2 -.6l-1.2 .6 1.2 .5M446 662.6l-2.7 2.4m.5 -1.3l-.5 1.3 1.3 -.4M446 656.6l-3.1 .6m1 -.7l-1 .7 1.2 .3M453.6 841.4l-1.7 2.6m.2 -1.2l-.2 1.2 1 -.6M453.6 835.4l-.3 3.1m-.4 -1.1l.4 1.1 .6 -1M453.6 829.5l-1.5 3.1m0 -1.3l0 1.3 1 -.8M453.6 823.5l-3.1 2.7m.6 -1.4l-.6 1.4 1.5 -.4M453.6 817.6l-2.1 2.8m.3 -1.3l-.3 1.3 1.2 -.6M453.6 811.6l-2.3 2.2m.4 -1.1l-.4 1.1 1.1 -.4M453.6 805.6l-3.2 2.7m.6 -1.5l-.6 1.5 1.5 -.4M453.6 799.7l-2.9 2.5m.6 -1.3l-.6 1.3 1.4 -.4M453.6 793.7l-4.1 -.5m1.5 -.5l-1.5 .5 1.3 .8M453.6 787.7l-2.8 1m.8 -.8l-.8 .8 1.1 .1M453.6 781.8l-3 3.2m.5 -1.6l-.5 1.6 1.5 -.6M453.6 775.8l-3.2 2m.8 -1.2l-.8 1.2 1.4 -.1M453.6 769.9l-4.2 .9m1.3 -1l-1.3 1 1.6 .4M453.6 763.9l-3.5 .6m1.1 -.8l-1.1 .8 1.3 .4M453.6 757.9l-2.4 1.8m.5 -1l-.5 1 1.1 -.2M453.6 752l-3.6 2.6m.8 -1.5l-.8 1.5 1.7 -.3M453.6 746l-2.6 2.1m.5 -1.2l-.5 1.2 1.2 -.3M453.6 740.1l-2.4 3.2m.3 -1.5l-.3 1.5 1.4 -.7M453.6 734.1l-2.3 2m.5 -1.1l-.5 1.1 1.1 -.3M453.6 728.1l-4.2 .7m1.3 -.9l-1.3 .9 1.6 .4M453.6 722.2l-2.8 3.4m.4 -1.6l-.4 1.6 1.5 -.7M453.6 716.2l-2.5 1.8m.5 -1l-.5 1 1.2 -.2M453.6 710.3l-3.1 2.1m.7 -1.2l-.7 1.2 1.4 -.2M453.6 704.3l-2.3 3m.3 -1.4l-.3 1.4 1.3 -.6M453.6 698.3l-2.3 2.9m.3 -1.4l-.3 1.4 1.3 -.6M453.6 692.4l-2.6 2.7m.4 -1.3l-.4 1.3 1.3 -.5M453.6 686.4l-3.2 .8m1 -.8l-1 .8 1.2 .3M453.6 680.4l-1.3 2.6m0 -1.1l0 1.1 .9 -.7M453.6 674.5l-3.4 .6m1.1 -.7l-1.1 .7 1.2 .4M453.6 668.5l-2.9 2.9m.5 -1.5l-.5 1.5 1.5 -.5M453.6 662.6l-2.9 3.2m.5 -1.6l-.5 1.6 1.5 -.6M453.6 656.6l-3.2 -.4m1.2 -.4l-1.2 .4 1 .7M461.2 841.4l-2.5 2.4m.5 -1.2l-.5 1.2 1.2 -.4M461.2 835.4l.4 3.5m-.7 -1.1l.7 1.1 .4 -1.3M461.2 829.5l-3.7 1m1.1 -.9l-1.1 .9 1.4 .3M461.2 823.5l-3.2 1.9m.8 -1.2l-.8 1.2 1.4 -.1M461.2 817.6l-2.1 2.5m.3 -1.2l-.3 1.2 1.1 -.5M461.2 811.6l-2.7 2.9m.4 -1.4l-.4 1.4 1.4 -.6M461.2 805.6l-2.5 3.3m.3 -1.5l-.3 1.5 1.4 -.7M461.2 799.7l-2.6 2.8m.4 -1.4l-.4 1.4 1.4 -.5M461.2 793.7l-3.8 1.5m1.1 -1.1l-1.1 1.1 1.6 .1M461.2 787.7l-1.6 3.8m-.1 -1.6l.1 1.6 1.2 -1M461.2 781.8l-2.5 2.9m.4 -1.4l-.4 1.4 1.3 -.6M461.2 775.8l-3 3.4m.5 -1.7l-.5 1.7 1.6 -.7M461.2 769.9l-2.4 2.9m.3 -1.4l-.3 1.4 1.3 -.6M461.2 763.9l-2.8 1.2m.8 -.9l-.8 .9 1.1 .1M461.2 757.9l-2.7 3.6m.3 -1.7l-.3 1.7 1.5 -.8M461.2 752l.6 4m-.9 -1.3l.9 1.3 .5 -1.5M461.2 746l-2.7 2.5m.5 -1.3l-.5 1.3 1.4 -.4M461.2 740.1l-2.6 2.5m.5 -1.3l-.5 1.3 1.3 -.4M461.2 734.1l-2.7 3m.4 -1.5l-.4 1.5 1.4 -.6M461.2 728.1l-3.2 2.6m.7 -1.4l-.7 1.4 1.5 -.3M461.2 722.2l-3.4 .1m1.1 -.6l-1.1 .6 1.2 .5M461.2 716.2l-2.2 3.5m.2 -1.6l-.2 1.6 1.3 -.8M461.2 710.3l-1.9 2.4m.3 -1.1l-.3 1.1 1.1 -.5M461.2 704.3l-3.1 1.9m.8 -1.1l-.8 1.1 1.4 -.1M461.2 698.3l.2 3.5m-.6 -1.2l.6 1.2 .5 -1.2M461.2 692.4l-3.7 .9m1.1 -.9l-1.1 .9 1.4 .3M461.2 686.4l-.3 3.6m-.5 -1.3l.5 1.3 .7 -1.2M461.2 680.4l-3.1 .7m.9 -.8l-.9 .8 1.2 .3M461.2 674.5l-2.6 3m.4 -1.4l-.4 1.4 1.4 -.6M461.2 668.5l-1.6 2.9m.1 -1.3l-.1 1.3 1.1 -.7M461.2 662.6l-3.5 2.4m.8 -1.4l-.8 1.4 1.6 -.2M461.2 656.6l-1.4 4.1m-.2 -1.6l.2 1.6 1.2 -1.2M468.7 841.4l.3 2.9m-.6 -.9l.6 .9 .4 -1.1M468.7 835.4l-3.9 .7m1.2 -.9l-1.2 .9 1.5 .4M468.7 829.5l-2.8 2.4m.6 -1.3l-.6 1.3 1.3 -.3M468.7 823.5l-2.4 3m.3 -1.4l-.3 1.4 1.3 -.6M468.7 817.6l-3.9 .3m1.3 -.8l-1.3 .8 1.4 .5M468.7 811.6l-3.4 1.9m.9 -1.2l-.9 1.2 1.5 -.1M468.7 805.6l-3.7 1.3m1.1 -1.1l-1.1 1.1 1.5 .2M468.7 799.7l-2.6 3.3m.3 -1.6l-.3 1.6 1.4 -.7M468.7 793.7l-2 2.7m.2 -1.3l-.2 1.3 1.1 -.6M468.7 787.7l.1 4.1m-.7 -1.4l.7 1.4 .6 -1.4M468.7 781.8l-4 -.4m1.4 -.5l-1.4 .5 1.3 .8M468.7 775.8l-2.5 2m.5 -1.1l-.5 1.1 1.2 -.3M468.7 769.9l-3.2 .4m1 -.7l-1 .7 1.2 .4M468.7 763.9l-2.9 .9m.8 -.8l-.8 .8 1.1 .2M468.7 757.9l-3.6 -.3m1.3 -.5l-1.3 .5 1.2 .7M468.7 752l-2.3 2.3m.4 -1.2l-.4 1.2 1.2 -.4M468.7 746l-2.9 3.1m.5 -1.5l-.5 1.5 1.5 -.6M468.7 740.1l-3.1 2.2m.7 -1.3l-.7 1.3 1.4 -.2M468.7 734.1l-4 -.4m1.5 -.5l-1.5 .5 1.3 .8M468.7 728.1l0 3.3m-.6 -1.1l.6 1.1 .5 -1.1M468.7 722.2l-3.5 1.4m1 -1l-1 1 1.4 .1M468.7 716.2l-2.3 3.3m.2 -1.5l-.2 1.5 1.3 -.8M468.7 710.3l-2.3 1.7m.5 -1l-.5 1 1.1 -.2M468.7 704.3l-.3 3.1m-.4 -1.1l.4 1.1 .6 -1M468.7 698.3l-1.9 2.2m.3 -1.1l-.3 1.1 1 -.4M468.7 692.4l-3 3.3m.5 -1.6l-.5 1.6 1.6 -.6M468.7 686.4l-2.7 2.6m.5 -1.3l-.5 1.3 1.4 -.4M468.7 680.4l0 3.1m-.5 -1.1l.5 1.1 .5 -1.1M468.7 674.5l-1.9 2.7m.2 -1.2l-.2 1.2 1.1 -.6M468.7 668.5l.3 3.4m-.7 -1.1l.7 1.1 .5 -1.2M468.7 662.6l-.5 3m-.3 -1.1l.3 1.1 .7 -.9M468.7 656.6l.5 4.2m-.9 -1.3l.9 1.3 .5 -1.5M476.3 841.4l.5 4.4m-.9 -1.4l.9 1.4 .5 -1.6M476.3 835.4l-3.6 2.5m.8 -1.4l-.8 1.4 1.6 -.2M476.3 829.5l-2.6 2.3m.5 -1.2l-.5 1.2 1.3 -.4M476.3 823.5l-2.7 3.6m.3 -1.7l-.3 1.7 1.5 -.8M476.3 817.6l-3 -.1m1 -.5l-1 .5 1 .5M476.3 811.6l-2.6 2m.6 -1.1l-.6 1.1 1.2 -.2M476.3 805.6l.2 2.9m-.6 -1l.6 1 .4 -1M476.3 799.7l-1.9 2.8m.2 -1.3l-.2 1.3 1.1 -.6M476.3 793.7l-2 3.2m.2 -1.4l-.2 1.4 1.2 -.8M476.3 787.7l-2.5 3.6m.3 -1.7l-.3 1.7 1.5 -.8M476.3 781.8l-2.6 3.6m.3 -1.6l-.3 1.6 1.5 -.8M476.3 775.8l-2.1 2.4m.3 -1.2l-.3 1.2 1.1 -.5M476.3 769.9l.1 3m-.5 -1l.5 1 .5 -1M476.3 763.9l-3.2 -.1m1.1 -.5l-1.1 .5 1.1 .6M476.3 757.9l-3 2.9m.6 -1.5l-.6 1.5 1.5 -.5M476.3 752l-.6 3.6m-.4 -1.3l.4 1.3 .8 -1.1M476.3 746l-3.2 3.2m.6 -1.6l-.6 1.6 1.6 -.6M476.3 740.1l-3.6 .1m1.2 -.6l-1.2 .6 1.3 .5M476.3 734.1l-4.2 .9m1.3 -1l-1.3 1 1.6 .4M476.3 728.1l-2.3 3.1m.3 -1.4l-.3 1.4 1.3 -.7M476.3 722.2l.3 3.1m-.6 -1l.6 1 .4 -1.1M476.3 716.2l-4.5 .1m1.5 -.8l-1.5 .8 1.6 .7M476.3 710.3l-3.1 1.1m.9 -.9l-.9 .9 1.2 .1M476.3 704.3l-3.2 -.3m1.1 -.4l-1.1 .4 1 .6M476.3 698.3l-2 2.6m.3 -1.2l-.3 1.2 1.1 -.5M476.3 692.4l-2.8 2.7m.5 -1.4l-.5 1.4 1.4 -.4M476.3 686.4l-2.5 3.7m.2 -1.7l-.2 1.7 1.5 -.8M476.3 680.4l.3 3.8m-.7 -1.2l.7 1.2 .5 -1.3M476.3 674.5l-3.1 1m.9 -.8l-.9 .8 1.2 .2M476.3 668.5l-3.7 2.1m.9 -1.3l-.9 1.3 1.6 -.1M476.3 662.6l-2.3 2.3m.4 -1.2l-.4 1.2 1.2 -.4M476.3 656.6l-.1 4.5m-.7 -1.6l.7 1.6 .8 -1.5M483.9 841.4l-1.5 3.4m0 -1.4l0 1.4 1.1 -.9M483.9 835.4l-3.9 -.6m1.4 -.4l-1.4 .4 1.2 .9M483.9 829.5l-3.8 .7m1.2 -.9l-1.2 .9 1.4 .4M483.9 823.5l-4.1 -.1m1.4 -.7l-1.4 .7 1.4 .7M483.9 817.6l.7 4.4m-1 -1.4l1 1.4 .5 -1.6M483.9 811.6l-3 2.3m.7 -1.3l-.7 1.3 1.4 -.3M483.9 805.6l-2.9 2.7m.6 -1.4l-.6 1.4 1.4 -.4M483.9 799.7l-2.7 2.5m.5 -1.3l-.5 1.3 1.3 -.4M483.9 793.7l-4.4 -.4m1.6 -.6l-1.6 .6 1.4 .8M483.9 787.7l.3 4.1m-.8 -1.3l.8 1.3 .6 -1.4M483.9 781.8l-4 .1m1.3 -.7l-1.3 .7 1.4 .6M483.9 775.8l-2.6 1.9m.6 -1.1l-.6 1.1 1.2 -.2M483.9 769.9l-.3 4.5m-.6 -1.6l.6 1.6 .8 -1.5M483.9 763.9l-3.4 -.4m1.2 -.4l-1.2 .4 1.1 .7M483.9 757.9l.5 4.2m-.9 -1.4l.9 1.4 .5 -1.5M483.9 752l-3.6 1.1m1 -1l-1 1 1.4 .2M483.9 746l-3.9 2.1m1 -1.4l-1 1.4 1.7 -.1M483.9 740.1l-.7 3.8m-.4 -1.4l.4 1.4 .9 -1.2M483.9 734.1l-3.1 2.1m.7 -1.2l-.7 1.2 1.4 -.2M483.9 728.1l-2.1 2.9m.2 -1.3l-.2 1.3 1.2 -.6M483.9 722.2l-2.3 3.2m.3 -1.5l-.3 1.5 1.3 -.7M483.9 716.2l-2.9 2.6m.6 -1.4l-.6 1.4 1.4 -.4M483.9 710.3l-4.2 .1m1.4 -.7l-1.4 .7 1.5 .7M483.9 704.3l-3.7 1.8m1 -1.2l-1 1.2 1.6 0M483.9 698.3l-1.4 2.6m.1 -1.1l-.1 1.1 .9 -.7M483.9 692.4l.6 3.2m-.7 -1l.7 1 .3 -1.2M483.9 686.4l-1.5 2.8m.1 -1.2l-.1 1.2 1 -.7M483.9 680.4l-2.4 3.2m.3 -1.5l-.3 1.5 1.3 -.7M483.9 674.5l-3.6 .5m1.1 -.8l-1.1 .8 1.3 .4M483.9 668.5l-3.2 2.1m.7 -1.3l-.7 1.3 1.5 -.2M483.9 662.6l.2 4.2m-.8 -1.4l.8 1.4 .6 -1.5M483.9 656.6l-2.4 3.2m.3 -1.5l-.3 1.5 1.4 -.7M491.4 841.4l-2.3 3.2m.2 -1.5l-.2 1.5 1.3 -.7M491.4 835.4l-3 3.4m.5 -1.7l-.5 1.7 1.6 -.7M491.4 829.5l-1.2 2.7m0 -1.1l0 1.1 .9 -.7M491.4 823.5l-2.8 1.8m.6 -1.1l-.6 1.1 1.2 -.2M491.4 817.6l-.8 4.3m-.4 -1.6l.4 1.6 1 -1.3M491.4 811.6l-3.4 -.5m1.3 -.4l-1.3 .4 1.1 .7M491.4 805.6l-3.6 2.7m.8 -1.5l-.8 1.5 1.7 -.3M491.4 799.7l-3.8 2.1m.9 -1.4l-.9 1.4 1.7 -.1M491.4 793.7l-.6 3.9m-.5 -1.4l.5 1.4 .8 -1.2M491.4 787.7l-2.1 3m.2 -1.4l-.2 1.4 1.2 -.7M491.4 781.8l-.4 4.4m-.6 -1.6l.6 1.6 .8 -1.4M491.4 775.8l-1.8 2.2m.3 -1.1l-.3 1.1 1 -.5M491.4 769.9l-3 3.2m.5 -1.6l-.5 1.6 1.6 -.6M491.4 763.9l-1.4 3.4m-.1 -1.4l.1 1.4 1 -.9M491.4 757.9l-3.6 1.8m.9 -1.2l-.9 1.2 1.5 0M491.4 752l-1.2 2.9m-.1 -1.2l.1 1.2 .9 -.8M491.4 746l.4 3.4m-.7 -1.1l.7 1.1 .4 -1.2M491.4 740.1l-2.4 3.1m.3 -1.5l-.3 1.5 1.3 -.7M491.4 734.1l-3.3 2.9m.7 -1.5l-.7 1.5 1.6 -.4M491.4 728.1l.4 3.3m-.7 -1.1l.7 1.1 .4 -1.2M491.4 722.2l-2.8 2.5m.5 -1.3l-.5 1.3 1.4 -.4M491.4 716.2l-2.5 3.7m.3 -1.7l-.3 1.7 1.5 -.8M491.4 710.3l-3.1 2.7m.6 -1.5l-.6 1.5 1.5 -.4M491.4 704.3l-1.9 2.5m.2 -1.2l-.2 1.2 1 -.5M491.4 698.3l-2.3 3.4m.2 -1.6l-.2 1.6 1.4 -.8M491.4 692.4l-3.7 .3m1.2 -.7l-1.2 .7 1.3 .5M491.4 686.4l-.3 3.7m-.5 -1.3l.5 1.3 .7 -1.2M491.4 680.4l-2.5 3.6m.2 -1.6l-.2 1.6 1.4 -.8M491.4 674.5l-1.8 2.5m.2 -1.1l-.2 1.1 1 -.5M491.4 668.5l-2 2.8m.2 -1.3l-.2 1.3 1.1 -.6M491.4 662.6l-3.4 2.4m.8 -1.4l-.8 1.4 1.6 -.3M491.4 656.6l-1.7 4.1m-.1 -1.7l.1 1.7 1.3 -1.1M499 841.4l-3 3.4m.5 -1.7l-.5 1.7 1.6 -.7M499 835.4l-1.9 2.6m.2 -1.2l-.2 1.2 1.1 -.6M499 829.5l-3.1 1.4m.8 -1l-.8 1 1.3 .1M499 823.5l-2.4 2.5m.4 -1.2l-.4 1.2 1.2 -.4M499 817.6l-2.5 1.8m.5 -1l-.5 1 1.1 -.2M499 811.6l-3.3 3.1m.6 -1.6l-.6 1.6 1.6 -.5M499 805.6l-1.9 3.7m0 -1.6l0 1.6 1.3 -1M499 799.7l-3.2 2.3m.7 -1.3l-.7 1.3 1.5 -.3M499 793.7l-3.4 2.6m.7 -1.5l-.7 1.5 1.6 -.3M499 787.7l-3.2 3.2m.5 -1.6l-.5 1.6 1.6 -.6M499 781.8l-2 2.7m.2 -1.3l-.2 1.3 1.1 -.6M499 775.8l-3.6 -.1m1.3 -.6l-1.3 .6 1.2 .6M499 769.9l-2.5 2.2m.5 -1.2l-.5 1.2 1.2 -.3M499 763.9l-2.2 2.7m.3 -1.3l-.3 1.3 1.2 -.6M499 757.9l-1.8 2.7m.2 -1.2l-.2 1.2 1.1 -.6M499 752l-2.6 2m.6 -1.1l-.6 1.1 1.2 -.2M499 746l-2.3 2.1m.4 -1.1l-.4 1.1 1.1 -.3M499 740.1l.5 4.5m-.9 -1.5l.9 1.5 .6 -1.6M499 734.1l-2.7 2.5m.5 -1.3l-.5 1.3 1.3 -.4M499 728.1l-3.2 2.5m.7 -1.4l-.7 1.4 1.5 -.3M499 722.2l-2.8 .4m.9 -.6l-.9 .6 1 .3M499 716.2l-3.3 2.7m.7 -1.5l-.7 1.5 1.6 -.4M499 710.3l.1 3.3m-.6 -1.1l.6 1.1 .5 -1.1M499 704.3l-.3 4.5m-.6 -1.6l.6 1.6 .9 -1.5M499 698.3l-3.1 1.7m.8 -1.1l-.8 1.1 1.4 -.1M499 692.4l.7 3.4m-.8 -1.1l.8 1.1 .3 -1.3M499 686.4l-3.1 -.3m1.1 -.4l-1.1 .4 1 .6M499 680.4l-3.8 .1m1.3 -.7l-1.3 .7 1.3 .6M499 674.5l-2.3 2.5m.4 -1.2l-.4 1.2 1.2 -.5M499 668.5l-3.2 .5m1 -.7l-1 .7 1.2 .4M499 662.6l-2.1 2.9m.2 -1.4l-.2 1.4 1.2 -.7M499 656.6l-4 1.5m1.1 -1.2l-1.1 1.2 1.6 .1M506.5 841.4l-1.8 2.8m.2 -1.3l-.2 1.3 1.1 -.7M506.5 835.4l-1 2.9m-.1 -1.1l.1 1.1 .8 -.8M506.5 829.5l-1.8 3.1m.1 -1.4l-.1 1.4 1.1 -.8M506.5 823.5l-2.6 3.5m.3 -1.6l-.3 1.6 1.5 -.8M506.5 817.6l-3.3 .7m1 -.8l-1 .8 1.2 .3M506.5 811.6l.3 3.7m-.7 -1.2l.7 1.2 .5 -1.3M506.5 805.6l-2.3 2.2m.4 -1.1l-.4 1.1 1.2 -.4M506.5 799.7l-2.9 .1m1 -.5l-1 .5 1 .5M506.5 793.7l-2.2 2.6m.3 -1.2l-.3 1.2 1.2 -.5M506.5 787.7l-2 3.7m.1 -1.6l-.1 1.6 1.3 -.9M506.5 781.8l.1 4.3m-.7 -1.4l.7 1.4 .7 -1.5M506.5 775.8l-3.2 2.2m.7 -1.3l-.7 1.3 1.5 -.2M506.5 769.9l-3.9 0m1.3 -.7l-1.3 .7 1.3 .6M506.5 763.9l-2.5 3.2m.3 -1.5l-.3 1.5 1.4 -.7M506.5 757.9l.6 3.1m-.7 -1l.7 1 .3 -1.2M506.5 752l-2.9 2.9m.5 -1.5l-.5 1.5 1.5 -.5M506.5 746l-2.5 2m.5 -1.1l-.5 1.1 1.2 -.3M506.5 740.1l-3.2 .8m1 -.8l-1 .8 1.2 .2M506.5 734.1l-.7 3.6m-.4 -1.4l.4 1.4 .8 -1.1M506.5 728.1l-3.4 .2m1.1 -.6l-1.1 .6 1.2 .5M506.5 722.2l-3.1 .6m1 -.7l-1 .7 1.2 .3M506.5 716.2l-.7 4m-.4 -1.5l.4 1.5 .9 -1.2M506.5 710.3l-3.3 3.1m.6 -1.6l-.6 1.6 1.6 -.5M506.5 704.3l-3.5 2.4m.8 -1.4l-.8 1.4 1.6 -.2M506.5 698.3l-3.3 1.1m.9 -.9l-.9 .9 1.3 .2M506.5 692.4l-.6 3.9m-.4 -1.5l.4 1.5 .9 -1.2M506.5 686.4l-1.9 2.2m.3 -1l-.3 1 1 -.4M506.5 680.4l-3 2.3m.7 -1.3l-.7 1.3 1.4 -.3M506.5 674.5l-2.8 1.9m.6 -1.1l-.6 1.1 1.3 -.2M506.5 668.5l.6 3.8m-.8 -1.2l.8 1.2 .4 -1.4M506.5 662.6l-2.2 2.1m.4 -1.1l-.4 1.1 1.1 -.3M506.5 656.6l-1.9 2.6m.2 -1.2l-.2 1.2 1.1 -.6M514.1 841.4l-2.8 3m.5 -1.5l-.5 1.5 1.4 -.6M514.1 835.4l-2 2.3m.3 -1.1l-.3 1.1 1.1 -.5M514.1 829.5l-1.9 3.8m0 -1.6l0 1.6 1.3 -1M514.1 823.5l-2.5 1.9m.5 -1.1l-.5 1.1 1.2 -.2M514.1 817.6l-1.4 2.7m0 -1.2l0 1.2 .9 -.7M514.1 811.6l-2 2.7m.2 -1.2l-.2 1.2 1.1 -.6M514.1 805.6l-2.2 2.3m.4 -1.2l-.4 1.2 1.1 -.4M514.1 799.7l-3.3 3m.7 -1.6l-.7 1.6 1.6 -.5M514.1 793.7l-2.4 3.2m.3 -1.5l-.3 1.5 1.4 -.7M514.1 787.7l-2.6 2.1m.5 -1.1l-.5 1.1 1.2 -.3M514.1 781.8l.3 4.5m-.8 -1.5l.8 1.5 .7 -1.6M514.1 775.8l.7 3.3m-.8 -1l.8 1 .3 -1.2M514.1 769.9l.6 2.9m-.7 -.9l.7 .9 .3 -1.1M514.1 763.9l-3.1 3.4m.5 -1.7l-.5 1.7 1.6 -.6M514.1 728.1l-3.3 1m1 -.9l-1 .9 1.3 .2M514.1 722.2l-3.9 .7m1.2 -.9l-1.2 .9 1.5 .4M514.1 716.2l-.2 3m-.4 -1.1l.4 1.1 .6 -1M514.1 710.3l0 3.1m-.5 -1.1l.5 1.1 .5 -1M514.1 704.3l-2.2 2.6m.3 -1.3l-.3 1.3 1.2 -.5M514.1 698.3l-3.4 2.5m.8 -1.4l-.8 1.4 1.6 -.3M514.1 692.4l-2.9 1.7m.7 -1.1l-.7 1.1 1.3 -.1M514.1 686.4l-2.4 3.4m.3 -1.6l-.3 1.6 1.4 -.7M514.1 680.4l-2.4 1.8m.5 -1l-.5 1 1.1 -.2M514.1 674.5l-3 .2m1 -.6l-1 .6 1.1 .4M514.1 668.5l-3.5 2.7m.8 -1.5l-.8 1.5 1.7 -.3M514.1 662.6l-1.7 4.1m-.1 -1.7l.1 1.7 1.2 -1.1M514.1 656.6l0 3m-.5 -1l.5 1 .5 -1M521.7 841.4l-.6 3.7m-.4 -1.4l.4 1.4 .8 -1.2M521.7 835.4l-2.8 3.5m.4 -1.7l-.4 1.7 1.6 -.7M521.7 829.5l-2.7 2.1m.6 -1.1l-.6 1.1 1.3 -.3M521.7 823.5l-3 3.4m.5 -1.7l-.5 1.7 1.6 -.7M521.7 817.6l-4.2 1.5m1.2 -1.2l-1.2 1.2 1.7 .2M521.7 811.6l-2.4 3.1m.3 -1.5l-.3 1.5 1.3 -.7M521.7 805.6l.3 4.5m-.8 -1.5l.8 1.5 .6 -1.6M521.7 799.7l.4 3.2m-.7 -1l.7 1 .4 -1.2M521.7 793.7l-3.6 2.7m.8 -1.5l-.8 1.5 1.7 -.3M521.7 787.7l-3.1 .6m1 -.7l-1 .7 1.2 .3M521.7 781.8l-2.8 1.7m.7 -1.1l-.7 1.1 1.3 -.1M521.7 775.8l-2 2.7m.2 -1.2l-.2 1.2 1.1 -.6M521.7 769.9l-2.1 2.8m.3 -1.3l-.3 1.3 1.2 -.6M521.7 722.2l.4 3.6m-.7 -1.2l.7 1.2 .5 -1.3M521.7 716.2l-1.8 4m0 -1.7l0 1.7 1.3 -1.1M521.7 710.3l-2.6 3.5m.3 -1.6l-.3 1.6 1.5 -.8M521.7 704.3l-2.1 2.5m.3 -1.2l-.3 1.2 1.1 -.5M521.7 698.3l-2.5 2.2m.5 -1.2l-.5 1.2 1.2 -.4M521.7 692.4l-2.4 2.7m.4 -1.3l-.4 1.3 1.3 -.5M521.7 686.4l-2.5 1.8m.6 -1l-.6 1 1.2 -.2M521.7 680.4l0 3.2m-.5 -1.1l.5 1.1 .5 -1.1M521.7 674.5l-3 3m.5 -1.5l-.5 1.5 1.5 -.5M521.7 668.5l-2.2 2.6m.3 -1.3l-.3 1.3 1.2 -.5M521.7 662.6l-3.7 2.7m.8 -1.5l-.8 1.5 1.7 -.3M521.7 656.6l-2.2 2.5m.4 -1.2l-.4 1.2 1.2 -.5M529.2 841.4l-2.5 3.3m.3 -1.5l-.3 1.5 1.4 -.7M529.2 835.4l-1.9 4m0 -1.7l0 1.7 1.3 -1.1M529.2 829.5l-4.1 1.4m1.2 -1.2l-1.2 1.2 1.6 .2M529.2 823.5l-3.4 2.3m.8 -1.4l-.8 1.4 1.6 -.2M529.2 817.6l-1.4 3.3m-.1 -1.3l.1 1.3 1 -.9M529.2 811.6l-2.8 1.1m.8 -.8l-.8 .8 1.1 .1M529.2 805.6l-3 2.6m.6 -1.4l-.6 1.4 1.5 -.4M529.2 799.7l-3.1 3.2m.5 -1.6l-.5 1.6 1.6 -.6M529.2 793.7l-2 2.1m.3 -1.1l-.3 1.1 1 -.4M529.2 787.7l-3.9 -.3m1.4 -.5l-1.4 .5 1.3 .7M529.2 781.8l-3.2 2.2m.7 -1.3l-.7 1.3 1.5 -.2M529.2 775.8l.3 3.3m-.6 -1.1l.6 1.1 .4 -1.2M529.2 769.9l-1.1 2.7m-.1 -1.1l.1 1.1 .8 -.8M529.2 722.2l-2.9 2.4m.6 -1.3l-.6 1.3 1.4 -.3M529.2 716.2l0 4.2m-.7 -1.5l.7 1.5 .7 -1.4M529.2 710.3l-.1 4.4m-.7 -1.5l.7 1.5 .7 -1.5M529.2 704.3l.1 4.2m-.7 -1.4l.7 1.4 .7 -1.4M529.2 698.3l-2.5 3m.3 -1.4l-.3 1.4 1.3 -.6M529.2 692.4l-3 2.8m.6 -1.5l-.6 1.5 1.5 -.5M529.2 686.4l-3.1 1.7m.8 -1.1l-.8 1.1 1.4 -.1M529.2 680.4l-2.6 2.1m.5 -1.1l-.5 1.1 1.2 -.3M529.2 674.5l-1.9 2.1m.3 -1l-.3 1 1 -.4M529.2 668.5l-1.2 3.2m-.1 -1.3l.1 1.3 .9 -.9M529.2 662.6l-.2 3m-.4 -1.1l.4 1.1 .6 -1M529.2 656.6l-3.6 2.6m.8 -1.5l-.8 1.5 1.6 -.3M536.8 841.4l-.5 4m-.5 -1.4l.5 1.4 .8 -1.3M536.8 835.4l-3.1 2.5m.6 -1.4l-.6 1.4 1.5 -.4M536.8 829.5l-.3 3.7m-.5 -1.3l.5 1.3 .7 -1.2M536.8 823.5l-3.2 1.1m.9 -.9l-.9 .9 1.3 .2M536.8 817.6l-3.5 -.6m1.3 -.4l-1.3 .4 1.1 .8M536.8 811.6l-3.6 2.6m.8 -1.5l-.8 1.5 1.6 -.3M536.8 805.6l-2.2 2.7m.3 -1.3l-.3 1.3 1.2 -.6M536.8 799.7l.6 3.5m-.8 -1.1l.8 1.1 .4 -1.3M536.8 793.7l-4.5 .7m1.4 -1l-1.4 1 1.7 .5M536.8 787.7l.2 3.7m-.7 -1.2l.7 1.2 .5 -1.3M536.8 781.8l-2 3.9m.1 -1.7l-.1 1.7 1.3 -1M536.8 775.8l-1.8 2.4m.2 -1.1l-.2 1.1 1 -.5M536.8 769.9l-2.5 2.1m.5 -1.1l-.5 1.1 1.2 -.3M536.8 722.2l-3.3 -.1m1.2 -.5l-1.2 .5 1.1 .6M536.8 716.2l-1.7 2.3m.2 -1.1l-.2 1.1 1 -.5M536.8 710.3l-2.3 1.8m.5 -1l-.5 1 1.1 -.2M536.8 704.3l.1 3.4m-.6 -1.1l.6 1.1 .5 -1.2M536.8 698.3l.6 4.1m-.9 -1.3l.9 1.3 .5 -1.5M536.8 692.4l-3.2 2.2m.7 -1.3l-.7 1.3 1.4 -.2M536.8 686.4l-2.4 2.2m.5 -1.2l-.5 1.2 1.2 -.4M536.8 680.4l-1 2.9m-.1 -1.2l.1 1.2 .8 -.8M536.8 674.5l-4.5 .6m1.4 -.9l-1.4 .9 1.6 .5M536.8 668.5l-1.8 2.9m.1 -1.3l-.1 1.3 1.1 -.7M536.8 662.6l-2.9 .9m.9 -.8l-.9 .8 1.2 .2M536.8 656.6l-2.1 3.5m.2 -1.5l-.2 1.5 1.3 -.8M544.3 841.4l-3 1.3m.8 -.9l-.8 .9 1.2 .1M544.3 835.4l-2.8 1.5m.7 -1l-.7 1 1.2 -.1M544.3 829.5l-4.5 -.9m1.7 -.4l-1.7 .4 1.4 1M544.3 823.5l-.3 3.7m-.5 -1.3l.5 1.3 .7 -1.2M544.3 817.6l-3.8 -.7m1.4 -.4l-1.4 .4 1.2 .9M544.3 811.6l-1.7 2.5m.2 -1.1l-.2 1.1 1 -.6M544.3 805.6l.4 3.1m-.6 -1l.6 1 .4 -1.1M544.3 799.7l-1.3 3m0 -1.2l0 1.2 .9 -.8M544.3 793.7l-2.8 2.8m.5 -1.4l-.5 1.4 1.4 -.5M544.3 787.7l0 3.8m-.6 -1.3l.6 1.3 .6 -1.3M544.3 781.8l-1.8 2.5m.2 -1.2l-.2 1.2 1 -.6M544.3 775.8l-3 1.5m.8 -1l-.8 1 1.3 0M544.3 769.9l-.3 3.6m-.5 -1.3l.5 1.3 .7 -1.2M544.3 722.2l-3.5 .3m1.1 -.7l-1.1 .7 1.2 .5M544.3 716.2l-3.2 2.4m.7 -1.4l-.7 1.4 1.5 -.3M544.3 710.3l-1.6 3.1m.1 -1.3l-.1 1.3 1.1 -.8M544.3 704.3l-1.4 3.3m-.1 -1.4l.1 1.4 1 -.9M544.3 698.3l.1 4m-.7 -1.3l.7 1.3 .6 -1.4M544.3 692.4l-3.8 2.5m.9 -1.5l-.9 1.5 1.7 -.2M544.3 686.4l-3.7 .6m1.2 -.8l-1.2 .8 1.4 .4M544.3 680.4l-3.1 2.2m.7 -1.3l-.7 1.3 1.4 -.2M544.3 674.5l-2.9 2.7m.6 -1.4l-.6 1.4 1.4 -.4M544.3 668.5l.6 3.8m-.8 -1.2l.8 1.2 .4 -1.4M544.3 662.6l-2.2 2.6m.3 -1.2l-.3 1.2 1.2 -.5M544.3 656.6l-3.3 1.9m.8 -1.2l-.8 1.2 1.5 -.1M551.9 841.4l-4.4 .5m1.4 -.9l-1.4 .9 1.6 .6M551.9 835.4l-2.4 2m.5 -1.1l-.5 1.1 1.2 -.3M551.9 829.5l-1.7 2.5m.2 -1.1l-.2 1.1 1 -.6M551.9 823.5l-2.4 1.7m.5 -1l-.5 1 1.1 -.2M551.9 817.6l-2.8 2.2m.6 -1.2l-.6 1.2 1.3 -.3M551.9 811.6l-3.5 .1m1.2 -.6l-1.2 .6 1.2 .5M551.9 805.6l-3 1.3m.8 -.9l-.8 .9 1.2 .1M551.9 799.7l-1.9 2.6m.2 -1.2l-.2 1.2 1.1 -.6M551.9 793.7l-1.8 2.4m.2 -1.1l-.2 1.1 1 -.5M551.9 787.7l.5 4m-.8 -1.3l.8 1.3 .5 -1.5M551.9 781.8l-4 1.9m1 -1.3l-1 1.3 1.7 0M551.9 775.8l-3.1 2.1m.7 -1.2l-.7 1.2 1.4 -.2M551.9 769.9l.1 3.8m-.7 -1.3l.7 1.3 .6 -1.3M551.9 728.1l-4 .2m1.4 -.7l-1.4 .7 1.4 .6M551.9 722.2l-2.9 .5m.9 -.7l-.9 .7 1.1 .3M551.9 716.2l-3.6 2.6m.8 -1.5l-.8 1.5 1.7 -.3M551.9 710.3l-2.3 2.9m.3 -1.4l-.3 1.4 1.2 -.6M551.9 704.3l-1.7 3.6m0 -1.5l0 1.5 1.2 -1M551.9 698.3l.1 3.5m-.6 -1.2l.6 1.2 .5 -1.2M551.9 692.4l-3.6 1.4m1 -1.1l-1 1.1 1.5 .1M551.9 686.4l-2.1 2.9m.2 -1.3l-.2 1.3 1.2 -.6M551.9 680.4l-3 2.3m.6 -1.3l-.6 1.3 1.4 -.3M551.9 674.5l-2.6 3.2m.4 -1.5l-.4 1.5 1.4 -.7M551.9 668.5l-2.2 2m.4 -1l-.4 1 1.1 -.3M551.9 662.6l-3.2 2.8m.6 -1.5l-.6 1.5 1.6 -.4M551.9 656.6l-2.5 1.7m.6 -1l-.6 1 1.2 -.2M559.5 841.4l-2.8 2.2m.6 -1.2l-.6 1.2 1.3 -.3M559.5 835.4l-3.1 2.2m.7 -1.3l-.7 1.3 1.4 -.3M559.5 829.5l-1.4 2.9m0 -1.2l0 1.2 .9 -.8M559.5 823.5l-1.9 2.4m.3 -1.1l-.3 1.1 1 -.5M559.5 817.6l-2.6 2.3m.5 -1.2l-.5 1.2 1.3 -.3M559.5 811.6l-.3 2.9m-.4 -1l.4 1 .6 -.9M559.5 805.6l-1.4 3.5m-.1 -1.4l.1 1.4 1.1 -1M559.5 799.7l-3.2 3.3m.5 -1.6l-.5 1.6 1.6 -.6M559.5 793.7l-3.3 1.2m.9 -1l-.9 1 1.3 .1M559.5 787.7l-1.9 2.2m.3 -1.1l-.3 1.1 1 -.5M559.5 781.8l-1.8 2.3m.3 -1.1l-.3 1.1 1 -.5M559.5 775.8l-3 -.2m1.1 -.4l-1.1 .4 1 .6M559.5 769.9l-3.1 2.5m.7 -1.4l-.7 1.4 1.5 -.4M559.5 763.9l-2.6 3.3m.3 -1.6l-.3 1.6 1.4 -.7M559.5 734.1l-3.3 2.8m.7 -1.5l-.7 1.5 1.6 -.4M559.5 728.1l-2.6 2.1m.6 -1.2l-.6 1.2 1.3 -.3M559.5 722.2l.3 4.4m-.8 -1.5l.8 1.5 .6 -1.6M559.5 716.2l-3.5 2.5m.8 -1.4l-.8 1.4 1.6 -.3M559.5 710.3l-3.1 2.3m.7 -1.3l-.7 1.3 1.5 -.3M559.5 704.3l-2.8 3.2m.4 -1.5l-.4 1.5 1.5 -.6M559.5 698.3l.2 4.3m-.8 -1.5l.8 1.5 .7 -1.5M559.5 692.4l-4.1 -.2m1.4 -.6l-1.4 .6 1.4 .8M559.5 686.4l-2.7 1.2m.7 -.9l-.7 .9 1.1 0M559.5 680.4l-2.7 3.3m.4 -1.6l-.4 1.6 1.4 -.7M559.5 674.5l.3 3.3m-.6 -1.1l.6 1.1 .5 -1.2M559.5 668.5l-2.9 3m.5 -1.5l-.5 1.5 1.5 -.6M559.5 662.6l-.6 3.8m-.4 -1.4l.4 1.4 .8 -1.2M559.5 656.6l.7 4.4m-1 -1.4l1 1.4 .5 -1.6M567 841.4l-3.5 2.5m.8 -1.4l-.8 1.4 1.6 -.3M567 835.4l-2.4 2.8m.4 -1.4l-.4 1.4 1.3 -.6M567 829.5l-.3 3.9m-.5 -1.4l.5 1.4 .8 -1.3M567 823.5l-2.9 2.2m.6 -1.2l-.6 1.2 1.4 -.3M567 817.6l.3 3.8m-.7 -1.3l.7 1.3 .5 -1.4M567 811.6l-.4 3.8m-.5 -1.4l.5 1.4 .8 -1.3M567 805.6l-2 2.6m.3 -1.2l-.3 1.2 1.1 -.6M567 799.7l-3 .5m1 -.7l-1 .7 1.1 .3M567 793.7l-.1 3.1m-.5 -1.1l.5 1.1 .5 -1M567 787.7l-.3 4.5m-.6 -1.6l.6 1.6 .9 -1.5M567 781.8l-2.9 -.3m1 -.4l-1 .4 1 .6M567 775.8l-2.9 .6m.9 -.7l-.9 .7 1.1 .3M567 769.9l-2.4 3.5m.3 -1.6l-.3 1.6 1.4 -.8M567 763.9l.7 3.7m-.8 -1.2l.8 1.2 .4 -1.4M567 757.9l-4.3 .5m1.4 -.9l-1.4 .9 1.6 .5M567 752l-2.3 3.2m.3 -1.5l-.3 1.5 1.3 -.7M567 746l-2.3 2.2m.4 -1.1l-.4 1.1 1.2 -.4M567 740.1l-2.9 2.3m.6 -1.3l-.6 1.3 1.4 -.3M567 734.1l-1.8 3.7m0 -1.6l0 1.6 1.2 -.9M567 728.1l-2.3 2.9m.3 -1.4l-.3 1.4 1.3 -.6M567 722.2l-2.6 2.1m.6 -1.1l-.6 1.1 1.2 -.3M567 716.2l-4.2 1m1.3 -1l-1.3 1 1.6 .3M567 710.3l-3.8 2.2m.9 -1.4l-.9 1.4 1.7 -.1M567 704.3l-2.9 .5m.9 -.7l-.9 .7 1.1 .3M567 698.3l-1.9 2.7m.2 -1.2l-.2 1.2 1.1 -.6M567 692.4l-.2 3.8m-.6 -1.3l.6 1.3 .7 -1.3M567 686.4l-2.8 2.5m.5 -1.3l-.5 1.3 1.4 -.4M567 680.4l-.4 4m-.5 -1.4l.5 1.4 .8 -1.3M567 674.5l-.1 2.9m-.4 -1l.4 1 .5 -1M567 668.5l-2 3.3m.1 -1.5l-.1 1.5 1.2 -.8M567 662.6l-4.1 .6m1.3 -.9l-1.3 .9 1.5 .5M567 656.6l-4.2 1.2m1.2 -1.1l-1.2 1.1 1.6 .3M574.6 841.4l.3 3.6m-.7 -1.2l.7 1.2 .5 -1.3M574.6 835.4l-.5 3.8m-.5 -1.4l.5 1.4 .8 -1.2M574.6 829.5l-3.8 -.3m1.3 -.5l-1.3 .5 1.2 .7M574.6 823.5l0 3.3m-.6 -1.1l.6 1.1 .5 -1.1M574.6 817.6l-4 .6m1.3 -.9l-1.3 .9 1.5 .4M574.6 811.6l-3.4 2.4m.8 -1.4l-.8 1.4 1.6 -.3M574.6 805.6l-3.4 2.9m.7 -1.5l-.7 1.5 1.6 -.4M574.6 799.7l-3.5 .6m1.1 -.8l-1.1 .8 1.3 .4M574.6 793.7l.3 3.9m-.7 -1.3l.7 1.3 .5 -1.4M574.6 787.7l-2.4 2.8m.4 -1.3l-.4 1.3 1.3 -.5M574.6 781.8l-.3 4.2m-.6 -1.5l.6 1.5 .8 -1.4M574.6 775.8l-2.5 3.5m.3 -1.6l-.3 1.6 1.5 -.8M574.6 769.9l-2.5 3m.3 -1.4l-.3 1.4 1.3 -.6M574.6 763.9l-4.5 .2m1.5 -.8l-1.5 .8 1.6 .7M574.6 757.9l-3 1.6m.8 -1l-.8 1 1.3 0M574.6 752l-3.2 .9m.9 -.8l-.9 .8 1.3 .2M574.6 746l-.7 3.4m-.3 -1.3l.3 1.3 .8 -1.1M574.6 740.1l-3.6 .9m1.1 -.9l-1.1 .9 1.4 .3M574.6 734.1l-1.8 3.7m0 -1.6l0 1.6 1.2 -1M574.6 728.1l-2.4 3m.3 -1.4l-.3 1.4 1.3 -.6M574.6 722.2l-2.6 2.4m.5 -1.2l-.5 1.2 1.3 -.4M574.6 716.2l-3.4 .6m1.1 -.8l-1.1 .8 1.3 .4M574.6 710.3l-4.2 -.1m1.4 -.6l-1.4 .6 1.4 .7M574.6 704.3l-.5 3.3m-.4 -1.2l.4 1.2 .7 -1.1M574.6 698.3l-.3 3.8m-.5 -1.3l.5 1.3 .7 -1.2M574.6 692.4l-1.7 2.3m.2 -1.1l-.2 1.1 1 -.5M574.6 686.4l.2 2.9m-.6 -1l.6 1 .4 -1M574.6 680.4l-4.3 .3m1.4 -.8l-1.4 .8 1.5 .6M574.6 674.5l-2.6 3.3m.3 -1.5l-.3 1.5 1.4 -.7M574.6 668.5l-3 3.4m.5 -1.7l-.5 1.7 1.6 -.7M574.6 662.6l-3.3 1.7m.8 -1.1l-.8 1.1 1.4 -.1M574.6 656.6l-3.3 2.6m.7 -1.4l-.7 1.4 1.5 -.3M582.1 841.4l-2.5 3.5m.3 -1.6l-.3 1.6 1.4 -.8M582.1 835.4l-2.2 2.1m.4 -1.1l-.4 1.1 1.1 -.3M582.1 829.5l0 3.6m-.6 -1.2l.6 1.2 .6 -1.2M582.1 823.5l-3.9 -.6m1.4 -.4l-1.4 .4 1.2 .9M582.1 817.6l-2 2.3m.3 -1.1l-.3 1.1 1.1 -.5M582.1 811.6l-3 2.7m.6 -1.4l-.6 1.4 1.5 -.5M582.1 805.6l-2 2.5m.3 -1.2l-.3 1.2 1.1 -.5M582.1 799.7l-.1 4.3m-.7 -1.5l.7 1.5 .8 -1.4M582.1 793.7l-3.7 -.3m1.3 -.5l-1.3 .5 1.2 .7M582.1 787.7l-1.6 4.2m-.1 -1.7l.1 1.7 1.3 -1.2M582.1 781.8l-2.9 2.2m.6 -1.2l-.6 1.2 1.4 -.3M582.1 775.8l-3.4 1.5m.9 -1.1l-.9 1.1 1.4 .1M582.1 769.9l-1.4 3.2m-.1 -1.3l.1 1.3 1 -.9M582.1 763.9l-2.6 2.4m.5 -1.2l-.5 1.2 1.3 -.4M582.1 757.9l-3.6 0m1.2 -.6l-1.2 .6 1.2 .6M582.1 752l-2.7 2.7m.5 -1.4l-.5 1.4 1.4 -.5M582.1 746l-1.6 3.4m0 -1.4l0 1.4 1.1 -.9M582.1 740.1l-3.3 3m.6 -1.6l-.6 1.6 1.6 -.5M582.1 734.1l-3.5 2.6m.8 -1.5l-.8 1.5 1.6 -.3M582.1 728.1l-3.7 1m1.1 -.9l-1.1 .9 1.4 .3M582.1 722.2l-2.8 3.1m.5 -1.5l-.5 1.5 1.5 -.6M582.1 716.2l-3.2 1.2m.9 -.9l-.9 .9 1.3 .1M582.1 710.3l-2.5 3.3m.3 -1.5l-.3 1.5 1.4 -.7M582.1 704.3l-3.3 .7m1 -.8l-1 .8 1.2 .3M582.1 698.3l-4.3 .4m1.4 -.8l-1.4 .8 1.5 .6M582.1 692.4l-2 2.6m.2 -1.2l-.2 1.2 1.1 -.6M582.1 686.4l-.1 2.9m-.4 -1l.4 1 .5 -1M582.1 680.4l-4 2.1m1 -1.4l-1 1.4 1.7 -.1M582.1 674.5l-.5 3.9m-.5 -1.4l.5 1.4 .8 -1.3M582.1 668.5l-3.9 -.5m1.4 -.5l-1.4 .5 1.2 .8M582.1 662.6l-.5 3.6m-.4 -1.3l.4 1.3 .8 -1.1M582.1 656.6l-4.4 -.6m1.6 -.5l-1.6 .5 1.4 .9M589.7 841.4l-3.4 .6m1.1 -.8l-1.1 .8 1.3 .4M589.7 835.4l.1 4.2m-.7 -1.4l.7 1.4 .7 -1.5M589.7 829.5l-2.9 3.3m.4 -1.6l-.4 1.6 1.5 -.7M589.7 823.5l-3.2 2.2m.8 -1.3l-.8 1.3 1.5 -.2M589.7 817.6l-2.3 2.3m.4 -1.1l-.4 1.1 1.1 -.4M589.7 811.6l-.5 2.8m-.3 -1l.3 1 .6 -.9M589.7 805.6l-1.4 3.4m-.1 -1.4l.1 1.4 1 -.9M589.7 799.7l-.5 4.4m-.6 -1.6l.6 1.6 .9 -1.4M589.7 793.7l-2.3 2.7m.3 -1.3l-.3 1.3 1.2 -.5M589.7 787.7l-3.3 -.1m1.1 -.5l-1.1 .5 1.1 .6M589.7 781.8l-2.2 2.9m.3 -1.3l-.3 1.3 1.2 -.6M589.7 775.8l-4.2 .4m1.4 -.8l-1.4 .8 1.5 .5M589.7 769.9l-3.3 3.1m.6 -1.6l-.6 1.6 1.6 -.5M589.7 763.9l-2.4 3.3m.3 -1.5l-.3 1.5 1.4 -.7M589.7 757.9l-2.9 3m.5 -1.5l-.5 1.5 1.5 -.6M589.7 752l-3 2.1m.7 -1.2l-.7 1.2 1.4 -.2M589.7 746l-2.2 2.5m.3 -1.2l-.3 1.2 1.1 -.5M589.7 740.1l.2 3.1m-.6 -1l.6 1 .5 -1.1M589.7 734.1l-2.4 2.5m.4 -1.2l-.4 1.2 1.2 -.4M589.7 728.1l-2 2.7m.2 -1.2l-.2 1.2 1.1 -.6M589.7 722.2l-2 2.7m.2 -1.2l-.2 1.2 1.1 -.6M589.7 716.2l-3 1.3m.8 -1l-.8 1 1.2 0M589.7 710.3l-3.2 2.3m.7 -1.3l-.7 1.3 1.5 -.3M589.7 704.3l-2.9 1.5m.7 -1l-.7 1 1.2 0M589.7 698.3l-1.8 2.4m.2 -1.1l-.2 1.1 1 -.5M589.7 692.4l-.2 4.5m-.7 -1.6l.7 1.6 .8 -1.5M589.7 686.4l-2 2.6m.3 -1.2l-.3 1.2 1.1 -.6M589.7 680.4l-2.2 3.1m.2 -1.4l-.2 1.4 1.2 -.7M589.7 674.5l-.1 3.4m-.5 -1.2l.5 1.2 .6 -1.2M589.7 668.5l-2.4 1.8m.5 -1l-.5 1 1.1 -.2M589.7 662.6l-2 2.7m.2 -1.2l-.2 1.2 1.1 -.6M589.7 656.6l-1.1 3.1m-.2 -1.3l.2 1.3 .9 -.9M597.3 841.4l-4.2 .3m1.4 -.8l-1.4 .8 1.5 .6M597.3 835.4l.7 3.7m-.9 -1.1l.9 1.1 .4 -1.4M597.3 829.5l-3.1 1.3m.8 -1l-.8 1 1.3 .1M597.3 823.5l-2.4 2.3m.4 -1.2l-.4 1.2 1.2 -.4M597.3 817.6l.2 3.3m-.6 -1.1l.6 1.1 .5 -1.2M597.3 811.6l-.4 4m-.5 -1.4l.5 1.4 .8 -1.3M597.3 805.6l-4.3 .7m1.3 -1l-1.3 1 1.6 .5M597.3 799.7l-4.4 .9m1.4 -1l-1.4 1 1.7 .4M597.3 793.7l-4 .5m1.3 -.8l-1.3 .8 1.5 .5M597.3 787.7l0 3.1m-.5 -1l.5 1 .5 -1.1M597.3 781.8l-.3 3m-.4 -1.1l.4 1.1 .6 -1M597.3 775.8l-2.2 2.1m.4 -1.1l-.4 1.1 1.1 -.3M597.3 769.9l-2.3 2.1m.4 -1.1l-.4 1.1 1.1 -.3M597.3 763.9l.6 3.6m-.8 -1.1l.8 1.1 .4 -1.3M597.3 757.9l-3 -.2m1 -.4l-1 .4 1 .6M597.3 752l-3.2 3.1m.6 -1.6l-.6 1.6 1.6 -.5M597.3 746l-1.8 3.9m0 -1.6l0 1.6 1.3 -1M597.3 740.1l-3.4 .5m1.1 -.7l-1.1 .7 1.2 .4M597.3 734.1l-4 1.7m1.1 -1.2l-1.1 1.2 1.6 .1M597.3 728.1l-1.5 3.9m-.1 -1.6l.1 1.6 1.2 -1.1M597.3 722.2l-3.1 1.5m.8 -1l-.8 1 1.3 0M597.3 716.2l-2.8 3.6m.4 -1.7l-.4 1.7 1.5 -.8M597.3 710.3l-2.4 2.9m.4 -1.4l-.4 1.4 1.3 -.6M597.3 704.3l.1 4m-.7 -1.4l.7 1.4 .6 -1.4M597.3 698.3l-3.3 .9m1 -.9l-1 .9 1.3 .2M597.3 692.4l-2.8 2.1m.6 -1.2l-.6 1.2 1.3 -.3M597.3 686.4l-1.9 3.3m.1 -1.4l-.1 1.4 1.2 -.8M597.3 680.4l-3.7 1m1.1 -1l-1.1 1 1.4 .3M597.3 674.5l-.5 3.7m-.5 -1.4l.5 1.4 .8 -1.2M597.3 668.5l-3 2.3m.7 -1.3l-.7 1.3 1.4 -.3M597.3 662.6l-.2 3.4m-.5 -1.2l.5 1.2 .6 -1.1M597.3 656.6l.2 3.9m-.7 -1.3l.7 1.3 .6 -1.4M604.8 841.4l-1.8 2.6m.2 -1.2l-.2 1.2 1 -.6M604.8 835.4l-.4 3.6m-.4 -1.3l.4 1.3 .7 -1.1M604.8 829.5l.7 4.3m-1 -1.4l1 1.4 .5 -1.6M604.8 823.5l-3.6 1.4m1 -1.1l-1 1.1 1.5 .1M604.8 817.6l-3.7 1.6m1 -1.1l-1 1.1 1.5 .1M604.8 811.6l.5 3.4m-.7 -1.1l.7 1.1 .4 -1.2M604.8 805.6l-.7 3.7m-.4 -1.4l.4 1.4 .9 -1.1M604.8 799.7l-4.2 -.3m1.5 -.6l-1.5 .6 1.4 .8M604.8 793.7l-.5 4.2m-.5 -1.5l.5 1.5 .9 -1.3M604.8 787.7l-2.5 2.5m.4 -1.3l-.4 1.3 1.3 -.5M604.8 781.8l-2.2 1.9m.4 -1l-.4 1 1.1 -.3M604.8 775.8l-3.2 1.5m.8 -1l-.8 1 1.3 0M604.8 769.9l-1.6 2.4m.2 -1.1l-.2 1.1 .9 -.6M604.8 763.9l-1.5 4.1m-.2 -1.6l.2 1.6 1.2 -1.1M604.8 757.9l-1.3 3m0 -1.2l0 1.2 .9 -.8M604.8 752l-2.4 3.3m.3 -1.5l-.3 1.5 1.4 -.7M604.8 746l-3.1 2.3m.7 -1.3l-.7 1.3 1.4 -.3M604.8 740.1l-3.9 1.5m1.1 -1.2l-1.1 1.2 1.6 .1M604.8 734.1l-2.2 3.3m.2 -1.5l-.2 1.5 1.3 -.8M604.8 728.1l-2.4 3.5m.2 -1.6l-.2 1.6 1.4 -.8M604.8 722.2l.2 4.4m-.8 -1.5l.8 1.5 .7 -1.6M604.8 716.2l-3.7 2m1 -1.3l-1 1.3 1.6 -.1M604.8 710.3l-3.2 .1m1.1 -.5l-1.1 .5 1.1 .5M604.8 704.3l-2.1 2.4m.3 -1.2l-.3 1.2 1.1 -.5M604.8 698.3l-2 3.4m.1 -1.5l-.1 1.5 1.3 -.8M604.8 692.4l-.4 3.3m-.4 -1.2l.4 1.2 .7 -1.1M604.8 686.4l-3.5 .4m1.1 -.7l-1.1 .7 1.3 .4M604.8 680.4l-2.4 1.8m.5 -1l-.5 1 1.1 -.2M604.8 674.5l-3.5 -.1m1.2 -.5l-1.2 .5 1.2 .6M604.8 668.5l-2.3 2.2m.4 -1.1l-.4 1.1 1.1 -.4M604.8 662.6l-3.6 -.6m1.3 -.4l-1.3 .4 1.1 .8M604.8 656.6l-2.4 3.5m.2 -1.6l-.2 1.6 1.4 -.8M612.4 841.4l-2.1 2.6m.3 -1.2l-.3 1.2 1.2 -.5M612.4 835.4l-1.8 3.3m.1 -1.4l-.1 1.4 1.1 -.8M612.4 829.5l-2.9 1.6m.7 -1l-.7 1 1.3 -.1M612.4 823.5l-3.5 -.1m1.2 -.5l-1.2 .5 1.2 .6M612.4 817.6l-2.7 3.5m.3 -1.6l-.3 1.6 1.5 -.8M612.4 811.6l-4.4 .7m1.4 -1l-1.4 1 1.6 .5M612.4 805.6l-2.4 2.4m.4 -1.2l-.4 1.2 1.2 -.4M612.4 799.7l-2.2 2.8m.3 -1.3l-.3 1.3 1.2 -.6M612.4 793.7l-1.7 2.7m.1 -1.2l-.1 1.2 1 -.6M612.4 787.7l-2.6 3.6m.3 -1.7l-.3 1.7 1.5 -.8M612.4 781.8l.5 3.1m-.7 -1l.7 1 .4 -1.2M612.4 775.8l-3.3 1.5m.9 -1l-.9 1 1.4 0M612.4 769.9l-2.5 3.3m.3 -1.6l-.3 1.6 1.4 -.7M612.4 763.9l-.6 3.2m-.3 -1.2l.3 1.2 .7 -1M612.4 757.9l-3.4 1m1 -.9l-1 .9 1.3 .2M612.4 752l.3 3.4m-.7 -1.1l.7 1.1 .5 -1.2M612.4 746l.8 4.1m-1 -1.3l1 1.3 .4 -1.5M612.4 740.1l-3.1 -.4m1.1 -.4l-1.1 .4 1 .6M612.4 734.1l.7 4.4m-1 -1.4l1 1.4 .5 -1.6M612.4 728.1l-1.8 2.6m.2 -1.2l-.2 1.2 1 -.6M612.4 722.2l-3.2 2.3m.7 -1.3l-.7 1.3 1.5 -.3M612.4 716.2l-4.5 -.3m1.6 -.6l-1.6 .6 1.5 .8M612.4 710.3l-2.5 1.9m.5 -1.1l-.5 1.1 1.2 -.2M612.4 704.3l-2.2 3.2m.2 -1.5l-.2 1.5 1.3 -.7M612.4 698.3l.1 4.1m-.7 -1.4l.7 1.4 .7 -1.4M612.4 692.4l-.1 3.5m-.6 -1.2l.6 1.2 .6 -1.2M612.4 686.4l-2.3 2.3m.4 -1.2l-.4 1.2 1.2 -.4M612.4 680.4l.6 4.2m-.9 -1.4l.9 1.4 .5 -1.5M612.4 674.5l-2.4 1.9m.5 -1l-.5 1 1.1 -.3M612.4 668.5l.4 4.4m-.9 -1.4l.9 1.4 .6 -1.6M612.4 662.6l-.3 3.9m-.5 -1.4l.5 1.4 .8 -1.3M612.4 656.6l-3 2.4m.7 -1.3l-.7 1.3 1.4 -.3M620 841.4l-1.7 2.3m.2 -1.1l-.2 1.1 1 -.5M620 835.4l-3.2 1.6m.9 -1.1l-.9 1.1 1.4 0M620 829.5l.6 4m-.8 -1.3l.8 1.3 .5 -1.4M620 823.5l-.7 3.8m-.4 -1.4l.4 1.4 .9 -1.2M620 817.6l-2.2 2.5m.3 -1.2l-.3 1.2 1.2 -.5M620 811.6l-1.8 3.1m.1 -1.3l-.1 1.3 1.1 -.7M620 805.6l-3.8 -.6m1.4 -.4l-1.4 .4 1.2 .8M620 799.7l-2.3 2.7m.4 -1.3l-.4 1.3 1.2 -.5M620 793.7l-2.4 2.8m.4 -1.4l-.4 1.4 1.3 -.6M620 787.7l.7 4.5m-1 -1.4l1 1.4 .5 -1.7M620 781.8l-.6 3.7m-.4 -1.4l.4 1.4 .8 -1.2M620 775.8l-1.2 3.5m-.2 -1.4l.2 1.4 1 -1M620 769.9l-.2 3.3m-.5 -1.2l.5 1.2 .6 -1.1M620 763.9l-3.5 .6m1.1 -.8l-1.1 .8 1.3 .4M620 757.9l-2.3 2.8m.3 -1.3l-.3 1.3 1.2 -.6M620 752l-2.5 2.2m.5 -1.2l-.5 1.2 1.2 -.3M620 746l-3.4 1.5m.9 -1.1l-.9 1.1 1.4 .1M620 740.1l.4 3m-.6 -1l.6 1 .4 -1.1M620 734.1l-1.5 3.1m0 -1.3l0 1.3 1 -.8M620 728.1l-2 2.3m.3 -1.1l-.3 1.1 1.1 -.4M620 722.2l-3.9 .6m1.2 -.9l-1.2 .9 1.4 .4M620 716.2l-2.6 2.2m.5 -1.2l-.5 1.2 1.2 -.3M620 710.3l-2.8 3.2m.5 -1.5l-.5 1.5 1.5 -.6M620 704.3l-1.6 2.4m.2 -1.1l-.2 1.1 1 -.6M620 698.3l-.5 2.8m-.3 -1l.3 1 .6 -.9M620 692.4l-.1 3m-.5 -1l.5 1 .5 -1M620 686.4l-.5 4.2m-.5 -1.5l.5 1.5 .9 -1.3M620 680.4l-2.7 3.6m.3 -1.7l-.3 1.7 1.5 -.8M620 674.5l-2.6 1.4m.7 -.9l-.7 .9 1.1 0M620 668.5l-.2 3.6m-.5 -1.3l.5 1.3 .7 -1.2M620 662.6l-2.2 3.4m.2 -1.5l-.2 1.5 1.3 -.8M620 656.6l-.3 2.9m-.4 -1l.4 1 .6 -1M627.5 841.4l-3.3 2.3m.8 -1.3l-.8 1.3 1.5 -.2M627.5 835.4l-2.1 2.1m.4 -1.1l-.4 1.1 1.1 -.4M627.5 829.5l-4.2 .6m1.3 -.9l-1.3 .9 1.5 .5M627.5 823.5l-2.3 1.7m.5 -1l-.5 1 1.1 -.2M627.5 817.6l-2.4 3.3m.3 -1.5l-.3 1.5 1.4 -.7M627.5 811.6l.6 3.9m-.9 -1.2l.9 1.2 .4 -1.4M627.5 805.6l-1.6 3.2m0 -1.4l0 1.4 1.1 -.8M627.5 799.7l-2.6 2m.5 -1.1l-.5 1.1 1.2 -.3M627.5 793.7l.4 2.9m-.6 -.9l.6 .9 .3 -1.1M627.5 787.7l.3 3m-.6 -1l.6 1 .4 -1.1M627.5 781.8l-2.3 3.2m.3 -1.5l-.3 1.5 1.3 -.7M627.5 775.8l.1 2.9m-.5 -1l.5 1 .4 -1M627.5 769.9l-3.7 .2m1.2 -.7l-1.2 .7 1.3 .5M627.5 763.9l-2.3 2.3m.4 -1.2l-.4 1.2 1.2 -.4M627.5 757.9l-2.3 2.7m.4 -1.3l-.4 1.3 1.2 -.5M627.5 752l-2.8 2.2m.6 -1.2l-.6 1.2 1.3 -.3M627.5 746l.8 4.3m-1 -1.3l1 1.3 .4 -1.6M627.5 740.1l-2.7 2m.6 -1.1l-.6 1.1 1.2 -.3M627.5 734.1l-2.8 1.2m.8 -.9l-.8 .9 1.2 .1M627.5 728.1l-2.9 2.3m.6 -1.3l-.6 1.3 1.4 -.3M627.5 722.2l-1.3 3.7m-.2 -1.5l.2 1.5 1 -1M627.5 716.2l-2.2 2.8m.3 -1.3l-.3 1.3 1.2 -.6M627.5 710.3l.4 3.4m-.7 -1.1l.7 1.1 .4 -1.2M627.5 704.3l-3.3 .3m1.1 -.7l-1.1 .7 1.2 .4M627.5 698.3l-3.1 2.5m.6 -1.4l-.6 1.4 1.5 -.4M627.5 692.4l-4.5 .8m1.4 -1l-1.4 1 1.7 .5M627.5 686.4l-.8 4.4m-.5 -1.6l.5 1.6 1 -1.4M627.5 680.4l-2.1 2.8m.3 -1.3l-.3 1.3 1.2 -.6M627.5 674.5l.2 4.2m-.7 -1.4l.7 1.4 .6 -1.4M627.5 668.5l-3.8 .2m1.3 -.7l-1.3 .7 1.3 .6M627.5 662.6l-4.2 -.7m1.5 -.5l-1.5 .5 1.3 .9M627.5 656.6l-3.8 .6m1.2 -.8l-1.2 .8 1.4 .4M635.1 841.4l-.8 3.9m-.4 -1.5l.4 1.5 .9 -1.2M635.1 835.4l-4 2m1 -1.4l-1 1.4 1.7 0M635.1 829.5l-2.9 2.5m.6 -1.3l-.6 1.3 1.4 -.4M635.1 823.5l.1 3.8m-.7 -1.3l.7 1.3 .6 -1.3M635.1 817.6l-2.6 3.5m.3 -1.6l-.3 1.6 1.5 -.8M635.1 811.6l.3 3.1m-.6 -1l.6 1 .4 -1.1M635.1 805.6l-2.7 3.2m.4 -1.5l-.4 1.5 1.4 -.7M635.1 799.7l-2.5 3.3m.3 -1.5l-.3 1.5 1.4 -.7M635.1 793.7l.1 3.7m-.7 -1.3l.7 1.3 .6 -1.3M635.1 787.7l.3 3.5m-.7 -1.2l.7 1.2 .5 -1.3M635.1 781.8l-.3 3.4m-.5 -1.2l.5 1.2 .7 -1.1M635.1 775.8l-3.7 -.1m1.3 -.6l-1.3 .6 1.2 .6M635.1 769.9l-.5 2.9m-.3 -1.1l.3 1.1 .7 -.9M635.1 763.9l-2.1 3m.2 -1.4l-.2 1.4 1.2 -.7M635.1 757.9l-.4 3.1m-.4 -1.1l.4 1.1 .6 -1M635.1 752l-3.4 2.4m.8 -1.4l-.8 1.4 1.6 -.3M635.1 746l-2.2 2.2m.4 -1.1l-.4 1.1 1.1 -.4M635.1 740.1l-3.7 .4m1.2 -.8l-1.2 .8 1.3 .5M635.1 734.1l-2.7 2.4m.5 -1.3l-.5 1.3 1.3 -.4M635.1 728.1l-3.5 1.4m1 -1.1l-1 1.1 1.4 .1M635.1 722.2l-3.9 .7m1.2 -.9l-1.2 .9 1.5 .4M635.1 716.2l-2 3.2m.1 -1.4l-.1 1.4 1.2 -.8M635.1 710.3l-1.5 2.6m.1 -1.1l-.1 1.1 1 -.6M635.1 704.3l.1 3m-.5 -1l.5 1 .5 -1M635.1 698.3l-.3 4m-.5 -1.4l.5 1.4 .8 -1.3M635.1 692.4l-2.4 1.8m.5 -1l-.5 1 1.1 -.2M635.1 686.4l-2.7 3.2m.4 -1.5l-.4 1.5 1.5 -.6M635.1 680.4l-.7 3.6m-.4 -1.3l.4 1.3 .8 -1.1M635.1 674.5l-3.1 2.4m.7 -1.3l-.7 1.3 1.5 -.3M635.1 668.5l-3 2m.7 -1.2l-.7 1.2 1.4 -.2M635.1 662.6l-.5 3.3m-.4 -1.2l.4 1.2 .7 -1M635.1 656.6l0 3.6m-.6 -1.2l.6 1.2 .6 -1.2M642.6 841.4l-.6 3.2m-.3 -1.2l.3 1.2 .8 -1M642.6 835.4l-.1 3.2m-.5 -1.1l.5 1.1 .6 -1.1M642.6 829.5l-2.4 3.3m.3 -1.5l-.3 1.5 1.4 -.7M642.6 823.5l-3.3 -.1m1.1 -.5l-1.1 .5 1.1 .6M642.6 817.6l-2.7 2m.6 -1.1l-.6 1.1 1.2 -.2M642.6 811.6l-3.8 1m1.1 -1l-1.1 1 1.5 .3M642.6 805.6l-3.3 1.2m.9 -1l-.9 1 1.3 .1M642.6 799.7l-1.9 2.3m.3 -1.1l-.3 1.1 1 -.5M642.6 793.7l-4.5 -.2m1.6 -.7l-1.6 .7 1.5 .8M642.6 787.7l-1.4 2.5m.1 -1.1l-.1 1.1 .9 -.6M642.6 781.8l-3.7 1.9m1 -1.2l-1 1.2 1.6 0M642.6 775.8l-2.3 2.8m.3 -1.3l-.3 1.3 1.3 -.6M642.6 769.9l-3 2.6m.6 -1.4l-.6 1.4 1.5 -.4M642.6 763.9l-2.6 2.3m.5 -1.2l-.5 1.2 1.3 -.4M642.6 757.9l.4 3.7m-.7 -1.2l.7 1.2 .5 -1.3M642.6 752l-.5 3.8m-.5 -1.4l.5 1.4 .8 -1.2M642.6 746l.8 4.3m-1 -1.3l1 1.3 .4 -1.6M642.6 740.1l-2.6 3m.4 -1.5l-.4 1.5 1.4 -.6M642.6 734.1l-.5 4.4m-.5 -1.6l.5 1.6 .9 -1.4M642.6 728.1l-2.4 3.1m.3 -1.5l-.3 1.5 1.3 -.6M642.6 722.2l-3.3 .3m1.1 -.7l-1.1 .7 1.2 .4M642.6 716.2l-2.6 3.5m.3 -1.6l-.3 1.6 1.5 -.8M642.6 710.3l-2.5 2.2m.5 -1.2l-.5 1.2 1.2 -.4M642.6 704.3l-2.4 2m.5 -1.1l-.5 1.1 1.1 -.3M642.6 698.3l-2.2 3.1m.2 -1.4l-.2 1.4 1.3 -.7M642.6 692.4l-2.3 3.9m.2 -1.7l-.2 1.7 1.4 -.9M642.6 686.4l-2.6 1.3m.7 -.9l-.7 .9 1.1 0M642.6 680.4l-4.3 .9m1.3 -1l-1.3 1 1.6 .4M642.6 674.5l-2.8 2.5m.5 -1.3l-.5 1.3 1.4 -.4M642.6 668.5l-2.4 2.4m.4 -1.2l-.4 1.2 1.2 -.4M642.6 662.6l0 3.5m-.6 -1.2l.6 1.2 .6 -1.2M642.6 656.6l-2.1 2.5m.3 -1.2l-.3 1.2 1.1 -.5M650.2 841.4l.2 4.3m-.8 -1.4l.8 1.4 .6 -1.5M650.2 835.4l.6 3.4m-.8 -1.1l.8 1.1 .4 -1.3M650.2 829.5l-1.4 3m0 -1.3l0 1.3 1 -.8M650.2 823.5l-3 3.4m.5 -1.6l-.5 1.6 1.6 -.7M650.2 817.6l-.1 3.2m-.5 -1.1l.5 1.1 .6 -1.1M650.2 811.6l-2.8 3.5m.4 -1.7l-.4 1.7 1.5 -.7M650.2 805.6l-2.3 1.9m.5 -1l-.5 1 1.1 -.3M650.2 799.7l-2.3 2.5m.4 -1.2l-.4 1.2 1.2 -.5M650.2 793.7l-3.7 -.2m1.3 -.5l-1.3 .5 1.2 .7M650.2 787.7l-2.9 2.4m.6 -1.3l-.6 1.3 1.4 -.4M650.2 781.8l-4.4 -.2m1.5 -.7l-1.5 .7 1.5 .8M650.2 775.8l-2.7 2.7m.5 -1.4l-.5 1.4 1.4 -.5M650.2 769.9l-2.2 2.9m.3 -1.3l-.3 1.3 1.2 -.6M650.2 763.9l-3 2.3m.6 -1.3l-.6 1.3 1.4 -.3M650.2 757.9l.1 3.2m-.6 -1.1l.6 1.1 .5 -1.1M650.2 752l-.6 3.1m-.3 -1.1l.3 1.1 .7 -1M650.2 746l-2.4 3.2m.3 -1.5l-.3 1.5 1.3 -.7M650.2 740.1l-.1 4.6m-.7 -1.6l.7 1.6 .8 -1.5M650.2 734.1l-2.8 2.4m.6 -1.3l-.6 1.3 1.3 -.4M650.2 728.1l-3.1 -.1m1.1 -.5l-1.1 .5 1 .6M650.2 722.2l-1.8 3.2m.1 -1.4l-.1 1.4 1.1 -.8M650.2 716.2l-3.2 2.6m.7 -1.4l-.7 1.4 1.5 -.4M650.2 710.3l-.3 3.6m-.5 -1.3l.5 1.3 .7 -1.2M650.2 704.3l-3.2 .8m1 -.8l-1 .8 1.2 .3M650.2 698.3l-2 3.7m.1 -1.6l-.1 1.6 1.3 -1M650.2 692.4l.2 3.4m-.6 -1.1l.6 1.1 .5 -1.2M650.2 686.4l0 3.4m-.6 -1.2l.6 1.2 .6 -1.2M650.2 680.4l-3.1 3m.6 -1.5l-.6 1.5 1.6 -.5M650.2 674.5l.4 3.5m-.7 -1.1l.7 1.1 .4 -1.3M650.2 668.5l-2.3 1.9m.5 -1l-.5 1 1.1 -.3M650.2 662.6l-2.4 1.8m.5 -1l-.5 1 1.1 -.2M650.2 656.6l-2.4 2.1m.5 -1.1l-.5 1.1 1.2 -.3" stroke="#0072bd" stroke-width="0.55" fill="none" stroke-opacity="0.62"/>
<path d="M514.1 757.9l-2.2 4.1m.1 -1.8l-.1 1.8 1.4 -1M514.1 752l3.4 3.6m-1.7 -.7l1.7 .7 -.6 -1.8M514.1 746l-1.5 -3.7m1.1 1l-1.1 -1 -.1 1.5M514.1 740.1l-2.3 5.3m-.1 -2.2l.1 2.2 1.6 -1.4M514.1 734.1l-2.5 -5m1.7 1.3l-1.7 -1.3 0 2.1M521.7 763.9l4.3 2.9m-2 -.3l2 .3 -1 -1.7M521.7 757.9l3.1 -4.9m-.3 2.2l.3 -2.2 -1.9 1.2M521.7 752l1.3 3.3m-1 -.9l1 .9 .1 -1.3M521.7 740.1l1.4 -5.9m.5 2.3l-.5 -2.3 -1.4 1.8M521.7 734.1l-2.6 4.1m.2 -1.8l-.2 1.8 1.6 -1M521.7 728.1l-2 -6.1m1.7 1.8l-1.7 -1.8 -.3 2.4M529.2 763.9l2.3 -2.6m-.4 1.3l.4 -1.3 -1.2 .5M529.2 757.9l-3.2 5.4m.2 -2.4l-.2 2.4 2 -1.3M529.2 734.1l-3.4 1.8m.9 -1.2l-.9 1.2 1.5 -.1M529.2 728.1l-.3 4.9m-.7 -1.7l.7 1.7 .9 -1.6M536.8 763.9l6.9 -1.4m-2.1 1.6l2.1 -1.6 -2.6 -.7M536.8 734.1l-.9 -6.2m1.4 2l-1.4 -2 -.7 2.3M536.8 728.1l-1.7 -6.2m1.6 1.8l-1.6 -1.8 -.4 2.4M544.3 763.9l-.4 3.9m-.5 -1.4l.5 1.4 .8 -1.3M544.3 757.9l1.1 4.8m-1.2 -1.5l1.2 1.5 .4 -1.8M544.3 734.1l-3 6m0 -2.5l0 2.5 2 -1.6M544.3 728.1l4.4 -.2m-1.5 .8l1.5 -.8 -1.5 -.6M551.9 763.9l-3.9 1.5m1.1 -1.2l-1.1 1.2 1.6 .1M551.9 757.9l2.9 3.9m-1.6 -.9l1.6 .9 -.3 -1.8M551.9 752l2.6 -5.3m0 2.3l0 -2.3 -1.8 1.4M551.9 746l5 -3.1m-1.2 1.9l1.2 -1.9 -2.2 .2M551.9 740.1l-6.1 3.4m1.5 -2.2l-1.5 2.2 2.7 -.1M551.9 734.1l5.2 1.9m-2.1 .2l2.1 -.2 -1.5 -1.5M559.5 757.9l-4.7 -2.1m2 0l-2 0 1.2 1.5M559.5 752l-4.1 -3.1m1.9 .4l-1.9 -.4 .9 1.7M559.5 746l5.6 .9m-2.1 .6l2.1 -.6 -1.8 -1.2M559.5 740.1l-2.3 -2.7m1.2 .6l-1.2 -.6 .3 1.3" stroke="#0072bd" stroke-width="0.55" fill="none" stroke-opacity="0.75"/>
<text x="49.56" y="284.1" class="cl" textLength="23.69" lengthAdjust="spacingAndGlyphs">(a)</text>
<text x="77.45" y="286.1" class="ct" textLength="57.94" lengthAdjust="spacingAndGlyphs">Cancer</text>
<text x="143.69" y="286.1" class="ct" textLength="25.94" lengthAdjust="spacingAndGlyphs">cell</text>
<text x="178.20" y="286.1" class="ct" textLength="84.58" lengthAdjust="spacingAndGlyphs">population</text>
<text x="271.34" y="286.1" class="ct" textLength="8.43" lengthAdjust="spacingAndGlyphs">1</text>
<text x="403.96" y="284.1" class="cl" textLength="24.68" lengthAdjust="spacingAndGlyphs">(b)</text>
<text x="432.15" y="286.1" class="ct" textLength="57.94" lengthAdjust="spacingAndGlyphs">Cancer</text>
<text x="498.39" y="286.1" class="ct" textLength="25.94" lengthAdjust="spacingAndGlyphs">cell</text>
<text x="532.91" y="286.1" class="ct" textLength="84.88" lengthAdjust="spacingAndGlyphs">population</text>
<text x="626.33" y="286.1" class="ct" textLength="7.86" lengthAdjust="spacingAndGlyphs">2</text>
<text x="46.96" y="597.6" class="cl" textLength="22.37" lengthAdjust="spacingAndGlyphs">(c)</text>
<text x="78.45" y="596.9" class="ct" textLength="42.24" lengthAdjust="spacingAndGlyphs">Fibre</text>
<text x="126.61" y="596.9" class="ct" textLength="86.20" lengthAdjust="spacingAndGlyphs">magnitude</text>
<text x="221.35" y="596.9" class="ct" textLength="56.29" lengthAdjust="spacingAndGlyphs">density</text>
<text x="381.96" y="595.4" class="cl" textLength="24.68" lengthAdjust="spacingAndGlyphs">(d)</text>
<text x="415.29" y="596.9" class="ct" textLength="83.25" lengthAdjust="spacingAndGlyphs">Non-fibres</text>
<text x="506.98" y="596.9" class="ct" textLength="41.07" lengthAdjust="spacingAndGlyphs">ECM</text>
<text x="557.94" y="596.9" class="ct" textLength="94.36" lengthAdjust="spacingAndGlyphs">distribution</text>
<text x="0.46" y="911.9" class="cl" textLength="22.48" lengthAdjust="spacingAndGlyphs">(e)</text>
<text x="31.55" y="912.3" class="ct" textLength="41.74" lengthAdjust="spacingAndGlyphs">Fibre</text>
<text x="80.48" y="912.3" class="ct" textLength="48.52" lengthAdjust="spacingAndGlyphs">vector</text>
<text x="137.14" y="912.3" class="ct" textLength="33.27" lengthAdjust="spacingAndGlyphs">field</text>
<text x="178.45" y="912.3" class="ct" textLength="6.28" lengthAdjust="spacingAndGlyphs">-</text>
<text x="192.16" y="912.3" class="ct" textLength="78.25" lengthAdjust="spacingAndGlyphs">coarsened</text>
<text x="279.93" y="912.3" class="ct" textLength="8.49" lengthAdjust="spacingAndGlyphs">2</text>
<text x="295.04" y="912.3" class="ct" textLength="29.97" lengthAdjust="spacingAndGlyphs">fold</text>
<text x="352.04" y="911.5" class="cl" textLength="20.73" lengthAdjust="spacingAndGlyphs">(f)</text>
<text x="385.05" y="912.3" class="ct" textLength="41.74" lengthAdjust="spacingAndGlyphs">Fibre</text>
<text x="433.98" y="912.3" class="ct" textLength="48.52" lengthAdjust="spacingAndGlyphs">vector</text>
<text x="490.64" y="912.3" class="ct" textLength="33.27" lengthAdjust="spacingAndGlyphs">field</text>
<text x="531.95" y="912.3" class="ct" textLength="6.28" lengthAdjust="spacingAndGlyphs">-</text>
<text x="545.65" y="912.3" class="ct" textLength="79.16" lengthAdjust="spacingAndGlyphs">coarsened</text>
<text x="632.70" y="912.3" class="ct" textLength="8.44" lengthAdjust="spacingAndGlyphs">4</text>
<text x="648.33" y="912.3" class="ct" textLength="30.67" lengthAdjust="spacingAndGlyphs">fold</text>
</svg></body></html>
